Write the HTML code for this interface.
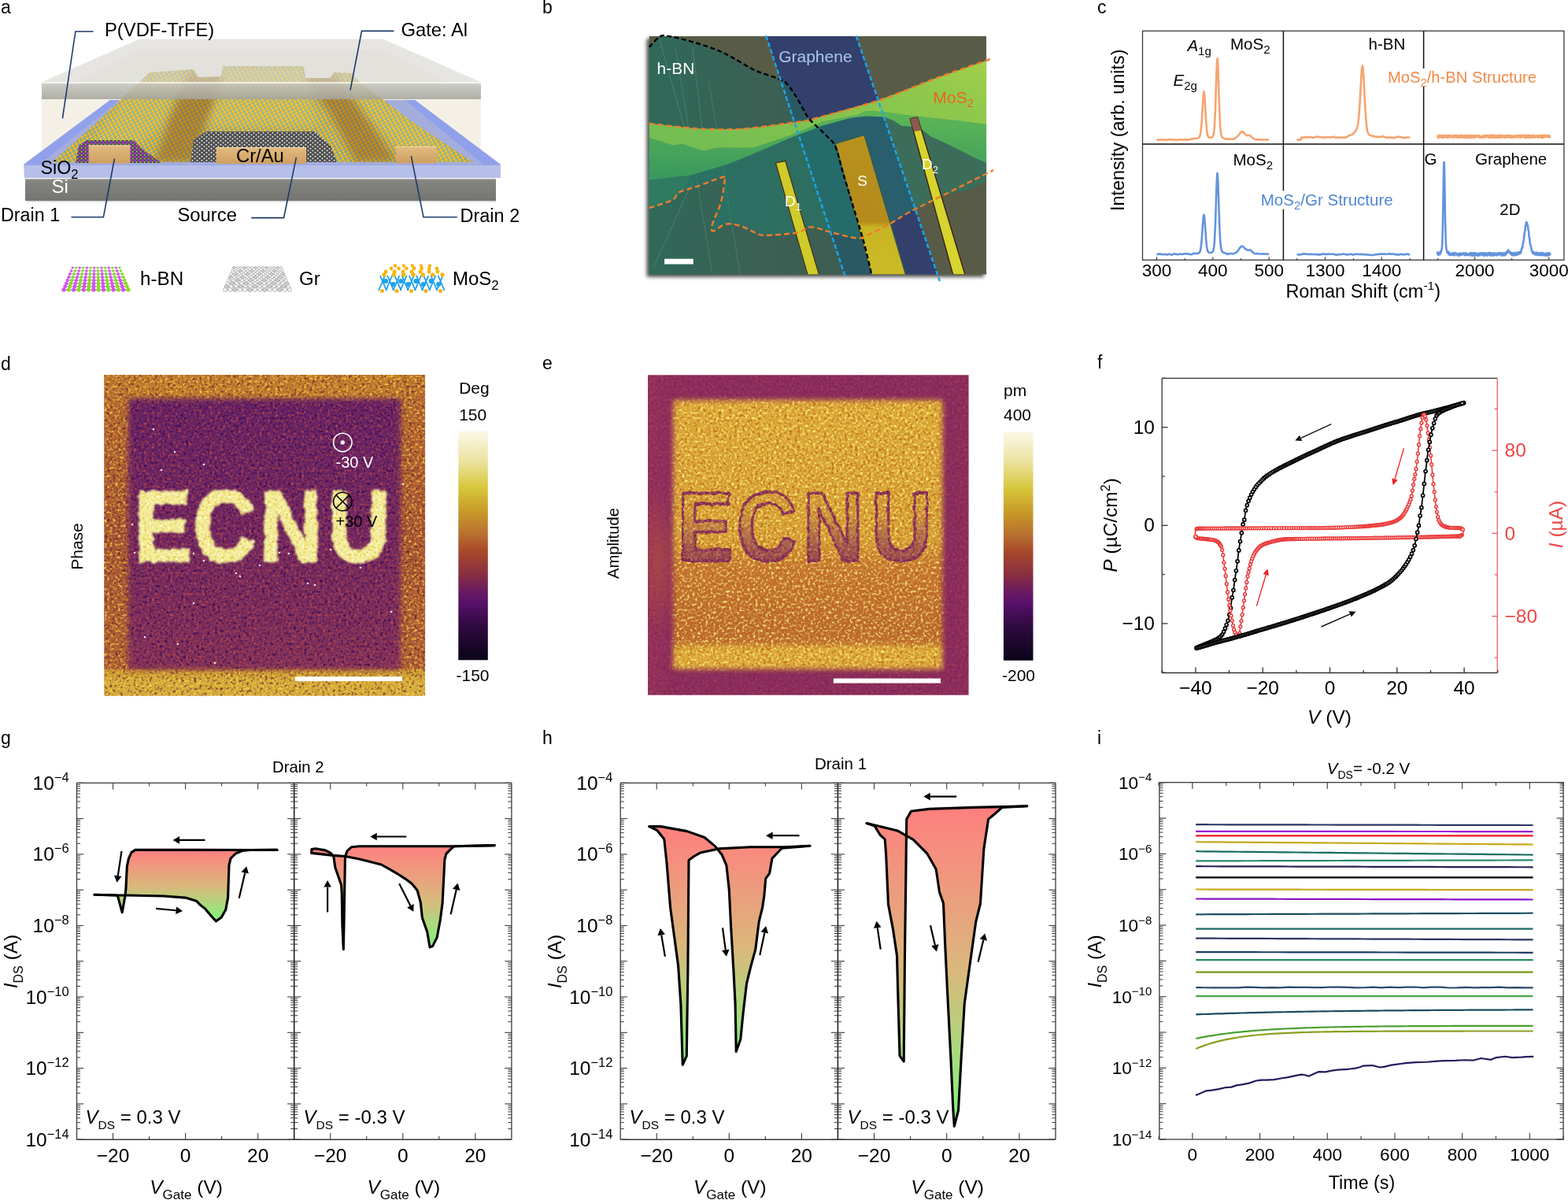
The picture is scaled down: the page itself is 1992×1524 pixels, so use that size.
<!DOCTYPE html>
<html><head><meta charset="utf-8"><title>Figure</title>
<style>html,body{margin:0;padding:0;background:#fff;}svg{display:block;}</style></head><body>
<svg xmlns="http://www.w3.org/2000/svg" width="1992" height="1524" viewBox="0 0 1992 1524" font-family="Liberation Sans, Arial, sans-serif">
<defs>
<pattern id="pmos" width="5" height="4.4" patternUnits="userSpaceOnUse" patternTransform="rotate(-28)">
<rect width="5" height="4.4" fill="#dea638"/>
<path d="M0 0 L2.5 2.2 L5 0 M2.5 2.2 L2.5 4.4 M0 4.4 L2.5 2.2 L5 4.4" stroke="#34aee4" stroke-width="0.6" fill="none"/>
<circle cx="0" cy="0" r="1.35" fill="#fcc61c"/><circle cx="5" cy="0" r="1.35" fill="#fcc61c"/><circle cx="0" cy="4.4" r="1.35" fill="#fcc61c"/><circle cx="5" cy="4.4" r="1.35" fill="#fcc61c"/>
<circle cx="2.5" cy="2.2" r="0.85" fill="#30b4ee"/>
</pattern>
<pattern id="pgr" width="6" height="5" patternUnits="userSpaceOnUse">
<rect width="6" height="5" fill="#4c4c4c"/>
<circle cx="1.5" cy="1.3" r="1.05" fill="#dedede"/><circle cx="4.5" cy="3.8" r="1.05" fill="#ececec"/>
</pattern>
<pattern id="pbn" width="5" height="4.5" patternUnits="userSpaceOnUse">
<rect width="5" height="4.5" fill="#5a3a6a"/>
<circle cx="1.2" cy="1.2" r="1.2" fill="#c43ee0"/><circle cx="3.7" cy="3.4" r="1.1" fill="#86d22e"/>
</pattern>
<linearGradient id="gGateF" x1="0" y1="0" x2="0" y2="1">
<stop offset="0" stop-color="#eeeeea"/><stop offset="0.12" stop-color="#c4c4c0"/><stop offset="1" stop-color="#a4a49c"/></linearGradient>
<linearGradient id="gSi" x1="0" y1="0" x2="0" y2="1">
<stop offset="0" stop-color="#d4d4d0"/><stop offset="0.08" stop-color="#858580"/><stop offset="1" stop-color="#65655f"/></linearGradient>
<linearGradient id="gElec" x1="0" y1="0" x2="0" y2="1">
<stop offset="0" stop-color="#e2bb82"/><stop offset="1" stop-color="#cf9f60"/></linearGradient>
<linearGradient id="gSiO2top" x1="0" y1="1" x2="1" y2="0">
<stop offset="0" stop-color="#8fa0ea"/><stop offset="1" stop-color="#7c88c8"/></linearGradient>
<filter id="fnoise" x="0" y="0" width="1" height="1">
<feTurbulence type="fractalNoise" baseFrequency="0.9" numOctaves="2" seed="3"/>
<feColorMatrix values="0 0 0 0 0.5  0 0 0 0 0.5  0 0 0 0 0.5  0 0 0 0.25 0"/>
<feComposite in2="SourceGraphic" operator="in"/>
<feBlend in2="SourceGraphic" mode="multiply"/></filter>
<filter id="fblur4" x="-20%" y="-20%" width="140%" height="140%"><feGaussianBlur stdDeviation="5"/></filter>
<clipPath id="cpMos"><path d="M66 206 L120 158 L190 92 L246 88 L252 98 L281 97 L283 84 L386 84 L388 99 L420 99 L424 92 L447 93 L452 100 L520 152 L601 206 Z"/></clipPath>
<clipPath id="cpB"><rect x="824.8" y="46" width="428.2" height="302.5"/></clipPath>
<filter id="fshadow" x="-10%" y="-10%" width="120%" height="120%">
<feGaussianBlur in="SourceAlpha" stdDeviation="2.5"/><feOffset dx="-3" dy="3" result="o"/>
<feComponentTransfer><feFuncA type="linear" slope="0.75"/></feComponentTransfer>
<feMerge><feMergeNode/><feMergeNode in="SourceGraphic"/></feMerge></filter>
<clipPath id="cpHBN"><path d="M815 40 C815.83 40 818.37 36.7 820 40 C821.63 43.3 821.78 58.72 824.8 59.8 C827.82 60.88 834.35 48.87 838.1 46.5 C841.85 44.13 841.53 44.82 847.3 45.6 C853.07 46.38 862.68 48.45 872.7 51.2 C882.72 53.95 897.77 58.45 907.4 62.1 C917.03 65.75 921.85 68.57 930.5 73.1 C939.15 77.63 949.68 84.87 959.3 89.3 C968.92 93.73 981.47 96.82 988.2 99.7 C994.93 102.58 995.85 102.77 999.7 106.6 C1003.55 110.43 1007.83 117.32 1011.3 122.7 C1014.77 128.08 1017.62 134.08 1020.5 138.9 C1023.38 143.72 1024.1 146.42 1028.6 151.6 C1033.1 156.78 1042.07 164.23 1047.5 170 C1052.93 175.77 1057.27 177.88 1061.2 186.2 C1065.13 194.52 1066.95 205.98 1071.1 219.9 C1075.25 233.82 1081.73 255.17 1086.1 269.7 C1090.47 284.23 1093.77 293.97 1097.3 307.1 C1100.83 320.23 1105.18 339.68 1107.3 348.5 C1109.42 357.32 1158.72 358.08 1110 360 C1061.28 361.92 864.17 360 815 360 Z"/></clipPath>
<linearGradient id="gHBN" x1="0" y1="0" x2="1" y2="0">
<stop offset="0" stop-color="#2d6a5a"/><stop offset="0.45" stop-color="#3b6054"/><stop offset="1" stop-color="#3f5c52"/></linearGradient>
<linearGradient id="gLG" x1="1" y1="0" x2="0" y2="0.6">
<stop offset="0" stop-color="#a4d04a"/><stop offset="0.3" stop-color="#90c84c"/><stop offset="1" stop-color="#74be52"/></linearGradient>
<linearGradient id="gMG" x1="0.7" y1="0" x2="0.5" y2="1">
<stop offset="0" stop-color="#5cb656"/><stop offset="1" stop-color="#3a9a5e"/></linearGradient>
<linearGradient id="gS" x1="0" y1="0" x2="0" y2="1">
<stop offset="0" stop-color="#b9921e"/><stop offset="0.62" stop-color="#b48a1c"/><stop offset="0.66" stop-color="#c8b424"/><stop offset="1" stop-color="#cbbb26"/></linearGradient>
<linearGradient id="gCmap" x1="0" y1="0" x2="0" y2="1"><stop offset="0.0" stop-color="#fbf8e8"/><stop offset="0.13" stop-color="#ece3a0"/><stop offset="0.25" stop-color="#d6c63a"/><stop offset="0.35" stop-color="#c89a28"/><stop offset="0.45" stop-color="#b87030"/><stop offset="0.52" stop-color="#a84a2a"/><stop offset="0.62" stop-color="#8a3040"/><stop offset="0.7" stop-color="#6a1a60"/><stop offset="0.75" stop-color="#58106a"/><stop offset="0.85" stop-color="#300a40"/><stop offset="1.0" stop-color="#0a0418"/></linearGradient>
<filter id="grDo" filterUnits="userSpaceOnUse" x="112.2" y="456" width="450" height="450" color-interpolation-filters="sRGB">
<feOffset in="SourceGraphic" dx="0" dy="0" result="base"/>
<feTurbulence type="fractalNoise" baseFrequency="0.3" numOctaves="2" seed="4" result="t"/>
<feColorMatrix in="t" type="matrix" values="0 0 0 0 0.38  0 0 0 0 0.1  0 0 0 0 0.2  -2.6 0 0 0 1.3" result="dk"/>
<feComposite in="dk" in2="base" operator="in" result="dk2"/>
<feColorMatrix in="t" type="matrix" values="0 0 0 0 1.0  0 0 0 0 0.85  0 0 0 0 0.3  0 2.8 0 0 -1.4" result="lt"/>
<feComposite in="lt" in2="base" operator="in" result="lt2"/>
<feMerge><feMergeNode in="base"/><feMergeNode in="dk2"/><feMergeNode in="lt2"/></feMerge></filter>
<filter id="grDi" filterUnits="userSpaceOnUse" x="112.2" y="456" width="450" height="450" color-interpolation-filters="sRGB">
<feGaussianBlur in="SourceGraphic" stdDeviation="3" result="base"/>
<feTurbulence type="fractalNoise" baseFrequency="0.3" numOctaves="2" seed="5" result="t"/>
<feColorMatrix in="t" type="matrix" values="0 0 0 0 0.2  0 0 0 0 0.03  0 0 0 0 0.32  -2.8 0 0 0 1.4" result="dk"/>
<feComposite in="dk" in2="base" operator="in" result="dk2"/>
<feColorMatrix in="t" type="matrix" values="0 0 0 0 0.78  0 0 0 0 0.32  0 0 0 0 0.28  0 2.4 0 0 -1.2" result="lt"/>
<feComposite in="lt" in2="base" operator="in" result="lt2"/>
<feMerge><feMergeNode in="base"/><feMergeNode in="dk2"/><feMergeNode in="lt2"/></feMerge></filter>
<filter id="grDl" filterUnits="userSpaceOnUse" x="112.2" y="456" width="450" height="450" color-interpolation-filters="sRGB">
<feTurbulence type="fractalNoise" baseFrequency="0.12" numOctaves="2" seed="57" result="dn"/><feDisplacementMap in="SourceGraphic" in2="dn" scale="7" xChannelSelector="R" yChannelSelector="G" result="dsp"/><feGaussianBlur in="dsp" stdDeviation="1.2" result="base"/>
<feTurbulence type="fractalNoise" baseFrequency="0.3" numOctaves="2" seed="7" result="t"/>
<feColorMatrix in="t" type="matrix" values="0 0 0 0 0.86  0 0 0 0 0.74  0 0 0 0 0.2  -3.0 0 0 0 1.5" result="dk"/>
<feComposite in="dk" in2="base" operator="in" result="dk2"/>
<feColorMatrix in="t" type="matrix" values="0 0 0 0 1.0  0 0 0 0 1.0  0 0 0 0 0.92  0 2.8 0 0 -1.4" result="lt"/>
<feComposite in="lt" in2="base" operator="in" result="lt2"/>
<feMerge><feMergeNode in="base"/><feMergeNode in="dk2"/><feMergeNode in="lt2"/></feMerge></filter>
<linearGradient id="gDout" x1="0" y1="0" x2="0" y2="1">
<stop offset="0" stop-color="#c07a2c"/><stop offset="0.12" stop-color="#b6682e"/><stop offset="0.5" stop-color="#a85432"/><stop offset="0.8" stop-color="#b05e32"/><stop offset="1" stop-color="#b06034"/></linearGradient>
<linearGradient id="gDbot" x1="0" y1="0" x2="0" y2="1">
<stop offset="0" stop-color="#c8902e"/><stop offset="0.35" stop-color="#d6ae3a"/><stop offset="1" stop-color="#d4aa38"/></linearGradient>
<linearGradient id="gDin" x1="0" y1="0" x2="0" y2="1">
<stop offset="0" stop-color="#662266"/><stop offset="0.5" stop-color="#722862"/><stop offset="1" stop-color="#82325a"/></linearGradient>
<clipPath id="cpD"><rect x="132.2" y="476" width="407.9" height="407.8"/></clipPath>
<filter id="grEo" filterUnits="userSpaceOnUse" x="803" y="456.2" width="450" height="450" color-interpolation-filters="sRGB">
<feOffset in="SourceGraphic" dx="0" dy="0" result="base"/>
<feTurbulence type="fractalNoise" baseFrequency="0.3" numOctaves="2" seed="9" result="t"/>
<feColorMatrix in="t" type="matrix" values="0 0 0 0 0.42  0 0 0 0 0.1  0 0 0 0 0.3  -1.6 0 0 0 0.8" result="dk"/>
<feComposite in="dk" in2="base" operator="in" result="dk2"/>
<feColorMatrix in="t" type="matrix" values="0 0 0 0 0.74  0 0 0 0 0.28  0 0 0 0 0.38  0 1.6 0 0 -0.8" result="lt"/>
<feComposite in="lt" in2="base" operator="in" result="lt2"/>
<feMerge><feMergeNode in="base"/><feMergeNode in="dk2"/><feMergeNode in="lt2"/></feMerge></filter>
<filter id="grEi" filterUnits="userSpaceOnUse" x="803" y="456.2" width="450" height="450" color-interpolation-filters="sRGB">
<feGaussianBlur in="SourceGraphic" stdDeviation="3" result="base"/>
<feTurbulence type="fractalNoise" baseFrequency="0.3" numOctaves="2" seed="10" result="t"/>
<feColorMatrix in="t" type="matrix" values="0 0 0 0 0.72  0 0 0 0 0.36  0 0 0 0 0.1  -2.8 0 0 0 1.4" result="dk"/>
<feComposite in="dk" in2="base" operator="in" result="dk2"/>
<feColorMatrix in="t" type="matrix" values="0 0 0 0 1.0  0 0 0 0 0.96  0 0 0 0 0.52  0 2.9 0 0 -1.45" result="lt"/>
<feComposite in="lt" in2="base" operator="in" result="lt2"/>
<feMerge><feMergeNode in="base"/><feMergeNode in="dk2"/><feMergeNode in="lt2"/></feMerge></filter>
<filter id="grEl" filterUnits="userSpaceOnUse" x="803" y="456.2" width="450" height="450" color-interpolation-filters="sRGB">
<feTurbulence type="fractalNoise" baseFrequency="0.12" numOctaves="2" seed="62" result="dn"/><feDisplacementMap in="SourceGraphic" in2="dn" scale="4" xChannelSelector="R" yChannelSelector="G" result="dsp"/><feGaussianBlur in="dsp" stdDeviation="0.7" result="base"/>
<feTurbulence type="fractalNoise" baseFrequency="0.3" numOctaves="2" seed="12" result="t"/>
<feColorMatrix in="t" type="matrix" values="0 0 0 0 0.4  0 0 0 0 0.08  0 0 0 0 0.3  -2.0 0 0 0 1" result="dk"/>
<feComposite in="dk" in2="base" operator="in" result="dk2"/>
<feColorMatrix in="t" type="matrix" values="0 0 0 0 0.95  0 0 0 0 0.75  0 0 0 0 0.3  0 2.0 0 0 -1" result="lt"/>
<feComposite in="lt" in2="base" operator="in" result="lt2"/>
<feMerge><feMergeNode in="base"/><feMergeNode in="dk2"/><feMergeNode in="lt2"/></feMerge></filter>
<clipPath id="cpE"><rect x="823" y="476.2" width="407.6" height="406.5"/></clipPath>
<linearGradient id="gEin" x1="0" y1="0" x2="0" y2="1">
<stop offset="0" stop-color="#dcaa36"/><stop offset="0.52" stop-color="#d6a034"/><stop offset="0.62" stop-color="#c67630"/>
<stop offset="0.85" stop-color="#bc6a2e"/><stop offset="1" stop-color="#c4782e"/></linearGradient>
<linearGradient id="gEout" x1="0" y1="0" x2="1" y2="0">
<stop offset="0" stop-color="#983458"/><stop offset="0.1" stop-color="#8c2d5c"/><stop offset="0.9" stop-color="#8a2c5c"/><stop offset="1" stop-color="#8e2e5a"/></linearGradient>
<radialGradient id="gEleft" cx="0.5" cy="0.5" r="0.5">
<stop offset="0" stop-color="#b8583a" stop-opacity="0.55"/><stop offset="1" stop-color="#b8583a" stop-opacity="0"/></radialGradient>
<linearGradient id="gLetE" x1="0" y1="0" x2="0" y2="1">
<stop offset="0" stop-color="#7a2060" stop-opacity="0"/><stop offset="0.38" stop-color="#7a2060" stop-opacity="0.08"/>
<stop offset="0.7" stop-color="#7a2060" stop-opacity="0.6"/><stop offset="1" stop-color="#7a2060" stop-opacity="0.85"/></linearGradient>
<linearGradient id="gRG" x1="0" y1="0" x2="0" y2="1">
<stop offset="0" stop-color="#ff7f7f"/><stop offset="0.5" stop-color="#dcb67c"/><stop offset="1" stop-color="#7ff87c"/></linearGradient>
</defs>
<rect width="1992" height="1524" fill="#fff"/>
<text x="1" y="17" font-size="23" text-anchor="start" fill="#000" >a</text>
<text x="689" y="17" font-size="23" text-anchor="start" fill="#000" >b</text>
<text x="1394" y="17" font-size="23" text-anchor="start" fill="#000" >c</text>
<text x="1" y="470" font-size="23" text-anchor="start" fill="#000" >d</text>
<text x="689" y="469" font-size="23" text-anchor="start" fill="#000" >e</text>
<text x="1394" y="468" font-size="23" text-anchor="start" fill="#000" >f</text>
<text x="1" y="945" font-size="23" text-anchor="start" fill="#000" >g</text>
<text x="689" y="945" font-size="23" text-anchor="start" fill="#000" >h</text>
<text x="1394" y="945" font-size="23" text-anchor="start" fill="#000" >i</text>
<path d="M53 105 L177 50 L487 50 L611 105 L611 209 L53 209 Z" fill="#f4f0e6" stroke="none" stroke-width="1" />
<path d="M98 104 L177 63 L487 63 L566 104 Z" fill="#e9e6dc" stroke="none" stroke-width="1" />
<path d="M30 209 L140 127 L527 127 L636 209 Z" fill="#a4addc" stroke="none" stroke-width="1" />
<path d="M30 209 L140 127 L152 127 L50 209 Z" fill="#8e9eec" stroke="none" stroke-width="1" opacity="0.9"/>
<path d="M636 209 L527 127 L515 127 L614 209 Z" fill="#8e9eec" stroke="none" stroke-width="1" opacity="0.9"/>
<path d="M30 209 L636 209 L636 226 L31 226 Z" fill="#b6bfe8" stroke="none" stroke-width="1" />
<line x1="31" y1="209.5" x2="636" y2="209.5" stroke="#9aa8e8" stroke-width="1" />
<rect x="32" y="227" width="598" height="28" fill="url(#gSi)" stroke="none" stroke-width="1" />
<rect x="32" y="227" width="598" height="28" fill="#888" filter="url(#fnoise)" opacity="0.5"/>
<line x1="34" y1="256" x2="630" y2="256" stroke="#d6d6d6" stroke-width="1.5" />
<path d="M66 206 L120 158 L190 92 L246 88 L252 98 L281 97 L283 84 L386 84 L388 99 L420 99 L424 92 L447 93 L452 100 L520 152 L601 206 Z" fill="url(#pmos)" stroke="none" stroke-width="1" />
<g clip-path="url(#cpMos)">
<path d="M240 92 L284 98 L268 140 L245 206 L196 206 L218 145 Z" fill="#8a4808" stroke="none" stroke-width="1" opacity="0.42" filter="url(#fblur4)"/>
<path d="M388 98 L424 95 L458 140 L505 206 L452 206 L420 145 Z" fill="#8a4808" stroke="none" stroke-width="1" opacity="0.42" filter="url(#fblur4)"/>
<path d="M286 86 L384 86 L405 160 L262 160 Z" fill="#f4e070" stroke="none" stroke-width="1" opacity="0.22" filter="url(#fblur4)"/>
<path d="M150 130 L200 95 L236 95 L205 160 L150 206 L100 206 Z" fill="#f4e070" stroke="none" stroke-width="1" opacity="0.18" filter="url(#fblur4)"/>
<path d="M430 96 L450 96 L540 160 L590 206 L520 206 L470 150 Z" fill="#f4e070" stroke="none" stroke-width="1" opacity="0.18" filter="url(#fblur4)"/>
</g>
<path d="M96 207 L100 185 L110 178 L170 178 L182 190 L205 207 Z" fill="url(#pbn)" stroke="none" stroke-width="1" />
<path d="M242 206 L246 178 L262 167 L400 167 L420 185 L428 206 Z" fill="url(#pgr)" stroke="none" stroke-width="1" />
<rect x="112.6" y="184.5" width="52.9" height="23" fill="url(#gElec)" stroke="none" stroke-width="1" />
<line x1="112.6" y1="185" x2="165.5" y2="185" stroke="#f0d8a8" stroke-width="1" />
<rect x="274.8" y="187" width="114.2" height="21" fill="url(#gElec)" stroke="none" stroke-width="1" />
<line x1="274.8" y1="187.5" x2="389" y2="187.5" stroke="#f0d8a8" stroke-width="1" />
<rect x="503" y="186" width="51.5" height="21.5" fill="url(#gElec)" stroke="none" stroke-width="1" />
<line x1="503" y1="186.5" x2="554.5" y2="186.5" stroke="#f0d8a8" stroke-width="1" />
<path d="M53 104 L177 49.6 L487 49.6 L611 104 Z" fill="#dcdcdc" stroke="none" stroke-width="1" opacity="0.55"/>
<rect x="53" y="104.5" width="558" height="21.5" fill="url(#gGateF)" stroke="none" stroke-width="1" opacity="0.86"/>
<line x1="53" y1="105" x2="611" y2="105" stroke="#f6f6f2" stroke-width="1.5" />
<text x="133" y="46" font-size="23.8" text-anchor="start" fill="#000" >P(VDF-TrFE)</text>
<text x="509.5" y="46" font-size="23.8" text-anchor="start" fill="#000" >Gate: Al</text>
<text x="300" y="206" font-size="23.8" text-anchor="start" fill="#000" >Cr/Au</text>
<text x="51.5" y="220.5" font-size="23.3" text-anchor="start" fill="#000" >SiO<tspan font-size="16.5" dy="6">2</tspan></text>
<text x="65.5" y="245" font-size="24" text-anchor="start" fill="#fff" >Si</text>
<text x="1" y="281" font-size="23.3" text-anchor="start" fill="#000" >Drain 1</text>
<text x="225.5" y="281" font-size="23.8" text-anchor="start" fill="#000" >Source</text>
<text x="584.5" y="282" font-size="23.5" text-anchor="start" fill="#000" >Drain 2</text>
<path d="M118.6 40 L95.9 40 L79.4 150.3" fill="none" stroke="#1f3a68" stroke-width="1.6" />
<path d="M500.4 39.4 L459.5 39.4 L445 114.5" fill="none" stroke="#1f3a68" stroke-width="1.6" />
<path d="M90.5 275.8 L131.4 275.8 L145.4 201.5" fill="none" stroke="#1f3a68" stroke-width="1.6" />
<path d="M319.2 276.6 L360.5 276.6 L376.4 199.8" fill="none" stroke="#1f3a68" stroke-width="1.6" />
<path d="M522.3 198.1 L538 275.8 L580.7 275.8" fill="none" stroke="#1f3a68" stroke-width="1.6" />
<g><line x1="92" y1="340" x2="152" y2="340" stroke="#a060b0" stroke-width="0.5"/><circle cx="92" cy="340" r="1.6" fill="#d452ee"/><circle cx="96.62" cy="340" r="1.6" fill="#86dc22"/><circle cx="101.23" cy="340" r="1.6" fill="#d452ee"/><circle cx="105.85" cy="340" r="1.6" fill="#86dc22"/><circle cx="110.46" cy="340" r="1.6" fill="#d452ee"/><circle cx="115.08" cy="340" r="1.6" fill="#86dc22"/><circle cx="119.69" cy="340" r="1.6" fill="#d452ee"/><circle cx="124.31" cy="340" r="1.6" fill="#86dc22"/><circle cx="128.92" cy="340" r="1.6" fill="#d452ee"/><circle cx="133.54" cy="340" r="1.6" fill="#86dc22"/><circle cx="138.15" cy="340" r="1.6" fill="#d452ee"/><circle cx="142.77" cy="340" r="1.6" fill="#86dc22"/><circle cx="147.38" cy="340" r="1.6" fill="#d452ee"/><circle cx="152" cy="340" r="1.6" fill="#86dc22"/><line x1="90.43" y1="344" x2="153.57" y2="344" stroke="#a060b0" stroke-width="0.59"/><circle cx="90.43" cy="344" r="1.74" fill="#d452ee"/><circle cx="95.29" cy="344" r="1.74" fill="#86dc22"/><circle cx="100.14" cy="344" r="1.74" fill="#d452ee"/><circle cx="105" cy="344" r="1.74" fill="#86dc22"/><circle cx="109.86" cy="344" r="1.74" fill="#d452ee"/><circle cx="114.71" cy="344" r="1.74" fill="#86dc22"/><circle cx="119.57" cy="344" r="1.74" fill="#d452ee"/><circle cx="124.43" cy="344" r="1.74" fill="#86dc22"/><circle cx="129.29" cy="344" r="1.74" fill="#d452ee"/><circle cx="134.14" cy="344" r="1.74" fill="#86dc22"/><circle cx="139" cy="344" r="1.74" fill="#d452ee"/><circle cx="143.86" cy="344" r="1.74" fill="#86dc22"/><circle cx="148.71" cy="344" r="1.74" fill="#d452ee"/><circle cx="153.57" cy="344" r="1.74" fill="#86dc22"/><line x1="88.86" y1="348" x2="155.14" y2="348" stroke="#a060b0" stroke-width="0.67"/><circle cx="88.86" cy="348" r="1.89" fill="#d452ee"/><circle cx="93.96" cy="348" r="1.89" fill="#86dc22"/><circle cx="99.05" cy="348" r="1.89" fill="#d452ee"/><circle cx="104.15" cy="348" r="1.89" fill="#86dc22"/><circle cx="109.25" cy="348" r="1.89" fill="#d452ee"/><circle cx="114.35" cy="348" r="1.89" fill="#86dc22"/><circle cx="119.45" cy="348" r="1.89" fill="#d452ee"/><circle cx="124.55" cy="348" r="1.89" fill="#86dc22"/><circle cx="129.65" cy="348" r="1.89" fill="#d452ee"/><circle cx="134.75" cy="348" r="1.89" fill="#86dc22"/><circle cx="139.85" cy="348" r="1.89" fill="#d452ee"/><circle cx="144.95" cy="348" r="1.89" fill="#86dc22"/><circle cx="150.04" cy="348" r="1.89" fill="#d452ee"/><circle cx="155.14" cy="348" r="1.89" fill="#86dc22"/><line x1="87.29" y1="352" x2="156.71" y2="352" stroke="#a060b0" stroke-width="0.76"/><circle cx="87.29" cy="352" r="2.03" fill="#d452ee"/><circle cx="92.63" cy="352" r="2.03" fill="#86dc22"/><circle cx="97.97" cy="352" r="2.03" fill="#d452ee"/><circle cx="103.31" cy="352" r="2.03" fill="#86dc22"/><circle cx="108.65" cy="352" r="2.03" fill="#d452ee"/><circle cx="113.99" cy="352" r="2.03" fill="#86dc22"/><circle cx="119.33" cy="352" r="2.03" fill="#d452ee"/><circle cx="124.67" cy="352" r="2.03" fill="#86dc22"/><circle cx="130.01" cy="352" r="2.03" fill="#d452ee"/><circle cx="135.35" cy="352" r="2.03" fill="#86dc22"/><circle cx="140.69" cy="352" r="2.03" fill="#d452ee"/><circle cx="146.03" cy="352" r="2.03" fill="#86dc22"/><circle cx="151.37" cy="352" r="2.03" fill="#d452ee"/><circle cx="156.71" cy="352" r="2.03" fill="#86dc22"/><line x1="85.71" y1="356" x2="158.29" y2="356" stroke="#a060b0" stroke-width="0.84"/><circle cx="85.71" cy="356" r="2.17" fill="#d452ee"/><circle cx="91.3" cy="356" r="2.17" fill="#86dc22"/><circle cx="96.88" cy="356" r="2.17" fill="#d452ee"/><circle cx="102.46" cy="356" r="2.17" fill="#86dc22"/><circle cx="108.04" cy="356" r="2.17" fill="#d452ee"/><circle cx="113.63" cy="356" r="2.17" fill="#86dc22"/><circle cx="119.21" cy="356" r="2.17" fill="#d452ee"/><circle cx="124.79" cy="356" r="2.17" fill="#86dc22"/><circle cx="130.37" cy="356" r="2.17" fill="#d452ee"/><circle cx="135.96" cy="356" r="2.17" fill="#86dc22"/><circle cx="141.54" cy="356" r="2.17" fill="#d452ee"/><circle cx="147.12" cy="356" r="2.17" fill="#86dc22"/><circle cx="152.7" cy="356" r="2.17" fill="#d452ee"/><circle cx="158.29" cy="356" r="2.17" fill="#86dc22"/><line x1="84.14" y1="360" x2="159.86" y2="360" stroke="#a060b0" stroke-width="0.93"/><circle cx="84.14" cy="360" r="2.31" fill="#d452ee"/><circle cx="89.97" cy="360" r="2.31" fill="#86dc22"/><circle cx="95.79" cy="360" r="2.31" fill="#d452ee"/><circle cx="101.62" cy="360" r="2.31" fill="#86dc22"/><circle cx="107.44" cy="360" r="2.31" fill="#d452ee"/><circle cx="113.26" cy="360" r="2.31" fill="#86dc22"/><circle cx="119.09" cy="360" r="2.31" fill="#d452ee"/><circle cx="124.91" cy="360" r="2.31" fill="#86dc22"/><circle cx="130.74" cy="360" r="2.31" fill="#d452ee"/><circle cx="136.56" cy="360" r="2.31" fill="#86dc22"/><circle cx="142.38" cy="360" r="2.31" fill="#d452ee"/><circle cx="148.21" cy="360" r="2.31" fill="#86dc22"/><circle cx="154.03" cy="360" r="2.31" fill="#d452ee"/><circle cx="159.86" cy="360" r="2.31" fill="#86dc22"/><line x1="82.57" y1="364" x2="161.43" y2="364" stroke="#a060b0" stroke-width="1.01"/><circle cx="82.57" cy="364" r="2.46" fill="#d452ee"/><circle cx="88.64" cy="364" r="2.46" fill="#86dc22"/><circle cx="94.7" cy="364" r="2.46" fill="#d452ee"/><circle cx="100.77" cy="364" r="2.46" fill="#86dc22"/><circle cx="106.84" cy="364" r="2.46" fill="#d452ee"/><circle cx="112.9" cy="364" r="2.46" fill="#86dc22"/><circle cx="118.97" cy="364" r="2.46" fill="#d452ee"/><circle cx="125.03" cy="364" r="2.46" fill="#86dc22"/><circle cx="131.1" cy="364" r="2.46" fill="#d452ee"/><circle cx="137.16" cy="364" r="2.46" fill="#86dc22"/><circle cx="143.23" cy="364" r="2.46" fill="#d452ee"/><circle cx="149.3" cy="364" r="2.46" fill="#86dc22"/><circle cx="155.36" cy="364" r="2.46" fill="#d452ee"/><circle cx="161.43" cy="364" r="2.46" fill="#86dc22"/><line x1="81" y1="368" x2="163" y2="368" stroke="#a060b0" stroke-width="1.1"/><circle cx="81" cy="368" r="2.6" fill="#d452ee"/><circle cx="87.31" cy="368" r="2.6" fill="#86dc22"/><circle cx="93.62" cy="368" r="2.6" fill="#d452ee"/><circle cx="99.92" cy="368" r="2.6" fill="#86dc22"/><circle cx="106.23" cy="368" r="2.6" fill="#d452ee"/><circle cx="112.54" cy="368" r="2.6" fill="#86dc22"/><circle cx="118.85" cy="368" r="2.6" fill="#d452ee"/><circle cx="125.15" cy="368" r="2.6" fill="#86dc22"/><circle cx="131.46" cy="368" r="2.6" fill="#d452ee"/><circle cx="137.77" cy="368" r="2.6" fill="#86dc22"/><circle cx="144.08" cy="368" r="2.6" fill="#d452ee"/><circle cx="150.38" cy="368" r="2.6" fill="#86dc22"/><circle cx="156.69" cy="368" r="2.6" fill="#d452ee"/><circle cx="163" cy="368" r="2.6" fill="#86dc22"/></g>
<g><line x1="297" y1="340" x2="357" y2="340" stroke="#777" stroke-width="0.5"/><circle cx="297" cy="340" r="1.6" fill="#d0d0d0" stroke="#8a8a8a" stroke-width="0.5"/><circle cx="301.62" cy="340" r="1.6" fill="#f4f4f4" stroke="#8a8a8a" stroke-width="0.5"/><circle cx="306.23" cy="340" r="1.6" fill="#f4f4f4" stroke="#8a8a8a" stroke-width="0.5"/><circle cx="310.85" cy="340" r="1.6" fill="#d0d0d0" stroke="#8a8a8a" stroke-width="0.5"/><circle cx="315.46" cy="340" r="1.6" fill="#f4f4f4" stroke="#8a8a8a" stroke-width="0.5"/><circle cx="320.08" cy="340" r="1.6" fill="#f4f4f4" stroke="#8a8a8a" stroke-width="0.5"/><circle cx="324.69" cy="340" r="1.6" fill="#d0d0d0" stroke="#8a8a8a" stroke-width="0.5"/><circle cx="329.31" cy="340" r="1.6" fill="#f4f4f4" stroke="#8a8a8a" stroke-width="0.5"/><circle cx="333.92" cy="340" r="1.6" fill="#f4f4f4" stroke="#8a8a8a" stroke-width="0.5"/><circle cx="338.54" cy="340" r="1.6" fill="#d0d0d0" stroke="#8a8a8a" stroke-width="0.5"/><circle cx="343.15" cy="340" r="1.6" fill="#f4f4f4" stroke="#8a8a8a" stroke-width="0.5"/><circle cx="347.77" cy="340" r="1.6" fill="#f4f4f4" stroke="#8a8a8a" stroke-width="0.5"/><circle cx="352.38" cy="340" r="1.6" fill="#d0d0d0" stroke="#8a8a8a" stroke-width="0.5"/><circle cx="357" cy="340" r="1.6" fill="#f4f4f4" stroke="#8a8a8a" stroke-width="0.5"/><line x1="295.43" y1="344" x2="358.57" y2="344" stroke="#777" stroke-width="0.59"/><circle cx="295.43" cy="344" r="1.74" fill="#f4f4f4" stroke="#8a8a8a" stroke-width="0.5"/><circle cx="300.29" cy="344" r="1.74" fill="#f4f4f4" stroke="#8a8a8a" stroke-width="0.5"/><circle cx="305.14" cy="344" r="1.74" fill="#d0d0d0" stroke="#8a8a8a" stroke-width="0.5"/><circle cx="310" cy="344" r="1.74" fill="#f4f4f4" stroke="#8a8a8a" stroke-width="0.5"/><circle cx="314.86" cy="344" r="1.74" fill="#f4f4f4" stroke="#8a8a8a" stroke-width="0.5"/><circle cx="319.71" cy="344" r="1.74" fill="#d0d0d0" stroke="#8a8a8a" stroke-width="0.5"/><circle cx="324.57" cy="344" r="1.74" fill="#f4f4f4" stroke="#8a8a8a" stroke-width="0.5"/><circle cx="329.43" cy="344" r="1.74" fill="#f4f4f4" stroke="#8a8a8a" stroke-width="0.5"/><circle cx="334.29" cy="344" r="1.74" fill="#d0d0d0" stroke="#8a8a8a" stroke-width="0.5"/><circle cx="339.14" cy="344" r="1.74" fill="#f4f4f4" stroke="#8a8a8a" stroke-width="0.5"/><circle cx="344" cy="344" r="1.74" fill="#f4f4f4" stroke="#8a8a8a" stroke-width="0.5"/><circle cx="348.86" cy="344" r="1.74" fill="#d0d0d0" stroke="#8a8a8a" stroke-width="0.5"/><circle cx="353.71" cy="344" r="1.74" fill="#f4f4f4" stroke="#8a8a8a" stroke-width="0.5"/><circle cx="358.57" cy="344" r="1.74" fill="#f4f4f4" stroke="#8a8a8a" stroke-width="0.5"/><line x1="293.86" y1="348" x2="360.14" y2="348" stroke="#777" stroke-width="0.67"/><circle cx="293.86" cy="348" r="1.89" fill="#f4f4f4" stroke="#8a8a8a" stroke-width="0.5"/><circle cx="298.96" cy="348" r="1.89" fill="#d0d0d0" stroke="#8a8a8a" stroke-width="0.5"/><circle cx="304.05" cy="348" r="1.89" fill="#f4f4f4" stroke="#8a8a8a" stroke-width="0.5"/><circle cx="309.15" cy="348" r="1.89" fill="#f4f4f4" stroke="#8a8a8a" stroke-width="0.5"/><circle cx="314.25" cy="348" r="1.89" fill="#d0d0d0" stroke="#8a8a8a" stroke-width="0.5"/><circle cx="319.35" cy="348" r="1.89" fill="#f4f4f4" stroke="#8a8a8a" stroke-width="0.5"/><circle cx="324.45" cy="348" r="1.89" fill="#f4f4f4" stroke="#8a8a8a" stroke-width="0.5"/><circle cx="329.55" cy="348" r="1.89" fill="#d0d0d0" stroke="#8a8a8a" stroke-width="0.5"/><circle cx="334.65" cy="348" r="1.89" fill="#f4f4f4" stroke="#8a8a8a" stroke-width="0.5"/><circle cx="339.75" cy="348" r="1.89" fill="#f4f4f4" stroke="#8a8a8a" stroke-width="0.5"/><circle cx="344.85" cy="348" r="1.89" fill="#d0d0d0" stroke="#8a8a8a" stroke-width="0.5"/><circle cx="349.95" cy="348" r="1.89" fill="#f4f4f4" stroke="#8a8a8a" stroke-width="0.5"/><circle cx="355.04" cy="348" r="1.89" fill="#f4f4f4" stroke="#8a8a8a" stroke-width="0.5"/><circle cx="360.14" cy="348" r="1.89" fill="#d0d0d0" stroke="#8a8a8a" stroke-width="0.5"/><line x1="292.29" y1="352" x2="361.71" y2="352" stroke="#777" stroke-width="0.76"/><circle cx="292.29" cy="352" r="2.03" fill="#d0d0d0" stroke="#8a8a8a" stroke-width="0.5"/><circle cx="297.63" cy="352" r="2.03" fill="#f4f4f4" stroke="#8a8a8a" stroke-width="0.5"/><circle cx="302.97" cy="352" r="2.03" fill="#f4f4f4" stroke="#8a8a8a" stroke-width="0.5"/><circle cx="308.31" cy="352" r="2.03" fill="#d0d0d0" stroke="#8a8a8a" stroke-width="0.5"/><circle cx="313.65" cy="352" r="2.03" fill="#f4f4f4" stroke="#8a8a8a" stroke-width="0.5"/><circle cx="318.99" cy="352" r="2.03" fill="#f4f4f4" stroke="#8a8a8a" stroke-width="0.5"/><circle cx="324.33" cy="352" r="2.03" fill="#d0d0d0" stroke="#8a8a8a" stroke-width="0.5"/><circle cx="329.67" cy="352" r="2.03" fill="#f4f4f4" stroke="#8a8a8a" stroke-width="0.5"/><circle cx="335.01" cy="352" r="2.03" fill="#f4f4f4" stroke="#8a8a8a" stroke-width="0.5"/><circle cx="340.35" cy="352" r="2.03" fill="#d0d0d0" stroke="#8a8a8a" stroke-width="0.5"/><circle cx="345.69" cy="352" r="2.03" fill="#f4f4f4" stroke="#8a8a8a" stroke-width="0.5"/><circle cx="351.03" cy="352" r="2.03" fill="#f4f4f4" stroke="#8a8a8a" stroke-width="0.5"/><circle cx="356.37" cy="352" r="2.03" fill="#d0d0d0" stroke="#8a8a8a" stroke-width="0.5"/><circle cx="361.71" cy="352" r="2.03" fill="#f4f4f4" stroke="#8a8a8a" stroke-width="0.5"/><line x1="290.71" y1="356" x2="363.29" y2="356" stroke="#777" stroke-width="0.84"/><circle cx="290.71" cy="356" r="2.17" fill="#f4f4f4" stroke="#8a8a8a" stroke-width="0.5"/><circle cx="296.3" cy="356" r="2.17" fill="#f4f4f4" stroke="#8a8a8a" stroke-width="0.5"/><circle cx="301.88" cy="356" r="2.17" fill="#d0d0d0" stroke="#8a8a8a" stroke-width="0.5"/><circle cx="307.46" cy="356" r="2.17" fill="#f4f4f4" stroke="#8a8a8a" stroke-width="0.5"/><circle cx="313.04" cy="356" r="2.17" fill="#f4f4f4" stroke="#8a8a8a" stroke-width="0.5"/><circle cx="318.63" cy="356" r="2.17" fill="#d0d0d0" stroke="#8a8a8a" stroke-width="0.5"/><circle cx="324.21" cy="356" r="2.17" fill="#f4f4f4" stroke="#8a8a8a" stroke-width="0.5"/><circle cx="329.79" cy="356" r="2.17" fill="#f4f4f4" stroke="#8a8a8a" stroke-width="0.5"/><circle cx="335.37" cy="356" r="2.17" fill="#d0d0d0" stroke="#8a8a8a" stroke-width="0.5"/><circle cx="340.96" cy="356" r="2.17" fill="#f4f4f4" stroke="#8a8a8a" stroke-width="0.5"/><circle cx="346.54" cy="356" r="2.17" fill="#f4f4f4" stroke="#8a8a8a" stroke-width="0.5"/><circle cx="352.12" cy="356" r="2.17" fill="#d0d0d0" stroke="#8a8a8a" stroke-width="0.5"/><circle cx="357.7" cy="356" r="2.17" fill="#f4f4f4" stroke="#8a8a8a" stroke-width="0.5"/><circle cx="363.29" cy="356" r="2.17" fill="#f4f4f4" stroke="#8a8a8a" stroke-width="0.5"/><line x1="289.14" y1="360" x2="364.86" y2="360" stroke="#777" stroke-width="0.93"/><circle cx="289.14" cy="360" r="2.31" fill="#f4f4f4" stroke="#8a8a8a" stroke-width="0.5"/><circle cx="294.97" cy="360" r="2.31" fill="#d0d0d0" stroke="#8a8a8a" stroke-width="0.5"/><circle cx="300.79" cy="360" r="2.31" fill="#f4f4f4" stroke="#8a8a8a" stroke-width="0.5"/><circle cx="306.62" cy="360" r="2.31" fill="#f4f4f4" stroke="#8a8a8a" stroke-width="0.5"/><circle cx="312.44" cy="360" r="2.31" fill="#d0d0d0" stroke="#8a8a8a" stroke-width="0.5"/><circle cx="318.26" cy="360" r="2.31" fill="#f4f4f4" stroke="#8a8a8a" stroke-width="0.5"/><circle cx="324.09" cy="360" r="2.31" fill="#f4f4f4" stroke="#8a8a8a" stroke-width="0.5"/><circle cx="329.91" cy="360" r="2.31" fill="#d0d0d0" stroke="#8a8a8a" stroke-width="0.5"/><circle cx="335.74" cy="360" r="2.31" fill="#f4f4f4" stroke="#8a8a8a" stroke-width="0.5"/><circle cx="341.56" cy="360" r="2.31" fill="#f4f4f4" stroke="#8a8a8a" stroke-width="0.5"/><circle cx="347.38" cy="360" r="2.31" fill="#d0d0d0" stroke="#8a8a8a" stroke-width="0.5"/><circle cx="353.21" cy="360" r="2.31" fill="#f4f4f4" stroke="#8a8a8a" stroke-width="0.5"/><circle cx="359.03" cy="360" r="2.31" fill="#f4f4f4" stroke="#8a8a8a" stroke-width="0.5"/><circle cx="364.86" cy="360" r="2.31" fill="#d0d0d0" stroke="#8a8a8a" stroke-width="0.5"/><line x1="287.57" y1="364" x2="366.43" y2="364" stroke="#777" stroke-width="1.01"/><circle cx="287.57" cy="364" r="2.46" fill="#d0d0d0" stroke="#8a8a8a" stroke-width="0.5"/><circle cx="293.64" cy="364" r="2.46" fill="#f4f4f4" stroke="#8a8a8a" stroke-width="0.5"/><circle cx="299.7" cy="364" r="2.46" fill="#f4f4f4" stroke="#8a8a8a" stroke-width="0.5"/><circle cx="305.77" cy="364" r="2.46" fill="#d0d0d0" stroke="#8a8a8a" stroke-width="0.5"/><circle cx="311.84" cy="364" r="2.46" fill="#f4f4f4" stroke="#8a8a8a" stroke-width="0.5"/><circle cx="317.9" cy="364" r="2.46" fill="#f4f4f4" stroke="#8a8a8a" stroke-width="0.5"/><circle cx="323.97" cy="364" r="2.46" fill="#d0d0d0" stroke="#8a8a8a" stroke-width="0.5"/><circle cx="330.03" cy="364" r="2.46" fill="#f4f4f4" stroke="#8a8a8a" stroke-width="0.5"/><circle cx="336.1" cy="364" r="2.46" fill="#f4f4f4" stroke="#8a8a8a" stroke-width="0.5"/><circle cx="342.16" cy="364" r="2.46" fill="#d0d0d0" stroke="#8a8a8a" stroke-width="0.5"/><circle cx="348.23" cy="364" r="2.46" fill="#f4f4f4" stroke="#8a8a8a" stroke-width="0.5"/><circle cx="354.3" cy="364" r="2.46" fill="#f4f4f4" stroke="#8a8a8a" stroke-width="0.5"/><circle cx="360.36" cy="364" r="2.46" fill="#d0d0d0" stroke="#8a8a8a" stroke-width="0.5"/><circle cx="366.43" cy="364" r="2.46" fill="#f4f4f4" stroke="#8a8a8a" stroke-width="0.5"/><line x1="286" y1="368" x2="368" y2="368" stroke="#777" stroke-width="1.1"/><circle cx="286" cy="368" r="2.6" fill="#f4f4f4" stroke="#8a8a8a" stroke-width="0.5"/><circle cx="292.31" cy="368" r="2.6" fill="#f4f4f4" stroke="#8a8a8a" stroke-width="0.5"/><circle cx="298.62" cy="368" r="2.6" fill="#d0d0d0" stroke="#8a8a8a" stroke-width="0.5"/><circle cx="304.92" cy="368" r="2.6" fill="#f4f4f4" stroke="#8a8a8a" stroke-width="0.5"/><circle cx="311.23" cy="368" r="2.6" fill="#f4f4f4" stroke="#8a8a8a" stroke-width="0.5"/><circle cx="317.54" cy="368" r="2.6" fill="#d0d0d0" stroke="#8a8a8a" stroke-width="0.5"/><circle cx="323.85" cy="368" r="2.6" fill="#f4f4f4" stroke="#8a8a8a" stroke-width="0.5"/><circle cx="330.15" cy="368" r="2.6" fill="#f4f4f4" stroke="#8a8a8a" stroke-width="0.5"/><circle cx="336.46" cy="368" r="2.6" fill="#d0d0d0" stroke="#8a8a8a" stroke-width="0.5"/><circle cx="342.77" cy="368" r="2.6" fill="#f4f4f4" stroke="#8a8a8a" stroke-width="0.5"/><circle cx="349.08" cy="368" r="2.6" fill="#f4f4f4" stroke="#8a8a8a" stroke-width="0.5"/><circle cx="355.38" cy="368" r="2.6" fill="#d0d0d0" stroke="#8a8a8a" stroke-width="0.5"/><circle cx="361.69" cy="368" r="2.6" fill="#f4f4f4" stroke="#8a8a8a" stroke-width="0.5"/><circle cx="368" cy="368" r="2.6" fill="#f4f4f4" stroke="#8a8a8a" stroke-width="0.5"/></g>
<g><path d="M483 350 L491 369 M489 350 L481 369" stroke="#1e9ee8" stroke-width="1.8"/><path d="M492.2 350 L500.2 369 M498.2 350 L490.2 369" stroke="#1e9ee8" stroke-width="1.8"/><path d="M501.4 350 L509.4 369 M507.4 350 L499.4 369" stroke="#1e9ee8" stroke-width="1.8"/><path d="M510.6 350 L518.6 369 M516.6 350 L508.6 369" stroke="#1e9ee8" stroke-width="1.8"/><path d="M519.8 350 L527.8 369 M525.8 350 L517.8 369" stroke="#1e9ee8" stroke-width="1.8"/><path d="M529 350 L537 369 M535 350 L527 369" stroke="#1e9ee8" stroke-width="1.8"/><path d="M538.2 350 L546.2 369 M544.2 350 L536.2 369" stroke="#1e9ee8" stroke-width="1.8"/><path d="M547.4 350 L555.4 369 M553.4 350 L545.4 369" stroke="#1e9ee8" stroke-width="1.8"/><path d="M556.6 350 L564.6 369 M562.6 350 L554.6 369" stroke="#1e9ee8" stroke-width="1.8"/><circle cx="490" cy="357" r="3.1" fill="#18a4ee"/><circle cx="499.6" cy="361" r="3.1" fill="#18a4ee"/><circle cx="509.2" cy="357" r="3.1" fill="#18a4ee"/><circle cx="518.8" cy="361" r="3.1" fill="#18a4ee"/><circle cx="528.4" cy="357" r="3.1" fill="#18a4ee"/><circle cx="538" cy="361" r="3.1" fill="#18a4ee"/><circle cx="547.6" cy="357" r="3.1" fill="#18a4ee"/><circle cx="557.2" cy="361" r="3.1" fill="#18a4ee"/><circle cx="502" cy="337.5" r="2.2" fill="#f6b614"/><circle cx="513" cy="337.5" r="2.2" fill="#f6b614"/><circle cx="524" cy="337.5" r="2.2" fill="#f6b614"/><circle cx="535" cy="337.5" r="2.2" fill="#f6b614"/><circle cx="546" cy="337.5" r="2.2" fill="#f6b614"/><circle cx="497" cy="341" r="2.4" fill="#f6b614"/><circle cx="506.67" cy="341" r="2.4" fill="#f6b614"/><circle cx="516.33" cy="341" r="2.4" fill="#f6b614"/><circle cx="526" cy="341" r="2.4" fill="#f6b614"/><circle cx="535.67" cy="341" r="2.4" fill="#f6b614"/><circle cx="545.33" cy="341" r="2.4" fill="#f6b614"/><circle cx="555" cy="341" r="2.4" fill="#f6b614"/><circle cx="490" cy="345" r="2.5" fill="#f6b614"/><circle cx="501" cy="345" r="2.5" fill="#f6b614"/><circle cx="512" cy="345" r="2.5" fill="#f6b614"/><circle cx="523" cy="345" r="2.5" fill="#f6b614"/><circle cx="534" cy="345" r="2.5" fill="#f6b614"/><circle cx="545" cy="345" r="2.5" fill="#f6b614"/><circle cx="556" cy="345" r="2.5" fill="#f6b614"/><circle cx="488" cy="349" r="2.7" fill="#f6b614"/><circle cx="500.33" cy="349" r="2.7" fill="#f6b614"/><circle cx="512.67" cy="349" r="2.7" fill="#f6b614"/><circle cx="525" cy="349" r="2.7" fill="#f6b614"/><circle cx="537.33" cy="349" r="2.7" fill="#f6b614"/><circle cx="549.67" cy="349" r="2.7" fill="#f6b614"/><circle cx="562" cy="349" r="2.7" fill="#f6b614"/><circle cx="485.5" cy="369.5" r="2.5" fill="#f6b014"/><circle cx="504" cy="369.5" r="2.5" fill="#f6b014"/><circle cx="522.5" cy="369.5" r="2.5" fill="#f6b014"/><circle cx="541" cy="369.5" r="2.5" fill="#f6b014"/><circle cx="559.5" cy="369.5" r="2.5" fill="#f6b014"/></g>
<text x="178" y="362" font-size="24.2" text-anchor="start" fill="#000" >h-BN</text>
<text x="380" y="362" font-size="24" text-anchor="start" fill="#000" >Gr</text>
<text x="575" y="362" font-size="24" text-anchor="start" fill="#000" >MoS<tspan font-size="17" dy="6">2</tspan></text>
<rect x="824.8" y="46" width="428.2" height="302.5" fill="#585b47" filter="url(#fshadow)"/>
<g clip-path="url(#cpB)">
<path d="M971.43 40 L1085.87 40 L1195.95 360 L1076.58 360 Z" fill="#33406b" stroke="none" stroke-width="1" />
<path d="M815 40 C815.83 40 818.37 36.7 820 40 C821.63 43.3 821.78 58.72 824.8 59.8 C827.82 60.88 834.35 48.87 838.1 46.5 C841.85 44.13 841.53 44.82 847.3 45.6 C853.07 46.38 862.68 48.45 872.7 51.2 C882.72 53.95 897.77 58.45 907.4 62.1 C917.03 65.75 921.85 68.57 930.5 73.1 C939.15 77.63 949.68 84.87 959.3 89.3 C968.92 93.73 981.47 96.82 988.2 99.7 C994.93 102.58 995.85 102.77 999.7 106.6 C1003.55 110.43 1007.83 117.32 1011.3 122.7 C1014.77 128.08 1017.62 134.08 1020.5 138.9 C1023.38 143.72 1024.1 146.42 1028.6 151.6 C1033.1 156.78 1042.07 164.23 1047.5 170 C1052.93 175.77 1057.27 177.88 1061.2 186.2 C1065.13 194.52 1066.95 205.98 1071.1 219.9 C1075.25 233.82 1081.73 255.17 1086.1 269.7 C1090.47 284.23 1093.77 293.97 1097.3 307.1 C1100.83 320.23 1105.18 339.68 1107.3 348.5 C1109.42 357.32 1158.72 358.08 1110 360 C1061.28 361.92 864.17 360 815 360 Z" fill="url(#gHBN)"/>
<path d="M971.43 40 L1085.87 40 L1195.95 360 L1076.58 360 Z" fill="#2a5964" clip-path="url(#cpHBN)"/>
<line x1="838" y1="50" x2="880" y2="200" stroke="#4f8f6e" stroke-width="1.2" opacity="0.55"/>
<line x1="858" y1="60" x2="905" y2="348" stroke="#4f8f6e" stroke-width="1.2" opacity="0.55"/>
<line x1="880" y1="60" x2="895" y2="190" stroke="#4f8f6e" stroke-width="1.2" opacity="0.55"/>
<line x1="830" y1="340" x2="880" y2="230" stroke="#4f8f6e" stroke-width="1.2" opacity="0.55"/>
<line x1="900" y1="100" x2="940" y2="348" stroke="#4f8f6e" stroke-width="1.2" opacity="0.55"/>
<path d="M815 156.2 C816.63 156.3 813.25 155.63 824.8 156.8 C836.35 157.97 866.68 161.95 884.3 163.2 C901.92 164.45 917.03 164.6 930.5 164.3 C943.97 164 951.63 162.93 965.1 161.4 C978.57 159.87 1000.48 156.7 1011.3 155.1 C1022.12 153.5 1012.53 156.38 1030 151.8 C1047.47 147.22 1089.55 136.35 1116.1 127.6 C1142.65 118.85 1166.48 107.75 1189.3 99.3 C1212.12 90.85 1240.88 81.12 1253 76.9 C1265.12 72.68 1260.5 50.8 1262 74 C1263.5 97.2 1273.65 186.6 1262 216.1 C1250.35 245.6 1209.98 242.07 1192.1 251 C1174.22 259.93 1165.1 264.08 1154.7 269.7 C1144.3 275.32 1139.05 279.6 1129.7 284.7 C1120.35 289.8 1105.87 297.38 1098.6 300.3 C1091.33 303.22 1093.38 303.13 1086.1 302.2 C1078.82 301.27 1064.25 297 1054.9 294.7 C1045.55 292.4 1037.17 288.25 1030 288.4 C1022.83 288.55 1021.48 293.87 1011.9 295.6 C1002.32 297.33 980.9 298.67 972.5 298.8 C964.1 298.93 966.75 298.37 961.5 296.4 C956.25 294.43 947.57 288.97 941 287 C934.43 285.03 927.87 283.55 922.1 284.6 C916.33 285.65 909.28 293.17 906.4 293.3 C903.52 293.43 903.23 291.45 904.8 285.4 C906.37 279.35 913.18 266.18 915.8 257 C918.42 247.82 919.97 235.67 920.5 230.3 C921.03 224.93 924.77 223.75 919 224.8 C913.23 225.85 895.35 233.33 885.9 236.6 C876.45 239.87 867.55 241.52 862.3 244.4 C857.05 247.28 860.58 250.62 854.4 253.9 C848.22 257.18 831.77 261.83 825.2 264.1 C818.63 266.37 816.7 266.93 815 267.5 Z" fill="#1f7d6f" opacity="0.5"/>
<path d="M1262 160 L1252 158 L1215 153 L1182 149.7 L1150 146 L1120 142 L1100 141 L1090 146 L1045 154.7 L1004 172 L956.8 187.7 L909.5 187.7 L893.8 191.7 L867 183 L854.4 184.6 L825.2 175.1 L815 172 L815 231 L825.2 228.7 L878 222.4 L925.3 208.2 L956.8 195.6 L1004 175.1 L1045 159.4 L1080 150 L1100 147.4 L1123.6 148.6 L1135.4 153.3 L1144.9 159.8 L1155.5 160.4 L1170.8 163.9 L1182.7 173.4 L1200.4 181.6 L1218.1 189.9 L1235.8 199.3 L1252.3 206.4 L1262 210 Z" fill="url(#gMG)"/>
<path d="M815 156.2 L824.8 156.8 L884.3 163.2 L930.5 164.3 L965.1 161.4 L1011.3 155.1 L1030 151.8 L1116.1 127.6 L1189.3 99.3 L1253 76.9 L1262 74 L1262 160 L1252 158 L1215 153 L1182 149.7 L1150 146 L1120 142 L1100 141 L1090 146 L1045 154.7 L1004 172 L956.8 187.7 L909.5 187.7 L893.8 191.7 L867 183 L854.4 184.6 L825.2 175.1 L815 172 Z" fill="url(#gLG)"/>
<path d="M815 231 L825.2 228.7 L878 222.4 L870 240 L854.4 253.9 L825.2 264.1 L815 268 Z" fill="#2f7d60" stroke="none" stroke-width="1" opacity="0.8"/>
<path d="M1061.5 182.5 L1097.9 171.5 L1150.5 349 L1107.3 349 Z" fill="url(#gS)" stroke="#2d5d4a" stroke-width="1.2" />
<path d="M985.5 207 L997.7 204.3 L1040.5 349 L1026.1 349 Z" fill="#cfcb2a" stroke="#4a2a18" stroke-width="1.2" />
<path d="M1156.2 151 L1165.7 149 L1226 349 L1210.8 349 Z" fill="#d6d42e" stroke="#3a1a10" stroke-width="1.3" />
<path d="M1156.2 151 L1165.7 149 L1170.6 165.5 L1160.8 167 Z" fill="#8a5a4e" stroke="none" stroke-width="1" />
</g>
<path d="M824.8 156.8 C834.72 157.87 866.68 161.95 884.3 163.2 C901.92 164.45 917.03 164.6 930.5 164.3 C943.97 164 951.63 162.93 965.1 161.4 C978.57 159.87 1000.48 156.7 1011.3 155.1 C1022.12 153.5 1012.53 156.38 1030 151.8 C1047.47 147.22 1089.55 136.35 1116.1 127.6 C1142.65 118.85 1165.57 108.07 1189.3 99.3 C1213.03 90.53 1246.97 79.05 1258.5 75" fill="none" stroke="#f07c2a" stroke-width="2.4" stroke-dasharray="7 4"/>
<path d="M824.8 264.1 C829.73 262.4 848.15 257.18 854.4 253.9 C860.65 250.62 857.05 247.28 862.3 244.4 C867.55 241.52 876.45 239.87 885.9 236.6 C895.35 233.33 913.23 225.85 919 224.8 C924.77 223.75 921.03 224.93 920.5 230.3 C919.97 235.67 918.42 247.82 915.8 257 C913.18 266.18 906.37 279.35 904.8 285.4 C903.23 291.45 903.52 293.43 906.4 293.3 C909.28 293.17 916.33 285.65 922.1 284.6 C927.87 283.55 934.43 285.03 941 287 C947.57 288.97 956.25 294.43 961.5 296.4 C966.75 298.37 964.1 298.93 972.5 298.8 C980.9 298.67 1002.32 297.33 1011.9 295.6 C1021.48 293.87 1022.83 288.55 1030 288.4 C1037.17 288.25 1045.55 292.4 1054.9 294.7 C1064.25 297 1078.82 301.27 1086.1 302.2 C1093.38 303.13 1091.33 303.22 1098.6 300.3 C1105.87 297.38 1120.35 289.8 1129.7 284.7 C1139.05 279.6 1144.3 275.32 1154.7 269.7 C1165.1 264.08 1174.22 259.93 1192.1 251 C1209.98 242.07 1250.35 221.92 1262 216.1" fill="none" stroke="#f07c2a" stroke-width="2.4" stroke-dasharray="7 4"/>
<path d="M824.8 59.8 C827.02 57.58 834.35 48.87 838.1 46.5 C841.85 44.13 841.53 44.82 847.3 45.6 C853.07 46.38 862.68 48.45 872.7 51.2 C882.72 53.95 897.77 58.45 907.4 62.1 C917.03 65.75 921.85 68.57 930.5 73.1 C939.15 77.63 949.68 84.87 959.3 89.3 C968.92 93.73 981.47 96.82 988.2 99.7 C994.93 102.58 995.85 102.77 999.7 106.6 C1003.55 110.43 1007.83 117.32 1011.3 122.7 C1014.77 128.08 1017.62 134.08 1020.5 138.9 C1023.38 143.72 1024.1 146.42 1028.6 151.6 C1033.1 156.78 1042.07 164.23 1047.5 170 C1052.93 175.77 1057.27 177.88 1061.2 186.2 C1065.13 194.52 1066.95 205.98 1071.1 219.9 C1075.25 233.82 1081.73 255.17 1086.1 269.7 C1090.47 284.23 1093.77 293.97 1097.3 307.1 C1100.83 320.23 1105.63 341.6 1107.3 348.5" fill="none" stroke="#000" stroke-width="2.4" stroke-dasharray="6 3.5"/>
<path d="M973.2 45.4 L1074 352" fill="none" stroke="#19a6ea" stroke-width="2.4" stroke-dasharray="6 3"/>
<path d="M1087.8 45.6 L1193.8 357" fill="none" stroke="#19a6ea" stroke-width="2.4" stroke-dasharray="6 3"/>
<rect x="844.1" y="328.7" width="36.7" height="6.8" fill="#fff" stroke="none" stroke-width="1" />
<text x="834.6" y="94.3" font-size="21" text-anchor="start" fill="#fff" >h-BN</text>
<text x="989.2" y="79" font-size="21" text-anchor="start" fill="#a9c6ee" >Graphene</text>
<text x="1185.3" y="130.7" font-size="21" text-anchor="start" fill="#e5681e" >MoS<tspan font-size="15" dy="5">2</tspan></text>
<text x="1089.2" y="235.5" font-size="19" text-anchor="start" fill="#fff" >S</text>
<text x="997" y="261.8" font-size="19" text-anchor="start" fill="#fff" >D<tspan font-size="13" dy="5">1</tspan></text>
<text x="1170.9" y="214.9" font-size="19" text-anchor="start" fill="#fff" >D<tspan font-size="13" dy="5">2</tspan></text>
<path d="M1469.5 177.73 L1470.21 177.67 L1470.93 177.65 L1471.64 177.68 L1472.35 177.59 L1473.07 177.49 L1473.78 177.53 L1474.49 177.59 L1475.21 177.47 L1475.92 177.5 L1476.63 177.4 L1477.35 177.44 L1478.06 177.42 L1478.78 177.4 L1479.49 177.56 L1480.2 177.77 L1480.92 177.73 L1481.63 177.71 L1482.34 177.74 L1483.06 177.5 L1483.77 177.4 L1484.48 177.25 L1485.2 177.15 L1485.91 177.17 L1486.62 177.17 L1487.34 177.15 L1488.05 177.24 L1488.76 177.39 L1489.48 177.46 L1490.19 177.6 L1490.9 177.6 L1491.62 177.66 L1492.33 177.56 L1493.05 177.5 L1493.76 177.58 L1494.47 177.7 L1495.19 177.73 L1495.9 177.79 L1496.61 177.79 L1497.33 177.6 L1498.04 177.43 L1498.75 177.24 L1499.47 177.25 L1500.18 177.26 L1500.89 177.4 L1501.61 177.42 L1502.32 177.63 L1503.03 177.64 L1503.75 177.53 L1504.46 177.37 L1505.17 177.49 L1505.89 177.36 L1506.6 177.38 L1507.32 177.46 L1508.03 177.41 L1508.74 177.33 L1509.46 177.39 L1510.17 177.2 L1510.88 177.1 L1511.6 177.14 L1512.31 177.2 L1513.02 176.57 L1513.74 176.5 L1514.45 176.5 L1515.16 176.41 L1515.88 176.14 L1516.59 176.1 L1517.3 176.05 L1518.02 176.06 L1518.73 176.05 L1519.44 175.98 L1520.16 175.84 L1520.87 175.68 L1521.59 175.5 L1522.3 175.14 L1523.01 174.76 L1523.73 173.82 L1524.44 172.25 L1525.15 169.24 L1525.87 163.92 L1526.58 155.89 L1527.29 144.47 L1528.01 131.55 L1528.72 120.58 L1529.43 116.21 L1530.15 120.61 L1530.86 131.18 L1531.57 144.2 L1532.29 155.66 L1533 164.04 L1533.71 169.47 L1534.43 172.51 L1535.14 173.84 L1535.86 174.48 L1536.57 174.73 L1537.28 174.78 L1538 174.73 L1538.71 174.67 L1539.42 174.49 L1540.14 174.1 L1540.85 173.27 L1541.56 171.36 L1542.28 167.21 L1542.99 159.28 L1543.7 145.55 L1544.42 125.69 L1545.13 102.7 L1545.84 82.66 L1546.56 74.22 L1547.27 82.55 L1547.98 102.83 L1548.7 125.96 L1549.41 145.53 L1550.13 159.41 L1550.84 167.67 L1551.55 171.84 L1552.27 173.75 L1552.98 174.74 L1553.69 175.08 L1554.41 175.48 L1555.12 175.66 L1555.83 175.94 L1556.55 176.15 L1557.26 176.47 L1557.97 176.49 L1558.69 176.6 L1559.4 176.54 L1560.11 176.71 L1560.83 176.58 L1561.54 176.53 L1562.26 176.62 L1562.97 176.79 L1563.68 176.77 L1564.4 176.81 L1565.11 176.94 L1565.82 176.8 L1566.54 176.51 L1567.25 176.29 L1567.96 176.14 L1568.68 175.67 L1569.39 175.31 L1570.1 174.94 L1570.82 174.46 L1571.53 173.71 L1572.24 173 L1572.96 172.29 L1573.67 171.49 L1574.38 170.54 L1575.1 169.73 L1575.81 168.93 L1576.53 168.07 L1577.24 167.38 L1577.95 167.06 L1578.67 167.24 L1579.38 167.67 L1580.09 168.47 L1580.81 169.2 L1581.52 170.11 L1582.23 170.72 L1582.95 171.32 L1583.66 171.6 L1584.37 172.08 L1585.09 172.03 L1585.8 172.01 L1586.51 171.95 L1587.23 172.08 L1587.94 172.16 L1588.65 172.66 L1589.37 173.25 L1590.08 173.95 L1590.8 174.5 L1591.51 175.16 L1592.22 175.8 L1592.94 176.31 L1593.65 176.58 L1594.36 176.97 L1595.08 177.22 L1595.79 177.28 L1596.5 177.32 L1597.22 177.38 L1597.93 177.38 L1598.64 177.35 L1599.36 177.26 L1600.07 177.28 L1600.78 177.45 L1601.5 177.53 L1602.21 177.58 L1602.92 177.66 L1603.64 177.7 L1604.35 177.61 L1605.07 177.51 L1605.78 177.55 L1606.49 177.48 L1607.21 177.49 L1607.92 177.37 L1608.63 177.41 L1609.35 177.33 L1610.06 177.37 L1610.77 177.37 L1611.49 177.48 L1612.2 177.45" fill="none" stroke="#f6a46e" stroke-width="2.6" stroke-linejoin="round"/>
<path d="M1469.5 323.42 L1470.21 323.14 L1470.93 322.85 L1471.64 322.75 L1472.35 322.78 L1473.07 322.4 L1473.78 322.36 L1474.49 322.82 L1475.21 323.01 L1475.92 322.88 L1476.63 323.24 L1477.35 323.32 L1478.06 323.2 L1478.78 322.95 L1479.49 322.95 L1480.2 322.9 L1480.92 323.21 L1481.63 323.32 L1482.34 323.41 L1483.06 323.49 L1483.77 323.23 L1484.48 322.83 L1485.2 322.62 L1485.91 322.86 L1486.62 322.99 L1487.34 323.2 L1488.05 323.62 L1488.76 323.5 L1489.48 323.15 L1490.19 322.94 L1490.9 322.71 L1491.62 322.33 L1492.33 322.39 L1493.05 322.63 L1493.76 322.65 L1494.47 322.67 L1495.19 322.99 L1495.9 323.28 L1496.61 323.18 L1497.33 322.96 L1498.04 322.81 L1498.75 322.82 L1499.47 322.33 L1500.18 322.46 L1500.89 322.71 L1501.61 322.85 L1502.32 322.8 L1503.03 322.78 L1503.75 322.47 L1504.46 322.41 L1505.17 322.25 L1505.89 322.26 L1506.6 322.36 L1507.32 322.35 L1508.03 322.13 L1508.74 322.43 L1509.46 322.22 L1510.17 322.41 L1510.88 322.66 L1511.6 323.03 L1512.31 323.18 L1513.02 323.28 L1513.74 323.03 L1514.45 322.91 L1515.16 322.55 L1515.88 322.02 L1516.59 321.86 L1517.3 322.08 L1518.02 321.86 L1518.73 321.84 L1519.44 321.93 L1520.16 321.94 L1520.87 321.72 L1521.59 321.78 L1522.3 321.8 L1523.01 321.46 L1523.73 320.84 L1524.44 319.72 L1525.15 316.91 L1525.87 312.5 L1526.58 305.62 L1527.29 295.78 L1528.01 284.96 L1528.72 276.37 L1529.43 272.75 L1530.15 276.11 L1530.86 285.14 L1531.57 295.88 L1532.29 305.39 L1533 312.38 L1533.71 316.84 L1534.43 319.31 L1535.14 320.17 L1535.86 320.67 L1536.57 320.81 L1537.28 320.95 L1538 320.92 L1538.71 320.77 L1539.42 320.58 L1540.14 320.18 L1540.85 319.41 L1541.56 317.34 L1542.28 313.49 L1542.99 305.13 L1543.7 291.42 L1544.42 271.68 L1545.13 248.49 L1545.84 228.02 L1546.56 219.78 L1547.27 227.92 L1547.98 248.01 L1548.7 271.21 L1549.41 290.89 L1550.13 304.8 L1550.84 312.64 L1551.55 316.85 L1552.27 318.72 L1552.98 319.89 L1553.69 320.44 L1554.41 320.85 L1555.12 320.78 L1555.83 321.17 L1556.55 321.54 L1557.26 321.71 L1557.97 322.1 L1558.69 322.6 L1559.4 322.66 L1560.11 322.84 L1560.83 322.5 L1561.54 322.29 L1562.26 322.09 L1562.97 322 L1563.68 321.89 L1564.4 322.16 L1565.11 322.29 L1565.82 322.39 L1566.54 322.44 L1567.25 322.09 L1567.96 321.76 L1568.68 321.67 L1569.39 321.35 L1570.1 320.71 L1570.82 320.43 L1571.53 320.06 L1572.24 319.11 L1572.96 318.07 L1573.67 317.12 L1574.38 315.98 L1575.1 314.8 L1575.81 313.99 L1576.53 313.01 L1577.24 312.96 L1577.95 312.77 L1578.67 312.85 L1579.38 313.35 L1580.09 314.24 L1580.81 314.72 L1581.52 315.57 L1582.23 316.11 L1582.95 316.57 L1583.66 316.92 L1584.37 317.41 L1585.09 317.62 L1585.8 317.69 L1586.51 317.59 L1587.23 317.43 L1587.94 317.3 L1588.65 317.6 L1589.37 318.46 L1590.08 319.11 L1590.8 319.9 L1591.51 320.44 L1592.22 320.93 L1592.94 321.43 L1593.65 321.64 L1594.36 322.17 L1595.08 322.29 L1595.79 322.21 L1596.5 321.94 L1597.22 322.3 L1597.93 322.11 L1598.64 322.31 L1599.36 322.56 L1600.07 322.52 L1600.78 322.56 L1601.5 322.47 L1602.21 322.57 L1602.92 322.39 L1603.64 322.45 L1604.35 322.35 L1605.07 322.53 L1605.78 322.47 L1606.49 322.56 L1607.21 322.74 L1607.92 322.55 L1608.63 322.44 L1609.35 322.58 L1610.06 322.7 L1610.77 322.7 L1611.49 322.89 L1612.2 323.15" fill="none" stroke="#6494dc" stroke-width="2.6" stroke-linejoin="round"/>
<path d="M1647.6 177.83 L1648.32 177.4 L1649.04 177.46 L1649.75 177.44 L1650.47 177.62 L1651.19 177.27 L1651.91 177.33 L1652.63 177.44 L1653.34 174.56 L1654.06 174.62 L1654.78 174.99 L1655.5 174.87 L1656.22 174.43 L1656.93 174.75 L1657.65 174.28 L1658.37 173.77 L1659.09 174.22 L1659.81 174.34 L1660.52 174.37 L1661.24 174.29 L1661.96 174.48 L1662.68 174.39 L1663.4 174.13 L1664.11 173.75 L1664.83 174.1 L1665.55 174.43 L1666.27 174.61 L1666.99 174.67 L1667.7 174.86 L1668.42 174.91 L1669.14 174.64 L1669.86 174.46 L1670.58 174.51 L1671.29 174.23 L1672.01 173.81 L1672.73 173.51 L1673.45 173.42 L1674.17 173.62 L1674.88 173.94 L1675.6 173.96 L1676.32 174.05 L1677.04 173.83 L1677.76 174.03 L1678.47 174.3 L1679.19 174.8 L1679.91 174.74 L1680.63 174.64 L1681.35 174.71 L1682.06 174.37 L1682.78 174.26 L1683.5 174.4 L1684.22 174.66 L1684.94 174.38 L1685.65 174.35 L1686.37 174.24 L1687.09 174.03 L1687.81 174.18 L1688.53 174.38 L1689.24 174.22 L1689.96 174.12 L1690.68 174.57 L1691.4 174.38 L1692.12 173.95 L1692.83 173.94 L1693.55 173.96 L1694.27 173.49 L1694.99 173.79 L1695.71 174.17 L1696.42 174.51 L1697.14 174.72 L1697.86 175.1 L1698.58 174.77 L1699.3 174.63 L1700.01 174.48 L1700.73 174.55 L1701.45 174.64 L1702.17 174.53 L1702.89 174.7 L1703.6 174.83 L1704.32 174.67 L1705.04 174.65 L1705.76 174.71 L1706.48 174.66 L1707.19 174.7 L1707.91 174.59 L1708.63 174.5 L1709.35 174.65 L1710.07 174.25 L1710.78 174.03 L1711.5 173.5 L1712.22 173.07 L1712.94 172.69 L1713.66 172.21 L1714.37 171.7 L1715.09 171.75 L1715.81 171.56 L1716.53 170.99 L1717.25 171.11 L1717.96 170.78 L1718.68 169.99 L1719.4 169.37 L1720.12 168.87 L1720.84 167.84 L1721.55 166.82 L1722.27 166.26 L1722.99 165.05 L1723.71 163.52 L1724.43 161.31 L1725.14 158.15 L1725.86 152.24 L1726.58 144.7 L1727.3 134.72 L1728.02 122.24 L1728.73 108.62 L1729.45 96.19 L1730.17 86.87 L1730.89 83.58 L1731.61 87.56 L1732.32 97.52 L1733.04 111.44 L1733.76 125.73 L1734.48 138.65 L1735.2 149.73 L1735.91 157.83 L1736.63 163.37 L1737.35 167.03 L1738.07 169.49 L1738.79 170.35 L1739.5 171.28 L1740.22 171.75 L1740.94 171.83 L1741.66 172.26 L1742.38 172.59 L1743.09 172.74 L1743.81 172.55 L1744.53 172.99 L1745.25 172.92 L1745.97 172.97 L1746.68 173.37 L1747.4 173.61 L1748.12 173.7 L1748.84 173.76 L1749.56 174.01 L1750.27 173.64 L1750.99 173.83 L1751.71 173.89 L1752.43 173.73 L1753.15 173.99 L1753.86 174.02 L1754.58 173.64 L1755.3 173.46 L1756.02 173.33 L1756.74 172.99 L1757.45 173.31 L1758.17 173.57 L1758.89 174 L1759.61 174.47 L1760.33 174.41 L1761.04 174.58 L1761.76 174.94 L1762.48 174.43 L1763.2 174.54 L1763.92 174.79 L1764.63 174.48 L1765.35 174.5 L1766.07 174.62 L1766.79 174.39 L1767.51 174.72 L1768.22 174.88 L1768.94 174.57 L1769.66 175.04 L1770.38 175.24 L1771.1 175.03 L1771.81 174.65 L1772.53 174.75 L1773.25 174.42 L1773.97 174.03 L1774.69 173.69 L1775.4 173.95 L1776.12 173.64 L1776.84 173.63 L1777.56 173.94 L1778.28 174.2 L1778.99 174.03 L1779.71 174.33 L1780.43 174.32 L1781.15 174.39 L1781.87 174.44 L1782.58 174.91 L1783.3 175.15 L1784.02 175.36 L1784.74 175.01 L1785.46 174.75 L1786.17 174.69 L1786.89 174.58 L1787.61 174.51 L1788.33 174.59 L1789.05 174.69 L1789.76 174.56 L1790.48 174.37 L1791.2 174.23" fill="none" stroke="#f6a46e" stroke-width="2.6" stroke-linejoin="round"/>
<path d="M1647.6 323.29 L1648.32 323.41 L1649.04 323.14 L1649.75 322.95 L1650.47 323.18 L1651.19 323.35 L1651.91 323.43 L1652.63 323.34 L1653.34 323.22 L1654.06 322.8 L1654.78 322.51 L1655.5 322.35 L1656.22 322.39 L1656.93 322.68 L1657.65 322.56 L1658.37 322.36 L1659.09 322.39 L1659.81 322.66 L1660.52 322.71 L1661.24 322.89 L1661.96 323.13 L1662.68 322.85 L1663.4 322.72 L1664.11 322.79 L1664.83 323.07 L1665.55 322.83 L1666.27 322.77 L1666.99 323.05 L1667.7 322.98 L1668.42 322.94 L1669.14 323.02 L1669.86 323.2 L1670.58 322.87 L1671.29 322.98 L1672.01 322.74 L1672.73 323.01 L1673.45 323.35 L1674.17 323.39 L1674.88 323.23 L1675.6 323.46 L1676.32 323.62 L1677.04 323.28 L1677.76 323.31 L1678.47 323.04 L1679.19 323.11 L1679.91 322.61 L1680.63 322.4 L1681.35 322.52 L1682.06 322.75 L1682.78 322.64 L1683.5 322.77 L1684.22 323.19 L1684.94 322.89 L1685.65 322.73 L1686.37 322.72 L1687.09 322.59 L1687.81 322.3 L1688.53 322.69 L1689.24 322.98 L1689.96 322.75 L1690.68 322.79 L1691.4 322.82 L1692.12 322.82 L1692.83 322.63 L1693.55 322.53 L1694.27 322.87 L1694.99 322.99 L1695.71 323.11 L1696.42 323.45 L1697.14 323.93 L1697.86 323.77 L1698.58 323.91 L1699.3 323.54 L1700.01 323.17 L1700.73 322.86 L1701.45 323.16 L1702.17 323.21 L1702.89 323.18 L1703.6 323.2 L1704.32 323.18 L1705.04 322.84 L1705.76 322.54 L1706.48 322.62 L1707.19 322.52 L1707.91 322.64 L1708.63 322.9 L1709.35 322.99 L1710.07 323.26 L1710.78 323.48 L1711.5 323.25 L1712.22 323.23 L1712.94 323.43 L1713.66 323.1 L1714.37 322.77 L1715.09 322.98 L1715.81 322.85 L1716.53 322.66 L1717.25 323.07 L1717.96 323.45 L1718.68 323.62 L1719.4 323.33 L1720.12 323.32 L1720.84 323.21 L1721.55 322.87 L1722.27 322.44 L1722.99 322.84 L1723.71 323.05 L1724.43 322.63 L1725.14 322.96 L1725.86 323 L1726.58 323 L1727.3 322.85 L1728.02 322.95 L1728.73 322.7 L1729.45 323.08 L1730.17 322.94 L1730.89 323.01 L1731.61 323.1 L1732.32 323.17 L1733.04 323.29 L1733.76 323.38 L1734.48 323.22 L1735.2 323.31 L1735.91 323.54 L1736.63 323.38 L1737.35 323.53 L1738.07 323.48 L1738.79 323.65 L1739.5 323.62 L1740.22 323.7 L1740.94 323.64 L1741.66 323.89 L1742.38 323.93 L1743.09 324.1 L1743.81 323.98 L1744.53 323.81 L1745.25 323.73 L1745.97 323.68 L1746.68 323.36 L1747.4 323.23 L1748.12 323 L1748.84 323.02 L1749.56 323.13 L1750.27 323.1 L1750.99 322.95 L1751.71 322.99 L1752.43 322.8 L1753.15 322.38 L1753.86 322.74 L1754.58 322.67 L1755.3 322.73 L1756.02 322.55 L1756.74 322.76 L1757.45 322.64 L1758.17 322.72 L1758.89 322.57 L1759.61 322.77 L1760.33 322.74 L1761.04 322.82 L1761.76 322.73 L1762.48 322.76 L1763.2 322.59 L1763.92 322.37 L1764.63 321.97 L1765.35 322.38 L1766.07 322.67 L1766.79 322.69 L1767.51 322.67 L1768.22 322.7 L1768.94 322.37 L1769.66 322.47 L1770.38 322.52 L1771.1 322.74 L1771.81 323.06 L1772.53 323.25 L1773.25 322.95 L1773.97 323.3 L1774.69 323.52 L1775.4 323.23 L1776.12 323.27 L1776.84 323.69 L1777.56 323.45 L1778.28 323.03 L1778.99 322.85 L1779.71 323.09 L1780.43 323 L1781.15 322.94 L1781.87 323.13 L1782.58 323.41 L1783.3 323 L1784.02 323.12 L1784.74 323.28 L1785.46 323.11 L1786.17 322.8 L1786.89 322.92 L1787.61 322.55 L1788.33 322.63 L1789.05 322.92 L1789.76 323.28 L1790.48 323.37 L1791.2 323.62" fill="none" stroke="#6494dc" stroke-width="2.6" stroke-linejoin="round"/>
<path d="M1825.61 172.2 L1825.89 172.2 L1826.17 172.73 L1826.46 172.53 L1826.74 174.48 L1827.02 173.35 L1827.3 173.74 L1827.59 174.88 L1827.87 172.55 L1828.15 173.41 L1828.43 172.18 L1828.71 174.17 L1829 171.7 L1829.28 174.33 L1829.56 174.41 L1829.84 174.33 L1830.13 171.96 L1830.41 172.56 L1830.69 173.99 L1830.97 172.01 L1831.25 173.24 L1831.54 173.2 L1831.82 174.76 L1832.1 173.58 L1832.38 174.44 L1832.67 172.67 L1832.95 174.23 L1833.23 173.03 L1833.51 174.63 L1833.8 171.99 L1834.08 174.34 L1834.36 172.37 L1834.64 173.44 L1834.92 173.38 L1835.21 172.2 L1835.49 174.36 L1835.77 172.7 L1836.05 172.69 L1836.34 171.94 L1836.62 172.68 L1836.9 173.2 L1837.18 173.99 L1837.47 172.85 L1837.75 173.9 L1838.03 172.04 L1838.31 172.96 L1838.59 173.18 L1838.88 174.79 L1839.16 174.36 L1839.44 173.79 L1839.72 171.74 L1840.01 172.91 L1840.29 173.97 L1840.57 172.46 L1840.85 173.51 L1841.14 173.17 L1841.42 171.73 L1841.7 174.87 L1841.98 174.26 L1842.26 172.36 L1842.55 173.67 L1842.83 172.63 L1843.11 172.9 L1843.39 173.43 L1843.68 172.65 L1843.96 172.78 L1844.24 172.96 L1844.52 173.83 L1844.81 172.52 L1845.09 172.34 L1845.37 174.04 L1845.65 172.75 L1845.93 174.72 L1846.22 173.5 L1846.5 174.02 L1846.78 172.76 L1847.06 174.35 L1847.35 172 L1847.63 172.15 L1847.91 172 L1848.19 173.87 L1848.48 173.97 L1848.76 172.28 L1849.04 172.99 L1849.32 174.38 L1849.6 173.6 L1849.89 171.99 L1850.17 172.43 L1850.45 172.2 L1850.73 172.1 L1851.02 173 L1851.3 171.93 L1851.58 174.65 L1851.86 173.07 L1852.15 173.34 L1852.43 173.77 L1852.71 174.15 L1852.99 174.33 L1853.27 172.94 L1853.56 172.76 L1853.84 173.02 L1854.12 171.75 L1854.4 172.98 L1854.69 173.94 L1854.97 174.84 L1855.25 174.23 L1855.53 173.81 L1855.82 173.65 L1856.1 171.76 L1856.38 172.76 L1856.66 172.8 L1856.94 173.78 L1857.23 172.04 L1857.51 172.91 L1857.79 173.33 L1858.07 174.22 L1858.36 174.34 L1858.64 173.66 L1858.92 172.21 L1859.2 174.15 L1859.48 174.59 L1859.77 173.45 L1860.05 172.83 L1860.33 173.3 L1860.61 172.15 L1860.9 173.98 L1861.18 174.86 L1861.46 173.35 L1861.74 173.99 L1862.03 174.37 L1862.31 172.33 L1862.59 174.72 L1862.87 173.71 L1863.15 172.33 L1863.44 171.97 L1863.72 172.48 L1864 173.54 L1864.28 173.93 L1864.57 172.75 L1864.85 174.67 L1865.13 172.86 L1865.41 173.18 L1865.7 172.1 L1865.98 174.82 L1866.26 172.13 L1866.54 174.59 L1866.82 173.44 L1867.11 173.49 L1867.39 173.49 L1867.67 172.55 L1867.95 174.61 L1868.24 174.87 L1868.52 174.32 L1868.8 173.62 L1869.08 172.09 L1869.37 174.34 L1869.65 172.62 L1869.93 174.57 L1870.21 172.47 L1870.49 173.54 L1870.78 174.36 L1871.06 172.29 L1871.34 173.45 L1871.62 171.94 L1871.91 171.8 L1872.19 172.28 L1872.47 174.86 L1872.75 174.71 L1873.04 173.81 L1873.32 172.68 L1873.6 173.85 L1873.88 174.06 L1874.16 172.92 L1874.45 173.59 L1874.73 174.27 L1875.01 171.75 L1875.29 172.34 L1875.58 173.2 L1875.86 172.16 L1876.14 172.94 L1876.42 173.52 L1876.71 172.26 L1876.99 173.36 L1877.27 172.54 L1877.55 173.52 L1877.83 172.76 L1878.12 173.75 L1878.4 171.82 L1878.68 173.85 L1878.96 172.16 L1879.25 174.77 L1879.53 173.62 L1879.81 173.2 L1880.09 173.02 L1880.38 173.7 L1880.66 173.91 L1880.94 174.13 L1881.22 174.11 L1881.5 173.25 L1881.79 174.88 L1882.07 174.38 L1882.35 174.44 L1882.63 173.01 L1882.92 173.09 L1883.2 173.51 L1883.48 174.6 L1883.76 173.38 L1884.05 173.38 L1884.33 173.08 L1884.61 174.59 L1884.89 172.73 L1885.17 171.87 L1885.46 174.02 L1885.74 174.58 L1886.02 174.04 L1886.3 173.61 L1886.59 174.11 L1886.87 172.68 L1887.15 173.6 L1887.43 171.92 L1887.71 172.1 L1888 173.13 L1888.28 173.31 L1888.56 172.97 L1888.84 171.87 L1889.13 173.92 L1889.41 173.38 L1889.69 172.47 L1889.97 172.68 L1890.26 172.97 L1890.54 172.45 L1890.82 171.92 L1891.1 174.62 L1891.38 174.79 L1891.67 173.83 L1891.95 174.47 L1892.23 173.05 L1892.51 174.28 L1892.8 172.41 L1893.08 174.09 L1893.36 173.51 L1893.64 174.59 L1893.93 172.02 L1894.21 174.24 L1894.49 172.1 L1894.77 173.42 L1895.05 174.74 L1895.34 171.7 L1895.62 172.48 L1895.9 172.66 L1896.18 172.74 L1896.47 171.9 L1896.75 174.56 L1897.03 174.31 L1897.31 172.97 L1897.6 172.84 L1897.88 173.57 L1898.16 171.85 L1898.44 171.8 L1898.72 174.58 L1899.01 172.69 L1899.29 173.29 L1899.57 174.69 L1899.85 174.83 L1900.14 173.21 L1900.42 172.36 L1900.7 172.65 L1900.98 174.65 L1901.27 174.57 L1901.55 172.33 L1901.83 174.38 L1902.11 172.83 L1902.39 173.21 L1902.68 172.25 L1902.96 174.52 L1903.24 174.89 L1903.52 172.35 L1903.81 173.72 L1904.09 172.31 L1904.37 174.52 L1904.65 171.86 L1904.94 172.04 L1905.22 174.02 L1905.5 172.7 L1905.78 174.58 L1906.06 174.48 L1906.35 173.98 L1906.63 172.13 L1906.91 173.93 L1907.19 174.7 L1907.48 173.12 L1907.76 171.95 L1908.04 172.41 L1908.32 172.68 L1908.61 173.97 L1908.89 172.33 L1909.17 172.28 L1909.45 172.45 L1909.73 173.83 L1910.02 174.23 L1910.3 172.89 L1910.58 173.82 L1910.86 174.53 L1911.15 173.59 L1911.43 172.43 L1911.71 172.66 L1911.99 174.67 L1912.28 173.83 L1912.56 172.59 L1912.84 173.75 L1913.12 171.99 L1913.4 174.85 L1913.69 173.11 L1913.97 173.39 L1914.25 173.4 L1914.53 171.85 L1914.82 173.62 L1915.1 172.61 L1915.38 172.5 L1915.66 174.27 L1915.94 171.98 L1916.23 172.61 L1916.51 174.12 L1916.79 172.49 L1917.07 172.59 L1917.36 173.45 L1917.64 172.3 L1917.92 174.57 L1918.2 174.86 L1918.49 171.81 L1918.77 173.18 L1919.05 174.1 L1919.33 172.93 L1919.61 174.67 L1919.9 173.3 L1920.18 172.28 L1920.46 173.48 L1920.74 173.76 L1921.03 172.85 L1921.31 173.81 L1921.59 174.21 L1921.87 173.35 L1922.16 173.32 L1922.44 174.41 L1922.72 173.89 L1923 173.37 L1923.28 174.74 L1923.57 172.26 L1923.85 174.19 L1924.13 172.23 L1924.41 173.65 L1924.7 172.45 L1924.98 173.11 L1925.26 174.17 L1925.54 174.22 L1925.83 174.23 L1926.11 172.46 L1926.39 173.27 L1926.67 172.41 L1926.95 173.56 L1927.24 173.3 L1927.52 171.81 L1927.8 173.61 L1928.08 173.99 L1928.37 173.53 L1928.65 174.49 L1928.93 172.28 L1929.21 172.19 L1929.5 171.76 L1929.78 173.29 L1930.06 173.09 L1930.34 173.11 L1930.62 172.54 L1930.91 174.26 L1931.19 171.93 L1931.47 174.6 L1931.75 173.52 L1932.04 173.44 L1932.32 174.23 L1932.6 172.46 L1932.88 172.17 L1933.17 172.7 L1933.45 171.84 L1933.73 172.71 L1934.01 173.69 L1934.29 173.38 L1934.58 172.55 L1934.86 173.58 L1935.14 171.98 L1935.42 174.33 L1935.71 172.25 L1935.99 172.52 L1936.27 172.21 L1936.55 173.91 L1936.84 174.36 L1937.12 174.22 L1937.4 171.9 L1937.68 173.01 L1937.96 172.87 L1938.25 172.39 L1938.53 174.81 L1938.81 171.83 L1939.09 173.27 L1939.38 174.14 L1939.66 174.86 L1939.94 172.16 L1940.22 173.16 L1940.51 174.08 L1940.79 171.83 L1941.07 172.47 L1941.35 174.55 L1941.63 172.15 L1941.92 172.96 L1942.2 172.65 L1942.48 173.06 L1942.76 171.94 L1943.05 171.81 L1943.33 174.89 L1943.61 174.14 L1943.89 174.05 L1944.17 172.44 L1944.46 172.51 L1944.74 173.47 L1945.02 172.47 L1945.3 173.18 L1945.59 174.68 L1945.87 172.86 L1946.15 172.78 L1946.43 174.84 L1946.72 173.65 L1947 171.83 L1947.28 172.99 L1947.56 173.78 L1947.84 171.89 L1948.13 172.8 L1948.41 173.92 L1948.69 174.47 L1948.97 173.59 L1949.26 174.54 L1949.54 173.18 L1949.82 172.96 L1950.1 174.4 L1950.39 172.92 L1950.67 174.2 L1950.95 172.39 L1951.23 172.81 L1951.51 172.29 L1951.8 173.46 L1952.08 172.22 L1952.36 172.35 L1952.64 172.39 L1952.93 173.2 L1953.21 172.69 L1953.49 173.13 L1953.77 174.88 L1954.06 173.87 L1954.34 174.46 L1954.62 172.35 L1954.9 172.93 L1955.18 171.93 L1955.47 173.91 L1955.75 172.86 L1956.03 172.58 L1956.31 171.76 L1956.6 172.28 L1956.88 172.54 L1957.16 172.96 L1957.44 174.66 L1957.73 173.99 L1958.01 172.56 L1958.29 172.86 L1958.57 172.19 L1958.85 174.7 L1959.14 172.85 L1959.42 174.15 L1959.7 174.02 L1959.98 174.6 L1960.27 171.77 L1960.55 172.73 L1960.83 172.93 L1961.11 171.97 L1961.4 174.52 L1961.68 172.74 L1961.96 174.17 L1962.24 173.36 L1962.52 171.88 L1962.81 172.96 L1963.09 172.46 L1963.37 171.83 L1963.65 172.18 L1963.94 173.61 L1964.22 171.8 L1964.5 172.7 L1964.78 173.06 L1965.07 173.44 L1965.35 172.14 L1965.63 173.96 L1965.91 172.53 L1966.19 174.02 L1966.48 173.83 L1966.76 172.17 L1967.04 172.36 L1967.32 172.6 L1967.61 173.98 L1967.89 173 L1968.17 172.94 L1968.45 174.47 L1968.74 172.42 L1969.02 172.63 L1969.3 172.8" fill="none" stroke="#f6a46e" stroke-width="2.6" stroke-linejoin="round"/>
<path d="M1825.61 321.43 L1825.89 320.76 L1826.17 320.67 L1826.46 322.81 L1826.74 322.53 L1827.02 323.35 L1827.3 323.89 L1827.59 321.39 L1827.87 322.65 L1828.15 323.47 L1828.43 320.84 L1828.71 322.44 L1829 322.23 L1829.28 323.13 L1829.56 322.65 L1829.84 320.18 L1830.13 321.38 L1830.41 319.13 L1830.69 319.97 L1830.97 319.3 L1831.25 317.29 L1831.54 317.12 L1831.82 314.71 L1832.1 311.67 L1832.38 305.13 L1832.67 296.11 L1832.95 285.08 L1833.23 270.14 L1833.51 251.37 L1833.8 234.91 L1834.08 217.39 L1834.36 206.63 L1834.64 205.95 L1834.92 213.82 L1835.21 227.31 L1835.49 246.73 L1835.77 265.27 L1836.05 280.9 L1836.34 294.47 L1836.62 301.69 L1836.9 309.64 L1837.18 313.81 L1837.47 315.35 L1837.75 318.15 L1838.03 317.85 L1838.31 320.05 L1838.59 320.8 L1838.88 320.7 L1839.16 320.43 L1839.44 320.38 L1839.72 319.72 L1840.01 321.04 L1840.29 323.13 L1840.57 322.06 L1840.85 321.07 L1841.14 322.62 L1841.42 320.96 L1841.7 322.04 L1841.98 322.63 L1842.26 323.91 L1842.55 321.82 L1842.83 322.64 L1843.11 323.99 L1843.39 323.41 L1843.68 322.93 L1843.96 322.93 L1844.24 322.21 L1844.52 322.25 L1844.81 321.77 L1845.09 323.78 L1845.37 323.98 L1845.65 322.21 L1845.93 324.13 L1846.22 321 L1846.5 321.37 L1846.78 322.72 L1847.06 322.02 L1847.35 322.22 L1847.63 324.45 L1847.91 321.48 L1848.19 321.64 L1848.48 321.78 L1848.76 323.42 L1849.04 321.82 L1849.32 320.99 L1849.6 322.95 L1849.89 322.42 L1850.17 321.87 L1850.45 322.79 L1850.73 323.36 L1851.02 323 L1851.3 323.28 L1851.58 323.05 L1851.86 324.03 L1852.15 324.53 L1852.43 322.25 L1852.71 322.3 L1852.99 324.24 L1853.27 322.19 L1853.56 323.64 L1853.84 323.57 L1854.12 323.54 L1854.4 324.54 L1854.69 324.04 L1854.97 321.65 L1855.25 323.32 L1855.53 322.85 L1855.82 323.11 L1856.1 322.42 L1856.38 322.12 L1856.66 323.79 L1856.94 323.02 L1857.23 321.95 L1857.51 321.99 L1857.79 322.27 L1858.07 321.74 L1858.36 322.95 L1858.64 321.56 L1858.92 321.33 L1859.2 321.35 L1859.48 321.48 L1859.77 323.65 L1860.05 321.52 L1860.33 322.74 L1860.61 323.89 L1860.9 322.85 L1861.18 321.7 L1861.46 324.24 L1861.74 324.25 L1862.03 321.31 L1862.31 322.03 L1862.59 322.95 L1862.87 323.99 L1863.15 322.54 L1863.44 323.7 L1863.72 322.03 L1864 323.7 L1864.28 322.3 L1864.57 322.33 L1864.85 323.86 L1865.13 324.16 L1865.41 324.11 L1865.7 323.17 L1865.98 322.64 L1866.26 323.68 L1866.54 323.37 L1866.82 324.12 L1867.11 324.02 L1867.39 321.58 L1867.67 322.49 L1867.95 323.54 L1868.24 321.97 L1868.52 321.8 L1868.8 321.18 L1869.08 323.24 L1869.37 324.52 L1869.65 324.63 L1869.93 321.62 L1870.21 323.61 L1870.49 322.65 L1870.78 323.41 L1871.06 322.57 L1871.34 324.5 L1871.62 324.7 L1871.91 321.31 L1872.19 323.71 L1872.47 321.57 L1872.75 321.29 L1873.04 322.17 L1873.32 323.77 L1873.6 324.72 L1873.88 321.57 L1874.16 322.33 L1874.45 321.24 L1874.73 323.09 L1875.01 322.88 L1875.29 322.48 L1875.58 322.25 L1875.86 324.02 L1876.14 324.16 L1876.42 322.16 L1876.71 322.55 L1876.99 323.36 L1877.27 323.9 L1877.55 324.67 L1877.83 322.54 L1878.12 323.64 L1878.4 323.11 L1878.68 324.02 L1878.96 321.67 L1879.25 321.77 L1879.53 321.53 L1879.81 324.5 L1880.09 322.04 L1880.38 322.9 L1880.66 321.57 L1880.94 322.3 L1881.22 321.21 L1881.5 323.18 L1881.79 321.66 L1882.07 323.39 L1882.35 322.13 L1882.63 321.96 L1882.92 322.87 L1883.2 322.46 L1883.48 322.07 L1883.76 321.32 L1884.05 321.37 L1884.33 324.35 L1884.61 322.25 L1884.89 321.42 L1885.17 321.79 L1885.46 322.88 L1885.74 324.73 L1886.02 321.86 L1886.3 324.26 L1886.59 322.88 L1886.87 322.63 L1887.15 324.04 L1887.43 322.56 L1887.71 321.34 L1888 323.11 L1888.28 323.5 L1888.56 323.37 L1888.84 322.13 L1889.13 324.51 L1889.41 324.24 L1889.69 324.71 L1889.97 322.72 L1890.26 324.13 L1890.54 323.74 L1890.82 321.76 L1891.1 321.22 L1891.38 321.73 L1891.67 321.55 L1891.95 321.39 L1892.23 322.42 L1892.51 323.84 L1892.8 322.24 L1893.08 322.97 L1893.36 321.16 L1893.64 321.88 L1893.93 324.57 L1894.21 321.16 L1894.49 323.02 L1894.77 324.03 L1895.05 323.97 L1895.34 323.76 L1895.62 322.55 L1895.9 324 L1896.18 324.09 L1896.47 323.87 L1896.75 324.66 L1897.03 321.47 L1897.31 324.53 L1897.6 322.55 L1897.88 323.64 L1898.16 322.01 L1898.44 324.38 L1898.72 321.19 L1899.01 323.18 L1899.29 321.92 L1899.57 322.5 L1899.85 322.42 L1900.14 323.46 L1900.42 324.01 L1900.7 322.4 L1900.98 323.39 L1901.27 322.36 L1901.55 322.09 L1901.83 324.34 L1902.11 322.24 L1902.39 321.42 L1902.68 322.28 L1902.96 323.74 L1903.24 321.83 L1903.52 323.75 L1903.81 323.03 L1904.09 323.51 L1904.37 321.7 L1904.65 321.44 L1904.94 321.57 L1905.22 322.31 L1905.5 322.6 L1905.78 321.08 L1906.06 322.85 L1906.35 322.49 L1906.63 322.19 L1906.91 322.96 L1907.19 324.45 L1907.48 321.76 L1907.76 324.19 L1908.04 322.17 L1908.32 323.72 L1908.61 321.39 L1908.89 324.55 L1909.17 322.53 L1909.45 324.44 L1909.73 321.75 L1910.02 322.42 L1910.3 323.48 L1910.58 321.56 L1910.86 321.88 L1911.15 323.31 L1911.43 324.24 L1911.71 321.94 L1911.99 321.36 L1912.28 321.89 L1912.56 324.03 L1912.84 320.83 L1913.12 322.36 L1913.4 321.17 L1913.69 321.81 L1913.97 319.89 L1914.25 320.95 L1914.53 321.52 L1914.82 321 L1915.1 319.81 L1915.38 319.06 L1915.66 319.09 L1915.94 317.38 L1916.23 320.05 L1916.51 319.7 L1916.79 319.14 L1917.07 320.27 L1917.36 319.78 L1917.64 320.06 L1917.92 319.88 L1918.2 321.57 L1918.49 321.77 L1918.77 321.82 L1919.05 320.29 L1919.33 322.59 L1919.61 322.07 L1919.9 322.68 L1920.18 322.75 L1920.46 324 L1920.74 321.22 L1921.03 322.38 L1921.31 324.28 L1921.59 323.36 L1921.87 321.83 L1922.16 323.35 L1922.44 324.26 L1922.72 322.13 L1923 323.8 L1923.28 321.12 L1923.57 324.22 L1923.85 322.41 L1924.13 321.47 L1924.41 323.64 L1924.7 322.93 L1924.98 323.95 L1925.26 323.54 L1925.54 323.41 L1925.83 322.36 L1926.11 324.07 L1926.39 320.7 L1926.67 323.57 L1926.95 322.97 L1927.24 321.27 L1927.52 323.24 L1927.8 321.93 L1928.08 322.18 L1928.37 323.31 L1928.65 320.84 L1928.93 321.08 L1929.21 322.31 L1929.5 320.17 L1929.78 321.79 L1930.06 322.5 L1930.34 321.29 L1930.62 320.22 L1930.91 322.02 L1931.19 321.96 L1931.47 321.36 L1931.75 320.21 L1932.04 321.07 L1932.32 320.19 L1932.6 317.28 L1932.88 317.38 L1933.17 315.65 L1933.45 314.53 L1933.73 314.62 L1934.01 315.34 L1934.29 313.95 L1934.58 309.95 L1934.86 308.63 L1935.14 307.69 L1935.42 307.53 L1935.71 304.77 L1935.99 303.77 L1936.27 298.69 L1936.55 299.84 L1936.84 294.87 L1937.12 294.26 L1937.4 293.08 L1937.68 290.59 L1937.96 286.88 L1938.25 286.98 L1938.53 284.8 L1938.81 282.27 L1939.09 282.75 L1939.38 282.35 L1939.66 283.54 L1939.94 282.72 L1940.22 284.69 L1940.51 286.16 L1940.79 285.73 L1941.07 287.21 L1941.35 291.11 L1941.63 292.29 L1941.92 293.17 L1942.2 295.27 L1942.48 300.39 L1942.76 301.33 L1943.05 302.5 L1943.33 303.91 L1943.61 308.68 L1943.89 309.36 L1944.17 311.17 L1944.46 311.32 L1944.74 312.52 L1945.02 314.11 L1945.3 314.26 L1945.59 316.98 L1945.87 317.1 L1946.15 319.26 L1946.43 318.42 L1946.72 319.15 L1947 319.79 L1947.28 321.76 L1947.56 319.95 L1947.84 321.52 L1948.13 320.07 L1948.41 321.51 L1948.69 320.62 L1948.97 322.87 L1949.26 320.88 L1949.54 323.03 L1949.82 322.47 L1950.1 321.75 L1950.39 323.54 L1950.67 321.63 L1950.95 322.96 L1951.23 322.5 L1951.51 321.99 L1951.8 320.64 L1952.08 321.95 L1952.36 321.49 L1952.64 322.09 L1952.93 323.97 L1953.21 321.61 L1953.49 323.08 L1953.77 323.03 L1954.06 321.51 L1954.34 322.13 L1954.62 321.14 L1954.9 323.91 L1955.18 321.61 L1955.47 322.23 L1955.75 321.96 L1956.03 323.7 L1956.31 323.82 L1956.6 322.9 L1956.88 322.76 L1957.16 321.16 L1957.44 324.04 L1957.73 321.14 L1958.01 322.15 L1958.29 322.19 L1958.57 323.46 L1958.85 323.28 L1959.14 322.11 L1959.42 324.12 L1959.7 324.31 L1959.98 320.98 L1960.27 323.19 L1960.55 322.6 L1960.83 322.23 L1961.11 322.6 L1961.4 322.07 L1961.68 323.36 L1961.96 323.13 L1962.24 324.45 L1962.52 324.48 L1962.81 324.54 L1963.09 322.39 L1963.37 323.96 L1963.65 323.32 L1963.94 323.51 L1964.22 324.58 L1964.5 321.24 L1964.78 322.66 L1965.07 322.45 L1965.35 323.37 L1965.63 321.8 L1965.91 324.58 L1966.19 321.77 L1966.48 322.36 L1966.76 321.54 L1967.04 322.45 L1967.32 323.7 L1967.61 321.34 L1967.89 321.64 L1968.17 323.38 L1968.45 323.29 L1968.74 323.72 L1969.02 321.96 L1969.3 323.98" fill="none" stroke="#6494dc" stroke-width="2.6" stroke-linejoin="round"/>
<rect x="1451.5" y="39.3" width="535.4" height="290.9" fill="none" stroke="#3a3a3a" stroke-width="1.3" />
<line x1="1451.5" y1="183.1" x2="1986.9" y2="183.1" stroke="#111" stroke-width="1.5" />
<line x1="1630.4" y1="39.3" x2="1630.4" y2="330.2" stroke="#111" stroke-width="1.5" />
<line x1="1808.6" y1="39.3" x2="1808.6" y2="330.2" stroke="#111" stroke-width="1.5" />
<line x1="1469.5" y1="330.2" x2="1469.5" y2="326.2" stroke="#3a3a3a" stroke-width="1.1" />
<line x1="1540.85" y1="330.2" x2="1540.85" y2="326.2" stroke="#3a3a3a" stroke-width="1.1" />
<line x1="1612.2" y1="330.2" x2="1612.2" y2="326.2" stroke="#3a3a3a" stroke-width="1.1" />
<line x1="1505.17" y1="330.2" x2="1505.17" y2="328" stroke="#3a3a3a" stroke-width="1.1" />
<line x1="1576.53" y1="330.2" x2="1576.53" y2="328" stroke="#3a3a3a" stroke-width="1.1" />
<line x1="1683.5" y1="330.2" x2="1683.5" y2="326.2" stroke="#3a3a3a" stroke-width="1.1" />
<line x1="1755.3" y1="330.2" x2="1755.3" y2="326.2" stroke="#3a3a3a" stroke-width="1.1" />
<line x1="1647.6" y1="330.2" x2="1647.6" y2="328" stroke="#3a3a3a" stroke-width="1.1" />
<line x1="1719.4" y1="330.2" x2="1719.4" y2="328" stroke="#3a3a3a" stroke-width="1.1" />
<line x1="1791.2" y1="330.2" x2="1791.2" y2="328" stroke="#3a3a3a" stroke-width="1.1" />
<line x1="1873.6" y1="330.2" x2="1873.6" y2="326.2" stroke="#3a3a3a" stroke-width="1.1" />
<line x1="1967.7" y1="330.2" x2="1967.7" y2="326.2" stroke="#3a3a3a" stroke-width="1.1" />
<line x1="1826.55" y1="330.2" x2="1826.55" y2="328" stroke="#3a3a3a" stroke-width="1.1" />
<line x1="1920.65" y1="330.2" x2="1920.65" y2="328" stroke="#3a3a3a" stroke-width="1.1" />
<text x="1469.5" y="351" font-size="22.5" text-anchor="middle" fill="#000" >300</text>
<text x="1540.85" y="351" font-size="22.5" text-anchor="middle" fill="#000" >400</text>
<text x="1612.2" y="351" font-size="22.5" text-anchor="middle" fill="#000" >500</text>
<text x="1683.5" y="351" font-size="22.5" text-anchor="middle" fill="#000" >1300</text>
<text x="1755.3" y="351" font-size="22.5" text-anchor="middle" fill="#000" >1400</text>
<text x="1873.6" y="351" font-size="22.5" text-anchor="middle" fill="#000" >2000</text>
<text x="1967.7" y="351" font-size="22.5" text-anchor="middle" fill="#000" >3000</text>
<text x="1633.4" y="377.5" font-size="23.5" text-anchor="start" fill="#000" >Roman Shift (cm<tspan font-size="15.5" dy="-9.5">-1</tspan><tspan dy="9.5">)</tspan></text>
<text x="0" y="0" font-size="23.4" text-anchor="middle" transform="translate(1427.5 165.2) rotate(-90)">Intensity (arb. units)</text>
<text x="1563" y="62.8" font-size="20.5" text-anchor="start" fill="#000" >MoS<tspan font-size="15" dy="5">2</tspan></text>
<text x="1566.5" y="210.4" font-size="20.5" text-anchor="start" fill="#000" >MoS<tspan font-size="15" dy="5">2</tspan></text>
<text x="1738.6" y="62.7" font-size="20.5" text-anchor="start" fill="#000" >h-BN</text>
<text x="1809.5" y="209.2" font-size="20.5" text-anchor="start" fill="#000" >G</text>
<text x="1874" y="209.2" font-size="20.5" text-anchor="start" fill="#000" >Graphene</text>
<text x="1905.3" y="272.7" font-size="20.5" text-anchor="start" fill="#000" >2D</text>
<text x="1508.4" y="65.4" font-size="20.5" text-anchor="start" fill="#000" ><tspan font-style="italic">A</tspan><tspan font-size="15" dy="5">1g</tspan></text>
<text x="1490.6" y="109" font-size="20.5" text-anchor="start" fill="#000" ><tspan font-style="italic">E</tspan><tspan font-size="15" dy="5">2g</tspan></text>
<rect x="1761" y="87" width="192" height="23" fill="#fff" stroke="none" stroke-width="1" />
<text x="1762.9" y="104.7" font-size="20.2" text-anchor="start" fill="#ef8a4a" >MoS<tspan font-size="15" dy="5">2</tspan><tspan dy="-5">/h-BN Structure</tspan></text>
<rect x="1600" y="242.3" width="170" height="23.3" fill="#fff" stroke="none" stroke-width="1" />
<text x="1601.8" y="261" font-size="20.5" text-anchor="start" fill="#4f86d6" >MoS<tspan font-size="15" dy="5">2</tspan><tspan dy="-5">/Gr Structure</tspan></text>
<g clip-path="url(#cpD)">
<g filter="url(#grDo)">
<rect x="122.2" y="466" width="427.9" height="427.8" fill="url(#gDout)" stroke="none" stroke-width="1" />
<rect x="162.2" y="466" width="347.9" height="40" fill="#c4802c" stroke="none" stroke-width="1" opacity="0.6"/>
<rect x="122.2" y="849.7" width="427.9" height="44.1" fill="url(#gDbot)" stroke="none" stroke-width="1" />
</g>
<rect x="163.5" y="506.8" width="345" height="343" fill="url(#gDin)" stroke="none" stroke-width="1" filter="url(#grDi)"/>
<g filter="url(#grDl)">
<text x="0" y="0" font-size="128" font-weight="bold" fill="#f4ec96" transform="translate(170.5 713) scale(0.86 1)" stroke="#f4ec96" stroke-width="2.6" stroke-linejoin="round">E</text>
<text x="0" y="0" font-size="128" font-weight="bold" fill="#f4ec96" transform="translate(245 713) scale(0.86 1)" stroke="#f4ec96" stroke-width="2.6" stroke-linejoin="round">C</text>
<text x="0" y="0" font-size="128" font-weight="bold" fill="#f4ec96" transform="translate(330 713) scale(0.86 1)" stroke="#f4ec96" stroke-width="2.6" stroke-linejoin="round">N</text>
<text x="0" y="0" font-size="128" font-weight="bold" fill="#f4ec96" transform="translate(416.5 713) scale(0.86 1)" stroke="#f4ec96" stroke-width="2.6" stroke-linejoin="round">U</text>
</g>
</g>
<circle cx="195" cy="545" r="1.3" fill="#fff" opacity="0.85"/>
<circle cx="222" cy="574" r="1.3" fill="#fff" opacity="0.85"/>
<circle cx="259" cy="590" r="1.3" fill="#fff" opacity="0.85"/>
<circle cx="205" cy="597" r="1.3" fill="#fff" opacity="0.85"/>
<circle cx="168" cy="666" r="1.3" fill="#fff" opacity="0.85"/>
<circle cx="171" cy="702" r="1.3" fill="#fff" opacity="0.85"/>
<circle cx="246" cy="703" r="1.3" fill="#fff" opacity="0.85"/>
<circle cx="259" cy="712" r="1.3" fill="#fff" opacity="0.85"/>
<circle cx="277" cy="705" r="1.3" fill="#fff" opacity="0.85"/>
<circle cx="300" cy="728" r="1.3" fill="#fff" opacity="0.85"/>
<circle cx="305" cy="732" r="1.3" fill="#fff" opacity="0.85"/>
<circle cx="330" cy="718" r="1.3" fill="#fff" opacity="0.85"/>
<circle cx="355" cy="702" r="1.3" fill="#fff" opacity="0.85"/>
<circle cx="367" cy="703" r="1.3" fill="#fff" opacity="0.85"/>
<circle cx="391" cy="741" r="1.3" fill="#fff" opacity="0.85"/>
<circle cx="400" cy="743" r="1.3" fill="#fff" opacity="0.85"/>
<circle cx="420" cy="698" r="1.3" fill="#fff" opacity="0.85"/>
<circle cx="246" cy="766" r="1.3" fill="#fff" opacity="0.85"/>
<circle cx="226" cy="818" r="1.3" fill="#fff" opacity="0.85"/>
<circle cx="184" cy="809" r="1.3" fill="#fff" opacity="0.85"/>
<circle cx="273" cy="842" r="1.3" fill="#fff" opacity="0.85"/>
<circle cx="458" cy="721" r="1.3" fill="#fff" opacity="0.85"/>
<circle cx="497" cy="777" r="1.3" fill="#fff" opacity="0.85"/>
<circle cx="512" cy="615" r="1.3" fill="#fff" opacity="0.85"/>
<circle cx="435.3" cy="561.9" r="11.7" fill="none" stroke="#fff" stroke-width="1.6"/>
<circle cx="435.3" cy="561.9" r="2.6" fill="#fff"/>
<circle cx="435.3" cy="637" r="11.7" fill="none" stroke="#000" stroke-width="1.6"/>
<line x1="427" y1="628.7" x2="443.6" y2="645.3" stroke="#000" stroke-width="1.6" />
<line x1="443.6" y1="628.7" x2="427" y2="645.3" stroke="#000" stroke-width="1.6" />
<text x="426.5" y="594.3" font-size="20" text-anchor="start" fill="#fff" >-30 V</text>
<text x="426.5" y="668.7" font-size="20" text-anchor="start" fill="#000" >+30 V</text>
<rect x="374.9" y="859.3" width="136.2" height="5.8" fill="#fff" stroke="none" stroke-width="1" />
<rect x="582.3" y="547.7" width="37.5" height="290.6" fill="url(#gCmap)" stroke="none" stroke-width="1" />
<text x="583.2" y="499.7" font-size="21" text-anchor="start" fill="#000" >Deg</text>
<text x="583.2" y="533.8" font-size="21" text-anchor="start" fill="#000" >150</text>
<text x="579.5" y="864.5" font-size="21" text-anchor="start" fill="#000" >-150</text>
<text x="0" y="0" font-size="21" text-anchor="middle" transform="translate(105 694) rotate(-90)">Phase</text>
<g clip-path="url(#cpE)">
<rect x="813" y="466.2" width="427.6" height="426.5" fill="url(#gEout)" stroke="none" stroke-width="1" filter="url(#grEo)"/>
<ellipse cx="836" cy="715" rx="26" ry="95" fill="url(#gEleft)"/>
<g filter="url(#grEi)">
<rect x="855.7" y="508.5" width="341.5" height="340.8" fill="url(#gEin)" stroke="none" stroke-width="1" />
<rect x="855.7" y="819.5" width="341.5" height="29.8" fill="#dcaa38" stroke="none" stroke-width="1" />
</g>
<g filter="url(#grEl)">
<text x="0" y="0" font-size="124" font-weight="bold" fill="url(#gLetE)" transform="translate(860.5 712) scale(0.86 1)" stroke="#80245c" stroke-width="3.8" stroke-linejoin="round" opacity="0.9">E</text>
<text x="0" y="0" font-size="124" font-weight="bold" fill="url(#gLetE)" transform="translate(935.5 712) scale(0.86 1)" stroke="#80245c" stroke-width="3.8" stroke-linejoin="round" opacity="0.9">C</text>
<text x="0" y="0" font-size="124" font-weight="bold" fill="url(#gLetE)" transform="translate(1020 712) scale(0.86 1)" stroke="#80245c" stroke-width="3.8" stroke-linejoin="round" opacity="0.9">N</text>
<text x="0" y="0" font-size="124" font-weight="bold" fill="url(#gLetE)" transform="translate(1107 712) scale(0.86 1)" stroke="#80245c" stroke-width="3.8" stroke-linejoin="round" opacity="0.9">U</text>
</g>
</g>
<rect x="1058.8" y="861.6" width="136.3" height="6" fill="#fff" stroke="none" stroke-width="1" />
<rect x="1274.9" y="548.2" width="37.6" height="290.6" fill="url(#gCmap)" stroke="none" stroke-width="1" />
<text x="1275" y="502.5" font-size="21" text-anchor="start" fill="#000" >pm</text>
<text x="1275" y="534" font-size="21" text-anchor="start" fill="#000" >400</text>
<text x="1273" y="865" font-size="21" text-anchor="start" fill="#000" >-200</text>
<text x="0" y="0" font-size="20.3" text-anchor="middle" transform="translate(785.8 690) rotate(-90)">Amplitude</text>
<path d="M1859.64 511.72 L1859.38 511.79 L1859.07 511.88 L1858.71 511.98 L1858.32 512.09 L1857.9 512.21 L1857.46 512.34 L1857.01 512.47 L1856.54 512.6 L1856.07 512.74 L1855.59 512.87 L1855.11 513.01 L1854.63 513.15 L1854.15 513.28 L1853.67 513.42 L1853.19 513.56 L1852.71 513.7 L1852.23 513.83 L1851.75 513.97 L1851.27 514.1 L1850.79 514.24 L1850.3 514.38 L1849.82 514.51 L1849.34 514.65 L1848.86 514.78 L1848.38 514.91 L1847.9 515.05 L1847.42 515.18 L1846.93 515.31 L1846.45 515.45 L1845.97 515.58 L1845.49 515.71 L1845 515.84 L1844.52 515.97 L1844.04 516.1 L1843.56 516.23 L1843.07 516.36 L1842.59 516.49 L1842.11 516.62 L1841.63 516.75 L1841.14 516.88 L1840.66 517.01 L1840.18 517.14 L1839.69 517.27 L1839.21 517.4 L1838.73 517.53 L1838.25 517.66 L1837.76 517.78 L1837.28 517.91 L1836.8 518.04 L1836.31 518.17 L1835.83 518.3 L1835.35 518.43 L1834.86 518.56 L1834.38 518.69 L1833.9 518.82 L1833.42 518.94 L1832.93 519.08 L1832.45 519.21 L1831.97 519.34 L1831.49 519.47 L1831 519.6 L1830.52 519.73 L1830.04 519.86 L1829.56 519.99 L1829.07 520.13 L1828.59 520.26 L1828.11 520.39 L1827.63 520.52 L1827.15 520.65 L1826.66 520.79 L1826.18 520.92 L1825.7 521.05 L1825.22 521.18 L1824.73 521.31 L1824.25 521.44 L1823.77 521.57 L1823.29 521.7 L1822.8 521.82 L1822.32 521.95 L1821.83 522.07 L1821.35 522.2 L1820.87 522.32 L1820.38 522.44 L1819.9 522.56 L1819.41 522.68 L1818.92 522.8 L1818.44 522.91 L1817.95 523.03 L1817.46 523.14 L1816.98 523.25 L1816.49 523.36 L1816 523.47 L1815.51 523.58 L1815.02 523.68 L1814.54 523.79 L1814.05 523.9 L1813.56 524 L1813.07 524.11 L1812.58 524.21 L1812.09 524.32 L1811.61 524.43 L1811.12 524.54 L1810.63 524.65 L1810.14 524.76 L1809.66 524.87 L1809.17 524.98 L1808.68 525.1 L1808.2 525.22 L1807.71 525.34 L1807.23 525.46 L1806.74 525.58 L1806.26 525.71 L1805.78 525.83 L1805.29 525.96 L1804.81 526.09 L1804.33 526.22 L1803.85 526.36 L1803.36 526.49 L1802.88 526.63 L1802.4 526.76 L1801.92 526.9 L1801.44 527.04 L1800.96 527.18 L1800.48 527.32 L1800 527.46 L1799.52 527.6 L1799.04 527.75 L1798.57 527.89 L1798.09 528.04 L1797.61 528.18 L1797.13 528.33 L1796.65 528.47 L1796.17 528.62 L1795.7 528.77 L1795.22 528.91 L1794.74 529.06 L1794.26 529.21 L1793.79 529.36 L1793.31 529.51 L1792.83 529.66 L1792.36 529.81 L1791.88 529.97 L1791.41 530.12 L1790.93 530.27 L1790.46 530.43 L1789.98 530.59 L1789.51 530.74 L1789.03 530.9 L1788.56 531.06 L1788.09 531.22 L1787.61 531.38 L1787.14 531.54 L1786.67 531.7 L1786.19 531.86 L1785.72 532.02 L1785.25 532.18 L1784.77 532.34 L1784.3 532.5 L1783.82 532.66 L1783.35 532.82 L1782.87 532.97 L1782.4 533.13 L1781.92 533.28 L1781.45 533.43 L1780.97 533.58 L1780.49 533.74 L1780.02 533.89 L1779.54 534.03 L1779.06 534.18 L1778.58 534.33 L1778.11 534.48 L1777.63 534.62 L1777.15 534.77 L1776.67 534.91 L1776.19 535.05 L1775.71 535.2 L1775.23 535.34 L1774.76 535.48 L1774.28 535.62 L1773.8 535.77 L1773.32 535.91 L1772.84 536.05 L1772.36 536.19 L1771.88 536.33 L1771.4 536.47 L1770.92 536.61 L1770.44 536.76 L1769.96 536.9 L1769.48 537.04 L1769 537.18 L1768.52 537.32 L1768.04 537.46 L1767.56 537.61 L1767.08 537.75 L1766.61 537.89 L1766.13 538.03 L1765.65 538.18 L1765.17 538.32 L1764.69 538.46 L1764.21 538.61 L1763.73 538.75 L1763.26 538.9 L1762.78 539.05 L1762.3 539.19 L1761.82 539.34 L1761.34 539.49 L1760.87 539.64 L1760.39 539.78 L1759.91 539.93 L1759.44 540.08 L1758.96 540.24 L1758.48 540.39 L1758.01 540.54 L1757.53 540.69 L1757.06 540.85 L1756.58 541 L1756.11 541.16 L1755.63 541.31 L1755.16 541.47 L1754.68 541.62 L1754.21 541.78 L1753.73 541.94 L1753.26 542.09 L1752.78 542.25 L1752.31 542.41 L1751.83 542.57 L1751.36 542.73 L1750.89 542.89 L1750.41 543.04 L1749.94 543.2 L1749.46 543.36 L1748.99 543.52 L1748.52 543.68 L1748.04 543.84 L1747.57 544 L1747.09 544.16 L1746.62 544.31 L1746.15 544.47 L1745.67 544.63 L1745.2 544.79 L1744.72 544.95 L1744.25 545.1 L1743.77 545.26 L1743.3 545.42 L1742.82 545.57 L1742.35 545.73 L1741.87 545.89 L1741.4 546.04 L1740.92 546.2 L1740.45 546.35 L1739.97 546.5 L1739.5 546.66 L1739.02 546.81 L1738.54 546.96 L1738.07 547.11 L1737.59 547.27 L1737.12 547.42 L1736.64 547.57 L1736.16 547.72 L1735.69 547.87 L1735.21 548.02 L1734.73 548.17 L1734.25 548.32 L1733.78 548.46 L1733.3 548.61 L1732.82 548.76 L1732.35 548.91 L1731.87 549.06 L1731.39 549.21 L1730.91 549.35 L1730.44 549.5 L1729.96 549.65 L1729.48 549.8 L1729 549.95 L1728.53 550.1 L1728.05 550.24 L1727.57 550.39 L1727.09 550.54 L1726.62 550.69 L1726.14 550.84 L1725.66 550.99 L1725.19 551.14 L1724.71 551.29 L1724.23 551.44 L1723.76 551.59 L1723.28 551.75 L1722.8 551.9 L1722.33 552.05 L1721.85 552.2 L1721.38 552.36 L1720.9 552.51 L1720.43 552.66 L1719.95 552.82 L1719.47 552.97 L1719 553.13 L1718.52 553.28 L1718.05 553.44 L1717.57 553.59 L1717.1 553.75 L1716.62 553.9 L1716.15 554.06 L1715.67 554.21 L1715.2 554.37 L1714.72 554.53 L1714.25 554.68 L1713.77 554.84 L1713.3 554.99 L1712.82 555.15 L1712.35 555.31 L1711.87 555.46 L1711.4 555.62 L1710.93 555.78 L1710.45 555.94 L1709.98 556.09 L1709.5 556.25 L1709.03 556.41 L1708.56 556.57 L1708.08 556.73 L1707.61 556.89 L1707.14 557.06 L1706.66 557.22 L1706.19 557.38 L1705.72 557.54 L1705.25 557.71 L1704.77 557.87 L1704.3 558.04 L1703.83 558.21 L1703.36 558.37 L1702.89 558.54 L1702.42 558.71 L1701.95 558.89 L1701.48 559.06 L1701.01 559.23 L1700.55 559.41 L1700.08 559.59 L1699.61 559.76 L1699.15 559.94 L1698.68 560.13 L1698.21 560.31 L1697.75 560.49 L1697.29 560.68 L1696.82 560.87 L1696.36 561.06 L1695.9 561.25 L1695.44 561.44 L1694.98 561.64 L1694.52 561.83 L1694.06 562.03 L1693.6 562.23 L1693.14 562.43 L1692.68 562.63 L1692.23 562.83 L1691.77 563.03 L1691.31 563.24 L1690.86 563.44 L1690.4 563.65 L1689.95 563.85 L1689.49 564.06 L1689.04 564.27 L1688.58 564.47 L1688.13 564.68 L1687.67 564.89 L1687.22 565.09 L1686.76 565.3 L1686.31 565.51 L1685.85 565.71 L1685.4 565.92 L1684.94 566.13 L1684.49 566.34 L1684.03 566.54 L1683.58 566.75 L1683.12 566.96 L1682.67 567.17 L1682.21 567.37 L1681.76 567.58 L1681.3 567.79 L1680.85 568 L1680.4 568.21 L1679.94 568.43 L1679.49 568.64 L1679.04 568.85 L1678.59 569.06 L1678.13 569.27 L1677.68 569.49 L1677.23 569.7 L1676.78 569.91 L1676.32 570.12 L1675.87 570.34 L1675.42 570.55 L1674.97 570.76 L1674.51 570.97 L1674.06 571.19 L1673.61 571.4 L1673.16 571.61 L1672.7 571.82 L1672.25 572.03 L1671.8 572.24 L1671.34 572.45 L1670.89 572.66 L1670.43 572.87 L1669.98 573.08 L1669.53 573.29 L1669.07 573.5 L1668.62 573.7 L1668.16 573.91 L1667.71 574.12 L1667.25 574.32 L1666.8 574.53 L1666.34 574.74 L1665.88 574.94 L1665.43 575.15 L1664.97 575.35 L1664.52 575.56 L1664.06 575.76 L1663.61 575.97 L1663.15 576.18 L1662.7 576.38 L1662.24 576.59 L1661.79 576.79 L1661.33 577 L1660.88 577.21 L1660.42 577.42 L1659.97 577.63 L1659.51 577.83 L1659.06 578.04 L1658.61 578.26 L1658.15 578.47 L1657.7 578.68 L1657.25 578.89 L1656.8 579.11 L1656.35 579.32 L1655.89 579.54 L1655.44 579.75 L1654.99 579.97 L1654.54 580.19 L1654.09 580.41 L1653.64 580.63 L1653.2 580.84 L1652.75 581.07 L1652.3 581.29 L1651.85 581.51 L1651.4 581.73 L1650.95 581.95 L1650.51 582.17 L1650.06 582.4 L1649.61 582.62 L1649.16 582.84 L1648.72 583.06 L1648.27 583.29 L1647.82 583.51 L1647.37 583.73 L1646.93 583.95 L1646.48 584.17 L1646.03 584.4 L1645.58 584.62 L1645.13 584.84 L1644.68 585.06 L1644.23 585.27 L1643.78 585.49 L1643.33 585.71 L1642.88 585.93 L1642.43 586.15 L1641.98 586.36 L1641.53 586.58 L1641.08 586.79 L1640.63 587.01 L1640.18 587.22 L1639.73 587.44 L1639.28 587.65 L1638.83 587.87 L1638.37 588.08 L1637.92 588.3 L1637.47 588.52 L1637.02 588.73 L1636.57 588.95 L1636.12 589.17 L1635.67 589.39 L1635.22 589.61 L1634.77 589.83 L1634.33 590.05 L1633.88 590.27 L1633.43 590.49 L1632.98 590.72 L1632.54 590.94 L1632.09 591.17 L1631.64 591.39 L1631.2 591.62 L1630.75 591.84 L1630.31 592.07 L1629.86 592.3 L1629.42 592.53 L1628.98 592.76 L1628.53 592.99 L1628.09 593.22 L1627.64 593.45 L1627.2 593.68 L1626.76 593.91 L1626.32 594.15 L1625.88 594.38 L1625.43 594.62 L1624.99 594.85 L1624.55 595.08 L1624.11 595.32 L1623.67 595.56 L1623.23 595.79 L1622.79 596.03 L1622.35 596.27 L1621.91 596.51 L1621.47 596.75 L1621.04 596.99 L1620.6 597.23 L1620.16 597.48 L1619.73 597.73 L1619.29 597.97 L1618.86 598.22 L1618.43 598.47 L1618 598.73 L1617.57 598.98 L1617.14 599.24 L1616.72 599.5 L1616.29 599.77 L1615.87 600.03 L1615.44 600.3 L1615.02 600.57 L1614.6 600.84 L1614.18 601.11 L1613.77 601.39 L1613.35 601.66 L1612.93 601.94 L1612.52 602.22 L1612.1 602.5 L1611.69 602.78 L1611.28 603.06 L1610.86 603.34 L1610.45 603.62 L1610.04 603.9 L1609.63 604.19 L1609.22 604.48 L1608.82 604.77 L1608.42 605.07 L1608.02 605.37 L1607.62 605.68 L1607.24 605.99 L1606.85 606.31 L1606.47 606.63 L1606.1 606.96 L1605.73 607.3 L1605.37 607.64 L1605.01 607.99 L1604.66 608.34 L1604.31 608.7 L1603.96 609.06 L1603.61 609.41 L1603.26 609.77 L1602.91 610.13 L1602.56 610.48 L1602.21 610.84 L1601.85 611.19 L1601.5 611.54 L1601.14 611.89 L1600.78 612.24 L1600.42 612.58 L1600.07 612.93 L1599.71 613.29 L1599.36 613.64 L1599.02 614 L1598.68 614.37 L1598.34 614.74 L1598.01 615.11 L1597.69 615.49 L1597.38 615.88 L1597.07 616.27 L1596.77 616.67 L1596.47 617.07 L1596.18 617.47 L1595.89 617.88 L1595.6 618.29 L1595.32 618.7 L1595.03 619.11 L1594.75 619.53 L1594.47 619.94 L1594.19 620.35 L1593.91 620.77 L1593.64 621.19 L1593.36 621.6 L1593.09 622.02 L1592.81 622.44 L1592.55 622.86 L1592.28 623.28 L1592.02 623.71 L1591.76 624.14 L1591.51 624.57 L1591.27 625 L1591.02 625.44 L1590.79 625.88 L1590.56 626.32 L1590.33 626.77 L1590.11 627.22 L1589.89 627.66 L1589.67 628.11 L1589.46 628.57 L1589.24 629.02 L1589.03 629.47 L1588.83 629.93 L1588.62 630.38 L1588.41 630.84 L1588.21 631.29 L1588 631.75 L1587.8 632.2 L1587.59 632.66 L1587.39 633.12 L1587.19 633.58 L1587 634.04 L1586.8 634.5 L1586.61 634.96 L1586.42 635.42 L1586.24 635.88 L1586.05 636.35 L1585.88 636.82 L1585.7 637.28 L1585.53 637.75 L1585.36 638.22 L1585.2 638.7 L1585.04 639.17 L1584.88 639.64 L1584.73 640.12 L1584.58 640.6 L1584.43 641.07 L1584.29 641.55 L1584.15 642.03 L1584.01 642.51 L1583.87 642.99 L1583.74 643.48 L1583.61 643.96 L1583.48 644.44 L1583.36 644.93 L1583.24 645.41 L1583.12 645.9 L1583 646.38 L1582.89 646.87 L1582.78 647.36 L1582.67 647.84 L1582.57 648.33 L1582.47 648.82 L1582.38 649.31 L1582.29 649.81 L1582.21 650.3 L1582.13 650.79 L1582.05 651.29 L1581.98 651.78 L1581.92 652.27 L1581.85 652.77 L1581.79 653.27 L1581.73 653.76 L1581.67 654.26 L1581.61 654.75 L1581.55 655.25 L1581.49 655.75 L1581.43 656.24 L1581.37 656.74 L1581.3 657.23 L1581.23 657.73 L1581.15 658.22 L1581.07 658.71 L1580.98 659.2 L1580.88 659.69 L1580.77 660.18 L1580.66 660.66 L1580.53 661.15 L1580.4 661.63 L1580.26 662.11 L1580.11 662.58 L1579.96 663.06 L1579.81 663.53 L1579.65 664.01 L1579.49 664.48 L1579.34 664.96 L1579.19 665.43 L1579.05 665.91 L1578.91 666.39 L1578.78 666.87 L1578.66 667.35 L1578.55 667.84 L1578.45 668.33 L1578.35 668.82 L1578.26 669.31 L1578.18 669.8 L1578.1 670.3 L1578.03 670.79 L1577.97 671.28 L1577.9 671.78 L1577.84 672.28 L1577.78 672.77 L1577.72 673.27 L1577.66 673.76 L1577.6 674.26 L1577.54 674.76 L1577.48 675.25 L1577.42 675.75 L1577.36 676.25 L1577.3 676.74 L1577.23 677.24 L1577.16 677.73 L1577.09 678.23 L1577.02 678.72 L1576.94 679.21 L1576.86 679.71 L1576.78 680.2 L1576.7 680.7 L1576.62 681.19 L1576.54 681.68 L1576.45 682.17 L1576.37 682.67 L1576.28 683.16 L1576.2 683.65 L1576.11 684.14 L1576.03 684.64 L1575.94 685.13 L1575.86 685.62 L1575.77 686.11 L1575.69 686.61 L1575.6 687.1 L1575.52 687.59 L1575.44 688.09 L1575.36 688.58 L1575.28 689.07 L1575.2 689.57 L1575.12 690.06 L1575.04 690.55 L1574.97 691.05 L1574.89 691.54 L1574.81 692.04 L1574.74 692.53 L1574.67 693.02 L1574.59 693.52 L1574.52 694.01 L1574.45 694.51 L1574.38 695 L1574.3 695.5 L1574.23 695.99 L1574.16 696.49 L1574.09 696.98 L1574.02 697.48 L1573.95 697.97 L1573.89 698.47 L1573.82 698.96 L1573.75 699.46 L1573.68 699.95 L1573.62 700.45 L1573.55 700.94 L1573.49 701.44 L1573.42 701.94 L1573.36 702.43 L1573.3 702.93 L1573.24 703.42 L1573.18 703.92 L1573.12 704.42 L1573.06 704.91 L1573 705.41 L1572.94 705.91 L1572.88 706.4 L1572.82 706.9 L1572.76 707.39 L1572.71 707.89 L1572.65 708.39 L1572.59 708.88 L1572.53 709.38 L1572.47 709.88 L1572.41 710.37 L1572.35 710.87 L1572.29 711.37 L1572.23 711.86 L1572.17 712.36 L1572.1 712.85 L1572.04 713.35 L1571.97 713.84 L1571.91 714.34 L1571.84 714.84 L1571.77 715.33 L1571.7 715.83 L1571.63 716.32 L1571.56 716.82 L1571.49 717.31 L1571.42 717.81 L1571.35 718.3 L1571.28 718.79 L1571.21 719.29 L1571.13 719.78 L1571.06 720.28 L1570.99 720.77 L1570.91 721.27 L1570.84 721.76 L1570.77 722.26 L1570.69 722.75 L1570.62 723.25 L1570.55 723.74 L1570.47 724.23 L1570.4 724.73 L1570.33 725.22 L1570.26 725.72 L1570.19 726.21 L1570.11 726.71 L1570.04 727.2 L1569.97 727.7 L1569.9 728.19 L1569.83 728.69 L1569.76 729.18 L1569.68 729.68 L1569.61 730.17 L1569.54 730.67 L1569.47 731.16 L1569.4 731.65 L1569.33 732.15 L1569.26 732.64 L1569.19 733.14 L1569.12 733.63 L1569.05 734.13 L1568.98 734.62 L1568.91 735.12 L1568.84 735.61 L1568.77 736.11 L1568.7 736.6 L1568.63 737.1 L1568.56 737.59 L1568.49 738.09 L1568.43 738.58 L1568.36 739.08 L1568.29 739.58 L1568.23 740.07 L1568.16 740.57 L1568.1 741.06 L1568.03 741.56 L1567.97 742.05 L1567.9 742.55 L1567.84 743.05 L1567.77 743.54 L1567.71 744.04 L1567.64 744.53 L1567.58 745.03 L1567.51 745.52 L1567.44 746.02 L1567.37 746.51 L1567.3 747.01 L1567.23 747.5 L1567.16 748 L1567.09 748.49 L1567.01 748.99 L1566.93 749.48 L1566.85 749.97 L1566.77 750.47 L1566.68 750.96 L1566.59 751.45 L1566.5 751.94 L1566.41 752.43 L1566.32 752.92 L1566.22 753.41 L1566.13 753.91 L1566.03 754.4 L1565.93 754.89 L1565.84 755.38 L1565.74 755.87 L1565.64 756.36 L1565.55 756.85 L1565.46 757.34 L1565.36 757.83 L1565.27 758.32 L1565.19 758.81 L1565.11 759.31 L1565.03 759.8 L1564.95 760.29 L1564.88 760.79 L1564.81 761.28 L1564.74 761.78 L1564.68 762.27 L1564.61 762.77 L1564.56 763.27 L1564.5 763.76 L1564.45 764.26 L1564.39 764.76 L1564.34 765.25 L1564.29 765.75 L1564.24 766.25 L1564.19 766.75 L1564.14 767.24 L1564.08 767.74 L1564.03 768.24 L1563.97 768.73 L1563.91 769.23 L1563.84 769.72 L1563.78 770.22 L1563.71 770.71 L1563.63 771.21 L1563.55 771.7 L1563.47 772.19 L1563.38 772.69 L1563.29 773.18 L1563.2 773.67 L1563.11 774.16 L1563.01 774.65 L1562.91 775.14 L1562.8 775.63 L1562.7 776.12 L1562.59 776.6 L1562.49 777.09 L1562.38 777.58 L1562.27 778.07 L1562.17 778.56 L1562.07 779.05 L1561.96 779.54 L1561.86 780.03 L1561.76 780.52 L1561.66 781 L1561.55 781.49 L1561.45 781.98 L1561.35 782.47 L1561.25 782.96 L1561.15 783.45 L1561.04 783.94 L1560.94 784.43 L1560.83 784.92 L1560.71 785.4 L1560.6 785.89 L1560.48 786.37 L1560.35 786.86 L1560.23 787.34 L1560.09 787.82 L1559.96 788.3 L1559.81 788.78 L1559.67 789.26 L1559.52 789.73 L1559.36 790.21 L1559.2 790.68 L1559.04 791.16 L1558.88 791.63 L1558.71 792.1 L1558.54 792.57 L1558.37 793.04 L1558.2 793.51 L1558.03 793.98 L1557.86 794.45 L1557.68 794.92 L1557.51 795.39 L1557.34 795.85 L1557.16 796.32 L1556.98 796.79 L1556.8 797.26 L1556.62 797.72 L1556.44 798.19 L1556.25 798.65 L1556.07 799.11 L1555.87 799.58 L1555.68 800.04 L1555.49 800.5 L1555.29 800.96 L1555.09 801.41 L1554.88 801.87 L1554.67 802.32 L1554.46 802.77 L1554.24 803.22 L1554.02 803.67 L1553.79 804.11 L1553.55 804.54 L1553.29 804.97 L1553.03 805.39 L1552.76 805.81 L1552.47 806.21 L1552.17 806.61 L1551.86 806.99 L1551.54 807.37 L1551.2 807.73 L1550.85 808.09 L1550.5 808.43 L1550.13 808.76 L1549.75 809.09 L1549.36 809.4 L1548.97 809.7 L1548.56 809.99 L1548.15 810.28 L1547.74 810.55 L1547.32 810.82 L1546.89 811.08 L1546.46 811.33 L1546.03 811.57 L1545.59 811.81 L1545.15 812.05 L1544.7 812.28 L1544.26 812.5 L1543.81 812.72 L1543.36 812.94 L1542.91 813.15 L1542.46 813.36 L1542 813.57 L1541.55 813.78 L1541.09 813.98 L1540.63 814.19 L1540.18 814.39 L1539.72 814.59 L1539.26 814.79 L1538.8 814.98 L1538.34 815.18 L1537.88 815.37 L1537.42 815.56 L1536.95 815.75 L1536.49 815.94 L1536.03 816.12 L1535.56 816.31 L1535.1 816.49 L1534.63 816.67 L1534.17 816.86 L1533.7 817.04 L1533.24 817.22 L1532.77 817.4 L1532.3 817.58 L1531.84 817.77 L1531.37 817.95 L1530.91 818.13 L1530.44 818.31 L1529.98 818.5 L1529.51 818.68 L1529.05 818.87 L1528.58 819.05 L1528.12 819.24 L1527.66 819.43 L1527.2 819.62 L1526.74 819.81 L1526.27 820.01 L1525.81 820.2 L1525.35 820.4 L1524.9 820.59 L1524.44 820.79 L1523.98 820.99 L1523.52 821.19 L1523.07 821.38 L1522.63 821.58 L1522.19 821.77 L1521.77 821.95 L1521.38 822.13 L1521.01 822.29 L1520.67 822.44 L1520.37 822.57 L1520.12 822.68" fill="none" stroke="#000" stroke-width="1.8"/>
<g fill="#f4f4f4" stroke="#000" stroke-width="1.7"><circle cx="1859.64" cy="511.72" r="2"/><circle cx="1857.9" cy="512.21" r="2"/><circle cx="1856.07" cy="512.74" r="2"/><circle cx="1854.15" cy="513.28" r="2"/><circle cx="1852.23" cy="513.83" r="2"/><circle cx="1850.3" cy="514.38" r="2"/><circle cx="1848.38" cy="514.91" r="2"/><circle cx="1846.45" cy="515.45" r="2"/><circle cx="1844.52" cy="515.97" r="2"/><circle cx="1842.59" cy="516.49" r="2"/><circle cx="1840.66" cy="517.01" r="2"/><circle cx="1838.73" cy="517.53" r="2"/><circle cx="1836.8" cy="518.04" r="2"/><circle cx="1834.86" cy="518.56" r="2"/><circle cx="1832.93" cy="519.08" r="2"/><circle cx="1831" cy="519.6" r="2"/><circle cx="1829.07" cy="520.13" r="2"/><circle cx="1827.15" cy="520.65" r="2"/><circle cx="1825.22" cy="521.18" r="2"/><circle cx="1823.29" cy="521.7" r="2"/><circle cx="1821.35" cy="522.2" r="2"/><circle cx="1819.41" cy="522.68" r="2"/><circle cx="1817.46" cy="523.14" r="2"/><circle cx="1815.51" cy="523.58" r="2"/><circle cx="1813.56" cy="524" r="2"/><circle cx="1811.61" cy="524.43" r="2"/><circle cx="1809.66" cy="524.87" r="2"/><circle cx="1807.71" cy="525.34" r="2"/><circle cx="1805.78" cy="525.83" r="2"/><circle cx="1803.85" cy="526.36" r="2"/><circle cx="1801.92" cy="526.9" r="2"/><circle cx="1800" cy="527.46" r="2"/><circle cx="1798.09" cy="528.04" r="2"/><circle cx="1796.17" cy="528.62" r="2"/><circle cx="1794.26" cy="529.21" r="2"/><circle cx="1792.36" cy="529.81" r="2"/><circle cx="1790.46" cy="530.43" r="2"/><circle cx="1788.56" cy="531.06" r="2"/><circle cx="1786.67" cy="531.7" r="2"/><circle cx="1784.77" cy="532.34" r="2"/><circle cx="1782.87" cy="532.97" r="2"/><circle cx="1780.97" cy="533.58" r="2"/><circle cx="1779.06" cy="534.18" r="2"/><circle cx="1777.15" cy="534.77" r="2"/><circle cx="1775.23" cy="535.34" r="2"/><circle cx="1773.32" cy="535.91" r="2"/><circle cx="1771.4" cy="536.47" r="2"/><circle cx="1769.48" cy="537.04" r="2"/><circle cx="1767.56" cy="537.61" r="2"/><circle cx="1765.65" cy="538.18" r="2"/><circle cx="1763.73" cy="538.75" r="2"/><circle cx="1761.82" cy="539.34" r="2"/><circle cx="1759.91" cy="539.93" r="2"/><circle cx="1758.01" cy="540.54" r="2"/><circle cx="1756.11" cy="541.16" r="2"/><circle cx="1754.21" cy="541.78" r="2"/><circle cx="1752.31" cy="542.41" r="2"/><circle cx="1750.41" cy="543.04" r="2"/><circle cx="1748.52" cy="543.68" r="2"/><circle cx="1746.62" cy="544.31" r="2"/><circle cx="1744.72" cy="544.95" r="2"/><circle cx="1742.82" cy="545.57" r="2"/><circle cx="1740.92" cy="546.2" r="2"/><circle cx="1739.02" cy="546.81" r="2"/><circle cx="1737.12" cy="547.42" r="2"/><circle cx="1735.21" cy="548.02" r="2"/><circle cx="1733.3" cy="548.61" r="2"/><circle cx="1731.39" cy="549.21" r="2"/><circle cx="1729.48" cy="549.8" r="2"/><circle cx="1727.57" cy="550.39" r="2"/><circle cx="1725.66" cy="550.99" r="2"/><circle cx="1723.76" cy="551.59" r="2"/><circle cx="1721.85" cy="552.2" r="2"/><circle cx="1719.95" cy="552.82" r="2"/><circle cx="1718.05" cy="553.44" r="2"/><circle cx="1716.15" cy="554.06" r="2"/><circle cx="1714.25" cy="554.68" r="2"/><circle cx="1712.35" cy="555.31" r="2"/><circle cx="1710.45" cy="555.94" r="2"/><circle cx="1708.56" cy="556.57" r="2"/><circle cx="1706.66" cy="557.22" r="2"/><circle cx="1704.77" cy="557.87" r="2"/><circle cx="1702.89" cy="558.54" r="2"/><circle cx="1701.01" cy="559.23" r="2"/><circle cx="1699.15" cy="559.94" r="2"/><circle cx="1697.29" cy="560.68" r="2"/><circle cx="1695.44" cy="561.44" r="2"/><circle cx="1693.6" cy="562.23" r="2"/><circle cx="1691.77" cy="563.03" r="2"/><circle cx="1689.95" cy="563.85" r="2"/><circle cx="1688.13" cy="564.68" r="2"/><circle cx="1686.31" cy="565.51" r="2"/><circle cx="1684.49" cy="566.34" r="2"/><circle cx="1682.67" cy="567.17" r="2"/><circle cx="1680.85" cy="568" r="2"/><circle cx="1679.04" cy="568.85" r="2"/><circle cx="1677.23" cy="569.7" r="2"/><circle cx="1675.42" cy="570.55" r="2"/><circle cx="1673.61" cy="571.4" r="2"/><circle cx="1671.8" cy="572.24" r="2"/><circle cx="1669.98" cy="573.08" r="2"/><circle cx="1668.16" cy="573.91" r="2"/><circle cx="1666.34" cy="574.74" r="2"/><circle cx="1664.52" cy="575.56" r="2"/><circle cx="1662.7" cy="576.38" r="2"/><circle cx="1660.88" cy="577.21" r="2"/><circle cx="1659.06" cy="578.04" r="2"/><circle cx="1657.25" cy="578.89" r="2"/><circle cx="1655.44" cy="579.75" r="2"/><circle cx="1653.64" cy="580.63" r="2"/><circle cx="1651.85" cy="581.51" r="2"/><circle cx="1650.06" cy="582.4" r="2"/><circle cx="1648.27" cy="583.29" r="2"/><circle cx="1646.48" cy="584.17" r="2"/><circle cx="1644.68" cy="585.06" r="2"/><circle cx="1642.88" cy="585.93" r="2"/><circle cx="1641.08" cy="586.79" r="2"/><circle cx="1639.28" cy="587.65" r="2"/><circle cx="1637.47" cy="588.52" r="2"/><circle cx="1635.67" cy="589.39" r="2"/><circle cx="1633.88" cy="590.27" r="2"/><circle cx="1632.09" cy="591.17" r="2"/><circle cx="1630.31" cy="592.07" r="2"/><circle cx="1628.53" cy="592.99" r="2"/><circle cx="1626.76" cy="593.91" r="2"/><circle cx="1624.99" cy="594.85" r="2"/><circle cx="1623.23" cy="595.79" r="2"/><circle cx="1621.47" cy="596.75" r="2"/><circle cx="1619.73" cy="597.73" r="2"/><circle cx="1618" cy="598.73" r="2"/><circle cx="1616.29" cy="599.77" r="2"/><circle cx="1614.18" cy="601.11" r="2"/><circle cx="1612.1" cy="602.5" r="2"/><circle cx="1610.04" cy="603.9" r="2"/><circle cx="1608.02" cy="605.37" r="2"/><circle cx="1606.1" cy="606.96" r="2"/><circle cx="1604.31" cy="608.7" r="2"/><circle cx="1602.56" cy="610.48" r="2"/><circle cx="1600.78" cy="612.24" r="2"/><circle cx="1599.02" cy="614" r="2"/><circle cx="1597.07" cy="616.27" r="2"/><circle cx="1595.32" cy="618.7" r="2"/><circle cx="1593.36" cy="621.6" r="2"/><circle cx="1591.51" cy="624.57" r="2"/><circle cx="1589.67" cy="628.11" r="2"/><circle cx="1587.8" cy="632.2" r="2"/><circle cx="1586.05" cy="636.35" r="2"/><circle cx="1584.29" cy="641.55" r="2"/><circle cx="1582.57" cy="648.33" r="2"/><circle cx="1580.77" cy="660.18" r="2"/><circle cx="1579.05" cy="665.91" r="2"/><circle cx="1577.3" cy="676.74" r="2"/><circle cx="1575.52" cy="687.59" r="2"/><circle cx="1573.82" cy="698.96" r="2"/><circle cx="1572.1" cy="712.85" r="2"/><circle cx="1570.4" cy="724.73" r="2"/><circle cx="1568.7" cy="736.6" r="2"/><circle cx="1566.93" cy="749.48" r="2"/><circle cx="1565.19" cy="758.81" r="2"/><circle cx="1563.47" cy="772.19" r="2"/><circle cx="1561.76" cy="780.52" r="2"/><circle cx="1559.96" cy="788.3" r="2"/><circle cx="1558.2" cy="793.51" r="2"/><circle cx="1556.44" cy="798.19" r="2"/><circle cx="1554.67" cy="802.32" r="2"/><circle cx="1552.76" cy="805.81" r="2"/><circle cx="1550.85" cy="808.09" r="2"/><circle cx="1548.97" cy="809.7" r="2"/><circle cx="1546.89" cy="811.08" r="2"/><circle cx="1545.15" cy="812.05" r="2"/><circle cx="1543.36" cy="812.94" r="2"/><circle cx="1541.55" cy="813.78" r="2"/><circle cx="1539.72" cy="814.59" r="2"/><circle cx="1537.88" cy="815.37" r="2"/><circle cx="1536.03" cy="816.12" r="2"/><circle cx="1534.17" cy="816.86" r="2"/><circle cx="1532.3" cy="817.58" r="2"/><circle cx="1530.44" cy="818.31" r="2"/><circle cx="1528.58" cy="819.05" r="2"/><circle cx="1526.74" cy="819.81" r="2"/><circle cx="1524.9" cy="820.59" r="2"/><circle cx="1523.07" cy="821.38" r="2"/><circle cx="1521.01" cy="822.29" r="2"/><circle cx="1520.12" cy="822.68" r="2"/></g>
<path d="M1519 681.5 L1518.97 681.32 L1518.93 681.11 L1518.88 680.87 L1518.82 680.59 L1518.75 680.3 L1518.68 679.98 L1518.61 679.64 L1518.54 679.29 L1518.48 678.94 L1518.42 678.57 L1518.37 678.21 L1518.32 677.85 L1518.29 677.49 L1518.28 677.14 L1518.28 676.81 L1518.3 676.5 L1518.34 676.19 L1518.38 675.87 L1518.44 675.54 L1518.5 675.21 L1518.58 674.87 L1518.66 674.54 L1518.75 674.2 L1518.86 673.88 L1518.97 673.56 L1519.09 673.25 L1519.22 672.96 L1519.36 672.68 L1519.5 672.42 L1519.66 672.19 L1519.83 671.98 L1520 671.8 L1520.13 671.65 L1520.17 671.53 L1520.15 671.43 L1520.09 671.35 L1520.01 671.3 L1519.93 671.26 L1519.87 671.23 L1519.86 671.22 L1519.91 671.21 L1520.06 671.22 L1520.31 671.22 L1520.7 671.23 L1521.24 671.23 L1521.95 671.23 L1522.87 671.22 L1524 671.2 L1525.36 671.18 L1526.94 671.16 L1528.71 671.14 L1530.66 671.12 L1532.75 671.11 L1534.98 671.1 L1537.32 671.08 L1539.75 671.08 L1542.25 671.07 L1544.8 671.06 L1547.38 671.05 L1549.97 671.04 L1552.55 671.03 L1555.09 671.02 L1557.58 671.01 L1560 671 L1562.37 670.99 L1564.74 670.98 L1567.11 670.96 L1569.48 670.95 L1571.87 670.94 L1574.27 670.92 L1576.68 670.91 L1579.12 670.9 L1581.59 670.89 L1584.09 670.88 L1586.63 670.86 L1589.2 670.85 L1591.82 670.84 L1594.49 670.82 L1597.22 670.81 L1600 670.8 L1602.87 670.79 L1605.84 670.77 L1608.9 670.76 L1612.03 670.75 L1615.22 670.74 L1618.46 670.72 L1621.72 670.71 L1625 670.7 L1628.28 670.69 L1631.54 670.67 L1634.78 670.66 L1637.97 670.65 L1641.1 670.64 L1644.16 670.62 L1647.13 670.61 L1650 670.6 L1652.77 670.59 L1655.47 670.59 L1658.1 670.59 L1660.68 670.59 L1663.2 670.59 L1665.68 670.6 L1668.13 670.6 L1670.55 670.6 L1672.96 670.6 L1675.35 670.59 L1677.75 670.58 L1680.15 670.56 L1682.57 670.54 L1685.01 670.5 L1687.49 670.46 L1690 670.4 L1692.59 670.33 L1695.28 670.25 L1698.04 670.15 L1700.86 670.05 L1703.71 669.94 L1706.57 669.82 L1709.42 669.7 L1712.24 669.57 L1715.01 669.44 L1717.7 669.31 L1720.31 669.18 L1722.8 669.05 L1725.15 668.93 L1727.35 668.81 L1729.38 668.7 L1731.2 668.6 L1732.82 668.51 L1734.25 668.41 L1735.5 668.33 L1736.61 668.24 L1737.58 668.16 L1738.44 668.08 L1739.2 668 L1739.89 667.92 L1740.53 667.85 L1741.12 667.77 L1741.7 667.7 L1742.28 667.62 L1742.88 667.54 L1743.52 667.46 L1744.22 667.38 L1745 667.3 L1745.82 667.22 L1746.62 667.14 L1747.42 667.07 L1748.2 667 L1748.98 666.93 L1749.76 666.87 L1750.53 666.8 L1751.29 666.73 L1752.06 666.65 L1752.83 666.57 L1753.59 666.48 L1754.36 666.39 L1755.14 666.28 L1755.92 666.17 L1756.7 666.04 L1757.5 665.9 L1758.31 665.75 L1759.14 665.59 L1759.99 665.42 L1760.85 665.24 L1761.72 665.05 L1762.59 664.86 L1763.46 664.66 L1764.33 664.45 L1765.18 664.24 L1766.03 664.02 L1766.86 663.79 L1767.66 663.56 L1768.44 663.33 L1769.2 663.09 L1769.92 662.85 L1770.6 662.6 L1771.25 662.35 L1771.87 662.09 L1772.48 661.83 L1773.05 661.56 L1773.61 661.29 L1774.15 661.01 L1774.67 660.73 L1775.17 660.44 L1775.65 660.14 L1776.12 659.85 L1776.58 659.55 L1777.02 659.24 L1777.46 658.94 L1777.88 658.63 L1778.29 658.31 L1778.7 658 L1779.09 657.68 L1779.46 657.36 L1779.82 657.04 L1780.15 656.72 L1780.47 656.39 L1780.78 656.06 L1781.08 655.72 L1781.36 655.38 L1781.64 655.04 L1781.91 654.69 L1782.18 654.34 L1782.44 653.98 L1782.7 653.62 L1782.97 653.25 L1783.23 652.88 L1783.5 652.5 L1783.77 652.12 L1784.04 651.72 L1784.3 651.33 L1784.56 650.92 L1784.81 650.52 L1785.06 650.1 L1785.31 649.68 L1785.56 649.26 L1785.8 648.84 L1786.04 648.41 L1786.27 647.98 L1786.5 647.55 L1786.73 647.11 L1786.96 646.67 L1787.18 646.24 L1787.4 645.8 L1787.62 645.36 L1787.83 644.92 L1788.04 644.47 L1788.25 644.03 L1788.45 643.58 L1788.65 643.12 L1788.84 642.67 L1789.04 642.21 L1789.23 641.75 L1789.42 641.29 L1789.6 640.83 L1789.79 640.37 L1789.97 639.9 L1790.15 639.44 L1790.32 638.97 L1790.5 638.5 L1790.67 638.05 L1790.84 637.63 L1791 637.24 L1791.15 636.86 L1791.31 636.49 L1791.46 636.13 L1791.6 635.75 L1791.75 635.36 L1791.9 634.95 L1792.04 634.51 L1792.19 634.03 L1792.35 633.51 L1792.5 632.93 L1792.66 632.29 L1792.83 631.58 L1793 630.8 L1793.18 629.92 L1793.36 628.95 L1793.55 627.9 L1793.75 626.78 L1793.94 625.6 L1794.14 624.37 L1794.35 623.11 L1794.55 621.82 L1794.75 620.53 L1794.96 619.23 L1795.16 617.94 L1795.35 616.68 L1795.55 615.45 L1795.74 614.27 L1795.92 613.15 L1796.1 612.1 L1796.27 611.11 L1796.45 610.16 L1796.61 609.24 L1796.78 608.35 L1796.95 607.49 L1797.11 606.65 L1797.27 605.82 L1797.42 605.01 L1797.58 604.21 L1797.73 603.41 L1797.88 602.6 L1798.03 601.79 L1798.18 600.97 L1798.32 600.14 L1798.46 599.28 L1798.6 598.4 L1798.74 597.5 L1798.87 596.6 L1799 595.68 L1799.12 594.76 L1799.25 593.84 L1799.37 592.9 L1799.49 591.97 L1799.61 591.03 L1799.72 590.09 L1799.84 589.15 L1799.95 588.2 L1800.06 587.26 L1800.17 586.32 L1800.28 585.38 L1800.39 584.44 L1800.5 583.5 L1800.61 582.57 L1800.72 581.63 L1800.82 580.69 L1800.92 579.75 L1801.03 578.82 L1801.13 577.88 L1801.23 576.94 L1801.33 576 L1801.42 575.06 L1801.52 574.12 L1801.62 573.18 L1801.71 572.25 L1801.81 571.31 L1801.91 570.37 L1802 569.43 L1802.1 568.5 L1802.2 567.56 L1802.29 566.62 L1802.38 565.68 L1802.47 564.74 L1802.56 563.8 L1802.65 562.85 L1802.74 561.91 L1802.83 560.97 L1802.92 560.03 L1803.01 559.1 L1803.11 558.16 L1803.2 557.24 L1803.3 556.32 L1803.39 555.4 L1803.5 554.5 L1803.6 553.6 L1803.71 552.7 L1803.82 551.8 L1803.94 550.9 L1804.05 549.99 L1804.17 549.09 L1804.3 548.19 L1804.42 547.29 L1804.54 546.41 L1804.67 545.53 L1804.79 544.67 L1804.91 543.82 L1805.04 542.99 L1805.16 542.19 L1805.27 541.4 L1805.39 540.64 L1805.5 539.9 L1805.61 539.18 L1805.71 538.48 L1805.82 537.8 L1805.92 537.12 L1806.02 536.47 L1806.12 535.83 L1806.22 535.2 L1806.31 534.6 L1806.41 534.01 L1806.51 533.45 L1806.6 532.9 L1806.7 532.38 L1806.8 531.87 L1806.9 531.39 L1807 530.93 L1807.1 530.5 L1807.2 530.09 L1807.31 529.69 L1807.41 529.3 L1807.51 528.94 L1807.61 528.59 L1807.72 528.27 L1807.82 527.96 L1807.92 527.68 L1808.03 527.42 L1808.14 527.19 L1808.24 526.99 L1808.35 526.81 L1808.46 526.66 L1808.57 526.54 L1808.69 526.45 L1808.8 526.4 L1808.92 526.38 L1809.04 526.4 L1809.16 526.45 L1809.29 526.54 L1809.42 526.66 L1809.55 526.8 L1809.68 526.97 L1809.81 527.17 L1809.94 527.38 L1810.07 527.62 L1810.2 527.87 L1810.33 528.14 L1810.45 528.41 L1810.57 528.7 L1810.69 529 L1810.8 529.3 L1810.91 529.61 L1811.01 529.93 L1811.11 530.27 L1811.21 530.62 L1811.31 530.99 L1811.4 531.37 L1811.49 531.76 L1811.58 532.17 L1811.67 532.6 L1811.76 533.05 L1811.85 533.51 L1811.94 533.99 L1812.03 534.49 L1812.12 535.01 L1812.21 535.54 L1812.3 536.1 L1812.39 536.68 L1812.48 537.27 L1812.57 537.89 L1812.66 538.52 L1812.75 539.18 L1812.84 539.85 L1812.93 540.54 L1813.02 541.24 L1813.11 541.96 L1813.2 542.7 L1813.29 543.45 L1813.39 544.22 L1813.49 544.99 L1813.59 545.78 L1813.69 546.59 L1813.8 547.4 L1813.91 548.23 L1814.03 549.08 L1814.15 549.95 L1814.27 550.84 L1814.39 551.75 L1814.52 552.67 L1814.65 553.6 L1814.78 554.54 L1814.91 555.5 L1815.04 556.46 L1815.17 557.43 L1815.3 558.4 L1815.43 559.37 L1815.56 560.35 L1815.68 561.33 L1815.8 562.3 L1815.92 563.28 L1816.04 564.26 L1816.15 565.25 L1816.27 566.24 L1816.38 567.25 L1816.5 568.25 L1816.61 569.27 L1816.72 570.28 L1816.84 571.3 L1816.95 572.32 L1817.06 573.35 L1817.17 574.38 L1817.28 575.41 L1817.39 576.44 L1817.49 577.47 L1817.6 578.5 L1817.71 579.53 L1817.81 580.57 L1817.91 581.6 L1818.01 582.64 L1818.11 583.68 L1818.21 584.73 L1818.31 585.77 L1818.41 586.82 L1818.51 587.87 L1818.61 588.92 L1818.71 589.98 L1818.8 591.04 L1818.9 592.1 L1819 593.16 L1819.1 594.23 L1819.2 595.3 L1819.3 596.38 L1819.4 597.47 L1819.5 598.57 L1819.6 599.67 L1819.69 600.78 L1819.79 601.9 L1819.89 603.02 L1819.99 604.13 L1820.09 605.24 L1820.19 606.35 L1820.29 607.46 L1820.39 608.55 L1820.49 609.63 L1820.59 610.7 L1820.69 611.76 L1820.8 612.8 L1820.91 613.83 L1821.02 614.84 L1821.13 615.85 L1821.24 616.86 L1821.35 617.85 L1821.47 618.83 L1821.58 619.81 L1821.7 620.78 L1821.82 621.74 L1821.93 622.7 L1822.05 623.65 L1822.16 624.59 L1822.27 625.53 L1822.38 626.46 L1822.49 627.38 L1822.6 628.3 L1822.71 629.22 L1822.81 630.13 L1822.91 631.04 L1823.01 631.95 L1823.11 632.85 L1823.21 633.74 L1823.3 634.63 L1823.4 635.51 L1823.5 636.38 L1823.59 637.24 L1823.69 638.09 L1823.79 638.92 L1823.89 639.74 L1823.99 640.54 L1824.09 641.33 L1824.2 642.1 L1824.31 642.85 L1824.41 643.59 L1824.52 644.31 L1824.63 645.01 L1824.74 645.71 L1824.86 646.38 L1824.97 647.05 L1825.08 647.71 L1825.19 648.35 L1825.31 648.98 L1825.42 649.61 L1825.54 650.22 L1825.65 650.83 L1825.77 651.42 L1825.88 652.02 L1826 652.6 L1826.11 653.18 L1826.22 653.74 L1826.31 654.29 L1826.41 654.84 L1826.5 655.37 L1826.6 655.89 L1826.69 656.41 L1826.79 656.91 L1826.89 657.41 L1827 657.9 L1827.12 658.38 L1827.25 658.86 L1827.39 659.33 L1827.54 659.79 L1827.71 660.25 L1827.9 660.7 L1828.1 661.15 L1828.3 661.6 L1828.51 662.04 L1828.72 662.48 L1828.95 662.91 L1829.18 663.33 L1829.42 663.75 L1829.68 664.16 L1829.94 664.56 L1830.23 664.95 L1830.52 665.33 L1830.84 665.69 L1831.17 666.04 L1831.53 666.38 L1831.9 666.7 L1832.3 667 L1832.72 667.29 L1833.15 667.56 L1833.59 667.82 L1834.06 668.06 L1834.53 668.29 L1835.03 668.51 L1835.54 668.71 L1836.07 668.91 L1836.62 669.09 L1837.18 669.26 L1837.77 669.42 L1838.37 669.58 L1839 669.72 L1839.64 669.85 L1840.31 669.98 L1841 670.1 L1841.74 670.2 L1842.54 670.29 L1843.4 670.35 L1844.31 670.4 L1845.25 670.43 L1846.21 670.45 L1847.19 670.47 L1848.16 670.48 L1849.13 670.48 L1850.08 670.49 L1850.99 670.5 L1851.86 670.52 L1852.68 670.54 L1853.43 670.58 L1854.11 670.63 L1854.7 670.7 L1855.21 670.78 L1855.66 670.87 L1856.06 670.96 L1856.4 671.06 L1856.7 671.16 L1856.95 671.26 L1857.17 671.38 L1857.36 671.49 L1857.53 671.62 L1857.67 671.74 L1857.8 671.87 L1857.92 672.01 L1858.03 672.15 L1858.15 672.3 L1858.27 672.45 L1858.4 672.6 L1858.53 672.76 L1858.64 672.93 L1858.75 673.11 L1858.83 673.29 L1858.91 673.48 L1858.97 673.67 L1859.02 673.87 L1859.06 674.08 L1859.09 674.28 L1859.12 674.48 L1859.13 674.69 L1859.14 674.9 L1859.14 675.1 L1859.13 675.3 L1859.12 675.5 L1859.1 675.7 L1859.08 675.9 L1859.05 676.09 L1859.01 676.3 L1858.96 676.5 L1858.9 676.7 L1858.84 676.91 L1858.77 677.11 L1858.69 677.31 L1858.6 677.51 L1858.51 677.71 L1858.41 677.91 L1858.3 678.1 L1858.18 678.28 L1858.06 678.46 L1857.93 678.63 L1857.8 678.8 L1857.65 678.96 L1857.48 679.12 L1857.29 679.29 L1857.08 679.44 L1856.86 679.6 L1856.63 679.75 L1856.4 679.9 L1856.17 680.04 L1855.94 680.18 L1855.71 680.31 L1855.5 680.43 L1855.3 680.55 L1855.12 680.65 L1854.95 680.74 L1854.81 680.83 L1854.7 680.9" fill="none" stroke="#ea3c3c" stroke-width="1.6"/>
<g fill="#ffffff" stroke="#ea3c3c" stroke-width="1.5"><circle cx="1519" cy="681.5" r="1.9"/><circle cx="1520.13" cy="671.65" r="1.9"/><circle cx="1521.24" cy="671.23" r="1.9"/><circle cx="1522.87" cy="671.22" r="1.9"/><circle cx="1524" cy="671.2" r="1.9"/><circle cx="1525.36" cy="671.18" r="1.9"/><circle cx="1526.94" cy="671.16" r="1.9"/><circle cx="1528.71" cy="671.14" r="1.9"/><circle cx="1530.66" cy="671.12" r="1.9"/><circle cx="1532.75" cy="671.11" r="1.9"/><circle cx="1534.98" cy="671.1" r="1.9"/><circle cx="1537.32" cy="671.08" r="1.9"/><circle cx="1539.75" cy="671.08" r="1.9"/><circle cx="1542.25" cy="671.07" r="1.9"/><circle cx="1544.8" cy="671.06" r="1.9"/><circle cx="1547.38" cy="671.05" r="1.9"/><circle cx="1549.97" cy="671.04" r="1.9"/><circle cx="1552.55" cy="671.03" r="1.9"/><circle cx="1555.09" cy="671.02" r="1.9"/><circle cx="1557.58" cy="671.01" r="1.9"/><circle cx="1560" cy="671" r="1.9"/><circle cx="1562.37" cy="670.99" r="1.9"/><circle cx="1564.74" cy="670.98" r="1.9"/><circle cx="1567.11" cy="670.96" r="1.9"/><circle cx="1569.48" cy="670.95" r="1.9"/><circle cx="1571.87" cy="670.94" r="1.9"/><circle cx="1574.27" cy="670.92" r="1.9"/><circle cx="1576.68" cy="670.91" r="1.9"/><circle cx="1579.12" cy="670.9" r="1.9"/><circle cx="1581.59" cy="670.89" r="1.9"/><circle cx="1584.09" cy="670.88" r="1.9"/><circle cx="1586.63" cy="670.86" r="1.9"/><circle cx="1589.2" cy="670.85" r="1.9"/><circle cx="1591.82" cy="670.84" r="1.9"/><circle cx="1594.49" cy="670.82" r="1.9"/><circle cx="1597.22" cy="670.81" r="1.9"/><circle cx="1600" cy="670.8" r="1.9"/><circle cx="1602.87" cy="670.79" r="1.9"/><circle cx="1605.84" cy="670.77" r="1.9"/><circle cx="1608.9" cy="670.76" r="1.9"/><circle cx="1612.03" cy="670.75" r="1.9"/><circle cx="1615.22" cy="670.74" r="1.9"/><circle cx="1618.46" cy="670.72" r="1.9"/><circle cx="1621.72" cy="670.71" r="1.9"/><circle cx="1625" cy="670.7" r="1.9"/><circle cx="1628.28" cy="670.69" r="1.9"/><circle cx="1631.54" cy="670.67" r="1.9"/><circle cx="1634.78" cy="670.66" r="1.9"/><circle cx="1637.97" cy="670.65" r="1.9"/><circle cx="1641.1" cy="670.64" r="1.9"/><circle cx="1644.16" cy="670.62" r="1.9"/><circle cx="1647.13" cy="670.61" r="1.9"/><circle cx="1650" cy="670.6" r="1.9"/><circle cx="1652.77" cy="670.59" r="1.9"/><circle cx="1655.47" cy="670.59" r="1.9"/><circle cx="1658.1" cy="670.59" r="1.9"/><circle cx="1660.68" cy="670.59" r="1.9"/><circle cx="1663.2" cy="670.59" r="1.9"/><circle cx="1665.68" cy="670.6" r="1.9"/><circle cx="1668.13" cy="670.6" r="1.9"/><circle cx="1670.55" cy="670.6" r="1.9"/><circle cx="1672.96" cy="670.6" r="1.9"/><circle cx="1675.35" cy="670.59" r="1.9"/><circle cx="1677.75" cy="670.58" r="1.9"/><circle cx="1680.15" cy="670.56" r="1.9"/><circle cx="1682.57" cy="670.54" r="1.9"/><circle cx="1685.01" cy="670.5" r="1.9"/><circle cx="1687.49" cy="670.46" r="1.9"/><circle cx="1690" cy="670.4" r="1.9"/><circle cx="1692.59" cy="670.33" r="1.9"/><circle cx="1695.28" cy="670.25" r="1.9"/><circle cx="1698.04" cy="670.15" r="1.9"/><circle cx="1700.86" cy="670.05" r="1.9"/><circle cx="1703.71" cy="669.94" r="1.9"/><circle cx="1706.57" cy="669.82" r="1.9"/><circle cx="1709.42" cy="669.7" r="1.9"/><circle cx="1712.24" cy="669.57" r="1.9"/><circle cx="1715.01" cy="669.44" r="1.9"/><circle cx="1717.7" cy="669.31" r="1.9"/><circle cx="1720.31" cy="669.18" r="1.9"/><circle cx="1722.8" cy="669.05" r="1.9"/><circle cx="1725.15" cy="668.93" r="1.9"/><circle cx="1727.35" cy="668.81" r="1.9"/><circle cx="1729.38" cy="668.7" r="1.9"/><circle cx="1731.2" cy="668.6" r="1.9"/><circle cx="1732.82" cy="668.51" r="1.9"/><circle cx="1734.25" cy="668.41" r="1.9"/><circle cx="1735.5" cy="668.33" r="1.9"/><circle cx="1736.61" cy="668.24" r="1.9"/><circle cx="1738.44" cy="668.08" r="1.9"/><circle cx="1739.89" cy="667.92" r="1.9"/><circle cx="1741.12" cy="667.77" r="1.9"/><circle cx="1742.28" cy="667.62" r="1.9"/><circle cx="1743.52" cy="667.46" r="1.9"/><circle cx="1745" cy="667.3" r="1.9"/><circle cx="1746.62" cy="667.14" r="1.9"/><circle cx="1748.2" cy="667" r="1.9"/><circle cx="1749.76" cy="666.87" r="1.9"/><circle cx="1751.29" cy="666.73" r="1.9"/><circle cx="1752.83" cy="666.57" r="1.9"/><circle cx="1754.36" cy="666.39" r="1.9"/><circle cx="1755.92" cy="666.17" r="1.9"/><circle cx="1757.5" cy="665.9" r="1.9"/><circle cx="1759.14" cy="665.59" r="1.9"/><circle cx="1760.85" cy="665.24" r="1.9"/><circle cx="1762.59" cy="664.86" r="1.9"/><circle cx="1764.33" cy="664.45" r="1.9"/><circle cx="1766.03" cy="664.02" r="1.9"/><circle cx="1767.66" cy="663.56" r="1.9"/><circle cx="1769.2" cy="663.09" r="1.9"/><circle cx="1770.6" cy="662.6" r="1.9"/><circle cx="1771.87" cy="662.09" r="1.9"/><circle cx="1773.05" cy="661.56" r="1.9"/><circle cx="1774.67" cy="660.73" r="1.9"/><circle cx="1776.12" cy="659.85" r="1.9"/><circle cx="1777.46" cy="658.94" r="1.9"/><circle cx="1778.7" cy="658" r="1.9"/><circle cx="1779.82" cy="657.04" r="1.9"/><circle cx="1781.08" cy="655.72" r="1.9"/><circle cx="1782.18" cy="654.34" r="1.9"/><circle cx="1783.5" cy="652.5" r="1.9"/><circle cx="1784.81" cy="650.52" r="1.9"/><circle cx="1786.04" cy="648.41" r="1.9"/><circle cx="1787.18" cy="646.24" r="1.9"/><circle cx="1788.45" cy="643.58" r="1.9"/><circle cx="1789.6" cy="640.83" r="1.9"/><circle cx="1790.84" cy="637.63" r="1.9"/><circle cx="1792.04" cy="634.51" r="1.9"/><circle cx="1793.18" cy="629.92" r="1.9"/><circle cx="1794.35" cy="623.11" r="1.9"/><circle cx="1795.55" cy="615.45" r="1.9"/><circle cx="1796.78" cy="608.35" r="1.9"/><circle cx="1797.88" cy="602.6" r="1.9"/><circle cx="1799" cy="595.68" r="1.9"/><circle cx="1800.17" cy="586.32" r="1.9"/><circle cx="1801.33" cy="576" r="1.9"/><circle cx="1802.47" cy="564.74" r="1.9"/><circle cx="1803.6" cy="553.6" r="1.9"/><circle cx="1804.79" cy="544.67" r="1.9"/><circle cx="1805.92" cy="537.12" r="1.9"/><circle cx="1807.1" cy="530.5" r="1.9"/><circle cx="1808.24" cy="526.99" r="1.9"/><circle cx="1809.42" cy="526.66" r="1.9"/><circle cx="1810.57" cy="528.7" r="1.9"/><circle cx="1811.76" cy="533.05" r="1.9"/><circle cx="1812.93" cy="540.54" r="1.9"/><circle cx="1814.15" cy="549.95" r="1.9"/><circle cx="1815.3" cy="558.4" r="1.9"/><circle cx="1816.5" cy="568.25" r="1.9"/><circle cx="1817.6" cy="578.5" r="1.9"/><circle cx="1818.71" cy="589.98" r="1.9"/><circle cx="1819.89" cy="603.02" r="1.9"/><circle cx="1821.02" cy="614.84" r="1.9"/><circle cx="1822.16" cy="624.59" r="1.9"/><circle cx="1823.3" cy="634.63" r="1.9"/><circle cx="1824.41" cy="643.59" r="1.9"/><circle cx="1825.54" cy="650.22" r="1.9"/><circle cx="1826.69" cy="656.41" r="1.9"/><circle cx="1827.9" cy="660.7" r="1.9"/><circle cx="1829.18" cy="663.33" r="1.9"/><circle cx="1830.52" cy="665.33" r="1.9"/><circle cx="1831.9" cy="666.7" r="1.9"/><circle cx="1833.15" cy="667.56" r="1.9"/><circle cx="1834.53" cy="668.29" r="1.9"/><circle cx="1836.07" cy="668.91" r="1.9"/><circle cx="1837.18" cy="669.26" r="1.9"/><circle cx="1838.37" cy="669.58" r="1.9"/><circle cx="1839.64" cy="669.85" r="1.9"/><circle cx="1841" cy="670.1" r="1.9"/><circle cx="1842.54" cy="670.29" r="1.9"/><circle cx="1844.31" cy="670.4" r="1.9"/><circle cx="1846.21" cy="670.45" r="1.9"/><circle cx="1848.16" cy="670.48" r="1.9"/><circle cx="1850.08" cy="670.49" r="1.9"/><circle cx="1851.86" cy="670.52" r="1.9"/><circle cx="1853.43" cy="670.58" r="1.9"/><circle cx="1854.7" cy="670.7" r="1.9"/><circle cx="1856.06" cy="670.96" r="1.9"/><circle cx="1857.17" cy="671.38" r="1.9"/><circle cx="1858.4" cy="672.6" r="1.9"/><circle cx="1857.29" cy="679.29" r="1.9"/><circle cx="1856.17" cy="680.04" r="1.9"/><circle cx="1854.95" cy="680.74" r="1.9"/><circle cx="1854.7" cy="680.9" r="1.9"/></g>
<path d="M1854.7 680.9 L1853.84 680.92 L1852.83 680.95 L1851.67 680.99 L1850.39 681.03 L1848.98 681.07 L1847.48 681.11 L1845.89 681.16 L1844.23 681.21 L1842.5 681.26 L1840.74 681.31 L1838.94 681.36 L1837.13 681.41 L1835.31 681.46 L1833.51 681.51 L1831.73 681.55 L1830 681.6 L1828.29 681.64 L1826.57 681.69 L1824.85 681.73 L1823.11 681.77 L1821.35 681.82 L1819.58 681.86 L1817.78 681.91 L1815.96 681.95 L1814.1 681.99 L1812.22 682.04 L1810.29 682.08 L1808.33 682.12 L1806.32 682.17 L1804.26 682.21 L1802.16 682.26 L1800 682.3 L1797.77 682.34 L1795.48 682.39 L1793.12 682.43 L1790.7 682.48 L1788.24 682.52 L1785.73 682.57 L1783.19 682.61 L1780.62 682.66 L1778.04 682.7 L1775.44 682.74 L1772.84 682.79 L1770.23 682.83 L1767.64 682.87 L1765.07 682.92 L1762.52 682.96 L1760 683 L1757.5 683.04 L1755 683.08 L1752.5 683.12 L1750 683.16 L1747.5 683.2 L1745 683.24 L1742.5 683.28 L1740 683.32 L1737.5 683.36 L1735 683.39 L1732.5 683.43 L1730 683.47 L1727.5 683.5 L1725 683.54 L1722.5 683.57 L1720 683.6 L1717.5 683.63 L1715 683.66 L1712.5 683.68 L1710 683.71 L1707.5 683.73 L1705 683.76 L1702.5 683.78 L1700 683.8 L1697.5 683.82 L1695 683.84 L1692.5 683.87 L1690 683.89 L1687.5 683.92 L1685 683.94 L1682.5 683.97 L1680 684 L1677.45 684.03 L1674.79 684.07 L1672.07 684.1 L1669.3 684.14 L1666.49 684.18 L1663.68 684.21 L1660.89 684.25 L1658.12 684.29 L1655.42 684.33 L1652.8 684.37 L1650.28 684.41 L1647.89 684.45 L1645.64 684.49 L1643.56 684.53 L1641.68 684.56 L1640 684.6 L1638.55 684.63 L1637.3 684.66 L1636.24 684.69 L1635.34 684.71 L1634.59 684.74 L1633.96 684.76 L1633.43 684.78 L1632.99 684.81 L1632.61 684.83 L1632.27 684.86 L1631.96 684.89 L1631.64 684.92 L1631.31 684.96 L1630.94 685 L1630.51 685.05 L1630 685.1 L1629.46 685.16 L1628.95 685.21 L1628.46 685.27 L1627.99 685.33 L1627.53 685.39 L1627.09 685.45 L1626.65 685.52 L1626.21 685.59 L1625.77 685.66 L1625.32 685.75 L1624.86 685.83 L1624.38 685.93 L1623.88 686.03 L1623.35 686.15 L1622.79 686.27 L1622.2 686.4 L1621.57 686.54 L1620.89 686.7 L1620.19 686.86 L1619.45 687.04 L1618.69 687.22 L1617.91 687.41 L1617.13 687.6 L1616.33 687.81 L1615.54 688.01 L1614.74 688.22 L1613.96 688.43 L1613.2 688.65 L1612.45 688.86 L1611.73 689.08 L1611.05 689.29 L1610.4 689.5 L1609.78 689.71 L1609.18 689.91 L1608.59 690.11 L1608.02 690.31 L1607.47 690.51 L1606.93 690.71 L1606.4 690.92 L1605.88 691.12 L1605.38 691.34 L1604.88 691.56 L1604.4 691.79 L1603.92 692.03 L1603.46 692.28 L1603 692.54 L1602.55 692.81 L1602.1 693.1 L1601.66 693.41 L1601.23 693.73 L1600.81 694.06 L1600.4 694.41 L1600 694.77 L1599.61 695.14 L1599.22 695.52 L1598.85 695.91 L1598.49 696.29 L1598.13 696.69 L1597.79 697.08 L1597.45 697.47 L1597.12 697.86 L1596.81 698.25 L1596.5 698.63 L1596.2 699 L1595.91 699.37 L1595.64 699.74 L1595.38 700.11 L1595.13 700.48 L1594.89 700.84 L1594.66 701.21 L1594.44 701.58 L1594.23 701.95 L1594.03 702.32 L1593.83 702.69 L1593.63 703.06 L1593.44 703.42 L1593.25 703.79 L1593.07 704.16 L1592.88 704.53 L1592.7 704.9 L1592.52 705.27 L1592.34 705.64 L1592.17 706.01 L1592.01 706.38 L1591.85 706.74 L1591.69 707.11 L1591.54 707.48 L1591.39 707.85 L1591.25 708.22 L1591.11 708.59 L1590.97 708.96 L1590.83 709.32 L1590.7 709.69 L1590.56 710.06 L1590.43 710.43 L1590.3 710.8 L1590.17 711.17 L1590.05 711.53 L1589.92 711.89 L1589.81 712.25 L1589.69 712.6 L1589.58 712.96 L1589.47 713.32 L1589.36 713.67 L1589.25 714.04 L1589.14 714.4 L1589.03 714.77 L1588.93 715.14 L1588.82 715.52 L1588.72 715.91 L1588.61 716.3 L1588.5 716.7 L1588.39 717.11 L1588.28 717.52 L1588.18 717.94 L1588.07 718.36 L1587.96 718.79 L1587.86 719.23 L1587.75 719.66 L1587.65 720.11 L1587.55 720.55 L1587.44 721 L1587.34 721.46 L1587.23 721.92 L1587.12 722.38 L1587.02 722.85 L1586.91 723.32 L1586.8 723.8 L1586.69 724.28 L1586.58 724.76 L1586.46 725.24 L1586.35 725.73 L1586.23 726.22 L1586.12 726.71 L1586 727.21 L1585.89 727.71 L1585.77 728.22 L1585.66 728.74 L1585.54 729.26 L1585.43 729.79 L1585.32 730.33 L1585.21 730.88 L1585.1 731.43 L1585 732 L1584.9 732.58 L1584.8 733.16 L1584.7 733.75 L1584.61 734.35 L1584.52 734.96 L1584.43 735.57 L1584.34 736.2 L1584.25 736.83 L1584.16 737.46 L1584.07 738.1 L1583.98 738.75 L1583.89 739.41 L1583.8 740.07 L1583.7 740.74 L1583.6 741.42 L1583.5 742.1 L1583.4 742.79 L1583.29 743.49 L1583.18 744.19 L1583.07 744.9 L1582.96 745.62 L1582.85 746.35 L1582.73 747.08 L1582.62 747.82 L1582.5 748.56 L1582.39 749.31 L1582.27 750.07 L1582.16 750.83 L1582.04 751.59 L1581.93 752.36 L1581.81 753.13 L1581.7 753.9 L1581.59 754.68 L1581.47 755.47 L1581.36 756.27 L1581.25 757.08 L1581.13 757.89 L1581.02 758.71 L1580.9 759.54 L1580.79 760.36 L1580.67 761.19 L1580.56 762.02 L1580.45 762.84 L1580.34 763.66 L1580.23 764.48 L1580.12 765.3 L1580.01 766.1 L1579.9 766.9 L1579.79 767.69 L1579.69 768.49 L1579.59 769.28 L1579.49 770.07 L1579.39 770.86 L1579.29 771.65 L1579.19 772.43 L1579.09 773.21 L1578.99 773.99 L1578.89 774.76 L1578.79 775.53 L1578.7 776.3 L1578.6 777.06 L1578.5 777.81 L1578.4 778.56 L1578.3 779.3 L1578.2 780.04 L1578.1 780.77 L1578 781.51 L1577.9 782.24 L1577.79 782.97 L1577.69 783.69 L1577.59 784.41 L1577.49 785.12 L1577.39 785.82 L1577.29 786.52 L1577.19 787.21 L1577.09 787.89 L1576.99 788.56 L1576.89 789.22 L1576.79 789.87 L1576.7 790.5 L1576.61 791.12 L1576.51 791.74 L1576.42 792.35 L1576.32 792.96 L1576.23 793.55 L1576.14 794.14 L1576.05 794.71 L1575.96 795.28 L1575.87 795.84 L1575.78 796.38 L1575.69 796.92 L1575.61 797.44 L1575.53 797.95 L1575.45 798.45 L1575.37 798.93 L1575.3 799.4 L1575.23 799.86 L1575.18 800.31 L1575.13 800.74 L1575.09 801.17 L1575.05 801.59 L1575.02 801.99 L1574.98 802.38 L1574.95 802.76 L1574.91 803.13 L1574.87 803.48 L1574.82 803.82 L1574.76 804.15 L1574.69 804.46 L1574.61 804.76 L1574.51 805.04 L1574.4 805.3 L1574.27 805.56 L1574.12 805.81 L1573.96 806.05 L1573.79 806.29 L1573.6 806.52 L1573.41 806.73 L1573.21 806.93 L1573.01 807.11 L1572.8 807.27 L1572.59 807.41 L1572.38 807.52 L1572.17 807.6 L1571.97 807.65 L1571.77 807.67 L1571.58 807.66 L1571.4 807.6 L1571.23 807.5 L1571.05 807.36 L1570.88 807.18 L1570.71 806.96 L1570.53 806.71 L1570.36 806.43 L1570.2 806.13 L1570.03 805.8 L1569.87 805.46 L1569.71 805.1 L1569.55 804.74 L1569.39 804.37 L1569.24 803.99 L1569.09 803.62 L1568.94 803.26 L1568.8 802.9 L1568.66 802.55 L1568.53 802.19 L1568.4 801.82 L1568.27 801.44 L1568.14 801.06 L1568.02 800.67 L1567.9 800.28 L1567.79 799.87 L1567.67 799.47 L1567.56 799.05 L1567.45 798.62 L1567.34 798.19 L1567.23 797.76 L1567.12 797.31 L1567.01 796.86 L1566.9 796.4 L1566.79 795.93 L1566.69 795.46 L1566.59 794.98 L1566.49 794.49 L1566.39 794 L1566.29 793.49 L1566.2 792.98 L1566.1 792.47 L1566 791.95 L1565.91 791.42 L1565.81 790.88 L1565.71 790.34 L1565.61 789.79 L1565.51 789.23 L1565.41 788.67 L1565.3 788.1 L1565.19 787.52 L1565.08 786.94 L1564.96 786.34 L1564.84 785.73 L1564.73 785.12 L1564.61 784.5 L1564.48 783.87 L1564.36 783.24 L1564.24 782.61 L1564.12 781.97 L1564 781.33 L1563.87 780.68 L1563.75 780.04 L1563.63 779.39 L1563.52 778.74 L1563.4 778.1 L1563.28 777.46 L1563.17 776.82 L1563.06 776.18 L1562.94 775.55 L1562.83 774.91 L1562.72 774.27 L1562.61 773.63 L1562.49 772.99 L1562.38 772.34 L1562.27 771.68 L1562.16 771.01 L1562.05 770.33 L1561.94 769.64 L1561.82 768.94 L1561.71 768.23 L1561.6 767.5 L1561.49 766.75 L1561.37 765.99 L1561.26 765.22 L1561.15 764.43 L1561.03 763.63 L1560.92 762.83 L1560.8 762.01 L1560.69 761.19 L1560.57 760.36 L1560.46 759.52 L1560.35 758.69 L1560.24 757.85 L1560.13 757.01 L1560.02 756.17 L1559.91 755.33 L1559.8 754.5 L1559.69 753.67 L1559.59 752.83 L1559.49 751.99 L1559.38 751.14 L1559.28 750.29 L1559.18 749.44 L1559.08 748.59 L1558.98 747.74 L1558.88 746.88 L1558.78 746.03 L1558.69 745.17 L1558.59 744.31 L1558.49 743.46 L1558.39 742.6 L1558.3 741.75 L1558.2 740.9 L1558.1 740.05 L1558.01 739.2 L1557.92 738.34 L1557.83 737.49 L1557.73 736.63 L1557.64 735.77 L1557.55 734.92 L1557.46 734.06 L1557.37 733.21 L1557.28 732.36 L1557.19 731.51 L1557.09 730.66 L1557 729.81 L1556.9 728.97 L1556.8 728.13 L1556.7 727.3 L1556.6 726.47 L1556.49 725.63 L1556.38 724.8 L1556.26 723.97 L1556.15 723.13 L1556.03 722.3 L1555.91 721.47 L1555.79 720.65 L1555.68 719.83 L1555.56 719.02 L1555.44 718.21 L1555.33 717.41 L1555.22 716.62 L1555.11 715.83 L1555 715.06 L1554.9 714.3 L1554.8 713.54 L1554.71 712.79 L1554.62 712.04 L1554.53 711.29 L1554.44 710.55 L1554.35 709.81 L1554.27 709.09 L1554.19 708.37 L1554.1 707.66 L1554.02 706.96 L1553.94 706.28 L1553.85 705.61 L1553.77 704.96 L1553.68 704.32 L1553.59 703.7 L1553.5 703.1 L1553.41 702.51 L1553.31 701.94 L1553.21 701.38 L1553.12 700.83 L1553.02 700.29 L1552.92 699.77 L1552.82 699.26 L1552.72 698.77 L1552.62 698.29 L1552.52 697.83 L1552.41 697.38 L1552.31 696.95 L1552.21 696.53 L1552.11 696.14 L1552 695.76 L1551.9 695.4 L1551.8 695.07 L1551.71 694.77 L1551.61 694.49 L1551.53 694.24 L1551.44 694.02 L1551.35 693.81 L1551.27 693.61 L1551.18 693.42 L1551.08 693.25 L1550.98 693.07 L1550.87 692.9 L1550.76 692.72 L1550.64 692.53 L1550.5 692.34 L1550.36 692.13 L1550.2 691.9 L1550.03 691.66 L1549.86 691.4 L1549.69 691.14 L1549.52 690.88 L1549.33 690.61 L1549.14 690.33 L1548.94 690.06 L1548.74 689.78 L1548.52 689.51 L1548.29 689.24 L1548.05 688.98 L1547.79 688.72 L1547.52 688.47 L1547.23 688.24 L1546.92 688.01 L1546.6 687.8 L1546.27 687.6 L1545.95 687.41 L1545.64 687.24 L1545.32 687.07 L1545 686.9 L1544.66 686.75 L1544.31 686.6 L1543.93 686.46 L1543.53 686.32 L1543.09 686.18 L1542.62 686.05 L1542.1 685.92 L1541.54 685.79 L1540.92 685.66 L1540.24 685.53 L1539.5 685.4 L1538.66 685.27 L1537.69 685.15 L1536.62 685.03 L1535.47 684.91 L1534.25 684.8 L1532.98 684.69 L1531.69 684.59 L1530.38 684.48 L1529.08 684.38 L1527.81 684.27 L1526.59 684.16 L1525.43 684.06 L1524.35 683.95 L1523.37 683.84 L1522.52 683.72 L1521.8 683.6 L1521.21 683.47 L1520.72 683.34 L1520.31 683.19 L1519.99 683.05 L1519.73 682.9 L1519.54 682.74 L1519.39 682.59 L1519.29 682.44 L1519.23 682.29 L1519.19 682.15 L1519.17 682.01 L1519.15 681.88 L1519.14 681.77 L1519.11 681.66 L1519.07 681.57 L1519 681.5" fill="none" stroke="#ea3c3c" stroke-width="1.6"/>
<g fill="#ffffff" stroke="#ea3c3c" stroke-width="1.5"><circle cx="1854.7" cy="680.9" r="1.9"/><circle cx="1852.83" cy="680.95" r="1.9"/><circle cx="1851.67" cy="680.99" r="1.9"/><circle cx="1850.39" cy="681.03" r="1.9"/><circle cx="1848.98" cy="681.07" r="1.9"/><circle cx="1847.48" cy="681.11" r="1.9"/><circle cx="1845.89" cy="681.16" r="1.9"/><circle cx="1844.23" cy="681.21" r="1.9"/><circle cx="1842.5" cy="681.26" r="1.9"/><circle cx="1840.74" cy="681.31" r="1.9"/><circle cx="1838.94" cy="681.36" r="1.9"/><circle cx="1837.13" cy="681.41" r="1.9"/><circle cx="1835.31" cy="681.46" r="1.9"/><circle cx="1833.51" cy="681.51" r="1.9"/><circle cx="1831.73" cy="681.55" r="1.9"/><circle cx="1830" cy="681.6" r="1.9"/><circle cx="1828.29" cy="681.64" r="1.9"/><circle cx="1826.57" cy="681.69" r="1.9"/><circle cx="1824.85" cy="681.73" r="1.9"/><circle cx="1823.11" cy="681.77" r="1.9"/><circle cx="1821.35" cy="681.82" r="1.9"/><circle cx="1819.58" cy="681.86" r="1.9"/><circle cx="1817.78" cy="681.91" r="1.9"/><circle cx="1815.96" cy="681.95" r="1.9"/><circle cx="1814.1" cy="681.99" r="1.9"/><circle cx="1812.22" cy="682.04" r="1.9"/><circle cx="1810.29" cy="682.08" r="1.9"/><circle cx="1808.33" cy="682.12" r="1.9"/><circle cx="1806.32" cy="682.17" r="1.9"/><circle cx="1804.26" cy="682.21" r="1.9"/><circle cx="1802.16" cy="682.26" r="1.9"/><circle cx="1800" cy="682.3" r="1.9"/><circle cx="1797.77" cy="682.34" r="1.9"/><circle cx="1795.48" cy="682.39" r="1.9"/><circle cx="1793.12" cy="682.43" r="1.9"/><circle cx="1790.7" cy="682.48" r="1.9"/><circle cx="1788.24" cy="682.52" r="1.9"/><circle cx="1785.73" cy="682.57" r="1.9"/><circle cx="1783.19" cy="682.61" r="1.9"/><circle cx="1780.62" cy="682.66" r="1.9"/><circle cx="1778.04" cy="682.7" r="1.9"/><circle cx="1775.44" cy="682.74" r="1.9"/><circle cx="1772.84" cy="682.79" r="1.9"/><circle cx="1770.23" cy="682.83" r="1.9"/><circle cx="1767.64" cy="682.87" r="1.9"/><circle cx="1765.07" cy="682.92" r="1.9"/><circle cx="1762.52" cy="682.96" r="1.9"/><circle cx="1760" cy="683" r="1.9"/><circle cx="1757.5" cy="683.04" r="1.9"/><circle cx="1755" cy="683.08" r="1.9"/><circle cx="1752.5" cy="683.12" r="1.9"/><circle cx="1750" cy="683.16" r="1.9"/><circle cx="1747.5" cy="683.2" r="1.9"/><circle cx="1745" cy="683.24" r="1.9"/><circle cx="1742.5" cy="683.28" r="1.9"/><circle cx="1740" cy="683.32" r="1.9"/><circle cx="1737.5" cy="683.36" r="1.9"/><circle cx="1735" cy="683.39" r="1.9"/><circle cx="1732.5" cy="683.43" r="1.9"/><circle cx="1730" cy="683.47" r="1.9"/><circle cx="1727.5" cy="683.5" r="1.9"/><circle cx="1725" cy="683.54" r="1.9"/><circle cx="1722.5" cy="683.57" r="1.9"/><circle cx="1720" cy="683.6" r="1.9"/><circle cx="1717.5" cy="683.63" r="1.9"/><circle cx="1715" cy="683.66" r="1.9"/><circle cx="1712.5" cy="683.68" r="1.9"/><circle cx="1710" cy="683.71" r="1.9"/><circle cx="1707.5" cy="683.73" r="1.9"/><circle cx="1705" cy="683.76" r="1.9"/><circle cx="1702.5" cy="683.78" r="1.9"/><circle cx="1700" cy="683.8" r="1.9"/><circle cx="1697.5" cy="683.82" r="1.9"/><circle cx="1695" cy="683.84" r="1.9"/><circle cx="1692.5" cy="683.87" r="1.9"/><circle cx="1690" cy="683.89" r="1.9"/><circle cx="1687.5" cy="683.92" r="1.9"/><circle cx="1685" cy="683.94" r="1.9"/><circle cx="1682.5" cy="683.97" r="1.9"/><circle cx="1680" cy="684" r="1.9"/><circle cx="1677.45" cy="684.03" r="1.9"/><circle cx="1674.79" cy="684.07" r="1.9"/><circle cx="1672.07" cy="684.1" r="1.9"/><circle cx="1669.3" cy="684.14" r="1.9"/><circle cx="1666.49" cy="684.18" r="1.9"/><circle cx="1663.68" cy="684.21" r="1.9"/><circle cx="1660.89" cy="684.25" r="1.9"/><circle cx="1658.12" cy="684.29" r="1.9"/><circle cx="1655.42" cy="684.33" r="1.9"/><circle cx="1652.8" cy="684.37" r="1.9"/><circle cx="1650.28" cy="684.41" r="1.9"/><circle cx="1647.89" cy="684.45" r="1.9"/><circle cx="1645.64" cy="684.49" r="1.9"/><circle cx="1643.56" cy="684.53" r="1.9"/><circle cx="1641.68" cy="684.56" r="1.9"/><circle cx="1640" cy="684.6" r="1.9"/><circle cx="1638.55" cy="684.63" r="1.9"/><circle cx="1637.3" cy="684.66" r="1.9"/><circle cx="1635.34" cy="684.71" r="1.9"/><circle cx="1633.96" cy="684.76" r="1.9"/><circle cx="1632.61" cy="684.83" r="1.9"/><circle cx="1631.31" cy="684.96" r="1.9"/><circle cx="1630" cy="685.1" r="1.9"/><circle cx="1628.46" cy="685.27" r="1.9"/><circle cx="1627.09" cy="685.45" r="1.9"/><circle cx="1625.77" cy="685.66" r="1.9"/><circle cx="1624.38" cy="685.93" r="1.9"/><circle cx="1622.79" cy="686.27" r="1.9"/><circle cx="1621.57" cy="686.54" r="1.9"/><circle cx="1620.19" cy="686.86" r="1.9"/><circle cx="1618.69" cy="687.22" r="1.9"/><circle cx="1617.13" cy="687.6" r="1.9"/><circle cx="1615.54" cy="688.01" r="1.9"/><circle cx="1613.96" cy="688.43" r="1.9"/><circle cx="1612.45" cy="688.86" r="1.9"/><circle cx="1611.05" cy="689.29" r="1.9"/><circle cx="1609.78" cy="689.71" r="1.9"/><circle cx="1608.59" cy="690.11" r="1.9"/><circle cx="1607.47" cy="690.51" r="1.9"/><circle cx="1605.88" cy="691.12" r="1.9"/><circle cx="1604.4" cy="691.79" r="1.9"/><circle cx="1603" cy="692.54" r="1.9"/><circle cx="1601.66" cy="693.41" r="1.9"/><circle cx="1600.4" cy="694.41" r="1.9"/><circle cx="1599.22" cy="695.52" r="1.9"/><circle cx="1597.79" cy="697.08" r="1.9"/><circle cx="1596.5" cy="698.63" r="1.9"/><circle cx="1595.38" cy="700.11" r="1.9"/><circle cx="1594.23" cy="701.95" r="1.9"/><circle cx="1593.07" cy="704.16" r="1.9"/><circle cx="1591.85" cy="706.74" r="1.9"/><circle cx="1590.7" cy="709.69" r="1.9"/><circle cx="1589.58" cy="712.96" r="1.9"/><circle cx="1588.39" cy="717.11" r="1.9"/><circle cx="1587.23" cy="721.92" r="1.9"/><circle cx="1586.12" cy="726.71" r="1.9"/><circle cx="1585" cy="732" r="1.9"/><circle cx="1583.89" cy="739.41" r="1.9"/><circle cx="1582.73" cy="747.08" r="1.9"/><circle cx="1581.59" cy="754.68" r="1.9"/><circle cx="1580.45" cy="762.84" r="1.9"/><circle cx="1579.29" cy="771.65" r="1.9"/><circle cx="1578.1" cy="780.77" r="1.9"/><circle cx="1576.99" cy="788.56" r="1.9"/><circle cx="1575.87" cy="795.84" r="1.9"/><circle cx="1574.76" cy="804.15" r="1.9"/><circle cx="1573.6" cy="806.52" r="1.9"/><circle cx="1572.38" cy="807.52" r="1.9"/><circle cx="1571.23" cy="807.5" r="1.9"/><circle cx="1570.03" cy="805.8" r="1.9"/><circle cx="1568.8" cy="802.9" r="1.9"/><circle cx="1567.67" cy="799.47" r="1.9"/><circle cx="1566.49" cy="794.49" r="1.9"/><circle cx="1565.3" cy="788.1" r="1.9"/><circle cx="1564.12" cy="781.97" r="1.9"/><circle cx="1562.94" cy="775.55" r="1.9"/><circle cx="1561.82" cy="768.94" r="1.9"/><circle cx="1560.69" cy="761.19" r="1.9"/><circle cx="1559.49" cy="751.99" r="1.9"/><circle cx="1558.3" cy="741.75" r="1.9"/><circle cx="1557.19" cy="731.51" r="1.9"/><circle cx="1556.03" cy="722.3" r="1.9"/><circle cx="1554.9" cy="714.3" r="1.9"/><circle cx="1553.77" cy="704.96" r="1.9"/><circle cx="1552.62" cy="698.29" r="1.9"/><circle cx="1551.44" cy="694.02" r="1.9"/><circle cx="1550.2" cy="691.9" r="1.9"/><circle cx="1548.94" cy="690.06" r="1.9"/><circle cx="1547.79" cy="688.72" r="1.9"/><circle cx="1546.6" cy="687.8" r="1.9"/><circle cx="1545.32" cy="687.07" r="1.9"/><circle cx="1543.93" cy="686.46" r="1.9"/><circle cx="1542.62" cy="686.05" r="1.9"/><circle cx="1540.92" cy="685.66" r="1.9"/><circle cx="1539.5" cy="685.4" r="1.9"/><circle cx="1537.69" cy="685.15" r="1.9"/><circle cx="1535.47" cy="684.91" r="1.9"/><circle cx="1534.25" cy="684.8" r="1.9"/><circle cx="1532.98" cy="684.69" r="1.9"/><circle cx="1531.69" cy="684.59" r="1.9"/><circle cx="1530.38" cy="684.48" r="1.9"/><circle cx="1529.08" cy="684.38" r="1.9"/><circle cx="1527.81" cy="684.27" r="1.9"/><circle cx="1526.59" cy="684.16" r="1.9"/><circle cx="1525.43" cy="684.06" r="1.9"/><circle cx="1523.37" cy="683.84" r="1.9"/><circle cx="1521.8" cy="683.6" r="1.9"/><circle cx="1520.31" cy="683.19" r="1.9"/><circle cx="1519.19" cy="682.15" r="1.9"/><circle cx="1519" cy="681.5" r="1.9"/></g>
<path d="M1520.16 823.19 L1520.42 823.11 L1520.73 823.03 L1521.09 822.93 L1521.48 822.82 L1521.9 822.7 L1522.34 822.57 L1522.79 822.45 L1523.26 822.32 L1523.74 822.18 L1524.21 822.05 L1524.69 821.91 L1525.17 821.78 L1525.65 821.64 L1526.13 821.5 L1526.61 821.37 L1527.09 821.23 L1527.57 821.09 L1528.06 820.96 L1528.54 820.82 L1529.02 820.68 L1529.5 820.54 L1529.97 820.4 L1530.45 820.26 L1530.93 820.12 L1531.41 819.98 L1531.89 819.84 L1532.37 819.69 L1532.85 819.55 L1533.33 819.4 L1533.81 819.26 L1534.28 819.12 L1534.76 818.97 L1535.24 818.83 L1535.72 818.68 L1536.2 818.54 L1536.68 818.39 L1537.15 818.25 L1537.63 818.11 L1538.11 817.96 L1538.59 817.82 L1539.07 817.68 L1539.55 817.54 L1540.03 817.4 L1540.51 817.26 L1540.99 817.12 L1541.47 816.98 L1541.95 816.84 L1542.43 816.7 L1542.91 816.56 L1543.39 816.43 L1543.87 816.29 L1544.35 816.16 L1544.83 816.02 L1545.31 815.89 L1545.79 815.75 L1546.27 815.62 L1546.76 815.49 L1547.24 815.35 L1547.72 815.22 L1548.2 815.09 L1548.68 814.96 L1549.17 814.83 L1549.65 814.7 L1550.13 814.57 L1550.61 814.44 L1551.1 814.31 L1551.58 814.18 L1552.06 814.06 L1552.55 813.93 L1553.03 813.8 L1553.51 813.67 L1554 813.55 L1554.48 813.42 L1554.96 813.29 L1555.45 813.17 L1555.93 813.04 L1556.41 812.92 L1556.9 812.79 L1557.38 812.67 L1557.86 812.54 L1558.35 812.41 L1558.83 812.29 L1559.31 812.16 L1559.8 812.04 L1560.28 811.91 L1560.77 811.78 L1561.25 811.66 L1561.73 811.53 L1562.22 811.41 L1562.7 811.28 L1563.18 811.15 L1563.67 811.03 L1564.15 810.9 L1564.63 810.77 L1565.11 810.64 L1565.6 810.51 L1566.08 810.38 L1566.56 810.26 L1567.04 810.13 L1567.53 810 L1568.01 809.87 L1568.49 809.73 L1568.97 809.6 L1569.46 809.47 L1569.94 809.34 L1570.42 809.21 L1570.9 809.07 L1571.38 808.94 L1571.86 808.8 L1572.34 808.67 L1572.83 808.53 L1573.31 808.4 L1573.79 808.26 L1574.27 808.13 L1574.75 807.99 L1575.23 807.85 L1575.71 807.72 L1576.19 807.58 L1576.67 807.44 L1577.15 807.3 L1577.63 807.16 L1578.11 807.02 L1578.59 806.88 L1579.07 806.74 L1579.55 806.6 L1580.03 806.46 L1580.51 806.32 L1580.99 806.18 L1581.47 806.04 L1581.95 805.9 L1582.43 805.76 L1582.9 805.62 L1583.38 805.48 L1583.86 805.34 L1584.34 805.19 L1584.82 805.05 L1585.3 804.91 L1585.78 804.76 L1586.26 804.62 L1586.73 804.48 L1587.21 804.33 L1587.69 804.19 L1588.17 804.04 L1588.65 803.89 L1589.12 803.75 L1589.6 803.6 L1590.08 803.45 L1590.56 803.3 L1591.03 803.16 L1591.51 803.01 L1591.99 802.86 L1592.46 802.71 L1592.94 802.56 L1593.42 802.42 L1593.9 802.27 L1594.37 802.12 L1594.85 801.97 L1595.33 801.82 L1595.81 801.68 L1596.28 801.53 L1596.76 801.38 L1597.24 801.24 L1597.72 801.09 L1598.2 800.95 L1598.67 800.8 L1599.15 800.66 L1599.63 800.51 L1600.11 800.37 L1600.59 800.23 L1601.07 800.09 L1601.55 799.94 L1602.02 799.8 L1602.5 799.66 L1602.98 799.52 L1603.46 799.38 L1603.94 799.24 L1604.42 799.1 L1604.9 798.96 L1605.38 798.82 L1605.86 798.68 L1606.34 798.54 L1606.82 798.4 L1607.3 798.26 L1607.78 798.12 L1608.26 797.98 L1608.74 797.84 L1609.22 797.7 L1609.7 797.56 L1610.18 797.42 L1610.66 797.28 L1611.14 797.14 L1611.62 797 L1612.1 796.87 L1612.58 796.73 L1613.06 796.59 L1613.54 796.45 L1614.02 796.31 L1614.5 796.17 L1614.98 796.02 L1615.45 795.88 L1615.93 795.74 L1616.41 795.6 L1616.89 795.46 L1617.37 795.32 L1617.85 795.18 L1618.33 795.04 L1618.81 794.89 L1619.29 794.75 L1619.77 794.61 L1620.25 794.46 L1620.72 794.32 L1621.2 794.18 L1621.68 794.03 L1622.16 793.89 L1622.64 793.75 L1623.12 793.6 L1623.59 793.46 L1624.07 793.31 L1624.55 793.17 L1625.03 793.02 L1625.51 792.88 L1625.99 792.73 L1626.46 792.59 L1626.94 792.44 L1627.42 792.3 L1627.9 792.15 L1628.38 792.01 L1628.85 791.86 L1629.33 791.72 L1629.81 791.57 L1630.29 791.42 L1630.76 791.28 L1631.24 791.13 L1631.72 790.98 L1632.2 790.84 L1632.67 790.69 L1633.15 790.54 L1633.63 790.39 L1634.11 790.25 L1634.58 790.1 L1635.06 789.95 L1635.54 789.8 L1636.02 789.65 L1636.49 789.51 L1636.97 789.36 L1637.45 789.21 L1637.92 789.06 L1638.4 788.91 L1638.88 788.76 L1639.35 788.61 L1639.83 788.46 L1640.31 788.31 L1640.78 788.16 L1641.26 788.01 L1641.74 787.86 L1642.21 787.71 L1642.69 787.56 L1643.17 787.41 L1643.64 787.26 L1644.12 787.11 L1644.6 786.96 L1645.07 786.81 L1645.55 786.66 L1646.02 786.5 L1646.5 786.35 L1646.98 786.2 L1647.45 786.05 L1647.93 785.9 L1648.4 785.74 L1648.88 785.59 L1649.36 785.44 L1649.83 785.29 L1650.31 785.13 L1650.78 784.98 L1651.26 784.83 L1651.73 784.68 L1652.21 784.52 L1652.69 784.37 L1653.16 784.22 L1653.64 784.06 L1654.11 783.91 L1654.59 783.76 L1655.06 783.6 L1655.54 783.45 L1656.01 783.29 L1656.49 783.14 L1656.96 782.99 L1657.44 782.83 L1657.91 782.68 L1658.39 782.52 L1658.86 782.37 L1659.34 782.21 L1659.81 782.06 L1660.29 781.9 L1660.76 781.75 L1661.24 781.59 L1661.71 781.44 L1662.19 781.28 L1662.66 781.13 L1663.14 780.97 L1663.61 780.82 L1664.09 780.66 L1664.56 780.5 L1665.04 780.35 L1665.51 780.19 L1665.99 780.03 L1666.46 779.88 L1666.94 779.72 L1667.41 779.56 L1667.88 779.41 L1668.36 779.25 L1668.83 779.09 L1669.31 778.94 L1669.78 778.78 L1670.26 778.62 L1670.73 778.46 L1671.2 778.31 L1671.68 778.15 L1672.15 777.99 L1672.63 777.83 L1673.1 777.67 L1673.57 777.52 L1674.05 777.36 L1674.52 777.2 L1675 777.04 L1675.47 776.88 L1675.94 776.72 L1676.42 776.56 L1676.89 776.41 L1677.36 776.25 L1677.84 776.09 L1678.31 775.93 L1678.78 775.77 L1679.26 775.61 L1679.73 775.45 L1680.21 775.29 L1680.68 775.13 L1681.15 774.97 L1681.63 774.81 L1682.1 774.65 L1682.57 774.49 L1683.04 774.33 L1683.52 774.17 L1683.99 774 L1684.46 773.84 L1684.93 773.68 L1685.41 773.52 L1685.88 773.35 L1686.35 773.19 L1686.82 773.03 L1687.3 772.86 L1687.77 772.7 L1688.24 772.53 L1688.71 772.37 L1689.18 772.21 L1689.65 772.04 L1690.13 771.88 L1690.6 771.71 L1691.07 771.55 L1691.54 771.39 L1692.01 771.22 L1692.49 771.06 L1692.96 770.89 L1693.43 770.73 L1693.9 770.57 L1694.37 770.4 L1694.85 770.24 L1695.32 770.07 L1695.79 769.91 L1696.26 769.74 L1696.73 769.58 L1697.2 769.41 L1697.68 769.25 L1698.15 769.08 L1698.62 768.92 L1699.09 768.75 L1699.56 768.58 L1700.03 768.42 L1700.5 768.25 L1700.97 768.08 L1701.44 767.92 L1701.91 767.75 L1702.39 767.58 L1702.86 767.41 L1703.33 767.24 L1703.8 767.07 L1704.27 766.9 L1704.73 766.73 L1705.2 766.56 L1705.67 766.39 L1706.14 766.22 L1706.61 766.04 L1707.08 765.87 L1707.55 765.7 L1708.02 765.53 L1708.49 765.35 L1708.96 765.18 L1709.42 765.01 L1709.89 764.83 L1710.36 764.66 L1710.83 764.48 L1711.3 764.31 L1711.76 764.13 L1712.23 763.95 L1712.7 763.78 L1713.17 763.6 L1713.63 763.42 L1714.1 763.24 L1714.57 763.07 L1715.03 762.89 L1715.5 762.71 L1715.97 762.53 L1716.43 762.35 L1716.9 762.17 L1717.36 761.98 L1717.83 761.8 L1718.29 761.62 L1718.76 761.44 L1719.22 761.25 L1719.69 761.07 L1720.15 760.88 L1720.61 760.7 L1721.08 760.51 L1721.54 760.32 L1722 760.14 L1722.47 759.95 L1722.93 759.76 L1723.39 759.57 L1723.86 759.39 L1724.32 759.2 L1724.78 759.01 L1725.24 758.82 L1725.71 758.63 L1726.17 758.44 L1726.63 758.24 L1727.09 758.05 L1727.55 757.86 L1728.01 757.67 L1728.47 757.48 L1728.94 757.29 L1729.4 757.09 L1729.86 756.9 L1730.32 756.71 L1730.78 756.51 L1731.24 756.32 L1731.7 756.13 L1732.16 755.93 L1732.62 755.74 L1733.08 755.54 L1733.54 755.35 L1734 755.15 L1734.46 754.96 L1734.92 754.76 L1735.38 754.57 L1735.84 754.37 L1736.3 754.18 L1736.76 753.98 L1737.22 753.79 L1737.68 753.59 L1738.14 753.39 L1738.6 753.19 L1739.05 752.99 L1739.51 752.79 L1739.97 752.59 L1740.43 752.39 L1740.88 752.19 L1741.34 751.99 L1741.8 751.78 L1742.25 751.58 L1742.71 751.37 L1743.16 751.16 L1743.61 750.95 L1744.07 750.74 L1744.52 750.53 L1744.97 750.32 L1745.42 750.1 L1745.87 749.88 L1746.32 749.67 L1746.77 749.45 L1747.22 749.23 L1747.67 749.01 L1748.11 748.78 L1748.56 748.56 L1749.01 748.33 L1749.45 748.11 L1749.9 747.88 L1750.34 747.65 L1750.79 747.42 L1751.23 747.19 L1751.67 746.96 L1752.11 746.73 L1752.56 746.5 L1753 746.26 L1753.44 746.03 L1753.88 745.79 L1754.32 745.56 L1754.76 745.33 L1755.2 745.09 L1755.65 744.86 L1756.09 744.62 L1756.53 744.38 L1756.97 744.15 L1757.41 743.91 L1757.85 743.67 L1758.29 743.44 L1758.72 743.2 L1759.16 742.95 L1759.6 742.71 L1760.03 742.47 L1760.47 742.22 L1760.9 741.97 L1761.33 741.72 L1761.76 741.46 L1762.19 741.21 L1762.61 740.94 L1763.04 740.68 L1763.46 740.41 L1763.87 740.13 L1764.29 739.85 L1764.7 739.57 L1765.11 739.28 L1765.51 738.99 L1765.91 738.7 L1766.31 738.4 L1766.71 738.09 L1767.1 737.79 L1767.5 737.48 L1767.88 737.16 L1768.27 736.85 L1768.65 736.53 L1769.03 736.2 L1769.41 735.88 L1769.79 735.55 L1770.16 735.22 L1770.54 734.89 L1770.91 734.55 L1771.27 734.21 L1771.64 733.87 L1772 733.53 L1772.37 733.19 L1772.72 732.84 L1773.08 732.49 L1773.44 732.14 L1773.79 731.78 L1774.14 731.43 L1774.49 731.07 L1774.83 730.71 L1775.18 730.35 L1775.52 729.99 L1775.87 729.62 L1776.21 729.26 L1776.55 728.89 L1776.88 728.52 L1777.22 728.15 L1777.56 727.78 L1777.89 727.41 L1778.22 727.04 L1778.55 726.66 L1778.88 726.28 L1779.2 725.91 L1779.53 725.52 L1779.85 725.14 L1780.17 724.76 L1780.48 724.37 L1780.8 723.98 L1781.11 723.6 L1781.42 723.2 L1781.73 722.81 L1782.04 722.42 L1782.34 722.02 L1782.65 721.63 L1782.95 721.23 L1783.25 720.83 L1783.55 720.43 L1783.84 720.03 L1784.14 719.62 L1784.43 719.22 L1784.72 718.81 L1785.01 718.4 L1785.29 717.99 L1785.58 717.58 L1785.86 717.17 L1786.14 716.75 L1786.42 716.34 L1786.69 715.92 L1786.96 715.5 L1787.24 715.08 L1787.5 714.66 L1787.77 714.24 L1788.03 713.82 L1788.29 713.39 L1788.55 712.96 L1788.81 712.53 L1789.06 712.1 L1789.31 711.67 L1789.56 711.24 L1789.8 710.8 L1790.04 710.36 L1790.28 709.92 L1790.51 709.48 L1790.75 709.04 L1790.97 708.59 L1791.2 708.15 L1791.42 707.7 L1791.64 707.25 L1791.86 706.8 L1792.07 706.35 L1792.28 705.9 L1792.49 705.45 L1792.7 704.99 L1792.91 704.54 L1793.11 704.08 L1793.31 703.62 L1793.51 703.16 L1793.7 702.7 L1793.9 702.24 L1794.09 701.78 L1794.28 701.32 L1794.46 700.86 L1794.65 700.39 L1794.83 699.93 L1795.01 699.46 L1795.19 699 L1795.37 698.53 L1795.55 698.06 L1795.72 697.59 L1795.89 697.12 L1796.05 696.65 L1796.21 696.18 L1796.37 695.7 L1796.52 695.23 L1796.66 694.75 L1796.8 694.27 L1796.93 693.79 L1797.06 693.31 L1797.18 692.82 L1797.3 692.34 L1797.42 691.85 L1797.53 691.37 L1797.64 690.88 L1797.74 690.39 L1797.85 689.9 L1797.95 689.41 L1798.06 688.92 L1798.16 688.44 L1798.26 687.95 L1798.36 687.46 L1798.46 686.97 L1798.56 686.48 L1798.66 685.99 L1798.77 685.5 L1798.87 685.01 L1798.97 684.52 L1799.07 684.03 L1799.17 683.54 L1799.27 683.05 L1799.37 682.56 L1799.47 682.07 L1799.57 681.58 L1799.67 681.09 L1799.77 680.61 L1799.87 680.12 L1799.97 679.63 L1800.07 679.14 L1800.17 678.65 L1800.27 678.16 L1800.37 677.67 L1800.47 677.18 L1800.57 676.69 L1800.67 676.2 L1800.77 675.71 L1800.88 675.22 L1800.98 674.73 L1801.08 674.24 L1801.19 673.76 L1801.29 673.27 L1801.39 672.78 L1801.49 672.29 L1801.59 671.8 L1801.69 671.31 L1801.79 670.82 L1801.89 670.33 L1801.98 669.84 L1802.07 669.35 L1802.16 668.86 L1802.25 668.36 L1802.33 667.87 L1802.41 667.38 L1802.49 666.89 L1802.57 666.39 L1802.64 665.9 L1802.71 665.4 L1802.78 664.91 L1802.85 664.41 L1802.91 663.92 L1802.98 663.42 L1803.04 662.93 L1803.11 662.43 L1803.17 661.94 L1803.23 661.44 L1803.3 660.94 L1803.36 660.45 L1803.42 659.95 L1803.49 659.46 L1803.55 658.96 L1803.62 658.47 L1803.69 657.97 L1803.76 657.48 L1803.83 656.98 L1803.9 656.49 L1803.98 656 L1804.06 655.5 L1804.14 655.01 L1804.22 654.52 L1804.3 654.02 L1804.38 653.53 L1804.47 653.04 L1804.55 652.55 L1804.64 652.05 L1804.73 651.56 L1804.82 651.07 L1804.9 650.58 L1804.99 650.09 L1805.07 649.59 L1805.16 649.1 L1805.24 648.61 L1805.33 648.12 L1805.41 647.62 L1805.49 647.13 L1805.57 646.64 L1805.64 646.14 L1805.72 645.65 L1805.79 645.16 L1805.86 644.66 L1805.93 644.17 L1805.99 643.67 L1806.06 643.17 L1806.12 642.68 L1806.18 642.18 L1806.24 641.69 L1806.3 641.19 L1806.36 640.69 L1806.41 640.2 L1806.47 639.7 L1806.52 639.2 L1806.57 638.71 L1806.63 638.21 L1806.68 637.71 L1806.73 637.22 L1806.78 636.72 L1806.83 636.22 L1806.88 635.73 L1806.93 635.23 L1806.98 634.73 L1807.04 634.24 L1807.09 633.74 L1807.14 633.24 L1807.19 632.74 L1807.25 632.25 L1807.3 631.75 L1807.35 631.25 L1807.41 630.76 L1807.47 630.26 L1807.52 629.76 L1807.58 629.27 L1807.64 628.77 L1807.69 628.28 L1807.75 627.78 L1807.81 627.28 L1807.87 626.79 L1807.93 626.29 L1807.99 625.79 L1808.04 625.3 L1808.1 624.8 L1808.16 624.31 L1808.22 623.81 L1808.28 623.31 L1808.34 622.82 L1808.4 622.32 L1808.46 621.83 L1808.51 621.33 L1808.57 620.83 L1808.63 620.34 L1808.69 619.84 L1808.74 619.34 L1808.8 618.85 L1808.86 618.35 L1808.91 617.85 L1808.97 617.36 L1809.02 616.86 L1809.08 616.36 L1809.13 615.87 L1809.18 615.37 L1809.23 614.87 L1809.29 614.38 L1809.34 613.88 L1809.39 613.38 L1809.44 612.89 L1809.49 612.39 L1809.54 611.89 L1809.59 611.4 L1809.64 610.9 L1809.69 610.4 L1809.74 609.9 L1809.79 609.41 L1809.84 608.91 L1809.9 608.41 L1809.95 607.92 L1810 607.42 L1810.05 606.92 L1810.1 606.42 L1810.16 605.93 L1810.21 605.43 L1810.26 604.93 L1810.32 604.44 L1810.38 603.94 L1810.43 603.45 L1810.49 602.95 L1810.55 602.45 L1810.61 601.96 L1810.67 601.46 L1810.73 600.97 L1810.79 600.47 L1810.86 599.97 L1810.92 599.48 L1810.99 598.98 L1811.05 598.49 L1811.12 597.99 L1811.18 597.5 L1811.25 597 L1811.32 596.51 L1811.38 596.01 L1811.45 595.52 L1811.52 595.02 L1811.58 594.53 L1811.65 594.03 L1811.72 593.54 L1811.78 593.04 L1811.85 592.55 L1811.92 592.05 L1811.98 591.55 L1812.04 591.06 L1812.11 590.56 L1812.17 590.07 L1812.23 589.57 L1812.29 589.08 L1812.35 588.58 L1812.41 588.08 L1812.47 587.59 L1812.53 587.09 L1812.58 586.6 L1812.64 586.1 L1812.69 585.6 L1812.75 585.11 L1812.8 584.61 L1812.85 584.11 L1812.91 583.61 L1812.96 583.12 L1813.01 582.62 L1813.07 582.12 L1813.12 581.63 L1813.18 581.13 L1813.23 580.63 L1813.29 580.14 L1813.35 579.64 L1813.41 579.15 L1813.47 578.65 L1813.53 578.15 L1813.59 577.66 L1813.66 577.16 L1813.72 576.67 L1813.79 576.17 L1813.86 575.68 L1813.93 575.18 L1814 574.69 L1814.08 574.2 L1814.15 573.7 L1814.23 573.21 L1814.31 572.71 L1814.39 572.22 L1814.47 571.73 L1814.55 571.24 L1814.63 570.74 L1814.71 570.25 L1814.8 569.76 L1814.88 569.26 L1814.97 568.77 L1815.05 568.28 L1815.14 567.79 L1815.22 567.3 L1815.31 566.8 L1815.39 566.31 L1815.48 565.82 L1815.57 565.33 L1815.65 564.83 L1815.74 564.34 L1815.83 563.85 L1815.91 563.36 L1816 562.87 L1816.09 562.37 L1816.18 561.88 L1816.26 561.39 L1816.35 560.9 L1816.44 560.41 L1816.53 559.92 L1816.62 559.42 L1816.71 558.93 L1816.8 558.44 L1816.89 557.95 L1816.98 557.46 L1817.07 556.97 L1817.17 556.48 L1817.26 555.99 L1817.35 555.49 L1817.45 555 L1817.54 554.51 L1817.63 554.02 L1817.72 553.53 L1817.82 553.04 L1817.91 552.55 L1818 552.06 L1818.1 551.57 L1818.19 551.08 L1818.28 550.59 L1818.38 550.1 L1818.48 549.61 L1818.57 549.12 L1818.67 548.63 L1818.78 548.14 L1818.88 547.65 L1818.99 547.16 L1819.1 546.67 L1819.21 546.19 L1819.33 545.7 L1819.45 545.22 L1819.57 544.73 L1819.7 544.25 L1819.83 543.77 L1819.96 543.28 L1820.09 542.8 L1820.23 542.32 L1820.36 541.84 L1820.5 541.36 L1820.64 540.88 L1820.77 540.4 L1820.91 539.92 L1821.05 539.44 L1821.18 538.96 L1821.32 538.48 L1821.45 538 L1821.59 537.52 L1821.72 537.03 L1821.85 536.55 L1821.99 536.07 L1822.13 535.59 L1822.27 535.11 L1822.41 534.63 L1822.56 534.16 L1822.71 533.68 L1822.86 533.2 L1823.01 532.73 L1823.17 532.25 L1823.33 531.78 L1823.49 531.31 L1823.66 530.84 L1823.84 530.37 L1824.02 529.91 L1824.21 529.45 L1824.41 529 L1824.62 528.55 L1824.85 528.11 L1825.09 527.69 L1825.35 527.27 L1825.63 526.87 L1825.93 526.48 L1826.25 526.11 L1826.59 525.76 L1826.95 525.42 L1827.32 525.1 L1827.7 524.79 L1828.1 524.49 L1828.5 524.2 L1828.91 523.92 L1829.32 523.64 L1829.74 523.37 L1830.17 523.11 L1830.59 522.85 L1831.02 522.59 L1831.45 522.34 L1831.89 522.1 L1832.33 521.86 L1832.77 521.63 L1833.21 521.4 L1833.66 521.18 L1834.11 520.96 L1834.56 520.75 L1835.01 520.54 L1835.47 520.33 L1835.92 520.13 L1836.38 519.93 L1836.84 519.73 L1837.3 519.53 L1837.76 519.34 L1838.22 519.15 L1838.68 518.95 L1839.14 518.76 L1839.6 518.58 L1840.07 518.39 L1840.53 518.2 L1840.99 518.01 L1841.46 517.83 L1841.92 517.64 L1842.39 517.46 L1842.85 517.28 L1843.32 517.09 L1843.78 516.91 L1844.25 516.73 L1844.71 516.55 L1845.18 516.37 L1845.65 516.2 L1846.12 516.02 L1846.58 515.84 L1847.05 515.67 L1847.52 515.5 L1847.99 515.32 L1848.46 515.15 L1848.93 514.99 L1849.4 514.82 L1849.87 514.65 L1850.34 514.49 L1850.82 514.33 L1851.29 514.16 L1851.76 514 L1852.23 513.84 L1852.71 513.68 L1853.18 513.52 L1853.65 513.37 L1854.12 513.21 L1854.59 513.06 L1855.05 512.9 L1855.5 512.76 L1855.94 512.61 L1856.35 512.48 L1856.73 512.35 L1857.08 512.23 L1857.39 512.13 L1857.65 512.05" fill="none" stroke="#000" stroke-width="1.8"/>
<g fill="#f4f4f4" stroke="#000" stroke-width="1.7"><circle cx="1520.16" cy="823.19" r="2"/><circle cx="1521.9" cy="822.7" r="2"/><circle cx="1523.74" cy="822.18" r="2"/><circle cx="1525.65" cy="821.64" r="2"/><circle cx="1527.57" cy="821.09" r="2"/><circle cx="1529.5" cy="820.54" r="2"/><circle cx="1531.41" cy="819.98" r="2"/><circle cx="1533.33" cy="819.4" r="2"/><circle cx="1535.24" cy="818.83" r="2"/><circle cx="1537.15" cy="818.25" r="2"/><circle cx="1539.07" cy="817.68" r="2"/><circle cx="1540.99" cy="817.12" r="2"/><circle cx="1542.91" cy="816.56" r="2"/><circle cx="1544.83" cy="816.02" r="2"/><circle cx="1546.76" cy="815.49" r="2"/><circle cx="1548.68" cy="814.96" r="2"/><circle cx="1550.61" cy="814.44" r="2"/><circle cx="1552.55" cy="813.93" r="2"/><circle cx="1554.48" cy="813.42" r="2"/><circle cx="1556.41" cy="812.92" r="2"/><circle cx="1558.35" cy="812.41" r="2"/><circle cx="1560.28" cy="811.91" r="2"/><circle cx="1562.22" cy="811.41" r="2"/><circle cx="1564.15" cy="810.9" r="2"/><circle cx="1566.08" cy="810.38" r="2"/><circle cx="1568.01" cy="809.87" r="2"/><circle cx="1569.94" cy="809.34" r="2"/><circle cx="1571.86" cy="808.8" r="2"/><circle cx="1573.79" cy="808.26" r="2"/><circle cx="1575.71" cy="807.72" r="2"/><circle cx="1577.63" cy="807.16" r="2"/><circle cx="1579.55" cy="806.6" r="2"/><circle cx="1581.47" cy="806.04" r="2"/><circle cx="1583.38" cy="805.48" r="2"/><circle cx="1585.3" cy="804.91" r="2"/><circle cx="1587.21" cy="804.33" r="2"/><circle cx="1589.12" cy="803.75" r="2"/><circle cx="1591.03" cy="803.16" r="2"/><circle cx="1592.94" cy="802.56" r="2"/><circle cx="1594.85" cy="801.97" r="2"/><circle cx="1596.76" cy="801.38" r="2"/><circle cx="1598.67" cy="800.8" r="2"/><circle cx="1600.59" cy="800.23" r="2"/><circle cx="1602.5" cy="799.66" r="2"/><circle cx="1604.42" cy="799.1" r="2"/><circle cx="1606.34" cy="798.54" r="2"/><circle cx="1608.26" cy="797.98" r="2"/><circle cx="1610.18" cy="797.42" r="2"/><circle cx="1612.1" cy="796.87" r="2"/><circle cx="1614.02" cy="796.31" r="2"/><circle cx="1615.93" cy="795.74" r="2"/><circle cx="1617.85" cy="795.18" r="2"/><circle cx="1619.77" cy="794.61" r="2"/><circle cx="1621.68" cy="794.03" r="2"/><circle cx="1623.59" cy="793.46" r="2"/><circle cx="1625.51" cy="792.88" r="2"/><circle cx="1627.42" cy="792.3" r="2"/><circle cx="1629.33" cy="791.72" r="2"/><circle cx="1631.24" cy="791.13" r="2"/><circle cx="1633.15" cy="790.54" r="2"/><circle cx="1635.06" cy="789.95" r="2"/><circle cx="1636.97" cy="789.36" r="2"/><circle cx="1638.88" cy="788.76" r="2"/><circle cx="1640.78" cy="788.16" r="2"/><circle cx="1642.69" cy="787.56" r="2"/><circle cx="1644.6" cy="786.96" r="2"/><circle cx="1646.5" cy="786.35" r="2"/><circle cx="1648.4" cy="785.74" r="2"/><circle cx="1650.31" cy="785.13" r="2"/><circle cx="1652.21" cy="784.52" r="2"/><circle cx="1654.11" cy="783.91" r="2"/><circle cx="1656.01" cy="783.29" r="2"/><circle cx="1657.91" cy="782.68" r="2"/><circle cx="1659.81" cy="782.06" r="2"/><circle cx="1661.71" cy="781.44" r="2"/><circle cx="1663.61" cy="780.82" r="2"/><circle cx="1665.51" cy="780.19" r="2"/><circle cx="1667.41" cy="779.56" r="2"/><circle cx="1669.31" cy="778.94" r="2"/><circle cx="1671.2" cy="778.31" r="2"/><circle cx="1673.1" cy="777.67" r="2"/><circle cx="1675" cy="777.04" r="2"/><circle cx="1676.89" cy="776.41" r="2"/><circle cx="1678.78" cy="775.77" r="2"/><circle cx="1680.68" cy="775.13" r="2"/><circle cx="1682.57" cy="774.49" r="2"/><circle cx="1684.46" cy="773.84" r="2"/><circle cx="1686.35" cy="773.19" r="2"/><circle cx="1688.24" cy="772.53" r="2"/><circle cx="1690.13" cy="771.88" r="2"/><circle cx="1692.01" cy="771.22" r="2"/><circle cx="1693.9" cy="770.57" r="2"/><circle cx="1695.79" cy="769.91" r="2"/><circle cx="1697.68" cy="769.25" r="2"/><circle cx="1699.56" cy="768.58" r="2"/><circle cx="1701.44" cy="767.92" r="2"/><circle cx="1703.33" cy="767.24" r="2"/><circle cx="1705.2" cy="766.56" r="2"/><circle cx="1707.08" cy="765.87" r="2"/><circle cx="1708.96" cy="765.18" r="2"/><circle cx="1710.83" cy="764.48" r="2"/><circle cx="1712.7" cy="763.78" r="2"/><circle cx="1714.57" cy="763.07" r="2"/><circle cx="1716.43" cy="762.35" r="2"/><circle cx="1718.29" cy="761.62" r="2"/><circle cx="1720.15" cy="760.88" r="2"/><circle cx="1722" cy="760.14" r="2"/><circle cx="1723.86" cy="759.39" r="2"/><circle cx="1725.71" cy="758.63" r="2"/><circle cx="1727.55" cy="757.86" r="2"/><circle cx="1729.4" cy="757.09" r="2"/><circle cx="1731.24" cy="756.32" r="2"/><circle cx="1733.08" cy="755.54" r="2"/><circle cx="1734.92" cy="754.76" r="2"/><circle cx="1736.76" cy="753.98" r="2"/><circle cx="1738.6" cy="753.19" r="2"/><circle cx="1740.43" cy="752.39" r="2"/><circle cx="1742.25" cy="751.58" r="2"/><circle cx="1744.07" cy="750.74" r="2"/><circle cx="1745.87" cy="749.88" r="2"/><circle cx="1747.67" cy="749.01" r="2"/><circle cx="1749.45" cy="748.11" r="2"/><circle cx="1751.23" cy="747.19" r="2"/><circle cx="1753" cy="746.26" r="2"/><circle cx="1754.76" cy="745.33" r="2"/><circle cx="1756.53" cy="744.38" r="2"/><circle cx="1758.29" cy="743.44" r="2"/><circle cx="1760.03" cy="742.47" r="2"/><circle cx="1761.76" cy="741.46" r="2"/><circle cx="1763.87" cy="740.13" r="2"/><circle cx="1765.91" cy="738.7" r="2"/><circle cx="1767.88" cy="737.16" r="2"/><circle cx="1769.79" cy="735.55" r="2"/><circle cx="1771.64" cy="733.87" r="2"/><circle cx="1773.44" cy="732.14" r="2"/><circle cx="1775.18" cy="730.35" r="2"/><circle cx="1776.88" cy="728.52" r="2"/><circle cx="1778.88" cy="726.28" r="2"/><circle cx="1780.8" cy="723.98" r="2"/><circle cx="1782.65" cy="721.63" r="2"/><circle cx="1784.43" cy="719.22" r="2"/><circle cx="1786.14" cy="716.75" r="2"/><circle cx="1788.03" cy="713.82" r="2"/><circle cx="1789.8" cy="710.8" r="2"/><circle cx="1791.64" cy="707.25" r="2"/><circle cx="1793.51" cy="703.16" r="2"/><circle cx="1795.37" cy="698.53" r="2"/><circle cx="1797.18" cy="692.82" r="2"/><circle cx="1798.97" cy="684.52" r="2"/><circle cx="1800.67" cy="676.2" r="2"/><circle cx="1802.41" cy="667.38" r="2"/><circle cx="1804.14" cy="655.01" r="2"/><circle cx="1805.86" cy="644.66" r="2"/><circle cx="1807.58" cy="629.27" r="2"/><circle cx="1809.29" cy="614.38" r="2"/><circle cx="1811.05" cy="598.49" r="2"/><circle cx="1812.8" cy="584.61" r="2"/><circle cx="1814.55" cy="571.24" r="2"/><circle cx="1816.26" cy="561.39" r="2"/><circle cx="1818" cy="552.06" r="2"/><circle cx="1819.83" cy="543.77" r="2"/><circle cx="1821.59" cy="537.52" r="2"/><circle cx="1823.33" cy="531.78" r="2"/><circle cx="1825.09" cy="527.69" r="2"/><circle cx="1826.95" cy="525.42" r="2"/><circle cx="1828.91" cy="523.92" r="2"/><circle cx="1831.02" cy="522.59" r="2"/><circle cx="1832.77" cy="521.63" r="2"/><circle cx="1834.56" cy="520.75" r="2"/><circle cx="1836.38" cy="519.93" r="2"/><circle cx="1838.22" cy="519.15" r="2"/><circle cx="1840.07" cy="518.39" r="2"/><circle cx="1841.92" cy="517.64" r="2"/><circle cx="1843.78" cy="516.91" r="2"/><circle cx="1845.65" cy="516.2" r="2"/><circle cx="1847.52" cy="515.5" r="2"/><circle cx="1849.4" cy="514.82" r="2"/><circle cx="1851.29" cy="514.16" r="2"/><circle cx="1853.18" cy="513.52" r="2"/><circle cx="1855.05" cy="512.9" r="2"/><circle cx="1857.08" cy="512.23" r="2"/><circle cx="1857.65" cy="512.05" r="2"/></g>
<line x1="1691.3" y1="538.7" x2="1652.58" y2="556.29" stroke="#111" stroke-width="1.4"/>
<path d="M1645.3 559.6 L1650.93 552.65 L1654.24 559.93 Z" fill="#111" stroke="none" stroke-width="1" />
<line x1="1678.4" y1="796" x2="1715.17" y2="779.91" stroke="#111" stroke-width="1.4"/>
<path d="M1722.5 776.7 L1716.77 783.57 L1713.57 776.24 Z" fill="#111" stroke="none" stroke-width="1" />
<line x1="1783.5" y1="569.3" x2="1771.96" y2="608.53" stroke="#f02020" stroke-width="1.3"/>
<path d="M1769.7 616.2 L1768.31 607.45 L1775.6 609.6 Z" fill="#f02020" stroke="none" stroke-width="1" />
<line x1="1596.4" y1="769.6" x2="1608.21" y2="729.97" stroke="#f02020" stroke-width="1.3"/>
<path d="M1610.5 722.3 L1611.86 731.05 L1604.57 728.88 Z" fill="#f02020" stroke="none" stroke-width="1" />
<line x1="1476.2" y1="480.3" x2="1902.2" y2="480.3" stroke="#333" stroke-width="1.3" />
<line x1="1476.2" y1="480.3" x2="1476.2" y2="854.5" stroke="#333" stroke-width="1.3" />
<line x1="1476.2" y1="854.5" x2="1902.2" y2="854.5" stroke="#333" stroke-width="1.5" />
<line x1="1902.2" y1="480.3" x2="1902.2" y2="854.5" stroke="#ec5050" stroke-width="1.2" />
<line x1="1476.2" y1="791.9" x2="1483.5" y2="791.9" stroke="#333" stroke-width="1.3" />
<line x1="1476.2" y1="667.3" x2="1483.5" y2="667.3" stroke="#333" stroke-width="1.3" />
<line x1="1476.2" y1="542.7" x2="1483.5" y2="542.7" stroke="#333" stroke-width="1.3" />
<line x1="1476.2" y1="854.2" x2="1479.8" y2="854.2" stroke="#333" stroke-width="1.3" />
<line x1="1476.2" y1="729.6" x2="1479.8" y2="729.6" stroke="#333" stroke-width="1.3" />
<line x1="1476.2" y1="605" x2="1479.8" y2="605" stroke="#333" stroke-width="1.3" />
<line x1="1476.2" y1="480.4" x2="1479.8" y2="480.4" stroke="#333" stroke-width="1.3" />
<line x1="1518.9" y1="854.5" x2="1518.9" y2="847.5" stroke="#333" stroke-width="1.3" />
<line x1="1604.2" y1="854.5" x2="1604.2" y2="847.5" stroke="#333" stroke-width="1.3" />
<line x1="1689.5" y1="854.5" x2="1689.5" y2="847.5" stroke="#333" stroke-width="1.3" />
<line x1="1774.8" y1="854.5" x2="1774.8" y2="847.5" stroke="#333" stroke-width="1.3" />
<line x1="1860.1" y1="854.5" x2="1860.1" y2="847.5" stroke="#333" stroke-width="1.3" />
<line x1="1476.25" y1="854.5" x2="1476.25" y2="851" stroke="#333" stroke-width="1.3" />
<line x1="1561.55" y1="854.5" x2="1561.55" y2="851" stroke="#333" stroke-width="1.3" />
<line x1="1646.85" y1="854.5" x2="1646.85" y2="851" stroke="#333" stroke-width="1.3" />
<line x1="1732.15" y1="854.5" x2="1732.15" y2="851" stroke="#333" stroke-width="1.3" />
<line x1="1817.45" y1="854.5" x2="1817.45" y2="851" stroke="#333" stroke-width="1.3" />
<line x1="1902.75" y1="854.5" x2="1902.75" y2="851" stroke="#333" stroke-width="1.3" />
<line x1="1902.2" y1="782.58" x2="1895.2" y2="782.58" stroke="#ec5050" stroke-width="1.2" />
<line x1="1902.2" y1="677.3" x2="1895.2" y2="677.3" stroke="#ec5050" stroke-width="1.2" />
<line x1="1902.2" y1="572.02" x2="1895.2" y2="572.02" stroke="#ec5050" stroke-width="1.2" />
<line x1="1902.2" y1="835.22" x2="1898.7" y2="835.22" stroke="#ec5050" stroke-width="1.2" />
<line x1="1902.2" y1="729.94" x2="1898.7" y2="729.94" stroke="#ec5050" stroke-width="1.2" />
<line x1="1902.2" y1="624.66" x2="1898.7" y2="624.66" stroke="#ec5050" stroke-width="1.2" />
<line x1="1902.2" y1="519.38" x2="1898.7" y2="519.38" stroke="#ec5050" stroke-width="1.2" />
<text x="1467" y="550.8" font-size="24.5" text-anchor="end" fill="#000" >10</text>
<text x="1467" y="675.4" font-size="24.5" text-anchor="end" fill="#000" >0</text>
<text x="1467" y="800" font-size="24.5" text-anchor="end" fill="#000" >−10</text>
<text x="1518.9" y="882" font-size="24.5" text-anchor="middle" fill="#000" >−40</text>
<text x="1604.2" y="882" font-size="24.5" text-anchor="middle" fill="#000" >−20</text>
<text x="1689.5" y="882" font-size="24.5" text-anchor="middle" fill="#000" >0</text>
<text x="1774.8" y="882" font-size="24.5" text-anchor="middle" fill="#000" >20</text>
<text x="1860.1" y="882" font-size="24.5" text-anchor="middle" fill="#000" >40</text>
<text x="1911.5" y="580.42" font-size="24.5" text-anchor="start" fill="#ec4646" >80</text>
<text x="1911.5" y="685.7" font-size="24.5" text-anchor="start" fill="#ec4646" >0</text>
<text x="1911.5" y="790.98" font-size="24.5" text-anchor="start" fill="#ec4646" >−80</text>
<text x="1689" y="919.1" font-size="24.5" text-anchor="middle" fill="#000" ><tspan font-style="italic">V</tspan> (V)</text>
<text x="0" y="0" font-size="24.5" text-anchor="middle" transform="translate(1419 667) rotate(-90)"><tspan font-style="italic">P</tspan> (µC/cm<tspan font-size="16" dy="-9">2</tspan><tspan dy="9">)</tspan></text>
<text x="0" y="0" font-size="24.5" text-anchor="middle" fill="#ec4646" transform="translate(1985 666) rotate(-90)"><tspan font-style="italic">I</tspan> (µA)</text>
<path d="M352 1079.4 L318.7 1079.5 L250 1079.4 L171.8 1079.4 L167 1082.6 L163.5 1090.2 L161.4 1099.9 L160.7 1112.4 L160 1127.6 L159.1 1137.3 L155.2 1158.8 L149.7 1138.7 L148.3 1137 L119.9 1136.3 L119.9 1136.3 L148.3 1137 L159.4 1137 L207.9 1138 L235.6 1140.1 L249.4 1144.2 L255 1149.8 L260.5 1153.9 L267.4 1162.2 L274.4 1169.9 L281.3 1165 L286.8 1155.3 L289.6 1140.1 L290.3 1119.3 L291 1098.5 L293.1 1090.2 L299.3 1084 L307.6 1080.5 L318.7 1079.5 L352 1079.4 Z" fill="url(#gRG)" stroke="none"/>
<path d="M352 1079.4 L318.7 1079.5 L250 1079.4 L171.8 1079.4 L167 1082.6 L163.5 1090.2 L161.4 1099.9 L160.7 1112.4 L160 1127.6 L159.1 1137.3 L155.2 1158.8 L149.7 1138.7 L148.3 1137 L119.9 1136.3" fill="none" stroke="#000" stroke-width="3.1" stroke-linejoin="round" stroke-linecap="round"/>
<path d="M352 1079.4 L318.7 1079.5 L307.6 1080.5 L299.3 1084 L293.1 1090.2 L291 1098.5 L290.3 1119.3 L289.6 1140.1 L286.8 1155.3 L281.3 1165 L274.4 1169.9 L267.4 1162.2 L260.5 1153.9 L255 1149.8 L249.4 1144.2 L235.6 1140.1 L207.9 1138 L159.4 1137 L148.3 1137 L119.9 1136.3" fill="none" stroke="#000" stroke-width="3.1" stroke-linejoin="round" stroke-linecap="round"/>
<line x1="260.5" y1="1066.9" x2="228.1" y2="1066.9" stroke="#000" stroke-width="2.2"/>
<path d="M219.6 1066.9 L228.1 1062.1 L228.1 1071.7 Z" fill="#000" stroke="none" stroke-width="1" />
<line x1="154.5" y1="1080.8" x2="149.76" y2="1112.29" stroke="#000" stroke-width="2.2"/>
<path d="M148.5 1120.7 L145.02 1111.58 L154.51 1113.01 Z" fill="#000" stroke="none" stroke-width="1" />
<line x1="198.1" y1="1153.9" x2="223.64" y2="1156.23" stroke="#000" stroke-width="2.2"/>
<path d="M232.1 1157 L223.2 1161.01 L224.07 1151.45 Z" fill="#000" stroke="none" stroke-width="1" />
<line x1="303.7" y1="1140.8" x2="311.26" y2="1108.48" stroke="#000" stroke-width="2.2"/>
<path d="M313.2 1100.2 L315.94 1109.57 L306.59 1107.38 Z" fill="#000" stroke="none" stroke-width="1" />
<path d="M628.2 1073.6 L577.4 1074.8 L456.4 1074.8 L446.7 1075.7 L441.1 1080.6 L439.1 1086.2 L438.4 1091.7 L437.7 1133.4 L437 1175.2 L436.3 1205.7 L434.9 1175.2 L434.2 1133.4 L433.5 1123.7 L425.8 1101.5 L423.8 1087.5 L420.3 1083.4 L413.3 1079.9 L400.8 1077.8 L395.9 1078.5 L395.9 1083.4 L395.9 1083.4 L423.1 1086.4 L438.4 1087.5 L456.4 1091 L484.3 1098 L495.4 1104.2 L505.1 1109.8 L514.8 1116.1 L523.2 1122.3 L530.1 1130.7 L534.3 1146 L536.4 1165.4 L542.7 1183.5 L546.1 1203 L549.6 1201.6 L555.2 1190.5 L559.3 1168.2 L562.1 1147.3 L563.5 1119.5 L564.9 1091.7 L567 1084.1 L573.2 1077.8 L577.4 1074.8 L628.2 1073.6 Z" fill="url(#gRG)" stroke="none"/>
<path d="M628.2 1073.6 L577.4 1074.8 L456.4 1074.8 L446.7 1075.7 L441.1 1080.6 L439.1 1086.2 L438.4 1091.7 L437.7 1133.4 L437 1175.2 L436.3 1205.7 L434.9 1175.2 L434.2 1133.4 L433.5 1123.7 L425.8 1101.5 L423.8 1087.5 L420.3 1083.4 L413.3 1079.9 L400.8 1077.8 L395.9 1078.5 L395.9 1083.4" fill="none" stroke="#000" stroke-width="3.1" stroke-linejoin="round" stroke-linecap="round"/>
<path d="M628.2 1073.6 L577.4 1074.8 L573.2 1077.8 L567 1084.1 L564.9 1091.7 L563.5 1119.5 L562.1 1147.3 L559.3 1168.2 L555.2 1190.5 L549.6 1201.6 L546.1 1203 L542.7 1183.5 L536.4 1165.4 L534.3 1146 L530.1 1130.7 L523.2 1122.3 L514.8 1116.1 L505.1 1109.8 L495.4 1104.2 L484.3 1098 L456.4 1091 L438.4 1087.5 L423.1 1086.4 L395.9 1083.4" fill="none" stroke="#000" stroke-width="3.1" stroke-linejoin="round" stroke-linecap="round"/>
<line x1="516.2" y1="1062.5" x2="478.8" y2="1062.5" stroke="#000" stroke-width="2.2"/>
<path d="M470.3 1062.5 L478.8 1057.7 L478.8 1067.3 Z" fill="#000" stroke="none" stroke-width="1" />
<line x1="416.1" y1="1158.5" x2="416.1" y2="1126.6" stroke="#000" stroke-width="2.2"/>
<path d="M416.1 1118.1 L420.9 1126.6 L411.3 1126.6 Z" fill="#000" stroke="none" stroke-width="1" />
<line x1="507.2" y1="1122.3" x2="521.44" y2="1150.23" stroke="#000" stroke-width="2.2"/>
<path d="M525.3 1157.8 L517.16 1152.41 L525.72 1148.05 Z" fill="#000" stroke="none" stroke-width="1" />
<line x1="572.6" y1="1161.3" x2="579.72" y2="1129.89" stroke="#000" stroke-width="2.2"/>
<path d="M581.6 1121.6 L584.4 1130.95 L575.04 1128.83 Z" fill="#000" stroke="none" stroke-width="1" />
<line x1="97.5" y1="994.3" x2="649.9" y2="994.3" stroke="#3a3a3a" stroke-width="1.3" />
<line x1="97.5" y1="1447.2" x2="649.9" y2="1447.2" stroke="#3a3a3a" stroke-width="1.5" />
<line x1="97.5" y1="994.3" x2="97.5" y2="1447.2" stroke="#3a3a3a" stroke-width="1.3" />
<line x1="649.9" y1="994.3" x2="649.9" y2="1447.2" stroke="#3a3a3a" stroke-width="1.3" />
<line x1="373.7" y1="994.3" x2="373.7" y2="1447.2" stroke="#222" stroke-width="1.6" />
<line x1="97.5" y1="1447.2" x2="106.1" y2="1447.2" stroke="#3a3a3a" stroke-width="1.1" />
<line x1="373.7" y1="1447.2" x2="365.1" y2="1447.2" stroke="#3a3a3a" stroke-width="1.1" />
<line x1="373.7" y1="1447.2" x2="382.3" y2="1447.2" stroke="#3a3a3a" stroke-width="1.1" />
<line x1="649.9" y1="1447.2" x2="641.3" y2="1447.2" stroke="#3a3a3a" stroke-width="1.1" />
<line x1="97.5" y1="1433.57" x2="102.1" y2="1433.57" stroke="#3a3a3a" stroke-width="1" />
<line x1="373.7" y1="1433.57" x2="369.1" y2="1433.57" stroke="#3a3a3a" stroke-width="1" />
<line x1="373.7" y1="1433.57" x2="378.3" y2="1433.57" stroke="#3a3a3a" stroke-width="1" />
<line x1="649.9" y1="1433.57" x2="645.3" y2="1433.57" stroke="#3a3a3a" stroke-width="1" />
<line x1="97.5" y1="1425.59" x2="102.1" y2="1425.59" stroke="#3a3a3a" stroke-width="1" />
<line x1="373.7" y1="1425.59" x2="369.1" y2="1425.59" stroke="#3a3a3a" stroke-width="1" />
<line x1="373.7" y1="1425.59" x2="378.3" y2="1425.59" stroke="#3a3a3a" stroke-width="1" />
<line x1="649.9" y1="1425.59" x2="645.3" y2="1425.59" stroke="#3a3a3a" stroke-width="1" />
<line x1="97.5" y1="1419.93" x2="102.1" y2="1419.93" stroke="#3a3a3a" stroke-width="1" />
<line x1="373.7" y1="1419.93" x2="369.1" y2="1419.93" stroke="#3a3a3a" stroke-width="1" />
<line x1="373.7" y1="1419.93" x2="378.3" y2="1419.93" stroke="#3a3a3a" stroke-width="1" />
<line x1="649.9" y1="1419.93" x2="645.3" y2="1419.93" stroke="#3a3a3a" stroke-width="1" />
<line x1="97.5" y1="1415.54" x2="102.1" y2="1415.54" stroke="#3a3a3a" stroke-width="1" />
<line x1="373.7" y1="1415.54" x2="369.1" y2="1415.54" stroke="#3a3a3a" stroke-width="1" />
<line x1="373.7" y1="1415.54" x2="378.3" y2="1415.54" stroke="#3a3a3a" stroke-width="1" />
<line x1="649.9" y1="1415.54" x2="645.3" y2="1415.54" stroke="#3a3a3a" stroke-width="1" />
<line x1="97.5" y1="1411.96" x2="102.1" y2="1411.96" stroke="#3a3a3a" stroke-width="1" />
<line x1="373.7" y1="1411.96" x2="369.1" y2="1411.96" stroke="#3a3a3a" stroke-width="1" />
<line x1="373.7" y1="1411.96" x2="378.3" y2="1411.96" stroke="#3a3a3a" stroke-width="1" />
<line x1="649.9" y1="1411.96" x2="645.3" y2="1411.96" stroke="#3a3a3a" stroke-width="1" />
<line x1="97.5" y1="1408.93" x2="102.1" y2="1408.93" stroke="#3a3a3a" stroke-width="1" />
<line x1="373.7" y1="1408.93" x2="369.1" y2="1408.93" stroke="#3a3a3a" stroke-width="1" />
<line x1="373.7" y1="1408.93" x2="378.3" y2="1408.93" stroke="#3a3a3a" stroke-width="1" />
<line x1="649.9" y1="1408.93" x2="645.3" y2="1408.93" stroke="#3a3a3a" stroke-width="1" />
<line x1="97.5" y1="1406.3" x2="102.1" y2="1406.3" stroke="#3a3a3a" stroke-width="1" />
<line x1="373.7" y1="1406.3" x2="369.1" y2="1406.3" stroke="#3a3a3a" stroke-width="1" />
<line x1="373.7" y1="1406.3" x2="378.3" y2="1406.3" stroke="#3a3a3a" stroke-width="1" />
<line x1="649.9" y1="1406.3" x2="645.3" y2="1406.3" stroke="#3a3a3a" stroke-width="1" />
<line x1="97.5" y1="1403.98" x2="102.1" y2="1403.98" stroke="#3a3a3a" stroke-width="1" />
<line x1="373.7" y1="1403.98" x2="369.1" y2="1403.98" stroke="#3a3a3a" stroke-width="1" />
<line x1="373.7" y1="1403.98" x2="378.3" y2="1403.98" stroke="#3a3a3a" stroke-width="1" />
<line x1="649.9" y1="1403.98" x2="645.3" y2="1403.98" stroke="#3a3a3a" stroke-width="1" />
<line x1="97.5" y1="1401.91" x2="106.1" y2="1401.91" stroke="#3a3a3a" stroke-width="1.1" />
<line x1="373.7" y1="1401.91" x2="365.1" y2="1401.91" stroke="#3a3a3a" stroke-width="1.1" />
<line x1="373.7" y1="1401.91" x2="382.3" y2="1401.91" stroke="#3a3a3a" stroke-width="1.1" />
<line x1="649.9" y1="1401.91" x2="641.3" y2="1401.91" stroke="#3a3a3a" stroke-width="1.1" />
<line x1="97.5" y1="1388.28" x2="102.1" y2="1388.28" stroke="#3a3a3a" stroke-width="1" />
<line x1="373.7" y1="1388.28" x2="369.1" y2="1388.28" stroke="#3a3a3a" stroke-width="1" />
<line x1="373.7" y1="1388.28" x2="378.3" y2="1388.28" stroke="#3a3a3a" stroke-width="1" />
<line x1="649.9" y1="1388.28" x2="645.3" y2="1388.28" stroke="#3a3a3a" stroke-width="1" />
<line x1="97.5" y1="1380.3" x2="102.1" y2="1380.3" stroke="#3a3a3a" stroke-width="1" />
<line x1="373.7" y1="1380.3" x2="369.1" y2="1380.3" stroke="#3a3a3a" stroke-width="1" />
<line x1="373.7" y1="1380.3" x2="378.3" y2="1380.3" stroke="#3a3a3a" stroke-width="1" />
<line x1="649.9" y1="1380.3" x2="645.3" y2="1380.3" stroke="#3a3a3a" stroke-width="1" />
<line x1="97.5" y1="1374.64" x2="102.1" y2="1374.64" stroke="#3a3a3a" stroke-width="1" />
<line x1="373.7" y1="1374.64" x2="369.1" y2="1374.64" stroke="#3a3a3a" stroke-width="1" />
<line x1="373.7" y1="1374.64" x2="378.3" y2="1374.64" stroke="#3a3a3a" stroke-width="1" />
<line x1="649.9" y1="1374.64" x2="645.3" y2="1374.64" stroke="#3a3a3a" stroke-width="1" />
<line x1="97.5" y1="1370.25" x2="102.1" y2="1370.25" stroke="#3a3a3a" stroke-width="1" />
<line x1="373.7" y1="1370.25" x2="369.1" y2="1370.25" stroke="#3a3a3a" stroke-width="1" />
<line x1="373.7" y1="1370.25" x2="378.3" y2="1370.25" stroke="#3a3a3a" stroke-width="1" />
<line x1="649.9" y1="1370.25" x2="645.3" y2="1370.25" stroke="#3a3a3a" stroke-width="1" />
<line x1="97.5" y1="1366.67" x2="102.1" y2="1366.67" stroke="#3a3a3a" stroke-width="1" />
<line x1="373.7" y1="1366.67" x2="369.1" y2="1366.67" stroke="#3a3a3a" stroke-width="1" />
<line x1="373.7" y1="1366.67" x2="378.3" y2="1366.67" stroke="#3a3a3a" stroke-width="1" />
<line x1="649.9" y1="1366.67" x2="645.3" y2="1366.67" stroke="#3a3a3a" stroke-width="1" />
<line x1="97.5" y1="1363.64" x2="102.1" y2="1363.64" stroke="#3a3a3a" stroke-width="1" />
<line x1="373.7" y1="1363.64" x2="369.1" y2="1363.64" stroke="#3a3a3a" stroke-width="1" />
<line x1="373.7" y1="1363.64" x2="378.3" y2="1363.64" stroke="#3a3a3a" stroke-width="1" />
<line x1="649.9" y1="1363.64" x2="645.3" y2="1363.64" stroke="#3a3a3a" stroke-width="1" />
<line x1="97.5" y1="1361.01" x2="102.1" y2="1361.01" stroke="#3a3a3a" stroke-width="1" />
<line x1="373.7" y1="1361.01" x2="369.1" y2="1361.01" stroke="#3a3a3a" stroke-width="1" />
<line x1="373.7" y1="1361.01" x2="378.3" y2="1361.01" stroke="#3a3a3a" stroke-width="1" />
<line x1="649.9" y1="1361.01" x2="645.3" y2="1361.01" stroke="#3a3a3a" stroke-width="1" />
<line x1="97.5" y1="1358.69" x2="102.1" y2="1358.69" stroke="#3a3a3a" stroke-width="1" />
<line x1="373.7" y1="1358.69" x2="369.1" y2="1358.69" stroke="#3a3a3a" stroke-width="1" />
<line x1="373.7" y1="1358.69" x2="378.3" y2="1358.69" stroke="#3a3a3a" stroke-width="1" />
<line x1="649.9" y1="1358.69" x2="645.3" y2="1358.69" stroke="#3a3a3a" stroke-width="1" />
<line x1="97.5" y1="1356.62" x2="106.1" y2="1356.62" stroke="#3a3a3a" stroke-width="1.1" />
<line x1="373.7" y1="1356.62" x2="365.1" y2="1356.62" stroke="#3a3a3a" stroke-width="1.1" />
<line x1="373.7" y1="1356.62" x2="382.3" y2="1356.62" stroke="#3a3a3a" stroke-width="1.1" />
<line x1="649.9" y1="1356.62" x2="641.3" y2="1356.62" stroke="#3a3a3a" stroke-width="1.1" />
<line x1="97.5" y1="1342.99" x2="102.1" y2="1342.99" stroke="#3a3a3a" stroke-width="1" />
<line x1="373.7" y1="1342.99" x2="369.1" y2="1342.99" stroke="#3a3a3a" stroke-width="1" />
<line x1="373.7" y1="1342.99" x2="378.3" y2="1342.99" stroke="#3a3a3a" stroke-width="1" />
<line x1="649.9" y1="1342.99" x2="645.3" y2="1342.99" stroke="#3a3a3a" stroke-width="1" />
<line x1="97.5" y1="1335.01" x2="102.1" y2="1335.01" stroke="#3a3a3a" stroke-width="1" />
<line x1="373.7" y1="1335.01" x2="369.1" y2="1335.01" stroke="#3a3a3a" stroke-width="1" />
<line x1="373.7" y1="1335.01" x2="378.3" y2="1335.01" stroke="#3a3a3a" stroke-width="1" />
<line x1="649.9" y1="1335.01" x2="645.3" y2="1335.01" stroke="#3a3a3a" stroke-width="1" />
<line x1="97.5" y1="1329.35" x2="102.1" y2="1329.35" stroke="#3a3a3a" stroke-width="1" />
<line x1="373.7" y1="1329.35" x2="369.1" y2="1329.35" stroke="#3a3a3a" stroke-width="1" />
<line x1="373.7" y1="1329.35" x2="378.3" y2="1329.35" stroke="#3a3a3a" stroke-width="1" />
<line x1="649.9" y1="1329.35" x2="645.3" y2="1329.35" stroke="#3a3a3a" stroke-width="1" />
<line x1="97.5" y1="1324.96" x2="102.1" y2="1324.96" stroke="#3a3a3a" stroke-width="1" />
<line x1="373.7" y1="1324.96" x2="369.1" y2="1324.96" stroke="#3a3a3a" stroke-width="1" />
<line x1="373.7" y1="1324.96" x2="378.3" y2="1324.96" stroke="#3a3a3a" stroke-width="1" />
<line x1="649.9" y1="1324.96" x2="645.3" y2="1324.96" stroke="#3a3a3a" stroke-width="1" />
<line x1="97.5" y1="1321.38" x2="102.1" y2="1321.38" stroke="#3a3a3a" stroke-width="1" />
<line x1="373.7" y1="1321.38" x2="369.1" y2="1321.38" stroke="#3a3a3a" stroke-width="1" />
<line x1="373.7" y1="1321.38" x2="378.3" y2="1321.38" stroke="#3a3a3a" stroke-width="1" />
<line x1="649.9" y1="1321.38" x2="645.3" y2="1321.38" stroke="#3a3a3a" stroke-width="1" />
<line x1="97.5" y1="1318.35" x2="102.1" y2="1318.35" stroke="#3a3a3a" stroke-width="1" />
<line x1="373.7" y1="1318.35" x2="369.1" y2="1318.35" stroke="#3a3a3a" stroke-width="1" />
<line x1="373.7" y1="1318.35" x2="378.3" y2="1318.35" stroke="#3a3a3a" stroke-width="1" />
<line x1="649.9" y1="1318.35" x2="645.3" y2="1318.35" stroke="#3a3a3a" stroke-width="1" />
<line x1="97.5" y1="1315.72" x2="102.1" y2="1315.72" stroke="#3a3a3a" stroke-width="1" />
<line x1="373.7" y1="1315.72" x2="369.1" y2="1315.72" stroke="#3a3a3a" stroke-width="1" />
<line x1="373.7" y1="1315.72" x2="378.3" y2="1315.72" stroke="#3a3a3a" stroke-width="1" />
<line x1="649.9" y1="1315.72" x2="645.3" y2="1315.72" stroke="#3a3a3a" stroke-width="1" />
<line x1="97.5" y1="1313.4" x2="102.1" y2="1313.4" stroke="#3a3a3a" stroke-width="1" />
<line x1="373.7" y1="1313.4" x2="369.1" y2="1313.4" stroke="#3a3a3a" stroke-width="1" />
<line x1="373.7" y1="1313.4" x2="378.3" y2="1313.4" stroke="#3a3a3a" stroke-width="1" />
<line x1="649.9" y1="1313.4" x2="645.3" y2="1313.4" stroke="#3a3a3a" stroke-width="1" />
<line x1="97.5" y1="1311.33" x2="106.1" y2="1311.33" stroke="#3a3a3a" stroke-width="1.1" />
<line x1="373.7" y1="1311.33" x2="365.1" y2="1311.33" stroke="#3a3a3a" stroke-width="1.1" />
<line x1="373.7" y1="1311.33" x2="382.3" y2="1311.33" stroke="#3a3a3a" stroke-width="1.1" />
<line x1="649.9" y1="1311.33" x2="641.3" y2="1311.33" stroke="#3a3a3a" stroke-width="1.1" />
<line x1="97.5" y1="1297.7" x2="102.1" y2="1297.7" stroke="#3a3a3a" stroke-width="1" />
<line x1="373.7" y1="1297.7" x2="369.1" y2="1297.7" stroke="#3a3a3a" stroke-width="1" />
<line x1="373.7" y1="1297.7" x2="378.3" y2="1297.7" stroke="#3a3a3a" stroke-width="1" />
<line x1="649.9" y1="1297.7" x2="645.3" y2="1297.7" stroke="#3a3a3a" stroke-width="1" />
<line x1="97.5" y1="1289.72" x2="102.1" y2="1289.72" stroke="#3a3a3a" stroke-width="1" />
<line x1="373.7" y1="1289.72" x2="369.1" y2="1289.72" stroke="#3a3a3a" stroke-width="1" />
<line x1="373.7" y1="1289.72" x2="378.3" y2="1289.72" stroke="#3a3a3a" stroke-width="1" />
<line x1="649.9" y1="1289.72" x2="645.3" y2="1289.72" stroke="#3a3a3a" stroke-width="1" />
<line x1="97.5" y1="1284.06" x2="102.1" y2="1284.06" stroke="#3a3a3a" stroke-width="1" />
<line x1="373.7" y1="1284.06" x2="369.1" y2="1284.06" stroke="#3a3a3a" stroke-width="1" />
<line x1="373.7" y1="1284.06" x2="378.3" y2="1284.06" stroke="#3a3a3a" stroke-width="1" />
<line x1="649.9" y1="1284.06" x2="645.3" y2="1284.06" stroke="#3a3a3a" stroke-width="1" />
<line x1="97.5" y1="1279.67" x2="102.1" y2="1279.67" stroke="#3a3a3a" stroke-width="1" />
<line x1="373.7" y1="1279.67" x2="369.1" y2="1279.67" stroke="#3a3a3a" stroke-width="1" />
<line x1="373.7" y1="1279.67" x2="378.3" y2="1279.67" stroke="#3a3a3a" stroke-width="1" />
<line x1="649.9" y1="1279.67" x2="645.3" y2="1279.67" stroke="#3a3a3a" stroke-width="1" />
<line x1="97.5" y1="1276.09" x2="102.1" y2="1276.09" stroke="#3a3a3a" stroke-width="1" />
<line x1="373.7" y1="1276.09" x2="369.1" y2="1276.09" stroke="#3a3a3a" stroke-width="1" />
<line x1="373.7" y1="1276.09" x2="378.3" y2="1276.09" stroke="#3a3a3a" stroke-width="1" />
<line x1="649.9" y1="1276.09" x2="645.3" y2="1276.09" stroke="#3a3a3a" stroke-width="1" />
<line x1="97.5" y1="1273.06" x2="102.1" y2="1273.06" stroke="#3a3a3a" stroke-width="1" />
<line x1="373.7" y1="1273.06" x2="369.1" y2="1273.06" stroke="#3a3a3a" stroke-width="1" />
<line x1="373.7" y1="1273.06" x2="378.3" y2="1273.06" stroke="#3a3a3a" stroke-width="1" />
<line x1="649.9" y1="1273.06" x2="645.3" y2="1273.06" stroke="#3a3a3a" stroke-width="1" />
<line x1="97.5" y1="1270.43" x2="102.1" y2="1270.43" stroke="#3a3a3a" stroke-width="1" />
<line x1="373.7" y1="1270.43" x2="369.1" y2="1270.43" stroke="#3a3a3a" stroke-width="1" />
<line x1="373.7" y1="1270.43" x2="378.3" y2="1270.43" stroke="#3a3a3a" stroke-width="1" />
<line x1="649.9" y1="1270.43" x2="645.3" y2="1270.43" stroke="#3a3a3a" stroke-width="1" />
<line x1="97.5" y1="1268.11" x2="102.1" y2="1268.11" stroke="#3a3a3a" stroke-width="1" />
<line x1="373.7" y1="1268.11" x2="369.1" y2="1268.11" stroke="#3a3a3a" stroke-width="1" />
<line x1="373.7" y1="1268.11" x2="378.3" y2="1268.11" stroke="#3a3a3a" stroke-width="1" />
<line x1="649.9" y1="1268.11" x2="645.3" y2="1268.11" stroke="#3a3a3a" stroke-width="1" />
<line x1="97.5" y1="1266.04" x2="106.1" y2="1266.04" stroke="#3a3a3a" stroke-width="1.1" />
<line x1="373.7" y1="1266.04" x2="365.1" y2="1266.04" stroke="#3a3a3a" stroke-width="1.1" />
<line x1="373.7" y1="1266.04" x2="382.3" y2="1266.04" stroke="#3a3a3a" stroke-width="1.1" />
<line x1="649.9" y1="1266.04" x2="641.3" y2="1266.04" stroke="#3a3a3a" stroke-width="1.1" />
<line x1="97.5" y1="1252.41" x2="102.1" y2="1252.41" stroke="#3a3a3a" stroke-width="1" />
<line x1="373.7" y1="1252.41" x2="369.1" y2="1252.41" stroke="#3a3a3a" stroke-width="1" />
<line x1="373.7" y1="1252.41" x2="378.3" y2="1252.41" stroke="#3a3a3a" stroke-width="1" />
<line x1="649.9" y1="1252.41" x2="645.3" y2="1252.41" stroke="#3a3a3a" stroke-width="1" />
<line x1="97.5" y1="1244.43" x2="102.1" y2="1244.43" stroke="#3a3a3a" stroke-width="1" />
<line x1="373.7" y1="1244.43" x2="369.1" y2="1244.43" stroke="#3a3a3a" stroke-width="1" />
<line x1="373.7" y1="1244.43" x2="378.3" y2="1244.43" stroke="#3a3a3a" stroke-width="1" />
<line x1="649.9" y1="1244.43" x2="645.3" y2="1244.43" stroke="#3a3a3a" stroke-width="1" />
<line x1="97.5" y1="1238.77" x2="102.1" y2="1238.77" stroke="#3a3a3a" stroke-width="1" />
<line x1="373.7" y1="1238.77" x2="369.1" y2="1238.77" stroke="#3a3a3a" stroke-width="1" />
<line x1="373.7" y1="1238.77" x2="378.3" y2="1238.77" stroke="#3a3a3a" stroke-width="1" />
<line x1="649.9" y1="1238.77" x2="645.3" y2="1238.77" stroke="#3a3a3a" stroke-width="1" />
<line x1="97.5" y1="1234.38" x2="102.1" y2="1234.38" stroke="#3a3a3a" stroke-width="1" />
<line x1="373.7" y1="1234.38" x2="369.1" y2="1234.38" stroke="#3a3a3a" stroke-width="1" />
<line x1="373.7" y1="1234.38" x2="378.3" y2="1234.38" stroke="#3a3a3a" stroke-width="1" />
<line x1="649.9" y1="1234.38" x2="645.3" y2="1234.38" stroke="#3a3a3a" stroke-width="1" />
<line x1="97.5" y1="1230.8" x2="102.1" y2="1230.8" stroke="#3a3a3a" stroke-width="1" />
<line x1="373.7" y1="1230.8" x2="369.1" y2="1230.8" stroke="#3a3a3a" stroke-width="1" />
<line x1="373.7" y1="1230.8" x2="378.3" y2="1230.8" stroke="#3a3a3a" stroke-width="1" />
<line x1="649.9" y1="1230.8" x2="645.3" y2="1230.8" stroke="#3a3a3a" stroke-width="1" />
<line x1="97.5" y1="1227.77" x2="102.1" y2="1227.77" stroke="#3a3a3a" stroke-width="1" />
<line x1="373.7" y1="1227.77" x2="369.1" y2="1227.77" stroke="#3a3a3a" stroke-width="1" />
<line x1="373.7" y1="1227.77" x2="378.3" y2="1227.77" stroke="#3a3a3a" stroke-width="1" />
<line x1="649.9" y1="1227.77" x2="645.3" y2="1227.77" stroke="#3a3a3a" stroke-width="1" />
<line x1="97.5" y1="1225.14" x2="102.1" y2="1225.14" stroke="#3a3a3a" stroke-width="1" />
<line x1="373.7" y1="1225.14" x2="369.1" y2="1225.14" stroke="#3a3a3a" stroke-width="1" />
<line x1="373.7" y1="1225.14" x2="378.3" y2="1225.14" stroke="#3a3a3a" stroke-width="1" />
<line x1="649.9" y1="1225.14" x2="645.3" y2="1225.14" stroke="#3a3a3a" stroke-width="1" />
<line x1="97.5" y1="1222.82" x2="102.1" y2="1222.82" stroke="#3a3a3a" stroke-width="1" />
<line x1="373.7" y1="1222.82" x2="369.1" y2="1222.82" stroke="#3a3a3a" stroke-width="1" />
<line x1="373.7" y1="1222.82" x2="378.3" y2="1222.82" stroke="#3a3a3a" stroke-width="1" />
<line x1="649.9" y1="1222.82" x2="645.3" y2="1222.82" stroke="#3a3a3a" stroke-width="1" />
<line x1="97.5" y1="1220.75" x2="106.1" y2="1220.75" stroke="#3a3a3a" stroke-width="1.1" />
<line x1="373.7" y1="1220.75" x2="365.1" y2="1220.75" stroke="#3a3a3a" stroke-width="1.1" />
<line x1="373.7" y1="1220.75" x2="382.3" y2="1220.75" stroke="#3a3a3a" stroke-width="1.1" />
<line x1="649.9" y1="1220.75" x2="641.3" y2="1220.75" stroke="#3a3a3a" stroke-width="1.1" />
<line x1="97.5" y1="1207.12" x2="102.1" y2="1207.12" stroke="#3a3a3a" stroke-width="1" />
<line x1="373.7" y1="1207.12" x2="369.1" y2="1207.12" stroke="#3a3a3a" stroke-width="1" />
<line x1="373.7" y1="1207.12" x2="378.3" y2="1207.12" stroke="#3a3a3a" stroke-width="1" />
<line x1="649.9" y1="1207.12" x2="645.3" y2="1207.12" stroke="#3a3a3a" stroke-width="1" />
<line x1="97.5" y1="1199.14" x2="102.1" y2="1199.14" stroke="#3a3a3a" stroke-width="1" />
<line x1="373.7" y1="1199.14" x2="369.1" y2="1199.14" stroke="#3a3a3a" stroke-width="1" />
<line x1="373.7" y1="1199.14" x2="378.3" y2="1199.14" stroke="#3a3a3a" stroke-width="1" />
<line x1="649.9" y1="1199.14" x2="645.3" y2="1199.14" stroke="#3a3a3a" stroke-width="1" />
<line x1="97.5" y1="1193.48" x2="102.1" y2="1193.48" stroke="#3a3a3a" stroke-width="1" />
<line x1="373.7" y1="1193.48" x2="369.1" y2="1193.48" stroke="#3a3a3a" stroke-width="1" />
<line x1="373.7" y1="1193.48" x2="378.3" y2="1193.48" stroke="#3a3a3a" stroke-width="1" />
<line x1="649.9" y1="1193.48" x2="645.3" y2="1193.48" stroke="#3a3a3a" stroke-width="1" />
<line x1="97.5" y1="1189.09" x2="102.1" y2="1189.09" stroke="#3a3a3a" stroke-width="1" />
<line x1="373.7" y1="1189.09" x2="369.1" y2="1189.09" stroke="#3a3a3a" stroke-width="1" />
<line x1="373.7" y1="1189.09" x2="378.3" y2="1189.09" stroke="#3a3a3a" stroke-width="1" />
<line x1="649.9" y1="1189.09" x2="645.3" y2="1189.09" stroke="#3a3a3a" stroke-width="1" />
<line x1="97.5" y1="1185.51" x2="102.1" y2="1185.51" stroke="#3a3a3a" stroke-width="1" />
<line x1="373.7" y1="1185.51" x2="369.1" y2="1185.51" stroke="#3a3a3a" stroke-width="1" />
<line x1="373.7" y1="1185.51" x2="378.3" y2="1185.51" stroke="#3a3a3a" stroke-width="1" />
<line x1="649.9" y1="1185.51" x2="645.3" y2="1185.51" stroke="#3a3a3a" stroke-width="1" />
<line x1="97.5" y1="1182.48" x2="102.1" y2="1182.48" stroke="#3a3a3a" stroke-width="1" />
<line x1="373.7" y1="1182.48" x2="369.1" y2="1182.48" stroke="#3a3a3a" stroke-width="1" />
<line x1="373.7" y1="1182.48" x2="378.3" y2="1182.48" stroke="#3a3a3a" stroke-width="1" />
<line x1="649.9" y1="1182.48" x2="645.3" y2="1182.48" stroke="#3a3a3a" stroke-width="1" />
<line x1="97.5" y1="1179.85" x2="102.1" y2="1179.85" stroke="#3a3a3a" stroke-width="1" />
<line x1="373.7" y1="1179.85" x2="369.1" y2="1179.85" stroke="#3a3a3a" stroke-width="1" />
<line x1="373.7" y1="1179.85" x2="378.3" y2="1179.85" stroke="#3a3a3a" stroke-width="1" />
<line x1="649.9" y1="1179.85" x2="645.3" y2="1179.85" stroke="#3a3a3a" stroke-width="1" />
<line x1="97.5" y1="1177.53" x2="102.1" y2="1177.53" stroke="#3a3a3a" stroke-width="1" />
<line x1="373.7" y1="1177.53" x2="369.1" y2="1177.53" stroke="#3a3a3a" stroke-width="1" />
<line x1="373.7" y1="1177.53" x2="378.3" y2="1177.53" stroke="#3a3a3a" stroke-width="1" />
<line x1="649.9" y1="1177.53" x2="645.3" y2="1177.53" stroke="#3a3a3a" stroke-width="1" />
<line x1="97.5" y1="1175.46" x2="106.1" y2="1175.46" stroke="#3a3a3a" stroke-width="1.1" />
<line x1="373.7" y1="1175.46" x2="365.1" y2="1175.46" stroke="#3a3a3a" stroke-width="1.1" />
<line x1="373.7" y1="1175.46" x2="382.3" y2="1175.46" stroke="#3a3a3a" stroke-width="1.1" />
<line x1="649.9" y1="1175.46" x2="641.3" y2="1175.46" stroke="#3a3a3a" stroke-width="1.1" />
<line x1="97.5" y1="1161.83" x2="102.1" y2="1161.83" stroke="#3a3a3a" stroke-width="1" />
<line x1="373.7" y1="1161.83" x2="369.1" y2="1161.83" stroke="#3a3a3a" stroke-width="1" />
<line x1="373.7" y1="1161.83" x2="378.3" y2="1161.83" stroke="#3a3a3a" stroke-width="1" />
<line x1="649.9" y1="1161.83" x2="645.3" y2="1161.83" stroke="#3a3a3a" stroke-width="1" />
<line x1="97.5" y1="1153.85" x2="102.1" y2="1153.85" stroke="#3a3a3a" stroke-width="1" />
<line x1="373.7" y1="1153.85" x2="369.1" y2="1153.85" stroke="#3a3a3a" stroke-width="1" />
<line x1="373.7" y1="1153.85" x2="378.3" y2="1153.85" stroke="#3a3a3a" stroke-width="1" />
<line x1="649.9" y1="1153.85" x2="645.3" y2="1153.85" stroke="#3a3a3a" stroke-width="1" />
<line x1="97.5" y1="1148.19" x2="102.1" y2="1148.19" stroke="#3a3a3a" stroke-width="1" />
<line x1="373.7" y1="1148.19" x2="369.1" y2="1148.19" stroke="#3a3a3a" stroke-width="1" />
<line x1="373.7" y1="1148.19" x2="378.3" y2="1148.19" stroke="#3a3a3a" stroke-width="1" />
<line x1="649.9" y1="1148.19" x2="645.3" y2="1148.19" stroke="#3a3a3a" stroke-width="1" />
<line x1="97.5" y1="1143.8" x2="102.1" y2="1143.8" stroke="#3a3a3a" stroke-width="1" />
<line x1="373.7" y1="1143.8" x2="369.1" y2="1143.8" stroke="#3a3a3a" stroke-width="1" />
<line x1="373.7" y1="1143.8" x2="378.3" y2="1143.8" stroke="#3a3a3a" stroke-width="1" />
<line x1="649.9" y1="1143.8" x2="645.3" y2="1143.8" stroke="#3a3a3a" stroke-width="1" />
<line x1="97.5" y1="1140.22" x2="102.1" y2="1140.22" stroke="#3a3a3a" stroke-width="1" />
<line x1="373.7" y1="1140.22" x2="369.1" y2="1140.22" stroke="#3a3a3a" stroke-width="1" />
<line x1="373.7" y1="1140.22" x2="378.3" y2="1140.22" stroke="#3a3a3a" stroke-width="1" />
<line x1="649.9" y1="1140.22" x2="645.3" y2="1140.22" stroke="#3a3a3a" stroke-width="1" />
<line x1="97.5" y1="1137.19" x2="102.1" y2="1137.19" stroke="#3a3a3a" stroke-width="1" />
<line x1="373.7" y1="1137.19" x2="369.1" y2="1137.19" stroke="#3a3a3a" stroke-width="1" />
<line x1="373.7" y1="1137.19" x2="378.3" y2="1137.19" stroke="#3a3a3a" stroke-width="1" />
<line x1="649.9" y1="1137.19" x2="645.3" y2="1137.19" stroke="#3a3a3a" stroke-width="1" />
<line x1="97.5" y1="1134.56" x2="102.1" y2="1134.56" stroke="#3a3a3a" stroke-width="1" />
<line x1="373.7" y1="1134.56" x2="369.1" y2="1134.56" stroke="#3a3a3a" stroke-width="1" />
<line x1="373.7" y1="1134.56" x2="378.3" y2="1134.56" stroke="#3a3a3a" stroke-width="1" />
<line x1="649.9" y1="1134.56" x2="645.3" y2="1134.56" stroke="#3a3a3a" stroke-width="1" />
<line x1="97.5" y1="1132.24" x2="102.1" y2="1132.24" stroke="#3a3a3a" stroke-width="1" />
<line x1="373.7" y1="1132.24" x2="369.1" y2="1132.24" stroke="#3a3a3a" stroke-width="1" />
<line x1="373.7" y1="1132.24" x2="378.3" y2="1132.24" stroke="#3a3a3a" stroke-width="1" />
<line x1="649.9" y1="1132.24" x2="645.3" y2="1132.24" stroke="#3a3a3a" stroke-width="1" />
<line x1="97.5" y1="1130.17" x2="106.1" y2="1130.17" stroke="#3a3a3a" stroke-width="1.1" />
<line x1="373.7" y1="1130.17" x2="365.1" y2="1130.17" stroke="#3a3a3a" stroke-width="1.1" />
<line x1="373.7" y1="1130.17" x2="382.3" y2="1130.17" stroke="#3a3a3a" stroke-width="1.1" />
<line x1="649.9" y1="1130.17" x2="641.3" y2="1130.17" stroke="#3a3a3a" stroke-width="1.1" />
<line x1="97.5" y1="1116.54" x2="102.1" y2="1116.54" stroke="#3a3a3a" stroke-width="1" />
<line x1="373.7" y1="1116.54" x2="369.1" y2="1116.54" stroke="#3a3a3a" stroke-width="1" />
<line x1="373.7" y1="1116.54" x2="378.3" y2="1116.54" stroke="#3a3a3a" stroke-width="1" />
<line x1="649.9" y1="1116.54" x2="645.3" y2="1116.54" stroke="#3a3a3a" stroke-width="1" />
<line x1="97.5" y1="1108.56" x2="102.1" y2="1108.56" stroke="#3a3a3a" stroke-width="1" />
<line x1="373.7" y1="1108.56" x2="369.1" y2="1108.56" stroke="#3a3a3a" stroke-width="1" />
<line x1="373.7" y1="1108.56" x2="378.3" y2="1108.56" stroke="#3a3a3a" stroke-width="1" />
<line x1="649.9" y1="1108.56" x2="645.3" y2="1108.56" stroke="#3a3a3a" stroke-width="1" />
<line x1="97.5" y1="1102.9" x2="102.1" y2="1102.9" stroke="#3a3a3a" stroke-width="1" />
<line x1="373.7" y1="1102.9" x2="369.1" y2="1102.9" stroke="#3a3a3a" stroke-width="1" />
<line x1="373.7" y1="1102.9" x2="378.3" y2="1102.9" stroke="#3a3a3a" stroke-width="1" />
<line x1="649.9" y1="1102.9" x2="645.3" y2="1102.9" stroke="#3a3a3a" stroke-width="1" />
<line x1="97.5" y1="1098.51" x2="102.1" y2="1098.51" stroke="#3a3a3a" stroke-width="1" />
<line x1="373.7" y1="1098.51" x2="369.1" y2="1098.51" stroke="#3a3a3a" stroke-width="1" />
<line x1="373.7" y1="1098.51" x2="378.3" y2="1098.51" stroke="#3a3a3a" stroke-width="1" />
<line x1="649.9" y1="1098.51" x2="645.3" y2="1098.51" stroke="#3a3a3a" stroke-width="1" />
<line x1="97.5" y1="1094.93" x2="102.1" y2="1094.93" stroke="#3a3a3a" stroke-width="1" />
<line x1="373.7" y1="1094.93" x2="369.1" y2="1094.93" stroke="#3a3a3a" stroke-width="1" />
<line x1="373.7" y1="1094.93" x2="378.3" y2="1094.93" stroke="#3a3a3a" stroke-width="1" />
<line x1="649.9" y1="1094.93" x2="645.3" y2="1094.93" stroke="#3a3a3a" stroke-width="1" />
<line x1="97.5" y1="1091.9" x2="102.1" y2="1091.9" stroke="#3a3a3a" stroke-width="1" />
<line x1="373.7" y1="1091.9" x2="369.1" y2="1091.9" stroke="#3a3a3a" stroke-width="1" />
<line x1="373.7" y1="1091.9" x2="378.3" y2="1091.9" stroke="#3a3a3a" stroke-width="1" />
<line x1="649.9" y1="1091.9" x2="645.3" y2="1091.9" stroke="#3a3a3a" stroke-width="1" />
<line x1="97.5" y1="1089.27" x2="102.1" y2="1089.27" stroke="#3a3a3a" stroke-width="1" />
<line x1="373.7" y1="1089.27" x2="369.1" y2="1089.27" stroke="#3a3a3a" stroke-width="1" />
<line x1="373.7" y1="1089.27" x2="378.3" y2="1089.27" stroke="#3a3a3a" stroke-width="1" />
<line x1="649.9" y1="1089.27" x2="645.3" y2="1089.27" stroke="#3a3a3a" stroke-width="1" />
<line x1="97.5" y1="1086.95" x2="102.1" y2="1086.95" stroke="#3a3a3a" stroke-width="1" />
<line x1="373.7" y1="1086.95" x2="369.1" y2="1086.95" stroke="#3a3a3a" stroke-width="1" />
<line x1="373.7" y1="1086.95" x2="378.3" y2="1086.95" stroke="#3a3a3a" stroke-width="1" />
<line x1="649.9" y1="1086.95" x2="645.3" y2="1086.95" stroke="#3a3a3a" stroke-width="1" />
<line x1="97.5" y1="1084.88" x2="106.1" y2="1084.88" stroke="#3a3a3a" stroke-width="1.1" />
<line x1="373.7" y1="1084.88" x2="365.1" y2="1084.88" stroke="#3a3a3a" stroke-width="1.1" />
<line x1="373.7" y1="1084.88" x2="382.3" y2="1084.88" stroke="#3a3a3a" stroke-width="1.1" />
<line x1="649.9" y1="1084.88" x2="641.3" y2="1084.88" stroke="#3a3a3a" stroke-width="1.1" />
<line x1="97.5" y1="1071.25" x2="102.1" y2="1071.25" stroke="#3a3a3a" stroke-width="1" />
<line x1="373.7" y1="1071.25" x2="369.1" y2="1071.25" stroke="#3a3a3a" stroke-width="1" />
<line x1="373.7" y1="1071.25" x2="378.3" y2="1071.25" stroke="#3a3a3a" stroke-width="1" />
<line x1="649.9" y1="1071.25" x2="645.3" y2="1071.25" stroke="#3a3a3a" stroke-width="1" />
<line x1="97.5" y1="1063.27" x2="102.1" y2="1063.27" stroke="#3a3a3a" stroke-width="1" />
<line x1="373.7" y1="1063.27" x2="369.1" y2="1063.27" stroke="#3a3a3a" stroke-width="1" />
<line x1="373.7" y1="1063.27" x2="378.3" y2="1063.27" stroke="#3a3a3a" stroke-width="1" />
<line x1="649.9" y1="1063.27" x2="645.3" y2="1063.27" stroke="#3a3a3a" stroke-width="1" />
<line x1="97.5" y1="1057.61" x2="102.1" y2="1057.61" stroke="#3a3a3a" stroke-width="1" />
<line x1="373.7" y1="1057.61" x2="369.1" y2="1057.61" stroke="#3a3a3a" stroke-width="1" />
<line x1="373.7" y1="1057.61" x2="378.3" y2="1057.61" stroke="#3a3a3a" stroke-width="1" />
<line x1="649.9" y1="1057.61" x2="645.3" y2="1057.61" stroke="#3a3a3a" stroke-width="1" />
<line x1="97.5" y1="1053.22" x2="102.1" y2="1053.22" stroke="#3a3a3a" stroke-width="1" />
<line x1="373.7" y1="1053.22" x2="369.1" y2="1053.22" stroke="#3a3a3a" stroke-width="1" />
<line x1="373.7" y1="1053.22" x2="378.3" y2="1053.22" stroke="#3a3a3a" stroke-width="1" />
<line x1="649.9" y1="1053.22" x2="645.3" y2="1053.22" stroke="#3a3a3a" stroke-width="1" />
<line x1="97.5" y1="1049.64" x2="102.1" y2="1049.64" stroke="#3a3a3a" stroke-width="1" />
<line x1="373.7" y1="1049.64" x2="369.1" y2="1049.64" stroke="#3a3a3a" stroke-width="1" />
<line x1="373.7" y1="1049.64" x2="378.3" y2="1049.64" stroke="#3a3a3a" stroke-width="1" />
<line x1="649.9" y1="1049.64" x2="645.3" y2="1049.64" stroke="#3a3a3a" stroke-width="1" />
<line x1="97.5" y1="1046.61" x2="102.1" y2="1046.61" stroke="#3a3a3a" stroke-width="1" />
<line x1="373.7" y1="1046.61" x2="369.1" y2="1046.61" stroke="#3a3a3a" stroke-width="1" />
<line x1="373.7" y1="1046.61" x2="378.3" y2="1046.61" stroke="#3a3a3a" stroke-width="1" />
<line x1="649.9" y1="1046.61" x2="645.3" y2="1046.61" stroke="#3a3a3a" stroke-width="1" />
<line x1="97.5" y1="1043.98" x2="102.1" y2="1043.98" stroke="#3a3a3a" stroke-width="1" />
<line x1="373.7" y1="1043.98" x2="369.1" y2="1043.98" stroke="#3a3a3a" stroke-width="1" />
<line x1="373.7" y1="1043.98" x2="378.3" y2="1043.98" stroke="#3a3a3a" stroke-width="1" />
<line x1="649.9" y1="1043.98" x2="645.3" y2="1043.98" stroke="#3a3a3a" stroke-width="1" />
<line x1="97.5" y1="1041.66" x2="102.1" y2="1041.66" stroke="#3a3a3a" stroke-width="1" />
<line x1="373.7" y1="1041.66" x2="369.1" y2="1041.66" stroke="#3a3a3a" stroke-width="1" />
<line x1="373.7" y1="1041.66" x2="378.3" y2="1041.66" stroke="#3a3a3a" stroke-width="1" />
<line x1="649.9" y1="1041.66" x2="645.3" y2="1041.66" stroke="#3a3a3a" stroke-width="1" />
<line x1="97.5" y1="1039.59" x2="106.1" y2="1039.59" stroke="#3a3a3a" stroke-width="1.1" />
<line x1="373.7" y1="1039.59" x2="365.1" y2="1039.59" stroke="#3a3a3a" stroke-width="1.1" />
<line x1="373.7" y1="1039.59" x2="382.3" y2="1039.59" stroke="#3a3a3a" stroke-width="1.1" />
<line x1="649.9" y1="1039.59" x2="641.3" y2="1039.59" stroke="#3a3a3a" stroke-width="1.1" />
<line x1="97.5" y1="1025.96" x2="102.1" y2="1025.96" stroke="#3a3a3a" stroke-width="1" />
<line x1="373.7" y1="1025.96" x2="369.1" y2="1025.96" stroke="#3a3a3a" stroke-width="1" />
<line x1="373.7" y1="1025.96" x2="378.3" y2="1025.96" stroke="#3a3a3a" stroke-width="1" />
<line x1="649.9" y1="1025.96" x2="645.3" y2="1025.96" stroke="#3a3a3a" stroke-width="1" />
<line x1="97.5" y1="1017.98" x2="102.1" y2="1017.98" stroke="#3a3a3a" stroke-width="1" />
<line x1="373.7" y1="1017.98" x2="369.1" y2="1017.98" stroke="#3a3a3a" stroke-width="1" />
<line x1="373.7" y1="1017.98" x2="378.3" y2="1017.98" stroke="#3a3a3a" stroke-width="1" />
<line x1="649.9" y1="1017.98" x2="645.3" y2="1017.98" stroke="#3a3a3a" stroke-width="1" />
<line x1="97.5" y1="1012.32" x2="102.1" y2="1012.32" stroke="#3a3a3a" stroke-width="1" />
<line x1="373.7" y1="1012.32" x2="369.1" y2="1012.32" stroke="#3a3a3a" stroke-width="1" />
<line x1="373.7" y1="1012.32" x2="378.3" y2="1012.32" stroke="#3a3a3a" stroke-width="1" />
<line x1="649.9" y1="1012.32" x2="645.3" y2="1012.32" stroke="#3a3a3a" stroke-width="1" />
<line x1="97.5" y1="1007.93" x2="102.1" y2="1007.93" stroke="#3a3a3a" stroke-width="1" />
<line x1="373.7" y1="1007.93" x2="369.1" y2="1007.93" stroke="#3a3a3a" stroke-width="1" />
<line x1="373.7" y1="1007.93" x2="378.3" y2="1007.93" stroke="#3a3a3a" stroke-width="1" />
<line x1="649.9" y1="1007.93" x2="645.3" y2="1007.93" stroke="#3a3a3a" stroke-width="1" />
<line x1="97.5" y1="1004.35" x2="102.1" y2="1004.35" stroke="#3a3a3a" stroke-width="1" />
<line x1="373.7" y1="1004.35" x2="369.1" y2="1004.35" stroke="#3a3a3a" stroke-width="1" />
<line x1="373.7" y1="1004.35" x2="378.3" y2="1004.35" stroke="#3a3a3a" stroke-width="1" />
<line x1="649.9" y1="1004.35" x2="645.3" y2="1004.35" stroke="#3a3a3a" stroke-width="1" />
<line x1="97.5" y1="1001.32" x2="102.1" y2="1001.32" stroke="#3a3a3a" stroke-width="1" />
<line x1="373.7" y1="1001.32" x2="369.1" y2="1001.32" stroke="#3a3a3a" stroke-width="1" />
<line x1="373.7" y1="1001.32" x2="378.3" y2="1001.32" stroke="#3a3a3a" stroke-width="1" />
<line x1="649.9" y1="1001.32" x2="645.3" y2="1001.32" stroke="#3a3a3a" stroke-width="1" />
<line x1="97.5" y1="998.69" x2="102.1" y2="998.69" stroke="#3a3a3a" stroke-width="1" />
<line x1="373.7" y1="998.69" x2="369.1" y2="998.69" stroke="#3a3a3a" stroke-width="1" />
<line x1="373.7" y1="998.69" x2="378.3" y2="998.69" stroke="#3a3a3a" stroke-width="1" />
<line x1="649.9" y1="998.69" x2="645.3" y2="998.69" stroke="#3a3a3a" stroke-width="1" />
<line x1="97.5" y1="996.37" x2="102.1" y2="996.37" stroke="#3a3a3a" stroke-width="1" />
<line x1="373.7" y1="996.37" x2="369.1" y2="996.37" stroke="#3a3a3a" stroke-width="1" />
<line x1="373.7" y1="996.37" x2="378.3" y2="996.37" stroke="#3a3a3a" stroke-width="1" />
<line x1="649.9" y1="996.37" x2="645.3" y2="996.37" stroke="#3a3a3a" stroke-width="1" />
<line x1="97.5" y1="994.3" x2="106.1" y2="994.3" stroke="#3a3a3a" stroke-width="1.1" />
<line x1="373.7" y1="994.3" x2="365.1" y2="994.3" stroke="#3a3a3a" stroke-width="1.1" />
<line x1="373.7" y1="994.3" x2="382.3" y2="994.3" stroke="#3a3a3a" stroke-width="1.1" />
<line x1="649.9" y1="994.3" x2="641.3" y2="994.3" stroke="#3a3a3a" stroke-width="1.1" />
<line x1="143.53" y1="1447.2" x2="143.53" y2="1438.9" stroke="#3a3a3a" stroke-width="1.1" />
<line x1="143.53" y1="994.3" x2="143.53" y2="1002.6" stroke="#3a3a3a" stroke-width="1.1" />
<text x="143.53" y="1475.5" font-size="24.5" text-anchor="middle" fill="#000" >−20</text>
<line x1="235.6" y1="1447.2" x2="235.6" y2="1438.9" stroke="#3a3a3a" stroke-width="1.1" />
<line x1="235.6" y1="994.3" x2="235.6" y2="1002.6" stroke="#3a3a3a" stroke-width="1.1" />
<text x="235.6" y="1475.5" font-size="24.5" text-anchor="middle" fill="#000" >0</text>
<line x1="327.67" y1="1447.2" x2="327.67" y2="1438.9" stroke="#3a3a3a" stroke-width="1.1" />
<line x1="327.67" y1="994.3" x2="327.67" y2="1002.6" stroke="#3a3a3a" stroke-width="1.1" />
<text x="327.67" y="1475.5" font-size="24.5" text-anchor="middle" fill="#000" >20</text>
<line x1="189.57" y1="1447.2" x2="189.57" y2="1442.9" stroke="#3a3a3a" stroke-width="1.1" />
<line x1="189.57" y1="994.3" x2="189.57" y2="998.6" stroke="#3a3a3a" stroke-width="1.1" />
<line x1="281.63" y1="1447.2" x2="281.63" y2="1442.9" stroke="#3a3a3a" stroke-width="1.1" />
<line x1="281.63" y1="994.3" x2="281.63" y2="998.6" stroke="#3a3a3a" stroke-width="1.1" />
<text x="236.6" y="1516.4" font-size="24.5" text-anchor="middle" fill="#000" ><tspan font-style="italic">V</tspan><tspan font-size="17" dy="7">Gate</tspan><tspan dy="-7"> (V)</tspan></text>
<line x1="419.73" y1="1447.2" x2="419.73" y2="1438.9" stroke="#3a3a3a" stroke-width="1.1" />
<line x1="419.73" y1="994.3" x2="419.73" y2="1002.6" stroke="#3a3a3a" stroke-width="1.1" />
<text x="419.73" y="1475.5" font-size="24.5" text-anchor="middle" fill="#000" >−20</text>
<line x1="511.8" y1="1447.2" x2="511.8" y2="1438.9" stroke="#3a3a3a" stroke-width="1.1" />
<line x1="511.8" y1="994.3" x2="511.8" y2="1002.6" stroke="#3a3a3a" stroke-width="1.1" />
<text x="511.8" y="1475.5" font-size="24.5" text-anchor="middle" fill="#000" >0</text>
<line x1="603.87" y1="1447.2" x2="603.87" y2="1438.9" stroke="#3a3a3a" stroke-width="1.1" />
<line x1="603.87" y1="994.3" x2="603.87" y2="1002.6" stroke="#3a3a3a" stroke-width="1.1" />
<text x="603.87" y="1475.5" font-size="24.5" text-anchor="middle" fill="#000" >20</text>
<line x1="465.77" y1="1447.2" x2="465.77" y2="1442.9" stroke="#3a3a3a" stroke-width="1.1" />
<line x1="465.77" y1="994.3" x2="465.77" y2="998.6" stroke="#3a3a3a" stroke-width="1.1" />
<line x1="557.83" y1="1447.2" x2="557.83" y2="1442.9" stroke="#3a3a3a" stroke-width="1.1" />
<line x1="557.83" y1="994.3" x2="557.83" y2="998.6" stroke="#3a3a3a" stroke-width="1.1" />
<text x="512.8" y="1516.4" font-size="24.5" text-anchor="middle" fill="#000" ><tspan font-style="italic">V</tspan><tspan font-size="17" dy="7">Gate</tspan><tspan dy="-7"> (V)</tspan></text>
<text x="87.7" y="1002.9" font-size="24.5" text-anchor="end" fill="#000" >10<tspan font-size="16.5" dy="-10">−4</tspan></text>
<text x="87.7" y="1093.48" font-size="24.5" text-anchor="end" fill="#000" >10<tspan font-size="16.5" dy="-10">−6</tspan></text>
<text x="87.7" y="1184.06" font-size="24.5" text-anchor="end" fill="#000" >10<tspan font-size="16.5" dy="-10">−8</tspan></text>
<text x="87.7" y="1274.64" font-size="24.5" text-anchor="end" fill="#000" >10<tspan font-size="16.5" dy="-10">−10</tspan></text>
<text x="87.7" y="1365.22" font-size="24.5" text-anchor="end" fill="#000" >10<tspan font-size="16.5" dy="-10">−12</tspan></text>
<text x="87.7" y="1455.8" font-size="24.5" text-anchor="end" fill="#000" >10<tspan font-size="16.5" dy="-10">−14</tspan></text>
<text x="0" y="0" font-size="24.5" text-anchor="middle" transform="translate(22 1221) rotate(-90)"><tspan font-style="italic">I</tspan><tspan font-size="16" dy="7">DS</tspan><tspan dy="-7"> (A)</tspan></text>
<text x="378.8" y="981.2" font-size="20.3" text-anchor="middle" fill="#000" >Drain 2</text>
<text x="108.5" y="1427.3" font-size="24" text-anchor="start" fill="#000" ><tspan font-style="italic">V</tspan><tspan font-size="15.5" dy="6.5">DS</tspan><tspan dy="-6.5"> = 0.3 V</tspan></text>
<text x="385.5" y="1427.3" font-size="24" text-anchor="start" fill="#000" ><tspan font-style="italic">V</tspan><tspan font-size="15.5" dy="6.5">DS</tspan><tspan dy="-6.5"> = -0.3 V</tspan></text>
<path d="M824.8 1049.6 L834.8 1054.5 L843.8 1065.7 L847.1 1096.9 L851.6 1152.7 L861.6 1226.3 L864.9 1275.3 L867.2 1352.3 L872.3 1341.1 L873.9 1230.7 L875 1092.4 L881.7 1087.5 L889.5 1083.1 L912.9 1077.9 L953 1075.7 L995.4 1075.7 L1028.9 1074.2 L1028.9 1074.2 L993.2 1077.3 L980.9 1090.2 L977.6 1109.2 L972.7 1115.9 L970.9 1137 L968.6 1152.7 L964.2 1170.5 L959.7 1206.2 L954.1 1226.3 L948.6 1248.6 L944.1 1286.5 L940.8 1319.9 L935.2 1335.5 L934.1 1275.3 L931.8 1230.7 L928.5 1175 L926.3 1130.4 L922.9 1099.1 L917.3 1085.8 L908.4 1074.6 L895 1063.5 L872.7 1055.6 L839.3 1049.6 L824.8 1049.6 Z" fill="url(#gRG)" stroke="none"/>
<path d="M824.8 1049.6 L834.8 1054.5 L843.8 1065.7 L847.1 1096.9 L851.6 1152.7 L861.6 1226.3 L864.9 1275.3 L867.2 1352.3 L872.3 1341.1 L873.9 1230.7 L875 1092.4 L881.7 1087.5 L889.5 1083.1 L912.9 1077.9 L953 1075.7 L995.4 1075.7 L1028.9 1074.2" fill="none" stroke="#000" stroke-width="3.1" stroke-linejoin="round" stroke-linecap="round"/>
<path d="M824.8 1049.6 L839.3 1049.6 L872.7 1055.6 L895 1063.5 L908.4 1074.6 L917.3 1085.8 L922.9 1099.1 L926.3 1130.4 L928.5 1175 L931.8 1230.7 L934.1 1275.3 L935.2 1335.5 L940.8 1319.9 L944.1 1286.5 L948.6 1248.6 L954.1 1226.3 L959.7 1206.2 L964.2 1170.5 L968.6 1152.7 L970.9 1137 L972.7 1115.9 L977.6 1109.2 L980.9 1090.2 L993.2 1077.3 L1028.9 1074.2" fill="none" stroke="#000" stroke-width="3.1" stroke-linejoin="round" stroke-linecap="round"/>
<line x1="1015.5" y1="1061.2" x2="981.6" y2="1061.2" stroke="#000" stroke-width="2.2"/>
<path d="M973.1 1061.2 L981.6 1056.4 L981.6 1066 Z" fill="#000" stroke="none" stroke-width="1" />
<line x1="844.9" y1="1214.7" x2="840.23" y2="1187.38" stroke="#000" stroke-width="2.2"/>
<path d="M838.8 1179 L844.96 1186.57 L835.5 1188.19 Z" fill="#000" stroke="none" stroke-width="1" />
<line x1="918" y1="1178.3" x2="921.77" y2="1206.28" stroke="#000" stroke-width="2.2"/>
<path d="M922.9 1214.7 L917.01 1206.92 L926.52 1205.64 Z" fill="#000" stroke="none" stroke-width="1" />
<line x1="965.3" y1="1212.9" x2="971.34" y2="1184.42" stroke="#000" stroke-width="2.2"/>
<path d="M973.1 1176.1 L976.03 1185.41 L966.64 1183.42 Z" fill="#000" stroke="none" stroke-width="1" />
<path d="M1101.1 1045.6 L1111.2 1049.1 L1118.4 1060.7 L1124.2 1065.9 L1125.7 1086.7 L1128.5 1148.8 L1134.3 1179.1 L1139.5 1213.7 L1140.7 1260 L1143 1340.8 L1148.2 1348.1 L1148.8 1288.8 L1149.6 1202.2 L1150.8 1115.5 L1151.7 1040.4 L1157.4 1030.3 L1180.5 1027.4 L1238.3 1025.4 L1273 1024.6 L1304.7 1023.7 L1304.7 1023.7 L1273 1025.4 L1264.3 1033.2 L1255.6 1040.4 L1249.9 1078 L1245.5 1147.3 L1239.8 1170.4 L1232.5 1222.4 L1225.3 1274.4 L1221 1346.6 L1217.5 1410.2 L1212.3 1430.4 L1210.9 1410.2 L1208 1346.6 L1203.6 1260 L1200.8 1202.2 L1198.5 1147.3 L1193.5 1132.9 L1189.2 1104 L1177.7 1083.8 L1160.3 1066.4 L1140.1 1054.9 L1101.1 1045.6 Z" fill="url(#gRG)" stroke="none"/>
<path d="M1101.1 1045.6 L1111.2 1049.1 L1118.4 1060.7 L1124.2 1065.9 L1125.7 1086.7 L1128.5 1148.8 L1134.3 1179.1 L1139.5 1213.7 L1140.7 1260 L1143 1340.8 L1148.2 1348.1 L1148.8 1288.8 L1149.6 1202.2 L1150.8 1115.5 L1151.7 1040.4 L1157.4 1030.3 L1180.5 1027.4 L1238.3 1025.4 L1273 1024.6 L1304.7 1023.7" fill="none" stroke="#000" stroke-width="3.1" stroke-linejoin="round" stroke-linecap="round"/>
<path d="M1101.1 1045.6 L1140.1 1054.9 L1160.3 1066.4 L1177.7 1083.8 L1189.2 1104 L1193.5 1132.9 L1198.5 1147.3 L1200.8 1202.2 L1203.6 1260 L1208 1346.6 L1210.9 1410.2 L1212.3 1430.4 L1217.5 1410.2 L1221 1346.6 L1225.3 1274.4 L1232.5 1222.4 L1239.8 1170.4 L1245.5 1147.3 L1249.9 1078 L1255.6 1040.4 L1264.3 1033.2 L1273 1025.4 L1304.7 1023.7" fill="none" stroke="#000" stroke-width="3.1" stroke-linejoin="round" stroke-linecap="round"/>
<line x1="1215.2" y1="1011.6" x2="1181.8" y2="1011.6" stroke="#000" stroke-width="2.2"/>
<path d="M1173.3 1011.6 L1181.8 1006.8 L1181.8 1016.4 Z" fill="#000" stroke="none" stroke-width="1" />
<line x1="1118.7" y1="1205.7" x2="1114.72" y2="1178.21" stroke="#000" stroke-width="2.2"/>
<path d="M1113.5 1169.8 L1119.47 1177.52 L1109.97 1178.9 Z" fill="#000" stroke="none" stroke-width="1" />
<line x1="1182" y1="1175.3" x2="1187.86" y2="1200.23" stroke="#000" stroke-width="2.2"/>
<path d="M1189.8 1208.5 L1183.18 1201.32 L1192.53 1199.13 Z" fill="#000" stroke="none" stroke-width="1" />
<line x1="1242.6" y1="1221.8" x2="1249.32" y2="1193.67" stroke="#000" stroke-width="2.2"/>
<path d="M1251.3 1185.4 L1253.99 1194.78 L1244.66 1192.55 Z" fill="#000" stroke="none" stroke-width="1" />
<line x1="788.2" y1="994.3" x2="1341" y2="994.3" stroke="#3a3a3a" stroke-width="1.3" />
<line x1="788.2" y1="1447.2" x2="1341" y2="1447.2" stroke="#3a3a3a" stroke-width="1.5" />
<line x1="788.2" y1="994.3" x2="788.2" y2="1447.2" stroke="#3a3a3a" stroke-width="1.3" />
<line x1="1341" y1="994.3" x2="1341" y2="1447.2" stroke="#3a3a3a" stroke-width="1.3" />
<line x1="1064.4" y1="994.3" x2="1064.4" y2="1447.2" stroke="#222" stroke-width="1.6" />
<line x1="788.2" y1="1447.2" x2="796.8" y2="1447.2" stroke="#3a3a3a" stroke-width="1.1" />
<line x1="1064.4" y1="1447.2" x2="1055.8" y2="1447.2" stroke="#3a3a3a" stroke-width="1.1" />
<line x1="1064.4" y1="1447.2" x2="1073" y2="1447.2" stroke="#3a3a3a" stroke-width="1.1" />
<line x1="1341" y1="1447.2" x2="1332.4" y2="1447.2" stroke="#3a3a3a" stroke-width="1.1" />
<line x1="788.2" y1="1433.57" x2="792.8" y2="1433.57" stroke="#3a3a3a" stroke-width="1" />
<line x1="1064.4" y1="1433.57" x2="1059.8" y2="1433.57" stroke="#3a3a3a" stroke-width="1" />
<line x1="1064.4" y1="1433.57" x2="1069" y2="1433.57" stroke="#3a3a3a" stroke-width="1" />
<line x1="1341" y1="1433.57" x2="1336.4" y2="1433.57" stroke="#3a3a3a" stroke-width="1" />
<line x1="788.2" y1="1425.59" x2="792.8" y2="1425.59" stroke="#3a3a3a" stroke-width="1" />
<line x1="1064.4" y1="1425.59" x2="1059.8" y2="1425.59" stroke="#3a3a3a" stroke-width="1" />
<line x1="1064.4" y1="1425.59" x2="1069" y2="1425.59" stroke="#3a3a3a" stroke-width="1" />
<line x1="1341" y1="1425.59" x2="1336.4" y2="1425.59" stroke="#3a3a3a" stroke-width="1" />
<line x1="788.2" y1="1419.93" x2="792.8" y2="1419.93" stroke="#3a3a3a" stroke-width="1" />
<line x1="1064.4" y1="1419.93" x2="1059.8" y2="1419.93" stroke="#3a3a3a" stroke-width="1" />
<line x1="1064.4" y1="1419.93" x2="1069" y2="1419.93" stroke="#3a3a3a" stroke-width="1" />
<line x1="1341" y1="1419.93" x2="1336.4" y2="1419.93" stroke="#3a3a3a" stroke-width="1" />
<line x1="788.2" y1="1415.54" x2="792.8" y2="1415.54" stroke="#3a3a3a" stroke-width="1" />
<line x1="1064.4" y1="1415.54" x2="1059.8" y2="1415.54" stroke="#3a3a3a" stroke-width="1" />
<line x1="1064.4" y1="1415.54" x2="1069" y2="1415.54" stroke="#3a3a3a" stroke-width="1" />
<line x1="1341" y1="1415.54" x2="1336.4" y2="1415.54" stroke="#3a3a3a" stroke-width="1" />
<line x1="788.2" y1="1411.96" x2="792.8" y2="1411.96" stroke="#3a3a3a" stroke-width="1" />
<line x1="1064.4" y1="1411.96" x2="1059.8" y2="1411.96" stroke="#3a3a3a" stroke-width="1" />
<line x1="1064.4" y1="1411.96" x2="1069" y2="1411.96" stroke="#3a3a3a" stroke-width="1" />
<line x1="1341" y1="1411.96" x2="1336.4" y2="1411.96" stroke="#3a3a3a" stroke-width="1" />
<line x1="788.2" y1="1408.93" x2="792.8" y2="1408.93" stroke="#3a3a3a" stroke-width="1" />
<line x1="1064.4" y1="1408.93" x2="1059.8" y2="1408.93" stroke="#3a3a3a" stroke-width="1" />
<line x1="1064.4" y1="1408.93" x2="1069" y2="1408.93" stroke="#3a3a3a" stroke-width="1" />
<line x1="1341" y1="1408.93" x2="1336.4" y2="1408.93" stroke="#3a3a3a" stroke-width="1" />
<line x1="788.2" y1="1406.3" x2="792.8" y2="1406.3" stroke="#3a3a3a" stroke-width="1" />
<line x1="1064.4" y1="1406.3" x2="1059.8" y2="1406.3" stroke="#3a3a3a" stroke-width="1" />
<line x1="1064.4" y1="1406.3" x2="1069" y2="1406.3" stroke="#3a3a3a" stroke-width="1" />
<line x1="1341" y1="1406.3" x2="1336.4" y2="1406.3" stroke="#3a3a3a" stroke-width="1" />
<line x1="788.2" y1="1403.98" x2="792.8" y2="1403.98" stroke="#3a3a3a" stroke-width="1" />
<line x1="1064.4" y1="1403.98" x2="1059.8" y2="1403.98" stroke="#3a3a3a" stroke-width="1" />
<line x1="1064.4" y1="1403.98" x2="1069" y2="1403.98" stroke="#3a3a3a" stroke-width="1" />
<line x1="1341" y1="1403.98" x2="1336.4" y2="1403.98" stroke="#3a3a3a" stroke-width="1" />
<line x1="788.2" y1="1401.91" x2="796.8" y2="1401.91" stroke="#3a3a3a" stroke-width="1.1" />
<line x1="1064.4" y1="1401.91" x2="1055.8" y2="1401.91" stroke="#3a3a3a" stroke-width="1.1" />
<line x1="1064.4" y1="1401.91" x2="1073" y2="1401.91" stroke="#3a3a3a" stroke-width="1.1" />
<line x1="1341" y1="1401.91" x2="1332.4" y2="1401.91" stroke="#3a3a3a" stroke-width="1.1" />
<line x1="788.2" y1="1388.28" x2="792.8" y2="1388.28" stroke="#3a3a3a" stroke-width="1" />
<line x1="1064.4" y1="1388.28" x2="1059.8" y2="1388.28" stroke="#3a3a3a" stroke-width="1" />
<line x1="1064.4" y1="1388.28" x2="1069" y2="1388.28" stroke="#3a3a3a" stroke-width="1" />
<line x1="1341" y1="1388.28" x2="1336.4" y2="1388.28" stroke="#3a3a3a" stroke-width="1" />
<line x1="788.2" y1="1380.3" x2="792.8" y2="1380.3" stroke="#3a3a3a" stroke-width="1" />
<line x1="1064.4" y1="1380.3" x2="1059.8" y2="1380.3" stroke="#3a3a3a" stroke-width="1" />
<line x1="1064.4" y1="1380.3" x2="1069" y2="1380.3" stroke="#3a3a3a" stroke-width="1" />
<line x1="1341" y1="1380.3" x2="1336.4" y2="1380.3" stroke="#3a3a3a" stroke-width="1" />
<line x1="788.2" y1="1374.64" x2="792.8" y2="1374.64" stroke="#3a3a3a" stroke-width="1" />
<line x1="1064.4" y1="1374.64" x2="1059.8" y2="1374.64" stroke="#3a3a3a" stroke-width="1" />
<line x1="1064.4" y1="1374.64" x2="1069" y2="1374.64" stroke="#3a3a3a" stroke-width="1" />
<line x1="1341" y1="1374.64" x2="1336.4" y2="1374.64" stroke="#3a3a3a" stroke-width="1" />
<line x1="788.2" y1="1370.25" x2="792.8" y2="1370.25" stroke="#3a3a3a" stroke-width="1" />
<line x1="1064.4" y1="1370.25" x2="1059.8" y2="1370.25" stroke="#3a3a3a" stroke-width="1" />
<line x1="1064.4" y1="1370.25" x2="1069" y2="1370.25" stroke="#3a3a3a" stroke-width="1" />
<line x1="1341" y1="1370.25" x2="1336.4" y2="1370.25" stroke="#3a3a3a" stroke-width="1" />
<line x1="788.2" y1="1366.67" x2="792.8" y2="1366.67" stroke="#3a3a3a" stroke-width="1" />
<line x1="1064.4" y1="1366.67" x2="1059.8" y2="1366.67" stroke="#3a3a3a" stroke-width="1" />
<line x1="1064.4" y1="1366.67" x2="1069" y2="1366.67" stroke="#3a3a3a" stroke-width="1" />
<line x1="1341" y1="1366.67" x2="1336.4" y2="1366.67" stroke="#3a3a3a" stroke-width="1" />
<line x1="788.2" y1="1363.64" x2="792.8" y2="1363.64" stroke="#3a3a3a" stroke-width="1" />
<line x1="1064.4" y1="1363.64" x2="1059.8" y2="1363.64" stroke="#3a3a3a" stroke-width="1" />
<line x1="1064.4" y1="1363.64" x2="1069" y2="1363.64" stroke="#3a3a3a" stroke-width="1" />
<line x1="1341" y1="1363.64" x2="1336.4" y2="1363.64" stroke="#3a3a3a" stroke-width="1" />
<line x1="788.2" y1="1361.01" x2="792.8" y2="1361.01" stroke="#3a3a3a" stroke-width="1" />
<line x1="1064.4" y1="1361.01" x2="1059.8" y2="1361.01" stroke="#3a3a3a" stroke-width="1" />
<line x1="1064.4" y1="1361.01" x2="1069" y2="1361.01" stroke="#3a3a3a" stroke-width="1" />
<line x1="1341" y1="1361.01" x2="1336.4" y2="1361.01" stroke="#3a3a3a" stroke-width="1" />
<line x1="788.2" y1="1358.69" x2="792.8" y2="1358.69" stroke="#3a3a3a" stroke-width="1" />
<line x1="1064.4" y1="1358.69" x2="1059.8" y2="1358.69" stroke="#3a3a3a" stroke-width="1" />
<line x1="1064.4" y1="1358.69" x2="1069" y2="1358.69" stroke="#3a3a3a" stroke-width="1" />
<line x1="1341" y1="1358.69" x2="1336.4" y2="1358.69" stroke="#3a3a3a" stroke-width="1" />
<line x1="788.2" y1="1356.62" x2="796.8" y2="1356.62" stroke="#3a3a3a" stroke-width="1.1" />
<line x1="1064.4" y1="1356.62" x2="1055.8" y2="1356.62" stroke="#3a3a3a" stroke-width="1.1" />
<line x1="1064.4" y1="1356.62" x2="1073" y2="1356.62" stroke="#3a3a3a" stroke-width="1.1" />
<line x1="1341" y1="1356.62" x2="1332.4" y2="1356.62" stroke="#3a3a3a" stroke-width="1.1" />
<line x1="788.2" y1="1342.99" x2="792.8" y2="1342.99" stroke="#3a3a3a" stroke-width="1" />
<line x1="1064.4" y1="1342.99" x2="1059.8" y2="1342.99" stroke="#3a3a3a" stroke-width="1" />
<line x1="1064.4" y1="1342.99" x2="1069" y2="1342.99" stroke="#3a3a3a" stroke-width="1" />
<line x1="1341" y1="1342.99" x2="1336.4" y2="1342.99" stroke="#3a3a3a" stroke-width="1" />
<line x1="788.2" y1="1335.01" x2="792.8" y2="1335.01" stroke="#3a3a3a" stroke-width="1" />
<line x1="1064.4" y1="1335.01" x2="1059.8" y2="1335.01" stroke="#3a3a3a" stroke-width="1" />
<line x1="1064.4" y1="1335.01" x2="1069" y2="1335.01" stroke="#3a3a3a" stroke-width="1" />
<line x1="1341" y1="1335.01" x2="1336.4" y2="1335.01" stroke="#3a3a3a" stroke-width="1" />
<line x1="788.2" y1="1329.35" x2="792.8" y2="1329.35" stroke="#3a3a3a" stroke-width="1" />
<line x1="1064.4" y1="1329.35" x2="1059.8" y2="1329.35" stroke="#3a3a3a" stroke-width="1" />
<line x1="1064.4" y1="1329.35" x2="1069" y2="1329.35" stroke="#3a3a3a" stroke-width="1" />
<line x1="1341" y1="1329.35" x2="1336.4" y2="1329.35" stroke="#3a3a3a" stroke-width="1" />
<line x1="788.2" y1="1324.96" x2="792.8" y2="1324.96" stroke="#3a3a3a" stroke-width="1" />
<line x1="1064.4" y1="1324.96" x2="1059.8" y2="1324.96" stroke="#3a3a3a" stroke-width="1" />
<line x1="1064.4" y1="1324.96" x2="1069" y2="1324.96" stroke="#3a3a3a" stroke-width="1" />
<line x1="1341" y1="1324.96" x2="1336.4" y2="1324.96" stroke="#3a3a3a" stroke-width="1" />
<line x1="788.2" y1="1321.38" x2="792.8" y2="1321.38" stroke="#3a3a3a" stroke-width="1" />
<line x1="1064.4" y1="1321.38" x2="1059.8" y2="1321.38" stroke="#3a3a3a" stroke-width="1" />
<line x1="1064.4" y1="1321.38" x2="1069" y2="1321.38" stroke="#3a3a3a" stroke-width="1" />
<line x1="1341" y1="1321.38" x2="1336.4" y2="1321.38" stroke="#3a3a3a" stroke-width="1" />
<line x1="788.2" y1="1318.35" x2="792.8" y2="1318.35" stroke="#3a3a3a" stroke-width="1" />
<line x1="1064.4" y1="1318.35" x2="1059.8" y2="1318.35" stroke="#3a3a3a" stroke-width="1" />
<line x1="1064.4" y1="1318.35" x2="1069" y2="1318.35" stroke="#3a3a3a" stroke-width="1" />
<line x1="1341" y1="1318.35" x2="1336.4" y2="1318.35" stroke="#3a3a3a" stroke-width="1" />
<line x1="788.2" y1="1315.72" x2="792.8" y2="1315.72" stroke="#3a3a3a" stroke-width="1" />
<line x1="1064.4" y1="1315.72" x2="1059.8" y2="1315.72" stroke="#3a3a3a" stroke-width="1" />
<line x1="1064.4" y1="1315.72" x2="1069" y2="1315.72" stroke="#3a3a3a" stroke-width="1" />
<line x1="1341" y1="1315.72" x2="1336.4" y2="1315.72" stroke="#3a3a3a" stroke-width="1" />
<line x1="788.2" y1="1313.4" x2="792.8" y2="1313.4" stroke="#3a3a3a" stroke-width="1" />
<line x1="1064.4" y1="1313.4" x2="1059.8" y2="1313.4" stroke="#3a3a3a" stroke-width="1" />
<line x1="1064.4" y1="1313.4" x2="1069" y2="1313.4" stroke="#3a3a3a" stroke-width="1" />
<line x1="1341" y1="1313.4" x2="1336.4" y2="1313.4" stroke="#3a3a3a" stroke-width="1" />
<line x1="788.2" y1="1311.33" x2="796.8" y2="1311.33" stroke="#3a3a3a" stroke-width="1.1" />
<line x1="1064.4" y1="1311.33" x2="1055.8" y2="1311.33" stroke="#3a3a3a" stroke-width="1.1" />
<line x1="1064.4" y1="1311.33" x2="1073" y2="1311.33" stroke="#3a3a3a" stroke-width="1.1" />
<line x1="1341" y1="1311.33" x2="1332.4" y2="1311.33" stroke="#3a3a3a" stroke-width="1.1" />
<line x1="788.2" y1="1297.7" x2="792.8" y2="1297.7" stroke="#3a3a3a" stroke-width="1" />
<line x1="1064.4" y1="1297.7" x2="1059.8" y2="1297.7" stroke="#3a3a3a" stroke-width="1" />
<line x1="1064.4" y1="1297.7" x2="1069" y2="1297.7" stroke="#3a3a3a" stroke-width="1" />
<line x1="1341" y1="1297.7" x2="1336.4" y2="1297.7" stroke="#3a3a3a" stroke-width="1" />
<line x1="788.2" y1="1289.72" x2="792.8" y2="1289.72" stroke="#3a3a3a" stroke-width="1" />
<line x1="1064.4" y1="1289.72" x2="1059.8" y2="1289.72" stroke="#3a3a3a" stroke-width="1" />
<line x1="1064.4" y1="1289.72" x2="1069" y2="1289.72" stroke="#3a3a3a" stroke-width="1" />
<line x1="1341" y1="1289.72" x2="1336.4" y2="1289.72" stroke="#3a3a3a" stroke-width="1" />
<line x1="788.2" y1="1284.06" x2="792.8" y2="1284.06" stroke="#3a3a3a" stroke-width="1" />
<line x1="1064.4" y1="1284.06" x2="1059.8" y2="1284.06" stroke="#3a3a3a" stroke-width="1" />
<line x1="1064.4" y1="1284.06" x2="1069" y2="1284.06" stroke="#3a3a3a" stroke-width="1" />
<line x1="1341" y1="1284.06" x2="1336.4" y2="1284.06" stroke="#3a3a3a" stroke-width="1" />
<line x1="788.2" y1="1279.67" x2="792.8" y2="1279.67" stroke="#3a3a3a" stroke-width="1" />
<line x1="1064.4" y1="1279.67" x2="1059.8" y2="1279.67" stroke="#3a3a3a" stroke-width="1" />
<line x1="1064.4" y1="1279.67" x2="1069" y2="1279.67" stroke="#3a3a3a" stroke-width="1" />
<line x1="1341" y1="1279.67" x2="1336.4" y2="1279.67" stroke="#3a3a3a" stroke-width="1" />
<line x1="788.2" y1="1276.09" x2="792.8" y2="1276.09" stroke="#3a3a3a" stroke-width="1" />
<line x1="1064.4" y1="1276.09" x2="1059.8" y2="1276.09" stroke="#3a3a3a" stroke-width="1" />
<line x1="1064.4" y1="1276.09" x2="1069" y2="1276.09" stroke="#3a3a3a" stroke-width="1" />
<line x1="1341" y1="1276.09" x2="1336.4" y2="1276.09" stroke="#3a3a3a" stroke-width="1" />
<line x1="788.2" y1="1273.06" x2="792.8" y2="1273.06" stroke="#3a3a3a" stroke-width="1" />
<line x1="1064.4" y1="1273.06" x2="1059.8" y2="1273.06" stroke="#3a3a3a" stroke-width="1" />
<line x1="1064.4" y1="1273.06" x2="1069" y2="1273.06" stroke="#3a3a3a" stroke-width="1" />
<line x1="1341" y1="1273.06" x2="1336.4" y2="1273.06" stroke="#3a3a3a" stroke-width="1" />
<line x1="788.2" y1="1270.43" x2="792.8" y2="1270.43" stroke="#3a3a3a" stroke-width="1" />
<line x1="1064.4" y1="1270.43" x2="1059.8" y2="1270.43" stroke="#3a3a3a" stroke-width="1" />
<line x1="1064.4" y1="1270.43" x2="1069" y2="1270.43" stroke="#3a3a3a" stroke-width="1" />
<line x1="1341" y1="1270.43" x2="1336.4" y2="1270.43" stroke="#3a3a3a" stroke-width="1" />
<line x1="788.2" y1="1268.11" x2="792.8" y2="1268.11" stroke="#3a3a3a" stroke-width="1" />
<line x1="1064.4" y1="1268.11" x2="1059.8" y2="1268.11" stroke="#3a3a3a" stroke-width="1" />
<line x1="1064.4" y1="1268.11" x2="1069" y2="1268.11" stroke="#3a3a3a" stroke-width="1" />
<line x1="1341" y1="1268.11" x2="1336.4" y2="1268.11" stroke="#3a3a3a" stroke-width="1" />
<line x1="788.2" y1="1266.04" x2="796.8" y2="1266.04" stroke="#3a3a3a" stroke-width="1.1" />
<line x1="1064.4" y1="1266.04" x2="1055.8" y2="1266.04" stroke="#3a3a3a" stroke-width="1.1" />
<line x1="1064.4" y1="1266.04" x2="1073" y2="1266.04" stroke="#3a3a3a" stroke-width="1.1" />
<line x1="1341" y1="1266.04" x2="1332.4" y2="1266.04" stroke="#3a3a3a" stroke-width="1.1" />
<line x1="788.2" y1="1252.41" x2="792.8" y2="1252.41" stroke="#3a3a3a" stroke-width="1" />
<line x1="1064.4" y1="1252.41" x2="1059.8" y2="1252.41" stroke="#3a3a3a" stroke-width="1" />
<line x1="1064.4" y1="1252.41" x2="1069" y2="1252.41" stroke="#3a3a3a" stroke-width="1" />
<line x1="1341" y1="1252.41" x2="1336.4" y2="1252.41" stroke="#3a3a3a" stroke-width="1" />
<line x1="788.2" y1="1244.43" x2="792.8" y2="1244.43" stroke="#3a3a3a" stroke-width="1" />
<line x1="1064.4" y1="1244.43" x2="1059.8" y2="1244.43" stroke="#3a3a3a" stroke-width="1" />
<line x1="1064.4" y1="1244.43" x2="1069" y2="1244.43" stroke="#3a3a3a" stroke-width="1" />
<line x1="1341" y1="1244.43" x2="1336.4" y2="1244.43" stroke="#3a3a3a" stroke-width="1" />
<line x1="788.2" y1="1238.77" x2="792.8" y2="1238.77" stroke="#3a3a3a" stroke-width="1" />
<line x1="1064.4" y1="1238.77" x2="1059.8" y2="1238.77" stroke="#3a3a3a" stroke-width="1" />
<line x1="1064.4" y1="1238.77" x2="1069" y2="1238.77" stroke="#3a3a3a" stroke-width="1" />
<line x1="1341" y1="1238.77" x2="1336.4" y2="1238.77" stroke="#3a3a3a" stroke-width="1" />
<line x1="788.2" y1="1234.38" x2="792.8" y2="1234.38" stroke="#3a3a3a" stroke-width="1" />
<line x1="1064.4" y1="1234.38" x2="1059.8" y2="1234.38" stroke="#3a3a3a" stroke-width="1" />
<line x1="1064.4" y1="1234.38" x2="1069" y2="1234.38" stroke="#3a3a3a" stroke-width="1" />
<line x1="1341" y1="1234.38" x2="1336.4" y2="1234.38" stroke="#3a3a3a" stroke-width="1" />
<line x1="788.2" y1="1230.8" x2="792.8" y2="1230.8" stroke="#3a3a3a" stroke-width="1" />
<line x1="1064.4" y1="1230.8" x2="1059.8" y2="1230.8" stroke="#3a3a3a" stroke-width="1" />
<line x1="1064.4" y1="1230.8" x2="1069" y2="1230.8" stroke="#3a3a3a" stroke-width="1" />
<line x1="1341" y1="1230.8" x2="1336.4" y2="1230.8" stroke="#3a3a3a" stroke-width="1" />
<line x1="788.2" y1="1227.77" x2="792.8" y2="1227.77" stroke="#3a3a3a" stroke-width="1" />
<line x1="1064.4" y1="1227.77" x2="1059.8" y2="1227.77" stroke="#3a3a3a" stroke-width="1" />
<line x1="1064.4" y1="1227.77" x2="1069" y2="1227.77" stroke="#3a3a3a" stroke-width="1" />
<line x1="1341" y1="1227.77" x2="1336.4" y2="1227.77" stroke="#3a3a3a" stroke-width="1" />
<line x1="788.2" y1="1225.14" x2="792.8" y2="1225.14" stroke="#3a3a3a" stroke-width="1" />
<line x1="1064.4" y1="1225.14" x2="1059.8" y2="1225.14" stroke="#3a3a3a" stroke-width="1" />
<line x1="1064.4" y1="1225.14" x2="1069" y2="1225.14" stroke="#3a3a3a" stroke-width="1" />
<line x1="1341" y1="1225.14" x2="1336.4" y2="1225.14" stroke="#3a3a3a" stroke-width="1" />
<line x1="788.2" y1="1222.82" x2="792.8" y2="1222.82" stroke="#3a3a3a" stroke-width="1" />
<line x1="1064.4" y1="1222.82" x2="1059.8" y2="1222.82" stroke="#3a3a3a" stroke-width="1" />
<line x1="1064.4" y1="1222.82" x2="1069" y2="1222.82" stroke="#3a3a3a" stroke-width="1" />
<line x1="1341" y1="1222.82" x2="1336.4" y2="1222.82" stroke="#3a3a3a" stroke-width="1" />
<line x1="788.2" y1="1220.75" x2="796.8" y2="1220.75" stroke="#3a3a3a" stroke-width="1.1" />
<line x1="1064.4" y1="1220.75" x2="1055.8" y2="1220.75" stroke="#3a3a3a" stroke-width="1.1" />
<line x1="1064.4" y1="1220.75" x2="1073" y2="1220.75" stroke="#3a3a3a" stroke-width="1.1" />
<line x1="1341" y1="1220.75" x2="1332.4" y2="1220.75" stroke="#3a3a3a" stroke-width="1.1" />
<line x1="788.2" y1="1207.12" x2="792.8" y2="1207.12" stroke="#3a3a3a" stroke-width="1" />
<line x1="1064.4" y1="1207.12" x2="1059.8" y2="1207.12" stroke="#3a3a3a" stroke-width="1" />
<line x1="1064.4" y1="1207.12" x2="1069" y2="1207.12" stroke="#3a3a3a" stroke-width="1" />
<line x1="1341" y1="1207.12" x2="1336.4" y2="1207.12" stroke="#3a3a3a" stroke-width="1" />
<line x1="788.2" y1="1199.14" x2="792.8" y2="1199.14" stroke="#3a3a3a" stroke-width="1" />
<line x1="1064.4" y1="1199.14" x2="1059.8" y2="1199.14" stroke="#3a3a3a" stroke-width="1" />
<line x1="1064.4" y1="1199.14" x2="1069" y2="1199.14" stroke="#3a3a3a" stroke-width="1" />
<line x1="1341" y1="1199.14" x2="1336.4" y2="1199.14" stroke="#3a3a3a" stroke-width="1" />
<line x1="788.2" y1="1193.48" x2="792.8" y2="1193.48" stroke="#3a3a3a" stroke-width="1" />
<line x1="1064.4" y1="1193.48" x2="1059.8" y2="1193.48" stroke="#3a3a3a" stroke-width="1" />
<line x1="1064.4" y1="1193.48" x2="1069" y2="1193.48" stroke="#3a3a3a" stroke-width="1" />
<line x1="1341" y1="1193.48" x2="1336.4" y2="1193.48" stroke="#3a3a3a" stroke-width="1" />
<line x1="788.2" y1="1189.09" x2="792.8" y2="1189.09" stroke="#3a3a3a" stroke-width="1" />
<line x1="1064.4" y1="1189.09" x2="1059.8" y2="1189.09" stroke="#3a3a3a" stroke-width="1" />
<line x1="1064.4" y1="1189.09" x2="1069" y2="1189.09" stroke="#3a3a3a" stroke-width="1" />
<line x1="1341" y1="1189.09" x2="1336.4" y2="1189.09" stroke="#3a3a3a" stroke-width="1" />
<line x1="788.2" y1="1185.51" x2="792.8" y2="1185.51" stroke="#3a3a3a" stroke-width="1" />
<line x1="1064.4" y1="1185.51" x2="1059.8" y2="1185.51" stroke="#3a3a3a" stroke-width="1" />
<line x1="1064.4" y1="1185.51" x2="1069" y2="1185.51" stroke="#3a3a3a" stroke-width="1" />
<line x1="1341" y1="1185.51" x2="1336.4" y2="1185.51" stroke="#3a3a3a" stroke-width="1" />
<line x1="788.2" y1="1182.48" x2="792.8" y2="1182.48" stroke="#3a3a3a" stroke-width="1" />
<line x1="1064.4" y1="1182.48" x2="1059.8" y2="1182.48" stroke="#3a3a3a" stroke-width="1" />
<line x1="1064.4" y1="1182.48" x2="1069" y2="1182.48" stroke="#3a3a3a" stroke-width="1" />
<line x1="1341" y1="1182.48" x2="1336.4" y2="1182.48" stroke="#3a3a3a" stroke-width="1" />
<line x1="788.2" y1="1179.85" x2="792.8" y2="1179.85" stroke="#3a3a3a" stroke-width="1" />
<line x1="1064.4" y1="1179.85" x2="1059.8" y2="1179.85" stroke="#3a3a3a" stroke-width="1" />
<line x1="1064.4" y1="1179.85" x2="1069" y2="1179.85" stroke="#3a3a3a" stroke-width="1" />
<line x1="1341" y1="1179.85" x2="1336.4" y2="1179.85" stroke="#3a3a3a" stroke-width="1" />
<line x1="788.2" y1="1177.53" x2="792.8" y2="1177.53" stroke="#3a3a3a" stroke-width="1" />
<line x1="1064.4" y1="1177.53" x2="1059.8" y2="1177.53" stroke="#3a3a3a" stroke-width="1" />
<line x1="1064.4" y1="1177.53" x2="1069" y2="1177.53" stroke="#3a3a3a" stroke-width="1" />
<line x1="1341" y1="1177.53" x2="1336.4" y2="1177.53" stroke="#3a3a3a" stroke-width="1" />
<line x1="788.2" y1="1175.46" x2="796.8" y2="1175.46" stroke="#3a3a3a" stroke-width="1.1" />
<line x1="1064.4" y1="1175.46" x2="1055.8" y2="1175.46" stroke="#3a3a3a" stroke-width="1.1" />
<line x1="1064.4" y1="1175.46" x2="1073" y2="1175.46" stroke="#3a3a3a" stroke-width="1.1" />
<line x1="1341" y1="1175.46" x2="1332.4" y2="1175.46" stroke="#3a3a3a" stroke-width="1.1" />
<line x1="788.2" y1="1161.83" x2="792.8" y2="1161.83" stroke="#3a3a3a" stroke-width="1" />
<line x1="1064.4" y1="1161.83" x2="1059.8" y2="1161.83" stroke="#3a3a3a" stroke-width="1" />
<line x1="1064.4" y1="1161.83" x2="1069" y2="1161.83" stroke="#3a3a3a" stroke-width="1" />
<line x1="1341" y1="1161.83" x2="1336.4" y2="1161.83" stroke="#3a3a3a" stroke-width="1" />
<line x1="788.2" y1="1153.85" x2="792.8" y2="1153.85" stroke="#3a3a3a" stroke-width="1" />
<line x1="1064.4" y1="1153.85" x2="1059.8" y2="1153.85" stroke="#3a3a3a" stroke-width="1" />
<line x1="1064.4" y1="1153.85" x2="1069" y2="1153.85" stroke="#3a3a3a" stroke-width="1" />
<line x1="1341" y1="1153.85" x2="1336.4" y2="1153.85" stroke="#3a3a3a" stroke-width="1" />
<line x1="788.2" y1="1148.19" x2="792.8" y2="1148.19" stroke="#3a3a3a" stroke-width="1" />
<line x1="1064.4" y1="1148.19" x2="1059.8" y2="1148.19" stroke="#3a3a3a" stroke-width="1" />
<line x1="1064.4" y1="1148.19" x2="1069" y2="1148.19" stroke="#3a3a3a" stroke-width="1" />
<line x1="1341" y1="1148.19" x2="1336.4" y2="1148.19" stroke="#3a3a3a" stroke-width="1" />
<line x1="788.2" y1="1143.8" x2="792.8" y2="1143.8" stroke="#3a3a3a" stroke-width="1" />
<line x1="1064.4" y1="1143.8" x2="1059.8" y2="1143.8" stroke="#3a3a3a" stroke-width="1" />
<line x1="1064.4" y1="1143.8" x2="1069" y2="1143.8" stroke="#3a3a3a" stroke-width="1" />
<line x1="1341" y1="1143.8" x2="1336.4" y2="1143.8" stroke="#3a3a3a" stroke-width="1" />
<line x1="788.2" y1="1140.22" x2="792.8" y2="1140.22" stroke="#3a3a3a" stroke-width="1" />
<line x1="1064.4" y1="1140.22" x2="1059.8" y2="1140.22" stroke="#3a3a3a" stroke-width="1" />
<line x1="1064.4" y1="1140.22" x2="1069" y2="1140.22" stroke="#3a3a3a" stroke-width="1" />
<line x1="1341" y1="1140.22" x2="1336.4" y2="1140.22" stroke="#3a3a3a" stroke-width="1" />
<line x1="788.2" y1="1137.19" x2="792.8" y2="1137.19" stroke="#3a3a3a" stroke-width="1" />
<line x1="1064.4" y1="1137.19" x2="1059.8" y2="1137.19" stroke="#3a3a3a" stroke-width="1" />
<line x1="1064.4" y1="1137.19" x2="1069" y2="1137.19" stroke="#3a3a3a" stroke-width="1" />
<line x1="1341" y1="1137.19" x2="1336.4" y2="1137.19" stroke="#3a3a3a" stroke-width="1" />
<line x1="788.2" y1="1134.56" x2="792.8" y2="1134.56" stroke="#3a3a3a" stroke-width="1" />
<line x1="1064.4" y1="1134.56" x2="1059.8" y2="1134.56" stroke="#3a3a3a" stroke-width="1" />
<line x1="1064.4" y1="1134.56" x2="1069" y2="1134.56" stroke="#3a3a3a" stroke-width="1" />
<line x1="1341" y1="1134.56" x2="1336.4" y2="1134.56" stroke="#3a3a3a" stroke-width="1" />
<line x1="788.2" y1="1132.24" x2="792.8" y2="1132.24" stroke="#3a3a3a" stroke-width="1" />
<line x1="1064.4" y1="1132.24" x2="1059.8" y2="1132.24" stroke="#3a3a3a" stroke-width="1" />
<line x1="1064.4" y1="1132.24" x2="1069" y2="1132.24" stroke="#3a3a3a" stroke-width="1" />
<line x1="1341" y1="1132.24" x2="1336.4" y2="1132.24" stroke="#3a3a3a" stroke-width="1" />
<line x1="788.2" y1="1130.17" x2="796.8" y2="1130.17" stroke="#3a3a3a" stroke-width="1.1" />
<line x1="1064.4" y1="1130.17" x2="1055.8" y2="1130.17" stroke="#3a3a3a" stroke-width="1.1" />
<line x1="1064.4" y1="1130.17" x2="1073" y2="1130.17" stroke="#3a3a3a" stroke-width="1.1" />
<line x1="1341" y1="1130.17" x2="1332.4" y2="1130.17" stroke="#3a3a3a" stroke-width="1.1" />
<line x1="788.2" y1="1116.54" x2="792.8" y2="1116.54" stroke="#3a3a3a" stroke-width="1" />
<line x1="1064.4" y1="1116.54" x2="1059.8" y2="1116.54" stroke="#3a3a3a" stroke-width="1" />
<line x1="1064.4" y1="1116.54" x2="1069" y2="1116.54" stroke="#3a3a3a" stroke-width="1" />
<line x1="1341" y1="1116.54" x2="1336.4" y2="1116.54" stroke="#3a3a3a" stroke-width="1" />
<line x1="788.2" y1="1108.56" x2="792.8" y2="1108.56" stroke="#3a3a3a" stroke-width="1" />
<line x1="1064.4" y1="1108.56" x2="1059.8" y2="1108.56" stroke="#3a3a3a" stroke-width="1" />
<line x1="1064.4" y1="1108.56" x2="1069" y2="1108.56" stroke="#3a3a3a" stroke-width="1" />
<line x1="1341" y1="1108.56" x2="1336.4" y2="1108.56" stroke="#3a3a3a" stroke-width="1" />
<line x1="788.2" y1="1102.9" x2="792.8" y2="1102.9" stroke="#3a3a3a" stroke-width="1" />
<line x1="1064.4" y1="1102.9" x2="1059.8" y2="1102.9" stroke="#3a3a3a" stroke-width="1" />
<line x1="1064.4" y1="1102.9" x2="1069" y2="1102.9" stroke="#3a3a3a" stroke-width="1" />
<line x1="1341" y1="1102.9" x2="1336.4" y2="1102.9" stroke="#3a3a3a" stroke-width="1" />
<line x1="788.2" y1="1098.51" x2="792.8" y2="1098.51" stroke="#3a3a3a" stroke-width="1" />
<line x1="1064.4" y1="1098.51" x2="1059.8" y2="1098.51" stroke="#3a3a3a" stroke-width="1" />
<line x1="1064.4" y1="1098.51" x2="1069" y2="1098.51" stroke="#3a3a3a" stroke-width="1" />
<line x1="1341" y1="1098.51" x2="1336.4" y2="1098.51" stroke="#3a3a3a" stroke-width="1" />
<line x1="788.2" y1="1094.93" x2="792.8" y2="1094.93" stroke="#3a3a3a" stroke-width="1" />
<line x1="1064.4" y1="1094.93" x2="1059.8" y2="1094.93" stroke="#3a3a3a" stroke-width="1" />
<line x1="1064.4" y1="1094.93" x2="1069" y2="1094.93" stroke="#3a3a3a" stroke-width="1" />
<line x1="1341" y1="1094.93" x2="1336.4" y2="1094.93" stroke="#3a3a3a" stroke-width="1" />
<line x1="788.2" y1="1091.9" x2="792.8" y2="1091.9" stroke="#3a3a3a" stroke-width="1" />
<line x1="1064.4" y1="1091.9" x2="1059.8" y2="1091.9" stroke="#3a3a3a" stroke-width="1" />
<line x1="1064.4" y1="1091.9" x2="1069" y2="1091.9" stroke="#3a3a3a" stroke-width="1" />
<line x1="1341" y1="1091.9" x2="1336.4" y2="1091.9" stroke="#3a3a3a" stroke-width="1" />
<line x1="788.2" y1="1089.27" x2="792.8" y2="1089.27" stroke="#3a3a3a" stroke-width="1" />
<line x1="1064.4" y1="1089.27" x2="1059.8" y2="1089.27" stroke="#3a3a3a" stroke-width="1" />
<line x1="1064.4" y1="1089.27" x2="1069" y2="1089.27" stroke="#3a3a3a" stroke-width="1" />
<line x1="1341" y1="1089.27" x2="1336.4" y2="1089.27" stroke="#3a3a3a" stroke-width="1" />
<line x1="788.2" y1="1086.95" x2="792.8" y2="1086.95" stroke="#3a3a3a" stroke-width="1" />
<line x1="1064.4" y1="1086.95" x2="1059.8" y2="1086.95" stroke="#3a3a3a" stroke-width="1" />
<line x1="1064.4" y1="1086.95" x2="1069" y2="1086.95" stroke="#3a3a3a" stroke-width="1" />
<line x1="1341" y1="1086.95" x2="1336.4" y2="1086.95" stroke="#3a3a3a" stroke-width="1" />
<line x1="788.2" y1="1084.88" x2="796.8" y2="1084.88" stroke="#3a3a3a" stroke-width="1.1" />
<line x1="1064.4" y1="1084.88" x2="1055.8" y2="1084.88" stroke="#3a3a3a" stroke-width="1.1" />
<line x1="1064.4" y1="1084.88" x2="1073" y2="1084.88" stroke="#3a3a3a" stroke-width="1.1" />
<line x1="1341" y1="1084.88" x2="1332.4" y2="1084.88" stroke="#3a3a3a" stroke-width="1.1" />
<line x1="788.2" y1="1071.25" x2="792.8" y2="1071.25" stroke="#3a3a3a" stroke-width="1" />
<line x1="1064.4" y1="1071.25" x2="1059.8" y2="1071.25" stroke="#3a3a3a" stroke-width="1" />
<line x1="1064.4" y1="1071.25" x2="1069" y2="1071.25" stroke="#3a3a3a" stroke-width="1" />
<line x1="1341" y1="1071.25" x2="1336.4" y2="1071.25" stroke="#3a3a3a" stroke-width="1" />
<line x1="788.2" y1="1063.27" x2="792.8" y2="1063.27" stroke="#3a3a3a" stroke-width="1" />
<line x1="1064.4" y1="1063.27" x2="1059.8" y2="1063.27" stroke="#3a3a3a" stroke-width="1" />
<line x1="1064.4" y1="1063.27" x2="1069" y2="1063.27" stroke="#3a3a3a" stroke-width="1" />
<line x1="1341" y1="1063.27" x2="1336.4" y2="1063.27" stroke="#3a3a3a" stroke-width="1" />
<line x1="788.2" y1="1057.61" x2="792.8" y2="1057.61" stroke="#3a3a3a" stroke-width="1" />
<line x1="1064.4" y1="1057.61" x2="1059.8" y2="1057.61" stroke="#3a3a3a" stroke-width="1" />
<line x1="1064.4" y1="1057.61" x2="1069" y2="1057.61" stroke="#3a3a3a" stroke-width="1" />
<line x1="1341" y1="1057.61" x2="1336.4" y2="1057.61" stroke="#3a3a3a" stroke-width="1" />
<line x1="788.2" y1="1053.22" x2="792.8" y2="1053.22" stroke="#3a3a3a" stroke-width="1" />
<line x1="1064.4" y1="1053.22" x2="1059.8" y2="1053.22" stroke="#3a3a3a" stroke-width="1" />
<line x1="1064.4" y1="1053.22" x2="1069" y2="1053.22" stroke="#3a3a3a" stroke-width="1" />
<line x1="1341" y1="1053.22" x2="1336.4" y2="1053.22" stroke="#3a3a3a" stroke-width="1" />
<line x1="788.2" y1="1049.64" x2="792.8" y2="1049.64" stroke="#3a3a3a" stroke-width="1" />
<line x1="1064.4" y1="1049.64" x2="1059.8" y2="1049.64" stroke="#3a3a3a" stroke-width="1" />
<line x1="1064.4" y1="1049.64" x2="1069" y2="1049.64" stroke="#3a3a3a" stroke-width="1" />
<line x1="1341" y1="1049.64" x2="1336.4" y2="1049.64" stroke="#3a3a3a" stroke-width="1" />
<line x1="788.2" y1="1046.61" x2="792.8" y2="1046.61" stroke="#3a3a3a" stroke-width="1" />
<line x1="1064.4" y1="1046.61" x2="1059.8" y2="1046.61" stroke="#3a3a3a" stroke-width="1" />
<line x1="1064.4" y1="1046.61" x2="1069" y2="1046.61" stroke="#3a3a3a" stroke-width="1" />
<line x1="1341" y1="1046.61" x2="1336.4" y2="1046.61" stroke="#3a3a3a" stroke-width="1" />
<line x1="788.2" y1="1043.98" x2="792.8" y2="1043.98" stroke="#3a3a3a" stroke-width="1" />
<line x1="1064.4" y1="1043.98" x2="1059.8" y2="1043.98" stroke="#3a3a3a" stroke-width="1" />
<line x1="1064.4" y1="1043.98" x2="1069" y2="1043.98" stroke="#3a3a3a" stroke-width="1" />
<line x1="1341" y1="1043.98" x2="1336.4" y2="1043.98" stroke="#3a3a3a" stroke-width="1" />
<line x1="788.2" y1="1041.66" x2="792.8" y2="1041.66" stroke="#3a3a3a" stroke-width="1" />
<line x1="1064.4" y1="1041.66" x2="1059.8" y2="1041.66" stroke="#3a3a3a" stroke-width="1" />
<line x1="1064.4" y1="1041.66" x2="1069" y2="1041.66" stroke="#3a3a3a" stroke-width="1" />
<line x1="1341" y1="1041.66" x2="1336.4" y2="1041.66" stroke="#3a3a3a" stroke-width="1" />
<line x1="788.2" y1="1039.59" x2="796.8" y2="1039.59" stroke="#3a3a3a" stroke-width="1.1" />
<line x1="1064.4" y1="1039.59" x2="1055.8" y2="1039.59" stroke="#3a3a3a" stroke-width="1.1" />
<line x1="1064.4" y1="1039.59" x2="1073" y2="1039.59" stroke="#3a3a3a" stroke-width="1.1" />
<line x1="1341" y1="1039.59" x2="1332.4" y2="1039.59" stroke="#3a3a3a" stroke-width="1.1" />
<line x1="788.2" y1="1025.96" x2="792.8" y2="1025.96" stroke="#3a3a3a" stroke-width="1" />
<line x1="1064.4" y1="1025.96" x2="1059.8" y2="1025.96" stroke="#3a3a3a" stroke-width="1" />
<line x1="1064.4" y1="1025.96" x2="1069" y2="1025.96" stroke="#3a3a3a" stroke-width="1" />
<line x1="1341" y1="1025.96" x2="1336.4" y2="1025.96" stroke="#3a3a3a" stroke-width="1" />
<line x1="788.2" y1="1017.98" x2="792.8" y2="1017.98" stroke="#3a3a3a" stroke-width="1" />
<line x1="1064.4" y1="1017.98" x2="1059.8" y2="1017.98" stroke="#3a3a3a" stroke-width="1" />
<line x1="1064.4" y1="1017.98" x2="1069" y2="1017.98" stroke="#3a3a3a" stroke-width="1" />
<line x1="1341" y1="1017.98" x2="1336.4" y2="1017.98" stroke="#3a3a3a" stroke-width="1" />
<line x1="788.2" y1="1012.32" x2="792.8" y2="1012.32" stroke="#3a3a3a" stroke-width="1" />
<line x1="1064.4" y1="1012.32" x2="1059.8" y2="1012.32" stroke="#3a3a3a" stroke-width="1" />
<line x1="1064.4" y1="1012.32" x2="1069" y2="1012.32" stroke="#3a3a3a" stroke-width="1" />
<line x1="1341" y1="1012.32" x2="1336.4" y2="1012.32" stroke="#3a3a3a" stroke-width="1" />
<line x1="788.2" y1="1007.93" x2="792.8" y2="1007.93" stroke="#3a3a3a" stroke-width="1" />
<line x1="1064.4" y1="1007.93" x2="1059.8" y2="1007.93" stroke="#3a3a3a" stroke-width="1" />
<line x1="1064.4" y1="1007.93" x2="1069" y2="1007.93" stroke="#3a3a3a" stroke-width="1" />
<line x1="1341" y1="1007.93" x2="1336.4" y2="1007.93" stroke="#3a3a3a" stroke-width="1" />
<line x1="788.2" y1="1004.35" x2="792.8" y2="1004.35" stroke="#3a3a3a" stroke-width="1" />
<line x1="1064.4" y1="1004.35" x2="1059.8" y2="1004.35" stroke="#3a3a3a" stroke-width="1" />
<line x1="1064.4" y1="1004.35" x2="1069" y2="1004.35" stroke="#3a3a3a" stroke-width="1" />
<line x1="1341" y1="1004.35" x2="1336.4" y2="1004.35" stroke="#3a3a3a" stroke-width="1" />
<line x1="788.2" y1="1001.32" x2="792.8" y2="1001.32" stroke="#3a3a3a" stroke-width="1" />
<line x1="1064.4" y1="1001.32" x2="1059.8" y2="1001.32" stroke="#3a3a3a" stroke-width="1" />
<line x1="1064.4" y1="1001.32" x2="1069" y2="1001.32" stroke="#3a3a3a" stroke-width="1" />
<line x1="1341" y1="1001.32" x2="1336.4" y2="1001.32" stroke="#3a3a3a" stroke-width="1" />
<line x1="788.2" y1="998.69" x2="792.8" y2="998.69" stroke="#3a3a3a" stroke-width="1" />
<line x1="1064.4" y1="998.69" x2="1059.8" y2="998.69" stroke="#3a3a3a" stroke-width="1" />
<line x1="1064.4" y1="998.69" x2="1069" y2="998.69" stroke="#3a3a3a" stroke-width="1" />
<line x1="1341" y1="998.69" x2="1336.4" y2="998.69" stroke="#3a3a3a" stroke-width="1" />
<line x1="788.2" y1="996.37" x2="792.8" y2="996.37" stroke="#3a3a3a" stroke-width="1" />
<line x1="1064.4" y1="996.37" x2="1059.8" y2="996.37" stroke="#3a3a3a" stroke-width="1" />
<line x1="1064.4" y1="996.37" x2="1069" y2="996.37" stroke="#3a3a3a" stroke-width="1" />
<line x1="1341" y1="996.37" x2="1336.4" y2="996.37" stroke="#3a3a3a" stroke-width="1" />
<line x1="788.2" y1="994.3" x2="796.8" y2="994.3" stroke="#3a3a3a" stroke-width="1.1" />
<line x1="1064.4" y1="994.3" x2="1055.8" y2="994.3" stroke="#3a3a3a" stroke-width="1.1" />
<line x1="1064.4" y1="994.3" x2="1073" y2="994.3" stroke="#3a3a3a" stroke-width="1.1" />
<line x1="1341" y1="994.3" x2="1332.4" y2="994.3" stroke="#3a3a3a" stroke-width="1.1" />
<line x1="834.23" y1="1447.2" x2="834.23" y2="1438.9" stroke="#3a3a3a" stroke-width="1.1" />
<line x1="834.23" y1="994.3" x2="834.23" y2="1002.6" stroke="#3a3a3a" stroke-width="1.1" />
<text x="834.23" y="1475.5" font-size="24.5" text-anchor="middle" fill="#000" >−20</text>
<line x1="926.3" y1="1447.2" x2="926.3" y2="1438.9" stroke="#3a3a3a" stroke-width="1.1" />
<line x1="926.3" y1="994.3" x2="926.3" y2="1002.6" stroke="#3a3a3a" stroke-width="1.1" />
<text x="926.3" y="1475.5" font-size="24.5" text-anchor="middle" fill="#000" >0</text>
<line x1="1018.37" y1="1447.2" x2="1018.37" y2="1438.9" stroke="#3a3a3a" stroke-width="1.1" />
<line x1="1018.37" y1="994.3" x2="1018.37" y2="1002.6" stroke="#3a3a3a" stroke-width="1.1" />
<text x="1018.37" y="1475.5" font-size="24.5" text-anchor="middle" fill="#000" >20</text>
<line x1="880.27" y1="1447.2" x2="880.27" y2="1442.9" stroke="#3a3a3a" stroke-width="1.1" />
<line x1="880.27" y1="994.3" x2="880.27" y2="998.6" stroke="#3a3a3a" stroke-width="1.1" />
<line x1="972.33" y1="1447.2" x2="972.33" y2="1442.9" stroke="#3a3a3a" stroke-width="1.1" />
<line x1="972.33" y1="994.3" x2="972.33" y2="998.6" stroke="#3a3a3a" stroke-width="1.1" />
<text x="927.3" y="1516.4" font-size="24.5" text-anchor="middle" fill="#000" ><tspan font-style="italic">V</tspan><tspan font-size="17" dy="7">Gate</tspan><tspan dy="-7"> (V)</tspan></text>
<line x1="1110.5" y1="1447.2" x2="1110.5" y2="1438.9" stroke="#3a3a3a" stroke-width="1.1" />
<line x1="1110.5" y1="994.3" x2="1110.5" y2="1002.6" stroke="#3a3a3a" stroke-width="1.1" />
<text x="1110.5" y="1475.5" font-size="24.5" text-anchor="middle" fill="#000" >−20</text>
<line x1="1202.7" y1="1447.2" x2="1202.7" y2="1438.9" stroke="#3a3a3a" stroke-width="1.1" />
<line x1="1202.7" y1="994.3" x2="1202.7" y2="1002.6" stroke="#3a3a3a" stroke-width="1.1" />
<text x="1202.7" y="1475.5" font-size="24.5" text-anchor="middle" fill="#000" >0</text>
<line x1="1294.9" y1="1447.2" x2="1294.9" y2="1438.9" stroke="#3a3a3a" stroke-width="1.1" />
<line x1="1294.9" y1="994.3" x2="1294.9" y2="1002.6" stroke="#3a3a3a" stroke-width="1.1" />
<text x="1294.9" y="1475.5" font-size="24.5" text-anchor="middle" fill="#000" >20</text>
<line x1="1156.6" y1="1447.2" x2="1156.6" y2="1442.9" stroke="#3a3a3a" stroke-width="1.1" />
<line x1="1156.6" y1="994.3" x2="1156.6" y2="998.6" stroke="#3a3a3a" stroke-width="1.1" />
<line x1="1248.8" y1="1447.2" x2="1248.8" y2="1442.9" stroke="#3a3a3a" stroke-width="1.1" />
<line x1="1248.8" y1="994.3" x2="1248.8" y2="998.6" stroke="#3a3a3a" stroke-width="1.1" />
<text x="1203.7" y="1516.4" font-size="24.5" text-anchor="middle" fill="#000" ><tspan font-style="italic">V</tspan><tspan font-size="17" dy="7">Gate</tspan><tspan dy="-7"> (V)</tspan></text>
<text x="778.4" y="1002.9" font-size="24.5" text-anchor="end" fill="#000" >10<tspan font-size="16.5" dy="-10">−4</tspan></text>
<text x="778.4" y="1093.48" font-size="24.5" text-anchor="end" fill="#000" >10<tspan font-size="16.5" dy="-10">−6</tspan></text>
<text x="778.4" y="1184.06" font-size="24.5" text-anchor="end" fill="#000" >10<tspan font-size="16.5" dy="-10">−8</tspan></text>
<text x="778.4" y="1274.64" font-size="24.5" text-anchor="end" fill="#000" >10<tspan font-size="16.5" dy="-10">−10</tspan></text>
<text x="778.4" y="1365.22" font-size="24.5" text-anchor="end" fill="#000" >10<tspan font-size="16.5" dy="-10">−12</tspan></text>
<text x="778.4" y="1455.8" font-size="24.5" text-anchor="end" fill="#000" >10<tspan font-size="16.5" dy="-10">−14</tspan></text>
<text x="0" y="0" font-size="24.5" text-anchor="middle" transform="translate(712.7 1221) rotate(-90)"><tspan font-style="italic">I</tspan><tspan font-size="16" dy="7">DS</tspan><tspan dy="-7"> (A)</tspan></text>
<text x="1068" y="976.7" font-size="20.5" text-anchor="middle" fill="#000" >Drain 1</text>
<text x="799.5" y="1427.3" font-size="24" text-anchor="start" fill="#000" ><tspan font-style="italic">V</tspan><tspan font-size="15.5" dy="6.5">DS</tspan><tspan dy="-6.5"> = 0.3 V</tspan></text>
<text x="1076.5" y="1427.3" font-size="24" text-anchor="start" fill="#000" ><tspan font-style="italic">V</tspan><tspan font-size="15.5" dy="6.5">DS</tspan><tspan dy="-6.5"> = -0.3 V</tspan></text>
<path d="M1519.18 1047.2 L1529.89 1047.22 L1540.6 1047.24 L1551.31 1047.26 L1562.02 1047.28 L1572.73 1047.3 L1583.44 1047.32 L1594.15 1047.34 L1604.86 1047.36 L1615.57 1047.38 L1626.28 1047.4 L1636.99 1047.42 L1647.7 1047.44 L1658.41 1047.46 L1669.12 1047.48 L1679.83 1047.5 L1690.54 1047.52 L1701.25 1047.54 L1711.96 1047.56 L1722.67 1047.58 L1733.38 1047.6 L1744.09 1047.62 L1754.8 1047.64 L1765.51 1047.66 L1776.22 1047.68 L1786.93 1047.7 L1797.64 1047.72 L1808.35 1047.74 L1819.06 1047.76 L1829.77 1047.78 L1840.48 1047.8 L1851.19 1047.82 L1861.9 1047.84 L1872.61 1047.86 L1883.32 1047.88 L1894.03 1047.9 L1904.74 1047.92 L1915.45 1047.94 L1926.16 1047.96 L1936.87 1047.98 L1947.58 1048" fill="none" stroke="#2b3564" stroke-width="2.2"/>
<path d="M1519.18 1055.8 L1529.89 1055.81 L1540.6 1055.82 L1551.31 1055.82 L1562.02 1055.83 L1572.73 1055.84 L1583.44 1055.85 L1594.15 1055.85 L1604.86 1055.86 L1615.57 1055.87 L1626.28 1055.88 L1636.99 1055.88 L1647.7 1055.89 L1658.41 1055.9 L1669.12 1055.9 L1679.83 1055.91 L1690.54 1055.92 L1701.25 1055.93 L1711.96 1055.93 L1722.67 1055.94 L1733.38 1055.95 L1744.09 1055.96 L1754.8 1055.96 L1765.51 1055.97 L1776.22 1055.98 L1786.93 1055.99 L1797.64 1055.99 L1808.35 1056 L1819.06 1056.01 L1829.77 1056.02 L1840.48 1056.02 L1851.19 1056.03 L1861.9 1056.04 L1872.61 1056.05 L1883.32 1056.05 L1894.03 1056.06 L1904.74 1056.07 L1915.45 1056.08 L1926.16 1056.08 L1936.87 1056.09 L1947.58 1056.1" fill="none" stroke="#9a1ad0" stroke-width="2.2"/>
<path d="M1519.18 1061.3 L1529.89 1061.3 L1540.6 1061.3 L1551.31 1061.3 L1562.02 1061.3 L1572.73 1061.3 L1583.44 1061.3 L1594.15 1061.3 L1604.86 1061.3 L1615.57 1061.3 L1626.28 1061.3 L1636.99 1061.3 L1647.7 1061.3 L1658.41 1061.3 L1669.12 1061.3 L1679.83 1061.3 L1690.54 1061.3 L1701.25 1061.3 L1711.96 1061.3 L1722.67 1061.3 L1733.38 1061.3 L1744.09 1061.3 L1754.8 1061.3 L1765.51 1061.3 L1776.22 1061.3 L1786.93 1061.3 L1797.64 1061.3 L1808.35 1061.3 L1819.06 1061.3 L1829.77 1061.3 L1840.48 1061.3 L1851.19 1061.3 L1861.9 1061.3 L1872.61 1061.3 L1883.32 1061.3 L1894.03 1061.3 L1904.74 1061.3 L1915.45 1061.3 L1926.16 1061.3 L1936.87 1061.3 L1947.58 1061.3" fill="none" stroke="#f01818" stroke-width="2.2"/>
<path d="M1519.18 1069.2 L1529.89 1069.28 L1540.6 1069.37 L1551.31 1069.45 L1562.02 1069.53 L1572.73 1069.61 L1583.44 1069.69 L1594.15 1069.78 L1604.86 1069.86 L1615.57 1069.94 L1626.28 1070.03 L1636.99 1070.11 L1647.7 1070.19 L1658.41 1070.27 L1669.12 1070.36 L1679.83 1070.44 L1690.54 1070.52 L1701.25 1070.6 L1711.96 1070.68 L1722.67 1070.77 L1733.38 1070.85 L1744.09 1070.93 L1754.8 1071.02 L1765.51 1071.1 L1776.22 1071.18 L1786.93 1071.26 L1797.64 1071.35 L1808.35 1071.43 L1819.06 1071.51 L1829.77 1071.59 L1840.48 1071.67 L1851.19 1071.76 L1861.9 1071.84 L1872.61 1071.92 L1883.32 1072.01 L1894.03 1072.09 L1904.74 1072.17 L1915.45 1072.25 L1926.16 1072.34 L1936.87 1072.42 L1947.58 1072.5" fill="none" stroke="#c8a818" stroke-width="2.2"/>
<path d="M1519.18 1081.2 L1529.89 1081.31 L1540.6 1081.42 L1551.31 1081.53 L1562.02 1081.64 L1572.73 1081.75 L1583.44 1081.86 L1594.15 1081.97 L1604.86 1082.08 L1615.57 1082.19 L1626.28 1082.3 L1636.99 1082.41 L1647.7 1082.52 L1658.41 1082.63 L1669.12 1082.74 L1679.83 1082.85 L1690.54 1082.96 L1701.25 1083.07 L1711.96 1083.18 L1722.67 1083.29 L1733.38 1083.4 L1744.09 1083.51 L1754.8 1083.62 L1765.51 1083.73 L1776.22 1083.84 L1786.93 1083.95 L1797.64 1084.06 L1808.35 1084.17 L1819.06 1084.28 L1829.77 1084.39 L1840.48 1084.5 L1851.19 1084.61 L1861.9 1084.72 L1872.61 1084.83 L1883.32 1084.94 L1894.03 1085.05 L1904.74 1085.16 L1915.45 1085.27 L1926.16 1085.38 L1936.87 1085.49 L1947.58 1085.6" fill="none" stroke="#1a6b62" stroke-width="2.2"/>
<path d="M1519.18 1093.4 L1529.89 1093.38 L1540.6 1093.35 L1551.31 1093.33 L1562.02 1093.3 L1572.73 1093.28 L1583.44 1093.25 L1594.15 1093.23 L1604.86 1093.2 L1615.57 1093.18 L1626.28 1093.15 L1636.99 1093.12 L1647.7 1093.1 L1658.41 1093.08 L1669.12 1093.05 L1679.83 1093.03 L1690.54 1093 L1701.25 1092.98 L1711.96 1092.95 L1722.67 1092.93 L1733.38 1092.9 L1744.09 1092.88 L1754.8 1092.85 L1765.51 1092.83 L1776.22 1092.8 L1786.93 1092.78 L1797.64 1092.75 L1808.35 1092.73 L1819.06 1092.7 L1829.77 1092.68 L1840.48 1092.65 L1851.19 1092.62 L1861.9 1092.6 L1872.61 1092.58 L1883.32 1092.55 L1894.03 1092.53 L1904.74 1092.5 L1915.45 1092.48 L1926.16 1092.45 L1936.87 1092.43 L1947.58 1092.4" fill="none" stroke="#2a8a68" stroke-width="2.2"/>
<path d="M1519.18 1100.2 L1529.89 1100.23 L1540.6 1100.26 L1551.31 1100.28 L1562.02 1100.31 L1572.73 1100.34 L1583.44 1100.37 L1594.15 1100.39 L1604.86 1100.42 L1615.57 1100.45 L1626.28 1100.47 L1636.99 1100.5 L1647.7 1100.53 L1658.41 1100.56 L1669.12 1100.59 L1679.83 1100.61 L1690.54 1100.64 L1701.25 1100.67 L1711.96 1100.69 L1722.67 1100.72 L1733.38 1100.75 L1744.09 1100.78 L1754.8 1100.81 L1765.51 1100.83 L1776.22 1100.86 L1786.93 1100.89 L1797.64 1100.91 L1808.35 1100.94 L1819.06 1100.97 L1829.77 1101 L1840.48 1101.03 L1851.19 1101.05 L1861.9 1101.08 L1872.61 1101.11 L1883.32 1101.13 L1894.03 1101.16 L1904.74 1101.19 L1915.45 1101.22 L1926.16 1101.24 L1936.87 1101.27 L1947.58 1101.3" fill="none" stroke="#2a1e58" stroke-width="2.2"/>
<path d="M1519.18 1114.3 L1529.89 1114.3 L1540.6 1114.3 L1551.31 1114.3 L1562.02 1114.3 L1572.73 1114.3 L1583.44 1114.3 L1594.15 1114.3 L1604.86 1114.3 L1615.57 1114.3 L1626.28 1114.3 L1636.99 1114.3 L1647.7 1114.3 L1658.41 1114.3 L1669.12 1114.3 L1679.83 1114.3 L1690.54 1114.3 L1701.25 1114.3 L1711.96 1114.3 L1722.67 1114.3 L1733.38 1114.3 L1744.09 1114.3 L1754.8 1114.3 L1765.51 1114.3 L1776.22 1114.3 L1786.93 1114.3 L1797.64 1114.3 L1808.35 1114.3 L1819.06 1114.3 L1829.77 1114.3 L1840.48 1114.3 L1851.19 1114.3 L1861.9 1114.3 L1872.61 1114.3 L1883.32 1114.3 L1894.03 1114.3 L1904.74 1114.3 L1915.45 1114.3 L1926.16 1114.3 L1936.87 1114.3 L1947.58 1114.3" fill="none" stroke="#000000" stroke-width="2.2"/>
<path d="M1519.18 1129.5 L1529.89 1129.52 L1540.6 1129.54 L1551.31 1129.55 L1562.02 1129.57 L1572.73 1129.59 L1583.44 1129.61 L1594.15 1129.62 L1604.86 1129.64 L1615.57 1129.66 L1626.28 1129.67 L1636.99 1129.69 L1647.7 1129.71 L1658.41 1129.73 L1669.12 1129.75 L1679.83 1129.76 L1690.54 1129.78 L1701.25 1129.8 L1711.96 1129.82 L1722.67 1129.83 L1733.38 1129.85 L1744.09 1129.87 L1754.8 1129.88 L1765.51 1129.9 L1776.22 1129.92 L1786.93 1129.94 L1797.64 1129.95 L1808.35 1129.97 L1819.06 1129.99 L1829.77 1130.01 L1840.48 1130.03 L1851.19 1130.04 L1861.9 1130.06 L1872.61 1130.08 L1883.32 1130.1 L1894.03 1130.11 L1904.74 1130.13 L1915.45 1130.15 L1926.16 1130.16 L1936.87 1130.18 L1947.58 1130.2" fill="none" stroke="#c8a818" stroke-width="2.2"/>
<path d="M1519.18 1141.5 L1529.89 1141.53 L1540.6 1141.55 L1551.31 1141.58 L1562.02 1141.6 L1572.73 1141.62 L1583.44 1141.65 L1594.15 1141.67 L1604.86 1141.7 L1615.57 1141.72 L1626.28 1141.75 L1636.99 1141.78 L1647.7 1141.8 L1658.41 1141.83 L1669.12 1141.85 L1679.83 1141.88 L1690.54 1141.9 L1701.25 1141.92 L1711.96 1141.95 L1722.67 1141.97 L1733.38 1142 L1744.09 1142.03 L1754.8 1142.05 L1765.51 1142.08 L1776.22 1142.1 L1786.93 1142.12 L1797.64 1142.15 L1808.35 1142.17 L1819.06 1142.2 L1829.77 1142.22 L1840.48 1142.25 L1851.19 1142.28 L1861.9 1142.3 L1872.61 1142.33 L1883.32 1142.35 L1894.03 1142.38 L1904.74 1142.4 L1915.45 1142.42 L1926.16 1142.45 L1936.87 1142.47 L1947.58 1142.5" fill="none" stroke="#8a12c8" stroke-width="2.2"/>
<path d="M1519.18 1161.3 L1529.89 1161.26 L1540.6 1161.22 L1551.31 1161.18 L1562.02 1161.14 L1572.73 1161.1 L1583.44 1161.06 L1594.15 1161.02 L1604.86 1160.98 L1615.57 1160.94 L1626.28 1160.9 L1636.99 1160.86 L1647.7 1160.82 L1658.41 1160.78 L1669.12 1160.74 L1679.83 1160.7 L1690.54 1160.66 L1701.25 1160.62 L1711.96 1160.58 L1722.67 1160.54 L1733.38 1160.5 L1744.09 1160.46 L1754.8 1160.42 L1765.51 1160.38 L1776.22 1160.34 L1786.93 1160.3 L1797.64 1160.26 L1808.35 1160.22 L1819.06 1160.18 L1829.77 1160.14 L1840.48 1160.1 L1851.19 1160.06 L1861.9 1160.02 L1872.61 1159.98 L1883.32 1159.94 L1894.03 1159.9 L1904.74 1159.86 L1915.45 1159.82 L1926.16 1159.78 L1936.87 1159.74 L1947.58 1159.7" fill="none" stroke="#1a4e62" stroke-width="2.2"/>
<path d="M1519.18 1179.6 L1529.89 1179.6 L1540.6 1179.6 L1551.31 1179.6 L1562.02 1179.6 L1572.73 1179.6 L1583.44 1179.6 L1594.15 1179.6 L1604.86 1179.6 L1615.57 1179.6 L1626.28 1179.6 L1636.99 1179.6 L1647.7 1179.6 L1658.41 1179.6 L1669.12 1179.6 L1679.83 1179.6 L1690.54 1179.6 L1701.25 1179.6 L1711.96 1179.6 L1722.67 1179.6 L1733.38 1179.6 L1744.09 1179.6 L1754.8 1179.6 L1765.51 1179.6 L1776.22 1179.6 L1786.93 1179.6 L1797.64 1179.6 L1808.35 1179.6 L1819.06 1179.6 L1829.77 1179.6 L1840.48 1179.6 L1851.19 1179.6 L1861.9 1179.6 L1872.61 1179.6 L1883.32 1179.6 L1894.03 1179.6 L1904.74 1179.6 L1915.45 1179.6 L1926.16 1179.6 L1936.87 1179.6 L1947.58 1179.6" fill="none" stroke="#1a6a68" stroke-width="2.2"/>
<path d="M1519.18 1191.6 L1529.89 1191.64 L1540.6 1191.69 L1551.31 1191.73 L1562.02 1191.78 L1572.73 1191.82 L1583.44 1191.87 L1594.15 1191.91 L1604.86 1191.96 L1615.57 1192 L1626.28 1192.05 L1636.99 1192.1 L1647.7 1192.14 L1658.41 1192.18 L1669.12 1192.23 L1679.83 1192.28 L1690.54 1192.32 L1701.25 1192.37 L1711.96 1192.41 L1722.67 1192.45 L1733.38 1192.5 L1744.09 1192.55 L1754.8 1192.59 L1765.51 1192.63 L1776.22 1192.68 L1786.93 1192.72 L1797.64 1192.77 L1808.35 1192.82 L1819.06 1192.86 L1829.77 1192.9 L1840.48 1192.95 L1851.19 1193 L1861.9 1193.04 L1872.61 1193.09 L1883.32 1193.13 L1894.03 1193.18 L1904.74 1193.22 L1915.45 1193.27 L1926.16 1193.31 L1936.87 1193.36 L1947.58 1193.4" fill="none" stroke="#2a3464" stroke-width="2.2"/>
<path d="M1519.18 1209.1 L1529.89 1209.12 L1540.6 1209.13 L1551.31 1209.15 L1562.02 1209.17 L1572.73 1209.19 L1583.44 1209.2 L1594.15 1209.22 L1604.86 1209.24 L1615.57 1209.26 L1626.28 1209.27 L1636.99 1209.29 L1647.7 1209.31 L1658.41 1209.33 L1669.12 1209.35 L1679.83 1209.36 L1690.54 1209.38 L1701.25 1209.4 L1711.96 1209.41 L1722.67 1209.43 L1733.38 1209.45 L1744.09 1209.47 L1754.8 1209.48 L1765.51 1209.5 L1776.22 1209.52 L1786.93 1209.54 L1797.64 1209.55 L1808.35 1209.57 L1819.06 1209.59 L1829.77 1209.61 L1840.48 1209.62 L1851.19 1209.64 L1861.9 1209.66 L1872.61 1209.68 L1883.32 1209.69 L1894.03 1209.71 L1904.74 1209.73 L1915.45 1209.75 L1926.16 1209.76 L1936.87 1209.78 L1947.58 1209.8" fill="none" stroke="#1a3e64" stroke-width="2.2"/>
<path d="M1519.18 1219.2 L1529.89 1219.2 L1540.6 1219.2 L1551.31 1219.2 L1562.02 1219.2 L1572.73 1219.2 L1583.44 1219.2 L1594.15 1219.2 L1604.86 1219.2 L1615.57 1219.2 L1626.28 1219.2 L1636.99 1219.2 L1647.7 1219.2 L1658.41 1219.2 L1669.12 1219.2 L1679.83 1219.2 L1690.54 1219.2 L1701.25 1219.2 L1711.96 1219.2 L1722.67 1219.2 L1733.38 1219.2 L1744.09 1219.2 L1754.8 1219.2 L1765.51 1219.2 L1776.22 1219.2 L1786.93 1219.2 L1797.64 1219.2 L1808.35 1219.2 L1819.06 1219.2 L1829.77 1219.2 L1840.48 1219.2 L1851.19 1219.2 L1861.9 1219.2 L1872.61 1219.2 L1883.32 1219.2 L1894.03 1219.2 L1904.74 1219.2 L1915.45 1219.2 L1926.16 1219.2 L1936.87 1219.2 L1947.58 1219.2" fill="none" stroke="#2a8a60" stroke-width="2.2"/>
<path d="M1519.18 1234.6 L1529.89 1234.6 L1540.6 1234.6 L1551.31 1234.6 L1562.02 1234.6 L1572.73 1234.6 L1583.44 1234.6 L1594.15 1234.6 L1604.86 1234.6 L1615.57 1234.6 L1626.28 1234.6 L1636.99 1234.6 L1647.7 1234.6 L1658.41 1234.6 L1669.12 1234.6 L1679.83 1234.6 L1690.54 1234.6 L1701.25 1234.6 L1711.96 1234.6 L1722.67 1234.6 L1733.38 1234.6 L1744.09 1234.6 L1754.8 1234.6 L1765.51 1234.6 L1776.22 1234.6 L1786.93 1234.6 L1797.64 1234.6 L1808.35 1234.6 L1819.06 1234.6 L1829.77 1234.6 L1840.48 1234.6 L1851.19 1234.6 L1861.9 1234.6 L1872.61 1234.6 L1883.32 1234.6 L1894.03 1234.6 L1904.74 1234.6 L1915.45 1234.6 L1926.16 1234.6 L1936.87 1234.6 L1947.58 1234.6" fill="none" stroke="#7a9a18" stroke-width="2.2"/>
<path d="M1519.18 1254.12 L1529.89 1254.24 L1540.6 1254.3 L1551.31 1254.44 L1562.02 1254.24 L1572.73 1254.42 L1583.44 1253.53 L1594.15 1253.97 L1604.86 1254.44 L1615.57 1254.15 L1626.28 1254.4 L1636.99 1253.61 L1647.7 1253.97 L1658.41 1253.75 L1669.12 1254.04 L1679.83 1254.07 L1690.54 1253.51 L1701.25 1253.72 L1711.96 1253.78 L1722.67 1254.42 L1733.38 1254.27 L1744.09 1253.66 L1754.8 1254.3 L1765.51 1253.64 L1776.22 1254.12 L1786.93 1253.63 L1797.64 1253.5 L1808.35 1254.37 L1819.06 1253.71 L1829.77 1253.72 L1840.48 1254.48 L1851.19 1254.37 L1861.9 1253.79 L1872.61 1254.46 L1883.32 1254.04 L1894.03 1254.18 L1904.74 1253.7 L1915.45 1254.44 L1926.16 1254.19 L1936.87 1254.47 L1947.58 1254.39" fill="none" stroke="#2a4a6a" stroke-width="2.2"/>
<path d="M1519.18 1265.2 L1529.89 1265.2 L1540.6 1265.2 L1551.31 1265.2 L1562.02 1265.2 L1572.73 1265.2 L1583.44 1265.2 L1594.15 1265.2 L1604.86 1265.2 L1615.57 1265.2 L1626.28 1265.2 L1636.99 1265.2 L1647.7 1265.2 L1658.41 1265.2 L1669.12 1265.2 L1679.83 1265.2 L1690.54 1265.2 L1701.25 1265.2 L1711.96 1265.2 L1722.67 1265.2 L1733.38 1265.2 L1744.09 1265.2 L1754.8 1265.2 L1765.51 1265.2 L1776.22 1265.2 L1786.93 1265.2 L1797.64 1265.2 L1808.35 1265.2 L1819.06 1265.2 L1829.77 1265.2 L1840.48 1265.2 L1851.19 1265.2 L1861.9 1265.2 L1872.61 1265.2 L1883.32 1265.2 L1894.03 1265.2 L1904.74 1265.2 L1915.45 1265.2 L1926.16 1265.2 L1936.87 1265.2 L1947.58 1265.2" fill="none" stroke="#48a848" stroke-width="2.2"/>
<path d="M1519.18 1288.4 L1524.54 1288.2 L1529.89 1288 L1535.25 1287.82 L1540.6 1287.63 L1545.96 1287.45 L1551.31 1287.28 L1556.67 1287.12 L1562.02 1286.95 L1567.38 1286.8 L1572.73 1286.65 L1578.09 1286.5 L1583.44 1286.36 L1588.8 1286.22 L1594.15 1286.08 L1599.51 1285.95 L1604.86 1285.83 L1610.22 1285.71 L1615.57 1285.59 L1620.93 1285.47 L1626.28 1285.36 L1631.64 1285.25 L1636.99 1285.15 L1642.35 1285.05 L1647.7 1284.95 L1653.06 1284.86 L1658.41 1284.76 L1663.77 1284.67 L1669.12 1284.59 L1674.48 1284.5 L1679.83 1284.42 L1685.19 1284.34 L1690.54 1284.27 L1695.9 1284.19 L1701.25 1284.12 L1706.61 1284.05 L1711.96 1283.99 L1717.32 1283.92 L1722.67 1283.86 L1728.03 1283.8 L1733.38 1283.74 L1738.74 1283.68 L1744.09 1283.62 L1749.45 1283.57 L1754.8 1283.52 L1760.16 1283.47 L1765.51 1283.42 L1770.87 1283.37 L1776.22 1283.32 L1781.58 1283.28 L1786.93 1283.23 L1792.29 1283.19 L1797.64 1283.15 L1803 1283.11 L1808.35 1283.07 L1813.71 1283.04 L1819.06 1283 L1824.42 1282.96 L1829.77 1282.93 L1835.13 1282.9 L1840.48 1282.87 L1845.84 1282.84 L1851.19 1282.81 L1856.55 1282.78 L1861.9 1282.75 L1867.26 1282.72 L1872.61 1282.69 L1877.97 1282.67 L1883.32 1282.64 L1888.68 1282.62 L1894.03 1282.6 L1899.39 1282.57 L1904.74 1282.55 L1910.1 1282.53 L1915.45 1282.51 L1920.81 1282.49 L1926.16 1282.47 L1931.52 1282.45 L1936.87 1282.43 L1942.23 1282.42 L1947.58 1282.4" fill="none" stroke="#1a4e5e" stroke-width="2.2" stroke-linejoin="round"/>
<path d="M1519.18 1319 L1524.54 1317.91 L1529.89 1316.89 L1535.25 1315.94 L1540.6 1315.06 L1545.96 1314.23 L1551.31 1313.46 L1556.67 1312.74 L1562.02 1312.07 L1567.38 1311.44 L1572.73 1310.86 L1578.09 1310.31 L1583.44 1309.8 L1588.8 1309.33 L1594.15 1308.89 L1599.51 1308.48 L1604.86 1308.09 L1610.22 1307.73 L1615.57 1307.4 L1620.93 1307.08 L1626.28 1306.79 L1631.64 1306.52 L1636.99 1306.27 L1642.35 1306.03 L1647.7 1305.81 L1653.06 1305.6 L1658.41 1305.41 L1663.77 1305.23 L1669.12 1305.06 L1674.48 1304.91 L1679.83 1304.76 L1685.19 1304.63 L1690.54 1304.5 L1695.9 1304.38 L1701.25 1304.27 L1706.61 1304.17 L1711.96 1304.07 L1717.32 1303.98 L1722.67 1303.9 L1728.03 1303.82 L1733.38 1303.75 L1738.74 1303.68 L1744.09 1303.62 L1749.45 1303.56 L1754.8 1303.5 L1760.16 1303.45 L1765.51 1303.4 L1770.87 1303.36 L1776.22 1303.32 L1781.58 1303.28 L1786.93 1303.24 L1792.29 1303.21 L1797.64 1303.18 L1803 1303.15 L1808.35 1303.12 L1813.71 1303.09 L1819.06 1303.07 L1824.42 1303.05 L1829.77 1303.03 L1835.13 1303.01 L1840.48 1302.99 L1845.84 1302.97 L1851.19 1302.96 L1856.55 1302.94 L1861.9 1302.93 L1867.26 1302.92 L1872.61 1302.9 L1877.97 1302.89 L1883.32 1302.88 L1888.68 1302.87 L1894.03 1302.86 L1899.39 1302.85 L1904.74 1302.85 L1910.1 1302.84 L1915.45 1302.83 L1920.81 1302.83 L1926.16 1302.82 L1931.52 1302.81 L1936.87 1302.81 L1942.23 1302.8 L1947.58 1302.8" fill="none" stroke="#48a030" stroke-width="2.2" stroke-linejoin="round"/>
<path d="M1519.18 1332.1 L1524.54 1329.86 L1529.89 1327.85 L1535.25 1326.03 L1540.6 1324.4 L1545.96 1322.92 L1551.31 1321.59 L1556.67 1320.4 L1562.02 1319.32 L1567.38 1318.35 L1572.73 1317.47 L1578.09 1316.68 L1583.44 1315.97 L1588.8 1315.33 L1594.15 1314.75 L1599.51 1314.23 L1604.86 1313.76 L1610.22 1313.34 L1615.57 1312.96 L1620.93 1312.62 L1626.28 1312.31 L1631.64 1312.03 L1636.99 1311.78 L1642.35 1311.55 L1647.7 1311.35 L1653.06 1311.17 L1658.41 1311 L1663.77 1310.85 L1669.12 1310.72 L1674.48 1310.6 L1679.83 1310.49 L1685.19 1310.39 L1690.54 1310.3 L1695.9 1310.22 L1701.25 1310.15 L1706.61 1310.08 L1711.96 1310.03 L1717.32 1309.97 L1722.67 1309.93 L1728.03 1309.88 L1733.38 1309.85 L1738.74 1309.81 L1744.09 1309.78 L1749.45 1309.75 L1754.8 1309.73 L1760.16 1309.7 L1765.51 1309.68 L1770.87 1309.66 L1776.22 1309.65 L1781.58 1309.63 L1786.93 1309.62 L1792.29 1309.61 L1797.64 1309.59 L1803 1309.59 L1808.35 1309.58 L1813.71 1309.57 L1819.06 1309.56 L1824.42 1309.55 L1829.77 1309.55 L1835.13 1309.54 L1840.48 1309.54 L1845.84 1309.53 L1851.19 1309.53 L1856.55 1309.53 L1861.9 1309.52 L1867.26 1309.52 L1872.61 1309.52 L1877.97 1309.52 L1883.32 1309.51 L1888.68 1309.51 L1894.03 1309.51 L1899.39 1309.51 L1904.74 1309.51 L1910.1 1309.51 L1915.45 1309.5 L1920.81 1309.5 L1926.16 1309.5 L1931.52 1309.5 L1936.87 1309.5 L1942.23 1309.5 L1947.58 1309.5" fill="none" stroke="#8aa020" stroke-width="2.2" stroke-linejoin="round"/>
<path d="M1519.04 1390.99 L1532.59 1385.34 L1539.37 1384.66 L1548.4 1383.08 L1557.44 1381.05 L1564.21 1380.6 L1570.99 1378.34 L1577.77 1377.44 L1586.8 1375.63 L1595.84 1372.47 L1602.61 1371.56 L1609.39 1371.56 L1618.43 1371.11 L1627.46 1369.53 L1636.5 1368.17 L1645.53 1366.14 L1653.44 1364.56 L1657.96 1365.24 L1662.47 1366.82 L1668.12 1364.33 L1674.9 1361.17 L1683.93 1361.4 L1690.71 1359.82 L1699.74 1358.69 L1713.3 1357.78 L1722.33 1356.65 L1726.85 1355.53 L1731.37 1353.72 L1742.66 1353.04 L1747.18 1353.94 L1752.83 1355.53 L1758.48 1354.85 L1767.51 1352.59 L1776.55 1351.46 L1785.58 1350.1 L1799.13 1349.2 L1812.69 1348.75 L1826.24 1347.62 L1835.28 1347.17 L1848.83 1346.94 L1860.12 1346.26 L1871.42 1346.72 L1881.58 1344 L1894.01 1345.81 L1900.78 1343.1 L1912.08 1341.75 L1921.11 1343.1 L1932.41 1342.65 L1939.18 1342.2 L1948.22 1341.97" fill="none" stroke="#2a1a5c" stroke-width="2.2" stroke-linejoin="round"/>
<rect x="1472.9" y="993.7" width="513.2" height="453.3" fill="none" stroke="#3a3a3a" stroke-width="1.3" />
<line x1="1472.9" y1="1447" x2="1481.5" y2="1447" stroke="#3a3a3a" stroke-width="1.1" />
<line x1="1986.1" y1="1447" x2="1977.5" y2="1447" stroke="#3a3a3a" stroke-width="1.1" />
<line x1="1472.9" y1="1433.35" x2="1477.5" y2="1433.35" stroke="#3a3a3a" stroke-width="1" />
<line x1="1986.1" y1="1433.35" x2="1981.5" y2="1433.35" stroke="#3a3a3a" stroke-width="1" />
<line x1="1472.9" y1="1425.37" x2="1477.5" y2="1425.37" stroke="#3a3a3a" stroke-width="1" />
<line x1="1986.1" y1="1425.37" x2="1981.5" y2="1425.37" stroke="#3a3a3a" stroke-width="1" />
<line x1="1472.9" y1="1419.71" x2="1477.5" y2="1419.71" stroke="#3a3a3a" stroke-width="1" />
<line x1="1986.1" y1="1419.71" x2="1981.5" y2="1419.71" stroke="#3a3a3a" stroke-width="1" />
<line x1="1472.9" y1="1415.32" x2="1477.5" y2="1415.32" stroke="#3a3a3a" stroke-width="1" />
<line x1="1986.1" y1="1415.32" x2="1981.5" y2="1415.32" stroke="#3a3a3a" stroke-width="1" />
<line x1="1472.9" y1="1411.73" x2="1477.5" y2="1411.73" stroke="#3a3a3a" stroke-width="1" />
<line x1="1986.1" y1="1411.73" x2="1981.5" y2="1411.73" stroke="#3a3a3a" stroke-width="1" />
<line x1="1472.9" y1="1408.69" x2="1477.5" y2="1408.69" stroke="#3a3a3a" stroke-width="1" />
<line x1="1986.1" y1="1408.69" x2="1981.5" y2="1408.69" stroke="#3a3a3a" stroke-width="1" />
<line x1="1472.9" y1="1406.06" x2="1477.5" y2="1406.06" stroke="#3a3a3a" stroke-width="1" />
<line x1="1986.1" y1="1406.06" x2="1981.5" y2="1406.06" stroke="#3a3a3a" stroke-width="1" />
<line x1="1472.9" y1="1403.74" x2="1477.5" y2="1403.74" stroke="#3a3a3a" stroke-width="1" />
<line x1="1986.1" y1="1403.74" x2="1981.5" y2="1403.74" stroke="#3a3a3a" stroke-width="1" />
<line x1="1472.9" y1="1401.67" x2="1481.5" y2="1401.67" stroke="#3a3a3a" stroke-width="1.1" />
<line x1="1986.1" y1="1401.67" x2="1977.5" y2="1401.67" stroke="#3a3a3a" stroke-width="1.1" />
<line x1="1472.9" y1="1388.02" x2="1477.5" y2="1388.02" stroke="#3a3a3a" stroke-width="1" />
<line x1="1986.1" y1="1388.02" x2="1981.5" y2="1388.02" stroke="#3a3a3a" stroke-width="1" />
<line x1="1472.9" y1="1380.04" x2="1477.5" y2="1380.04" stroke="#3a3a3a" stroke-width="1" />
<line x1="1986.1" y1="1380.04" x2="1981.5" y2="1380.04" stroke="#3a3a3a" stroke-width="1" />
<line x1="1472.9" y1="1374.38" x2="1477.5" y2="1374.38" stroke="#3a3a3a" stroke-width="1" />
<line x1="1986.1" y1="1374.38" x2="1981.5" y2="1374.38" stroke="#3a3a3a" stroke-width="1" />
<line x1="1472.9" y1="1369.99" x2="1477.5" y2="1369.99" stroke="#3a3a3a" stroke-width="1" />
<line x1="1986.1" y1="1369.99" x2="1981.5" y2="1369.99" stroke="#3a3a3a" stroke-width="1" />
<line x1="1472.9" y1="1366.4" x2="1477.5" y2="1366.4" stroke="#3a3a3a" stroke-width="1" />
<line x1="1986.1" y1="1366.4" x2="1981.5" y2="1366.4" stroke="#3a3a3a" stroke-width="1" />
<line x1="1472.9" y1="1363.36" x2="1477.5" y2="1363.36" stroke="#3a3a3a" stroke-width="1" />
<line x1="1986.1" y1="1363.36" x2="1981.5" y2="1363.36" stroke="#3a3a3a" stroke-width="1" />
<line x1="1472.9" y1="1360.73" x2="1477.5" y2="1360.73" stroke="#3a3a3a" stroke-width="1" />
<line x1="1986.1" y1="1360.73" x2="1981.5" y2="1360.73" stroke="#3a3a3a" stroke-width="1" />
<line x1="1472.9" y1="1358.41" x2="1477.5" y2="1358.41" stroke="#3a3a3a" stroke-width="1" />
<line x1="1986.1" y1="1358.41" x2="1981.5" y2="1358.41" stroke="#3a3a3a" stroke-width="1" />
<line x1="1472.9" y1="1356.34" x2="1481.5" y2="1356.34" stroke="#3a3a3a" stroke-width="1.1" />
<line x1="1986.1" y1="1356.34" x2="1977.5" y2="1356.34" stroke="#3a3a3a" stroke-width="1.1" />
<line x1="1472.9" y1="1342.69" x2="1477.5" y2="1342.69" stroke="#3a3a3a" stroke-width="1" />
<line x1="1986.1" y1="1342.69" x2="1981.5" y2="1342.69" stroke="#3a3a3a" stroke-width="1" />
<line x1="1472.9" y1="1334.71" x2="1477.5" y2="1334.71" stroke="#3a3a3a" stroke-width="1" />
<line x1="1986.1" y1="1334.71" x2="1981.5" y2="1334.71" stroke="#3a3a3a" stroke-width="1" />
<line x1="1472.9" y1="1329.05" x2="1477.5" y2="1329.05" stroke="#3a3a3a" stroke-width="1" />
<line x1="1986.1" y1="1329.05" x2="1981.5" y2="1329.05" stroke="#3a3a3a" stroke-width="1" />
<line x1="1472.9" y1="1324.66" x2="1477.5" y2="1324.66" stroke="#3a3a3a" stroke-width="1" />
<line x1="1986.1" y1="1324.66" x2="1981.5" y2="1324.66" stroke="#3a3a3a" stroke-width="1" />
<line x1="1472.9" y1="1321.07" x2="1477.5" y2="1321.07" stroke="#3a3a3a" stroke-width="1" />
<line x1="1986.1" y1="1321.07" x2="1981.5" y2="1321.07" stroke="#3a3a3a" stroke-width="1" />
<line x1="1472.9" y1="1318.03" x2="1477.5" y2="1318.03" stroke="#3a3a3a" stroke-width="1" />
<line x1="1986.1" y1="1318.03" x2="1981.5" y2="1318.03" stroke="#3a3a3a" stroke-width="1" />
<line x1="1472.9" y1="1315.4" x2="1477.5" y2="1315.4" stroke="#3a3a3a" stroke-width="1" />
<line x1="1986.1" y1="1315.4" x2="1981.5" y2="1315.4" stroke="#3a3a3a" stroke-width="1" />
<line x1="1472.9" y1="1313.08" x2="1477.5" y2="1313.08" stroke="#3a3a3a" stroke-width="1" />
<line x1="1986.1" y1="1313.08" x2="1981.5" y2="1313.08" stroke="#3a3a3a" stroke-width="1" />
<line x1="1472.9" y1="1311.01" x2="1481.5" y2="1311.01" stroke="#3a3a3a" stroke-width="1.1" />
<line x1="1986.1" y1="1311.01" x2="1977.5" y2="1311.01" stroke="#3a3a3a" stroke-width="1.1" />
<line x1="1472.9" y1="1297.36" x2="1477.5" y2="1297.36" stroke="#3a3a3a" stroke-width="1" />
<line x1="1986.1" y1="1297.36" x2="1981.5" y2="1297.36" stroke="#3a3a3a" stroke-width="1" />
<line x1="1472.9" y1="1289.38" x2="1477.5" y2="1289.38" stroke="#3a3a3a" stroke-width="1" />
<line x1="1986.1" y1="1289.38" x2="1981.5" y2="1289.38" stroke="#3a3a3a" stroke-width="1" />
<line x1="1472.9" y1="1283.72" x2="1477.5" y2="1283.72" stroke="#3a3a3a" stroke-width="1" />
<line x1="1986.1" y1="1283.72" x2="1981.5" y2="1283.72" stroke="#3a3a3a" stroke-width="1" />
<line x1="1472.9" y1="1279.33" x2="1477.5" y2="1279.33" stroke="#3a3a3a" stroke-width="1" />
<line x1="1986.1" y1="1279.33" x2="1981.5" y2="1279.33" stroke="#3a3a3a" stroke-width="1" />
<line x1="1472.9" y1="1275.74" x2="1477.5" y2="1275.74" stroke="#3a3a3a" stroke-width="1" />
<line x1="1986.1" y1="1275.74" x2="1981.5" y2="1275.74" stroke="#3a3a3a" stroke-width="1" />
<line x1="1472.9" y1="1272.7" x2="1477.5" y2="1272.7" stroke="#3a3a3a" stroke-width="1" />
<line x1="1986.1" y1="1272.7" x2="1981.5" y2="1272.7" stroke="#3a3a3a" stroke-width="1" />
<line x1="1472.9" y1="1270.07" x2="1477.5" y2="1270.07" stroke="#3a3a3a" stroke-width="1" />
<line x1="1986.1" y1="1270.07" x2="1981.5" y2="1270.07" stroke="#3a3a3a" stroke-width="1" />
<line x1="1472.9" y1="1267.75" x2="1477.5" y2="1267.75" stroke="#3a3a3a" stroke-width="1" />
<line x1="1986.1" y1="1267.75" x2="1981.5" y2="1267.75" stroke="#3a3a3a" stroke-width="1" />
<line x1="1472.9" y1="1265.68" x2="1481.5" y2="1265.68" stroke="#3a3a3a" stroke-width="1.1" />
<line x1="1986.1" y1="1265.68" x2="1977.5" y2="1265.68" stroke="#3a3a3a" stroke-width="1.1" />
<line x1="1472.9" y1="1252.03" x2="1477.5" y2="1252.03" stroke="#3a3a3a" stroke-width="1" />
<line x1="1986.1" y1="1252.03" x2="1981.5" y2="1252.03" stroke="#3a3a3a" stroke-width="1" />
<line x1="1472.9" y1="1244.05" x2="1477.5" y2="1244.05" stroke="#3a3a3a" stroke-width="1" />
<line x1="1986.1" y1="1244.05" x2="1981.5" y2="1244.05" stroke="#3a3a3a" stroke-width="1" />
<line x1="1472.9" y1="1238.39" x2="1477.5" y2="1238.39" stroke="#3a3a3a" stroke-width="1" />
<line x1="1986.1" y1="1238.39" x2="1981.5" y2="1238.39" stroke="#3a3a3a" stroke-width="1" />
<line x1="1472.9" y1="1234" x2="1477.5" y2="1234" stroke="#3a3a3a" stroke-width="1" />
<line x1="1986.1" y1="1234" x2="1981.5" y2="1234" stroke="#3a3a3a" stroke-width="1" />
<line x1="1472.9" y1="1230.41" x2="1477.5" y2="1230.41" stroke="#3a3a3a" stroke-width="1" />
<line x1="1986.1" y1="1230.41" x2="1981.5" y2="1230.41" stroke="#3a3a3a" stroke-width="1" />
<line x1="1472.9" y1="1227.37" x2="1477.5" y2="1227.37" stroke="#3a3a3a" stroke-width="1" />
<line x1="1986.1" y1="1227.37" x2="1981.5" y2="1227.37" stroke="#3a3a3a" stroke-width="1" />
<line x1="1472.9" y1="1224.74" x2="1477.5" y2="1224.74" stroke="#3a3a3a" stroke-width="1" />
<line x1="1986.1" y1="1224.74" x2="1981.5" y2="1224.74" stroke="#3a3a3a" stroke-width="1" />
<line x1="1472.9" y1="1222.42" x2="1477.5" y2="1222.42" stroke="#3a3a3a" stroke-width="1" />
<line x1="1986.1" y1="1222.42" x2="1981.5" y2="1222.42" stroke="#3a3a3a" stroke-width="1" />
<line x1="1472.9" y1="1220.35" x2="1481.5" y2="1220.35" stroke="#3a3a3a" stroke-width="1.1" />
<line x1="1986.1" y1="1220.35" x2="1977.5" y2="1220.35" stroke="#3a3a3a" stroke-width="1.1" />
<line x1="1472.9" y1="1206.7" x2="1477.5" y2="1206.7" stroke="#3a3a3a" stroke-width="1" />
<line x1="1986.1" y1="1206.7" x2="1981.5" y2="1206.7" stroke="#3a3a3a" stroke-width="1" />
<line x1="1472.9" y1="1198.72" x2="1477.5" y2="1198.72" stroke="#3a3a3a" stroke-width="1" />
<line x1="1986.1" y1="1198.72" x2="1981.5" y2="1198.72" stroke="#3a3a3a" stroke-width="1" />
<line x1="1472.9" y1="1193.06" x2="1477.5" y2="1193.06" stroke="#3a3a3a" stroke-width="1" />
<line x1="1986.1" y1="1193.06" x2="1981.5" y2="1193.06" stroke="#3a3a3a" stroke-width="1" />
<line x1="1472.9" y1="1188.67" x2="1477.5" y2="1188.67" stroke="#3a3a3a" stroke-width="1" />
<line x1="1986.1" y1="1188.67" x2="1981.5" y2="1188.67" stroke="#3a3a3a" stroke-width="1" />
<line x1="1472.9" y1="1185.08" x2="1477.5" y2="1185.08" stroke="#3a3a3a" stroke-width="1" />
<line x1="1986.1" y1="1185.08" x2="1981.5" y2="1185.08" stroke="#3a3a3a" stroke-width="1" />
<line x1="1472.9" y1="1182.04" x2="1477.5" y2="1182.04" stroke="#3a3a3a" stroke-width="1" />
<line x1="1986.1" y1="1182.04" x2="1981.5" y2="1182.04" stroke="#3a3a3a" stroke-width="1" />
<line x1="1472.9" y1="1179.41" x2="1477.5" y2="1179.41" stroke="#3a3a3a" stroke-width="1" />
<line x1="1986.1" y1="1179.41" x2="1981.5" y2="1179.41" stroke="#3a3a3a" stroke-width="1" />
<line x1="1472.9" y1="1177.09" x2="1477.5" y2="1177.09" stroke="#3a3a3a" stroke-width="1" />
<line x1="1986.1" y1="1177.09" x2="1981.5" y2="1177.09" stroke="#3a3a3a" stroke-width="1" />
<line x1="1472.9" y1="1175.02" x2="1481.5" y2="1175.02" stroke="#3a3a3a" stroke-width="1.1" />
<line x1="1986.1" y1="1175.02" x2="1977.5" y2="1175.02" stroke="#3a3a3a" stroke-width="1.1" />
<line x1="1472.9" y1="1161.37" x2="1477.5" y2="1161.37" stroke="#3a3a3a" stroke-width="1" />
<line x1="1986.1" y1="1161.37" x2="1981.5" y2="1161.37" stroke="#3a3a3a" stroke-width="1" />
<line x1="1472.9" y1="1153.39" x2="1477.5" y2="1153.39" stroke="#3a3a3a" stroke-width="1" />
<line x1="1986.1" y1="1153.39" x2="1981.5" y2="1153.39" stroke="#3a3a3a" stroke-width="1" />
<line x1="1472.9" y1="1147.73" x2="1477.5" y2="1147.73" stroke="#3a3a3a" stroke-width="1" />
<line x1="1986.1" y1="1147.73" x2="1981.5" y2="1147.73" stroke="#3a3a3a" stroke-width="1" />
<line x1="1472.9" y1="1143.34" x2="1477.5" y2="1143.34" stroke="#3a3a3a" stroke-width="1" />
<line x1="1986.1" y1="1143.34" x2="1981.5" y2="1143.34" stroke="#3a3a3a" stroke-width="1" />
<line x1="1472.9" y1="1139.75" x2="1477.5" y2="1139.75" stroke="#3a3a3a" stroke-width="1" />
<line x1="1986.1" y1="1139.75" x2="1981.5" y2="1139.75" stroke="#3a3a3a" stroke-width="1" />
<line x1="1472.9" y1="1136.71" x2="1477.5" y2="1136.71" stroke="#3a3a3a" stroke-width="1" />
<line x1="1986.1" y1="1136.71" x2="1981.5" y2="1136.71" stroke="#3a3a3a" stroke-width="1" />
<line x1="1472.9" y1="1134.08" x2="1477.5" y2="1134.08" stroke="#3a3a3a" stroke-width="1" />
<line x1="1986.1" y1="1134.08" x2="1981.5" y2="1134.08" stroke="#3a3a3a" stroke-width="1" />
<line x1="1472.9" y1="1131.76" x2="1477.5" y2="1131.76" stroke="#3a3a3a" stroke-width="1" />
<line x1="1986.1" y1="1131.76" x2="1981.5" y2="1131.76" stroke="#3a3a3a" stroke-width="1" />
<line x1="1472.9" y1="1129.69" x2="1481.5" y2="1129.69" stroke="#3a3a3a" stroke-width="1.1" />
<line x1="1986.1" y1="1129.69" x2="1977.5" y2="1129.69" stroke="#3a3a3a" stroke-width="1.1" />
<line x1="1472.9" y1="1116.04" x2="1477.5" y2="1116.04" stroke="#3a3a3a" stroke-width="1" />
<line x1="1986.1" y1="1116.04" x2="1981.5" y2="1116.04" stroke="#3a3a3a" stroke-width="1" />
<line x1="1472.9" y1="1108.06" x2="1477.5" y2="1108.06" stroke="#3a3a3a" stroke-width="1" />
<line x1="1986.1" y1="1108.06" x2="1981.5" y2="1108.06" stroke="#3a3a3a" stroke-width="1" />
<line x1="1472.9" y1="1102.4" x2="1477.5" y2="1102.4" stroke="#3a3a3a" stroke-width="1" />
<line x1="1986.1" y1="1102.4" x2="1981.5" y2="1102.4" stroke="#3a3a3a" stroke-width="1" />
<line x1="1472.9" y1="1098.01" x2="1477.5" y2="1098.01" stroke="#3a3a3a" stroke-width="1" />
<line x1="1986.1" y1="1098.01" x2="1981.5" y2="1098.01" stroke="#3a3a3a" stroke-width="1" />
<line x1="1472.9" y1="1094.42" x2="1477.5" y2="1094.42" stroke="#3a3a3a" stroke-width="1" />
<line x1="1986.1" y1="1094.42" x2="1981.5" y2="1094.42" stroke="#3a3a3a" stroke-width="1" />
<line x1="1472.9" y1="1091.38" x2="1477.5" y2="1091.38" stroke="#3a3a3a" stroke-width="1" />
<line x1="1986.1" y1="1091.38" x2="1981.5" y2="1091.38" stroke="#3a3a3a" stroke-width="1" />
<line x1="1472.9" y1="1088.75" x2="1477.5" y2="1088.75" stroke="#3a3a3a" stroke-width="1" />
<line x1="1986.1" y1="1088.75" x2="1981.5" y2="1088.75" stroke="#3a3a3a" stroke-width="1" />
<line x1="1472.9" y1="1086.43" x2="1477.5" y2="1086.43" stroke="#3a3a3a" stroke-width="1" />
<line x1="1986.1" y1="1086.43" x2="1981.5" y2="1086.43" stroke="#3a3a3a" stroke-width="1" />
<line x1="1472.9" y1="1084.36" x2="1481.5" y2="1084.36" stroke="#3a3a3a" stroke-width="1.1" />
<line x1="1986.1" y1="1084.36" x2="1977.5" y2="1084.36" stroke="#3a3a3a" stroke-width="1.1" />
<line x1="1472.9" y1="1070.71" x2="1477.5" y2="1070.71" stroke="#3a3a3a" stroke-width="1" />
<line x1="1986.1" y1="1070.71" x2="1981.5" y2="1070.71" stroke="#3a3a3a" stroke-width="1" />
<line x1="1472.9" y1="1062.73" x2="1477.5" y2="1062.73" stroke="#3a3a3a" stroke-width="1" />
<line x1="1986.1" y1="1062.73" x2="1981.5" y2="1062.73" stroke="#3a3a3a" stroke-width="1" />
<line x1="1472.9" y1="1057.07" x2="1477.5" y2="1057.07" stroke="#3a3a3a" stroke-width="1" />
<line x1="1986.1" y1="1057.07" x2="1981.5" y2="1057.07" stroke="#3a3a3a" stroke-width="1" />
<line x1="1472.9" y1="1052.68" x2="1477.5" y2="1052.68" stroke="#3a3a3a" stroke-width="1" />
<line x1="1986.1" y1="1052.68" x2="1981.5" y2="1052.68" stroke="#3a3a3a" stroke-width="1" />
<line x1="1472.9" y1="1049.09" x2="1477.5" y2="1049.09" stroke="#3a3a3a" stroke-width="1" />
<line x1="1986.1" y1="1049.09" x2="1981.5" y2="1049.09" stroke="#3a3a3a" stroke-width="1" />
<line x1="1472.9" y1="1046.05" x2="1477.5" y2="1046.05" stroke="#3a3a3a" stroke-width="1" />
<line x1="1986.1" y1="1046.05" x2="1981.5" y2="1046.05" stroke="#3a3a3a" stroke-width="1" />
<line x1="1472.9" y1="1043.42" x2="1477.5" y2="1043.42" stroke="#3a3a3a" stroke-width="1" />
<line x1="1986.1" y1="1043.42" x2="1981.5" y2="1043.42" stroke="#3a3a3a" stroke-width="1" />
<line x1="1472.9" y1="1041.1" x2="1477.5" y2="1041.1" stroke="#3a3a3a" stroke-width="1" />
<line x1="1986.1" y1="1041.1" x2="1981.5" y2="1041.1" stroke="#3a3a3a" stroke-width="1" />
<line x1="1472.9" y1="1039.03" x2="1481.5" y2="1039.03" stroke="#3a3a3a" stroke-width="1.1" />
<line x1="1986.1" y1="1039.03" x2="1977.5" y2="1039.03" stroke="#3a3a3a" stroke-width="1.1" />
<line x1="1472.9" y1="1025.38" x2="1477.5" y2="1025.38" stroke="#3a3a3a" stroke-width="1" />
<line x1="1986.1" y1="1025.38" x2="1981.5" y2="1025.38" stroke="#3a3a3a" stroke-width="1" />
<line x1="1472.9" y1="1017.4" x2="1477.5" y2="1017.4" stroke="#3a3a3a" stroke-width="1" />
<line x1="1986.1" y1="1017.4" x2="1981.5" y2="1017.4" stroke="#3a3a3a" stroke-width="1" />
<line x1="1472.9" y1="1011.74" x2="1477.5" y2="1011.74" stroke="#3a3a3a" stroke-width="1" />
<line x1="1986.1" y1="1011.74" x2="1981.5" y2="1011.74" stroke="#3a3a3a" stroke-width="1" />
<line x1="1472.9" y1="1007.35" x2="1477.5" y2="1007.35" stroke="#3a3a3a" stroke-width="1" />
<line x1="1986.1" y1="1007.35" x2="1981.5" y2="1007.35" stroke="#3a3a3a" stroke-width="1" />
<line x1="1472.9" y1="1003.76" x2="1477.5" y2="1003.76" stroke="#3a3a3a" stroke-width="1" />
<line x1="1986.1" y1="1003.76" x2="1981.5" y2="1003.76" stroke="#3a3a3a" stroke-width="1" />
<line x1="1472.9" y1="1000.72" x2="1477.5" y2="1000.72" stroke="#3a3a3a" stroke-width="1" />
<line x1="1986.1" y1="1000.72" x2="1981.5" y2="1000.72" stroke="#3a3a3a" stroke-width="1" />
<line x1="1472.9" y1="998.09" x2="1477.5" y2="998.09" stroke="#3a3a3a" stroke-width="1" />
<line x1="1986.1" y1="998.09" x2="1981.5" y2="998.09" stroke="#3a3a3a" stroke-width="1" />
<line x1="1472.9" y1="995.77" x2="1477.5" y2="995.77" stroke="#3a3a3a" stroke-width="1" />
<line x1="1986.1" y1="995.77" x2="1981.5" y2="995.77" stroke="#3a3a3a" stroke-width="1" />
<line x1="1472.9" y1="993.7" x2="1481.5" y2="993.7" stroke="#3a3a3a" stroke-width="1.1" />
<line x1="1986.1" y1="993.7" x2="1977.5" y2="993.7" stroke="#3a3a3a" stroke-width="1.1" />
<line x1="1514.9" y1="1447" x2="1514.9" y2="1438.7" stroke="#3a3a3a" stroke-width="1.1" />
<line x1="1514.9" y1="993.7" x2="1514.9" y2="1002" stroke="#3a3a3a" stroke-width="1.1" />
<text x="1514.9" y="1473.6" font-size="22.6" text-anchor="middle" fill="#000" >0</text>
<line x1="1600.58" y1="1447" x2="1600.58" y2="1438.7" stroke="#3a3a3a" stroke-width="1.1" />
<line x1="1600.58" y1="993.7" x2="1600.58" y2="1002" stroke="#3a3a3a" stroke-width="1.1" />
<text x="1600.58" y="1473.6" font-size="22.6" text-anchor="middle" fill="#000" >200</text>
<line x1="1686.26" y1="1447" x2="1686.26" y2="1438.7" stroke="#3a3a3a" stroke-width="1.1" />
<line x1="1686.26" y1="993.7" x2="1686.26" y2="1002" stroke="#3a3a3a" stroke-width="1.1" />
<text x="1686.26" y="1473.6" font-size="22.6" text-anchor="middle" fill="#000" >400</text>
<line x1="1771.94" y1="1447" x2="1771.94" y2="1438.7" stroke="#3a3a3a" stroke-width="1.1" />
<line x1="1771.94" y1="993.7" x2="1771.94" y2="1002" stroke="#3a3a3a" stroke-width="1.1" />
<text x="1771.94" y="1473.6" font-size="22.6" text-anchor="middle" fill="#000" >600</text>
<line x1="1857.62" y1="1447" x2="1857.62" y2="1438.7" stroke="#3a3a3a" stroke-width="1.1" />
<line x1="1857.62" y1="993.7" x2="1857.62" y2="1002" stroke="#3a3a3a" stroke-width="1.1" />
<text x="1857.62" y="1473.6" font-size="22.6" text-anchor="middle" fill="#000" >800</text>
<line x1="1943.3" y1="1447" x2="1943.3" y2="1438.7" stroke="#3a3a3a" stroke-width="1.1" />
<line x1="1943.3" y1="993.7" x2="1943.3" y2="1002" stroke="#3a3a3a" stroke-width="1.1" />
<text x="1943.3" y="1473.6" font-size="22.6" text-anchor="middle" fill="#000" >1000</text>
<line x1="1472.06" y1="1447" x2="1472.06" y2="1442.7" stroke="#3a3a3a" stroke-width="1.1" />
<line x1="1472.06" y1="993.7" x2="1472.06" y2="998" stroke="#3a3a3a" stroke-width="1.1" />
<line x1="1557.74" y1="1447" x2="1557.74" y2="1442.7" stroke="#3a3a3a" stroke-width="1.1" />
<line x1="1557.74" y1="993.7" x2="1557.74" y2="998" stroke="#3a3a3a" stroke-width="1.1" />
<line x1="1643.42" y1="1447" x2="1643.42" y2="1442.7" stroke="#3a3a3a" stroke-width="1.1" />
<line x1="1643.42" y1="993.7" x2="1643.42" y2="998" stroke="#3a3a3a" stroke-width="1.1" />
<line x1="1729.1" y1="1447" x2="1729.1" y2="1442.7" stroke="#3a3a3a" stroke-width="1.1" />
<line x1="1729.1" y1="993.7" x2="1729.1" y2="998" stroke="#3a3a3a" stroke-width="1.1" />
<line x1="1814.78" y1="1447" x2="1814.78" y2="1442.7" stroke="#3a3a3a" stroke-width="1.1" />
<line x1="1814.78" y1="993.7" x2="1814.78" y2="998" stroke="#3a3a3a" stroke-width="1.1" />
<line x1="1900.46" y1="1447" x2="1900.46" y2="1442.7" stroke="#3a3a3a" stroke-width="1.1" />
<line x1="1900.46" y1="993.7" x2="1900.46" y2="998" stroke="#3a3a3a" stroke-width="1.1" />
<line x1="1986.14" y1="1447" x2="1986.14" y2="1442.7" stroke="#3a3a3a" stroke-width="1.1" />
<line x1="1986.14" y1="993.7" x2="1986.14" y2="998" stroke="#3a3a3a" stroke-width="1.1" />
<text x="1463.3" y="1001.7" font-size="22.6" text-anchor="end" fill="#000" >10<tspan font-size="15" dy="-9.5">−4</tspan></text>
<text x="1463.3" y="1092.36" font-size="22.6" text-anchor="end" fill="#000" >10<tspan font-size="15" dy="-9.5">−6</tspan></text>
<text x="1463.3" y="1183.02" font-size="22.6" text-anchor="end" fill="#000" >10<tspan font-size="15" dy="-9.5">−8</tspan></text>
<text x="1463.3" y="1273.68" font-size="22.6" text-anchor="end" fill="#000" >10<tspan font-size="15" dy="-9.5">−10</tspan></text>
<text x="1463.3" y="1364.34" font-size="22.6" text-anchor="end" fill="#000" >10<tspan font-size="15" dy="-9.5">−12</tspan></text>
<text x="1463.3" y="1455" font-size="22.6" text-anchor="end" fill="#000" >10<tspan font-size="15" dy="-9.5">−14</tspan></text>
<text x="1730" y="1510.3" font-size="23.3" text-anchor="middle" fill="#000" >Time (s)</text>
<text x="1738.5" y="983.4" font-size="20.5" text-anchor="middle" fill="#000" ><tspan font-style="italic">V</tspan><tspan font-size="14" dy="5.5">DS</tspan><tspan dy="-5.5">= -0.2 V</tspan></text>
<text x="0" y="0" font-size="23.8" text-anchor="middle" transform="translate(1399 1221) rotate(-90)"><tspan font-style="italic">I</tspan><tspan font-size="16" dy="7">DS</tspan><tspan dy="-7"> (A)</tspan></text>
</svg>
</body></html>
